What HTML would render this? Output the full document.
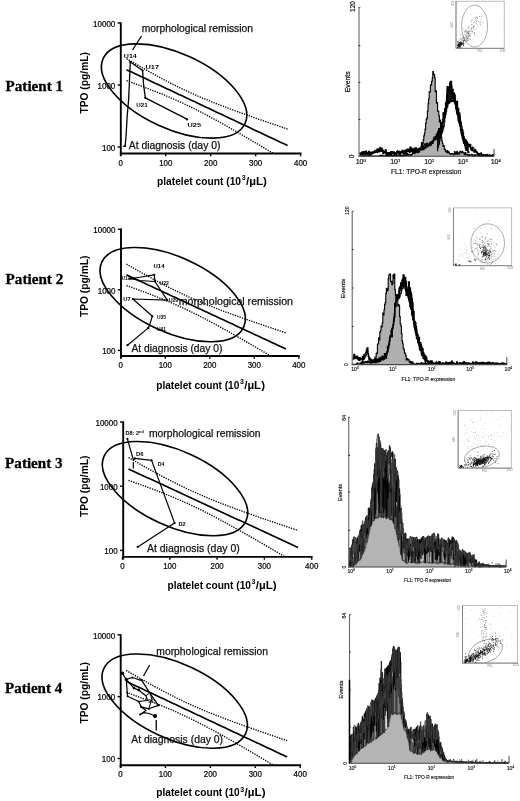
<!DOCTYPE html>
<html><head><meta charset="utf-8"><style>
html,body{margin:0;padding:0;background:#fff;}
svg{display:block;will-change:transform;filter:blur(0.3px);}
</style></head><body>
<svg width="520" height="801" viewBox="0 0 520 801">
<rect width="520" height="801" fill="#fff"/>
<text x="5.60" y="90.60" font-family='"Liberation Serif", serif' font-size="15.3" font-weight="bold" text-anchor="start" fill="#000" textLength="57.4" lengthAdjust="spacingAndGlyphs" stroke="#000" stroke-width="0.3">Patient 1</text>
<text x="5.60" y="283.50" font-family='"Liberation Serif", serif' font-size="15.3" font-weight="bold" text-anchor="start" fill="#000" textLength="57.7" lengthAdjust="spacingAndGlyphs" stroke="#000" stroke-width="0.3">Patient 2</text>
<text x="5.10" y="467.90" font-family='"Liberation Serif", serif' font-size="15.3" font-weight="bold" text-anchor="start" fill="#000" textLength="57.5" lengthAdjust="spacingAndGlyphs" stroke="#000" stroke-width="0.3">Patient 3</text>
<text x="5.10" y="692.60" font-family='"Liberation Serif", serif' font-size="15.3" font-weight="bold" text-anchor="start" fill="#000" textLength="57.1" lengthAdjust="spacingAndGlyphs" stroke="#000" stroke-width="0.3">Patient 4</text>
<line x1="120.80" y1="22.40" x2="120.80" y2="156.10" stroke="#000" stroke-width="1.9" stroke-linecap="butt"/>
<line x1="119.90" y1="153.50" x2="301.50" y2="153.50" stroke="#000" stroke-width="1.9" stroke-linecap="butt"/>
<line x1="117.60" y1="23.00" x2="120.80" y2="23.00" stroke="#000" stroke-width="1.4" stroke-linecap="butt"/>
<text x="115.30" y="26.80" font-family='"Liberation Sans", sans-serif' font-size="8.2" font-weight="normal" text-anchor="end" fill="#000" textLength="22.25" lengthAdjust="spacingAndGlyphs" stroke="#000" stroke-width="0.2">10000</text>
<line x1="117.60" y1="85.00" x2="120.80" y2="85.00" stroke="#000" stroke-width="1.4" stroke-linecap="butt"/>
<text x="115.30" y="88.80" font-family='"Liberation Sans", sans-serif' font-size="8.2" font-weight="normal" text-anchor="end" fill="#000" textLength="17.8" lengthAdjust="spacingAndGlyphs" stroke="#000" stroke-width="0.2">1000</text>
<line x1="117.60" y1="147.00" x2="120.80" y2="147.00" stroke="#000" stroke-width="1.4" stroke-linecap="butt"/>
<text x="115.30" y="150.80" font-family='"Liberation Sans", sans-serif' font-size="8.2" font-weight="normal" text-anchor="end" fill="#000" textLength="13.350000000000001" lengthAdjust="spacingAndGlyphs" stroke="#000" stroke-width="0.2">100</text>
<line x1="120.80" y1="153.50" x2="120.80" y2="156.30" stroke="#000" stroke-width="1.4" stroke-linecap="butt"/>
<text x="120.80" y="165.50" font-family='"Liberation Sans", sans-serif' font-size="8.2" font-weight="normal" text-anchor="middle" fill="#000" textLength="4.4" lengthAdjust="spacingAndGlyphs" stroke="#000" stroke-width="0.2">0</text>
<line x1="165.75" y1="153.50" x2="165.75" y2="156.30" stroke="#000" stroke-width="1.4" stroke-linecap="butt"/>
<text x="165.75" y="165.50" font-family='"Liberation Sans", sans-serif' font-size="8.2" font-weight="normal" text-anchor="middle" fill="#000" textLength="13.200000000000001" lengthAdjust="spacingAndGlyphs" stroke="#000" stroke-width="0.2">100</text>
<line x1="210.70" y1="153.50" x2="210.70" y2="156.30" stroke="#000" stroke-width="1.4" stroke-linecap="butt"/>
<text x="210.70" y="165.50" font-family='"Liberation Sans", sans-serif' font-size="8.2" font-weight="normal" text-anchor="middle" fill="#000" textLength="13.200000000000001" lengthAdjust="spacingAndGlyphs" stroke="#000" stroke-width="0.2">200</text>
<line x1="255.65" y1="153.50" x2="255.65" y2="156.30" stroke="#000" stroke-width="1.4" stroke-linecap="butt"/>
<text x="255.65" y="165.50" font-family='"Liberation Sans", sans-serif' font-size="8.2" font-weight="normal" text-anchor="middle" fill="#000" textLength="13.200000000000001" lengthAdjust="spacingAndGlyphs" stroke="#000" stroke-width="0.2">300</text>
<line x1="300.60" y1="153.50" x2="300.60" y2="156.30" stroke="#000" stroke-width="1.4" stroke-linecap="butt"/>
<text x="300.60" y="165.50" font-family='"Liberation Sans", sans-serif' font-size="8.2" font-weight="normal" text-anchor="middle" fill="#000" textLength="13.200000000000001" lengthAdjust="spacingAndGlyphs" stroke="#000" stroke-width="0.2">400</text>
<text transform="translate(87.50,82.80) rotate(-90)" x="0" y="0" font-family='"Liberation Sans", sans-serif' font-size="10.4" font-weight="bold" text-anchor="middle" textLength="61.5" lengthAdjust="spacingAndGlyphs">TPO (pg/mL)</text>
<text y="185.00" font-family='"Liberation Sans", sans-serif' font-size="10.6" font-weight="bold" fill="#000"><tspan x="157.00" textLength="84.04" lengthAdjust="spacingAndGlyphs">platelet count (10</tspan><tspan x="241.70" font-size="7" dy="-4.6">3</tspan><tspan x="245.99" dy="4.6" textLength="21.01" lengthAdjust="spacingAndGlyphs">/µL)</tspan></text>
<ellipse cx="174.10" cy="91.00" rx="78.0" ry="37.6" transform="rotate(24.6 174.10 91.00)" fill="none" stroke="#000" stroke-width="1.6"/>
<polyline points="126.51,69.69 128.55,70.65 130.59,71.61 132.62,72.57 134.66,73.53 136.70,74.49 138.74,75.45 140.78,76.41 142.82,77.37 144.86,78.33 146.90,79.29 148.93,80.25 150.97,81.21 153.01,82.17 155.05,83.13 157.09,84.09 159.13,85.05 161.17,86.01 163.20,86.97 165.24,87.93 167.28,88.89 169.32,89.85 171.36,90.81 173.40,91.77 175.44,92.73 177.48,93.69 179.51,94.65 181.55,95.61 183.59,96.57 185.63,97.53 187.67,98.49 189.71,99.45 191.75,100.41 193.79,101.37 195.82,102.33 197.86,103.29 199.90,104.25 201.94,105.21 203.98,106.17 206.02,107.13 208.06,108.09 210.09,109.05 212.13,110.01 214.17,110.97 216.21,111.93 218.25,112.89 220.29,113.85 222.33,114.81 224.37,115.77 226.40,116.73 228.44,117.69 230.48,118.65 232.52,119.61 234.56,120.57 236.60,121.53 238.64,122.49 240.67,123.45 242.71,124.41 244.75,125.37 246.79,126.33 248.83,127.29 250.87,128.25 252.91,129.21 254.95,130.17 256.98,131.13 259.02,132.09 261.06,133.05 263.10,134.01 265.14,134.97 267.18,135.93 269.22,136.89 271.26,137.85 273.29,138.81 275.33,139.77 277.37,140.73 279.41,141.69 281.45,142.65 283.49,143.61 285.53,144.57 287.56,145.53" fill="none" stroke="#000" stroke-width="1.65" stroke-linejoin="round"/>
<polyline points="126.51,58.69 128.55,59.88 130.59,61.06 132.62,62.24 134.66,63.42 136.70,64.59 138.74,65.76 140.78,66.92 142.82,68.07 144.86,69.23 146.90,70.37 148.93,71.51 150.97,72.64 153.01,73.77 155.05,74.89 157.09,76.00 159.13,77.11 161.17,78.20 163.20,79.29 165.24,80.36 167.28,81.43 169.32,82.49 171.36,83.53 173.40,84.57 175.44,85.59 177.48,86.60 179.51,87.60 181.55,88.59 183.59,89.56 185.63,90.53 187.67,91.48 189.71,92.41 191.75,93.34 193.79,94.25 195.82,95.15 197.86,96.04 199.90,96.92 201.94,97.79 203.98,98.64 206.02,99.49 208.06,100.33 210.09,101.16 212.13,101.98 214.17,102.79 216.21,103.59 218.25,104.39 220.29,105.18 222.33,105.96 224.37,106.74 226.40,107.51 228.44,108.27 230.48,109.03 232.52,109.79 234.56,110.54 236.60,111.28 238.64,112.03 240.67,112.76 242.71,113.50 244.75,114.23 246.79,114.96 248.83,115.69 250.87,116.41 252.91,117.13 254.95,117.85 256.98,118.56 259.02,119.28 261.06,119.99 263.10,120.70 265.14,121.41 267.18,122.11 269.22,122.82 271.26,123.52 273.29,124.22 275.33,124.92 277.37,125.62 279.41,126.32 281.45,127.01 283.49,127.71 285.53,128.40 287.56,129.10" fill="none" stroke="#000" stroke-width="1.35" stroke-linejoin="round" stroke-dasharray="1.3 1.2"/>
<polyline points="126.51,80.68 128.55,81.41 130.59,82.15 132.62,82.89 134.66,83.63 136.70,84.38 138.74,85.14 140.78,85.90 142.82,86.66 144.86,87.43 146.90,88.20 148.93,88.98 150.97,89.77 153.01,90.56 155.05,91.36 157.09,92.17 159.13,92.99 161.17,93.81 163.20,94.65 165.24,95.49 167.28,96.34 169.32,97.21 171.36,98.08 173.40,98.96 175.44,99.86 177.48,100.77 179.51,101.69 181.55,102.62 183.59,103.57 185.63,104.53 187.67,105.50 189.71,106.48 191.75,107.47 193.79,108.48 195.82,109.50 197.86,110.53 199.90,111.57 201.94,112.62 203.98,113.69 206.02,114.76 208.06,115.84 210.09,116.94 212.13,118.04 214.17,119.14 216.21,120.26 218.25,121.39 220.29,122.52 222.33,123.65 224.37,124.80 226.40,125.95 228.44,127.10 230.48,128.26 232.52,129.43 234.56,130.60 236.60,131.77 238.64,132.95 240.67,134.13 242.71,135.31 244.75,136.50 246.79,137.69 248.83,138.89 250.87,140.08 252.91,141.28 254.95,142.49 256.98,143.69 259.02,144.90 261.06,146.11 263.10,147.32 265.14,148.53 267.18,149.74 269.22,150.96 271.26,152.17 273.29,153.39" fill="none" stroke="#000" stroke-width="1.35" stroke-linejoin="round" stroke-dasharray="1.3 1.2"/>
<text x="141.75" y="31.50" font-family='"Liberation Sans", sans-serif' font-size="10.4" font-weight="normal" text-anchor="start" fill="#111" textLength="111.3" lengthAdjust="spacingAndGlyphs" stroke="#111" stroke-width="0.25">morphological remission</text>
<text x="128.75" y="149.25" font-family='"Liberation Sans", sans-serif' font-size="10.4" font-weight="normal" text-anchor="start" fill="#111" textLength="91.7" lengthAdjust="spacingAndGlyphs" stroke="#111" stroke-width="0.25">At diagnosis (day 0)</text>
<line x1="121.00" y1="228.60" x2="121.00" y2="358.60" stroke="#000" stroke-width="1.9" stroke-linecap="butt"/>
<line x1="120.10" y1="356.00" x2="299.70" y2="356.00" stroke="#000" stroke-width="1.9" stroke-linecap="butt"/>
<line x1="117.80" y1="229.20" x2="121.00" y2="229.20" stroke="#000" stroke-width="1.4" stroke-linecap="butt"/>
<text x="115.50" y="233.00" font-family='"Liberation Sans", sans-serif' font-size="8.2" font-weight="normal" text-anchor="end" fill="#000" textLength="22.25" lengthAdjust="spacingAndGlyphs" stroke="#000" stroke-width="0.2">10000</text>
<line x1="117.80" y1="289.80" x2="121.00" y2="289.80" stroke="#000" stroke-width="1.4" stroke-linecap="butt"/>
<text x="115.50" y="293.60" font-family='"Liberation Sans", sans-serif' font-size="8.2" font-weight="normal" text-anchor="end" fill="#000" textLength="17.8" lengthAdjust="spacingAndGlyphs" stroke="#000" stroke-width="0.2">1000</text>
<line x1="117.80" y1="350.40" x2="121.00" y2="350.40" stroke="#000" stroke-width="1.4" stroke-linecap="butt"/>
<text x="115.50" y="354.20" font-family='"Liberation Sans", sans-serif' font-size="8.2" font-weight="normal" text-anchor="end" fill="#000" textLength="13.350000000000001" lengthAdjust="spacingAndGlyphs" stroke="#000" stroke-width="0.2">100</text>
<line x1="120.80" y1="356.00" x2="120.80" y2="358.80" stroke="#000" stroke-width="1.4" stroke-linecap="butt"/>
<text x="120.80" y="368.00" font-family='"Liberation Sans", sans-serif' font-size="8.2" font-weight="normal" text-anchor="middle" fill="#000" textLength="4.4" lengthAdjust="spacingAndGlyphs" stroke="#000" stroke-width="0.2">0</text>
<line x1="165.30" y1="356.00" x2="165.30" y2="358.80" stroke="#000" stroke-width="1.4" stroke-linecap="butt"/>
<text x="165.30" y="368.00" font-family='"Liberation Sans", sans-serif' font-size="8.2" font-weight="normal" text-anchor="middle" fill="#000" textLength="13.200000000000001" lengthAdjust="spacingAndGlyphs" stroke="#000" stroke-width="0.2">100</text>
<line x1="209.80" y1="356.00" x2="209.80" y2="358.80" stroke="#000" stroke-width="1.4" stroke-linecap="butt"/>
<text x="209.80" y="368.00" font-family='"Liberation Sans", sans-serif' font-size="8.2" font-weight="normal" text-anchor="middle" fill="#000" textLength="13.200000000000001" lengthAdjust="spacingAndGlyphs" stroke="#000" stroke-width="0.2">200</text>
<line x1="254.30" y1="356.00" x2="254.30" y2="358.80" stroke="#000" stroke-width="1.4" stroke-linecap="butt"/>
<text x="254.30" y="368.00" font-family='"Liberation Sans", sans-serif' font-size="8.2" font-weight="normal" text-anchor="middle" fill="#000" textLength="13.200000000000001" lengthAdjust="spacingAndGlyphs" stroke="#000" stroke-width="0.2">300</text>
<line x1="298.80" y1="356.00" x2="298.80" y2="358.80" stroke="#000" stroke-width="1.4" stroke-linecap="butt"/>
<text x="298.80" y="368.00" font-family='"Liberation Sans", sans-serif' font-size="8.2" font-weight="normal" text-anchor="middle" fill="#000" textLength="13.200000000000001" lengthAdjust="spacingAndGlyphs" stroke="#000" stroke-width="0.2">400</text>
<text transform="translate(87.50,286.30) rotate(-90)" x="0" y="0" font-family='"Liberation Sans", sans-serif' font-size="10.4" font-weight="bold" text-anchor="middle" textLength="61.5" lengthAdjust="spacingAndGlyphs">TPO (pg/mL)</text>
<text y="388.50" font-family='"Liberation Sans", sans-serif' font-size="10.6" font-weight="bold" fill="#000"><tspan x="156.25" textLength="83.09" lengthAdjust="spacingAndGlyphs">platelet count (10</tspan><tspan x="239.99" font-size="7" dy="-4.6">3</tspan><tspan x="244.23" dy="4.6" textLength="20.77" lengthAdjust="spacingAndGlyphs">/µL)</tspan></text>
<ellipse cx="172.70" cy="294.60" rx="78.0" ry="37.6" transform="rotate(24.6 172.70 294.60)" fill="none" stroke="#000" stroke-width="1.6"/>
<polyline points="126.45,274.83 128.47,275.77 130.49,276.71 132.51,277.65 134.52,278.59 136.54,279.52 138.56,280.46 140.58,281.40 142.60,282.34 144.62,283.28 146.63,284.22 148.65,285.15 150.67,286.09 152.69,287.03 154.71,287.97 156.73,288.91 158.74,289.85 160.76,290.78 162.78,291.72 164.80,292.66 166.82,293.60 168.84,294.54 170.85,295.48 172.87,296.41 174.89,297.35 176.91,298.29 178.93,299.23 180.94,300.17 182.96,301.11 184.98,302.04 187.00,302.98 189.02,303.92 191.04,304.86 193.05,305.80 195.07,306.74 197.09,307.67 199.11,308.61 201.13,309.55 203.15,310.49 205.16,311.43 207.18,312.37 209.20,313.30 211.22,314.24 213.24,315.18 215.26,316.12 217.27,317.06 219.29,318.00 221.31,318.93 223.33,319.87 225.35,320.81 227.37,321.75 229.38,322.69 231.40,323.62 233.42,324.56 235.44,325.50 237.46,326.44 239.47,327.38 241.49,328.32 243.51,329.25 245.53,330.19 247.55,331.13 249.57,332.07 251.58,333.01 253.60,333.95 255.62,334.88 257.64,335.82 259.66,336.76 261.68,337.70 263.69,338.64 265.71,339.58 267.73,340.51 269.75,341.45 271.77,342.39 273.79,343.33 275.80,344.27 277.82,345.21 279.84,346.14 281.86,347.08 283.88,348.02 285.89,348.96" fill="none" stroke="#000" stroke-width="1.65" stroke-linejoin="round"/>
<polyline points="126.45,264.09 128.47,265.25 130.49,266.40 132.51,267.56 134.52,268.70 136.54,269.85 138.56,270.99 140.58,272.13 142.60,273.26 144.62,274.38 146.63,275.50 148.65,276.62 150.67,277.72 152.69,278.82 154.71,279.92 156.73,281.01 158.74,282.08 160.76,283.15 162.78,284.22 164.80,285.27 166.82,286.31 168.84,287.34 170.85,288.37 172.87,289.38 174.89,290.38 176.91,291.37 178.93,292.34 180.94,293.31 182.96,294.26 184.98,295.20 187.00,296.13 189.02,297.05 191.04,297.95 193.05,298.84 195.07,299.72 197.09,300.59 199.11,301.45 201.13,302.30 203.15,303.14 205.16,303.96 207.18,304.78 209.20,305.59 211.22,306.39 213.24,307.19 215.26,307.97 217.27,308.75 219.29,309.52 221.31,310.29 223.33,311.04 225.35,311.80 227.37,312.55 229.38,313.29 231.40,314.03 233.42,314.76 235.44,315.49 237.46,316.21 239.47,316.94 241.49,317.66 243.51,318.37 245.53,319.08 247.55,319.79 249.57,320.50 251.58,321.20 253.60,321.91 255.62,322.60 257.64,323.30 259.66,324.00 261.68,324.69 263.69,325.38 265.71,326.07 267.73,326.76 269.75,327.45 271.77,328.13 273.79,328.82 275.80,329.50 277.82,330.18 279.84,330.86 281.86,331.54 283.88,332.22 285.89,332.90" fill="none" stroke="#000" stroke-width="1.35" stroke-linejoin="round" stroke-dasharray="1.3 1.2"/>
<polyline points="126.45,285.58 128.47,286.29 130.49,287.01 132.51,287.74 134.52,288.47 136.54,289.20 138.56,289.93 140.58,290.67 142.60,291.42 144.62,292.17 146.63,292.93 148.65,293.69 150.67,294.46 152.69,295.24 154.71,296.02 156.73,296.81 158.74,297.61 160.76,298.41 162.78,299.23 164.80,300.05 166.82,300.89 168.84,301.73 170.85,302.58 172.87,303.45 174.89,304.33 176.91,305.21 178.93,306.11 180.94,307.03 182.96,307.95 184.98,308.89 187.00,309.83 189.02,310.79 191.04,311.77 193.05,312.75 195.07,313.75 197.09,314.75 199.11,315.77 201.13,316.80 203.15,317.84 205.16,318.89 207.18,319.95 209.20,321.01 211.22,322.09 213.24,323.17 215.26,324.27 217.27,325.36 219.29,326.47 221.31,327.58 223.33,328.70 225.35,329.82 227.37,330.95 229.38,332.09 231.40,333.22 233.42,334.37 235.44,335.51 237.46,336.67 239.47,337.82 241.49,338.98 243.51,340.14 245.53,341.30 247.55,342.47 249.57,343.64 251.58,344.81 253.60,345.99 255.62,347.17 257.64,348.34 259.66,349.53 261.68,350.71 263.69,351.89 265.71,353.08 267.73,354.27 269.75,355.46" fill="none" stroke="#000" stroke-width="1.35" stroke-linejoin="round" stroke-dasharray="1.3 1.2"/>
<text x="178.70" y="304.50" font-family='"Liberation Sans", sans-serif' font-size="10.4" font-weight="normal" text-anchor="start" fill="#111" textLength="114.3" lengthAdjust="spacingAndGlyphs" stroke="#111" stroke-width="0.25">morphological remission</text>
<text x="131.50" y="352.00" font-family='"Liberation Sans", sans-serif' font-size="10.4" font-weight="normal" text-anchor="start" fill="#111" textLength="91" lengthAdjust="spacingAndGlyphs" stroke="#111" stroke-width="0.25">At diagnosis (day 0)</text>
<line x1="123.20" y1="421.40" x2="123.20" y2="559.50" stroke="#000" stroke-width="1.9" stroke-linecap="butt"/>
<line x1="122.30" y1="556.90" x2="312.60" y2="556.90" stroke="#000" stroke-width="1.9" stroke-linecap="butt"/>
<line x1="120.00" y1="422.00" x2="123.20" y2="422.00" stroke="#000" stroke-width="1.4" stroke-linecap="butt"/>
<text x="117.70" y="425.80" font-family='"Liberation Sans", sans-serif' font-size="8.2" font-weight="normal" text-anchor="end" fill="#000" textLength="22.25" lengthAdjust="spacingAndGlyphs" stroke="#000" stroke-width="0.2">10000</text>
<line x1="120.00" y1="486.20" x2="123.20" y2="486.20" stroke="#000" stroke-width="1.4" stroke-linecap="butt"/>
<text x="117.70" y="490.00" font-family='"Liberation Sans", sans-serif' font-size="8.2" font-weight="normal" text-anchor="end" fill="#000" textLength="17.8" lengthAdjust="spacingAndGlyphs" stroke="#000" stroke-width="0.2">1000</text>
<line x1="120.00" y1="550.40" x2="123.20" y2="550.40" stroke="#000" stroke-width="1.4" stroke-linecap="butt"/>
<text x="117.70" y="554.20" font-family='"Liberation Sans", sans-serif' font-size="8.2" font-weight="normal" text-anchor="end" fill="#000" textLength="13.350000000000001" lengthAdjust="spacingAndGlyphs" stroke="#000" stroke-width="0.2">100</text>
<line x1="122.50" y1="556.90" x2="122.50" y2="559.70" stroke="#000" stroke-width="1.4" stroke-linecap="butt"/>
<text x="122.50" y="568.90" font-family='"Liberation Sans", sans-serif' font-size="8.2" font-weight="normal" text-anchor="middle" fill="#000" textLength="4.4" lengthAdjust="spacingAndGlyphs" stroke="#000" stroke-width="0.2">0</text>
<line x1="169.80" y1="556.90" x2="169.80" y2="559.70" stroke="#000" stroke-width="1.4" stroke-linecap="butt"/>
<text x="169.80" y="568.90" font-family='"Liberation Sans", sans-serif' font-size="8.2" font-weight="normal" text-anchor="middle" fill="#000" textLength="13.200000000000001" lengthAdjust="spacingAndGlyphs" stroke="#000" stroke-width="0.2">100</text>
<line x1="217.10" y1="556.90" x2="217.10" y2="559.70" stroke="#000" stroke-width="1.4" stroke-linecap="butt"/>
<text x="217.10" y="568.90" font-family='"Liberation Sans", sans-serif' font-size="8.2" font-weight="normal" text-anchor="middle" fill="#000" textLength="13.200000000000001" lengthAdjust="spacingAndGlyphs" stroke="#000" stroke-width="0.2">200</text>
<line x1="264.40" y1="556.90" x2="264.40" y2="559.70" stroke="#000" stroke-width="1.4" stroke-linecap="butt"/>
<text x="264.40" y="568.90" font-family='"Liberation Sans", sans-serif' font-size="8.2" font-weight="normal" text-anchor="middle" fill="#000" textLength="13.200000000000001" lengthAdjust="spacingAndGlyphs" stroke="#000" stroke-width="0.2">300</text>
<line x1="311.70" y1="556.90" x2="311.70" y2="559.70" stroke="#000" stroke-width="1.4" stroke-linecap="butt"/>
<text x="311.70" y="568.90" font-family='"Liberation Sans", sans-serif' font-size="8.2" font-weight="normal" text-anchor="middle" fill="#000" textLength="13.200000000000001" lengthAdjust="spacingAndGlyphs" stroke="#000" stroke-width="0.2">400</text>
<text transform="translate(87.50,486.30) rotate(-90)" x="0" y="0" font-family='"Liberation Sans", sans-serif' font-size="10.4" font-weight="bold" text-anchor="middle" textLength="61.5" lengthAdjust="spacingAndGlyphs">TPO (pg/mL)</text>
<text y="588.60" font-family='"Liberation Sans", sans-serif' font-size="10.6" font-weight="bold" fill="#000"><tspan x="167.50" textLength="83.43" lengthAdjust="spacingAndGlyphs">platelet count (10</tspan><tspan x="251.58" font-size="7" dy="-4.6">3</tspan><tspan x="255.84" dy="4.6" textLength="20.86" lengthAdjust="spacingAndGlyphs">/µL)</tspan></text>
<ellipse cx="175.00" cy="488.60" rx="78.0" ry="37.6" transform="rotate(24.6 175.00 488.60)" fill="none" stroke="#000" stroke-width="1.6"/>
<polyline points="128.51,468.93 130.65,469.92 132.80,470.92 134.94,471.91 137.09,472.91 139.23,473.90 141.38,474.89 143.52,475.89 145.67,476.88 147.81,477.88 149.96,478.87 152.11,479.87 154.25,480.86 156.40,481.85 158.54,482.85 160.69,483.84 162.83,484.84 164.98,485.83 167.12,486.82 169.27,487.82 171.41,488.81 173.56,489.81 175.70,490.80 177.85,491.79 179.99,492.79 182.14,493.78 184.28,494.78 186.43,495.77 188.57,496.76 190.72,497.76 192.87,498.75 195.01,499.75 197.16,500.74 199.30,501.73 201.45,502.73 203.59,503.72 205.74,504.72 207.88,505.71 210.03,506.70 212.17,507.70 214.32,508.69 216.46,509.69 218.61,510.68 220.75,511.68 222.90,512.67 225.04,513.66 227.19,514.66 229.33,515.65 231.48,516.65 233.63,517.64 235.77,518.63 237.92,519.63 240.06,520.62 242.21,521.62 244.35,522.61 246.50,523.60 248.64,524.60 250.79,525.59 252.93,526.59 255.08,527.58 257.22,528.57 259.37,529.57 261.51,530.56 263.66,531.56 265.80,532.55 267.95,533.54 270.09,534.54 272.24,535.53 274.39,536.53 276.53,537.52 278.68,538.52 280.82,539.51 282.97,540.50 285.11,541.50 287.26,542.49 289.40,543.49 291.55,544.48 293.69,545.47 295.84,546.47 297.98,547.46" fill="none" stroke="#000" stroke-width="1.65" stroke-linejoin="round"/>
<polyline points="128.51,457.55 130.65,458.78 132.80,460.00 134.94,461.22 137.09,462.44 139.23,463.65 141.38,464.86 143.52,466.06 145.67,467.26 147.81,468.45 149.96,469.64 152.11,470.82 154.25,471.99 156.40,473.16 158.54,474.32 160.69,475.47 162.83,476.61 164.98,477.75 167.12,478.87 169.27,479.99 171.41,481.09 173.56,482.19 175.70,483.27 177.85,484.34 179.99,485.40 182.14,486.45 184.28,487.48 186.43,488.50 188.57,489.51 190.72,490.51 192.87,491.49 195.01,492.46 197.16,493.42 199.30,494.37 201.45,495.30 203.59,496.22 205.74,497.13 207.88,498.03 210.03,498.92 212.17,499.79 214.32,500.66 216.46,501.52 218.61,502.37 220.75,503.21 222.90,504.04 225.04,504.86 227.19,505.68 229.33,506.49 231.48,507.29 233.63,508.09 235.77,508.88 237.92,509.67 240.06,510.45 242.21,511.23 244.35,512.00 246.50,512.77 248.64,513.54 250.79,514.30 252.93,515.06 255.08,515.81 257.22,516.56 259.37,517.31 261.51,518.06 263.66,518.80 265.80,519.54 267.95,520.28 270.09,521.02 272.24,521.75 274.39,522.48 276.53,523.22 278.68,523.95 280.82,524.67 282.97,525.40 285.11,526.12 287.26,526.85 289.40,527.57 291.55,528.29 293.69,529.01 295.84,529.73 297.98,530.45" fill="none" stroke="#000" stroke-width="1.35" stroke-linejoin="round" stroke-dasharray="1.3 1.2"/>
<polyline points="128.51,480.31 130.65,481.07 132.80,481.84 134.94,482.60 137.09,483.37 139.23,484.15 141.38,484.93 143.52,485.71 145.67,486.50 147.81,487.30 149.96,488.10 152.11,488.91 154.25,489.72 156.40,490.55 158.54,491.37 160.69,492.21 162.83,493.06 164.98,493.91 167.12,494.77 169.27,495.65 171.41,496.53 173.56,497.43 175.70,498.33 177.85,499.25 179.99,500.18 182.14,501.12 184.28,502.07 186.43,503.04 188.57,504.02 190.72,505.01 192.87,506.01 195.01,507.03 197.16,508.06 199.30,509.10 201.45,510.16 203.59,511.22 205.74,512.30 207.88,513.39 210.03,514.49 212.17,515.60 214.32,516.73 216.46,517.86 218.61,519.00 220.75,520.14 222.90,521.30 225.04,522.46 227.19,523.64 229.33,524.81 231.48,526.00 233.63,527.19 235.77,528.38 237.92,529.58 240.06,530.79 242.21,532.00 244.35,533.22 246.50,534.44 248.64,535.66 250.79,536.89 252.93,538.12 255.08,539.35 257.22,540.59 259.37,541.83 261.51,543.07 263.66,544.31 265.80,545.56 267.95,546.81 270.09,548.06 272.24,549.31 274.39,550.57 276.53,551.83 278.68,553.09 280.82,554.35 282.97,555.61 285.11,556.87" fill="none" stroke="#000" stroke-width="1.35" stroke-linejoin="round" stroke-dasharray="1.3 1.2"/>
<text x="148.90" y="436.80" font-family='"Liberation Sans", sans-serif' font-size="10.4" font-weight="normal" text-anchor="start" fill="#111" textLength="111.6" lengthAdjust="spacingAndGlyphs" stroke="#111" stroke-width="0.25">morphological remission</text>
<text x="146.90" y="551.50" font-family='"Liberation Sans", sans-serif' font-size="10.4" font-weight="normal" text-anchor="start" fill="#111" textLength="92.9" lengthAdjust="spacingAndGlyphs" stroke="#111" stroke-width="0.25">At diagnosis (day 0)</text>
<line x1="120.70" y1="634.20" x2="120.70" y2="767.80" stroke="#000" stroke-width="1.9" stroke-linecap="butt"/>
<line x1="119.80" y1="765.20" x2="301.10" y2="765.20" stroke="#000" stroke-width="1.9" stroke-linecap="butt"/>
<line x1="117.50" y1="634.80" x2="120.70" y2="634.80" stroke="#000" stroke-width="1.4" stroke-linecap="butt"/>
<text x="115.20" y="638.60" font-family='"Liberation Sans", sans-serif' font-size="8.2" font-weight="normal" text-anchor="end" fill="#000" textLength="22.25" lengthAdjust="spacingAndGlyphs" stroke="#000" stroke-width="0.2">10000</text>
<line x1="117.50" y1="696.65" x2="120.70" y2="696.65" stroke="#000" stroke-width="1.4" stroke-linecap="butt"/>
<text x="115.20" y="700.45" font-family='"Liberation Sans", sans-serif' font-size="8.2" font-weight="normal" text-anchor="end" fill="#000" textLength="17.8" lengthAdjust="spacingAndGlyphs" stroke="#000" stroke-width="0.2">1000</text>
<line x1="117.50" y1="758.50" x2="120.70" y2="758.50" stroke="#000" stroke-width="1.4" stroke-linecap="butt"/>
<text x="115.20" y="762.30" font-family='"Liberation Sans", sans-serif' font-size="8.2" font-weight="normal" text-anchor="end" fill="#000" textLength="13.350000000000001" lengthAdjust="spacingAndGlyphs" stroke="#000" stroke-width="0.2">100</text>
<line x1="120.50" y1="765.20" x2="120.50" y2="768.00" stroke="#000" stroke-width="1.4" stroke-linecap="butt"/>
<text x="120.50" y="777.20" font-family='"Liberation Sans", sans-serif' font-size="8.2" font-weight="normal" text-anchor="middle" fill="#000" textLength="4.4" lengthAdjust="spacingAndGlyphs" stroke="#000" stroke-width="0.2">0</text>
<line x1="165.43" y1="765.20" x2="165.43" y2="768.00" stroke="#000" stroke-width="1.4" stroke-linecap="butt"/>
<text x="165.43" y="777.20" font-family='"Liberation Sans", sans-serif' font-size="8.2" font-weight="normal" text-anchor="middle" fill="#000" textLength="13.200000000000001" lengthAdjust="spacingAndGlyphs" stroke="#000" stroke-width="0.2">100</text>
<line x1="210.35" y1="765.20" x2="210.35" y2="768.00" stroke="#000" stroke-width="1.4" stroke-linecap="butt"/>
<text x="210.35" y="777.20" font-family='"Liberation Sans", sans-serif' font-size="8.2" font-weight="normal" text-anchor="middle" fill="#000" textLength="13.200000000000001" lengthAdjust="spacingAndGlyphs" stroke="#000" stroke-width="0.2">200</text>
<line x1="255.27" y1="765.20" x2="255.27" y2="768.00" stroke="#000" stroke-width="1.4" stroke-linecap="butt"/>
<text x="255.27" y="777.20" font-family='"Liberation Sans", sans-serif' font-size="8.2" font-weight="normal" text-anchor="middle" fill="#000" textLength="13.200000000000001" lengthAdjust="spacingAndGlyphs" stroke="#000" stroke-width="0.2">300</text>
<line x1="300.20" y1="765.20" x2="300.20" y2="768.00" stroke="#000" stroke-width="1.4" stroke-linecap="butt"/>
<text x="300.20" y="777.20" font-family='"Liberation Sans", sans-serif' font-size="8.2" font-weight="normal" text-anchor="middle" fill="#000" textLength="13.200000000000001" lengthAdjust="spacingAndGlyphs" stroke="#000" stroke-width="0.2">400</text>
<text transform="translate(87.50,692.80) rotate(-90)" x="0" y="0" font-family='"Liberation Sans", sans-serif' font-size="10.4" font-weight="bold" text-anchor="middle" textLength="61.5" lengthAdjust="spacingAndGlyphs">TPO (pg/mL)</text>
<text y="796.25" font-family='"Liberation Sans", sans-serif' font-size="10.6" font-weight="bold" fill="#000"><tspan x="156.25" textLength="83.47" lengthAdjust="spacingAndGlyphs">platelet count (10</tspan><tspan x="240.37" font-size="7" dy="-4.6">3</tspan><tspan x="244.63" dy="4.6" textLength="20.87" lengthAdjust="spacingAndGlyphs">/µL)</tspan></text>
<ellipse cx="174.70" cy="701.10" rx="78.0" ry="37.6" transform="rotate(24.6 174.70 701.10)" fill="none" stroke="#000" stroke-width="1.6"/>
<polyline points="126.21,681.37 128.24,682.33 130.28,683.29 132.32,684.25 134.36,685.20 136.39,686.16 138.43,687.12 140.47,688.08 142.51,689.03 144.54,689.99 146.58,690.95 148.62,691.91 150.66,692.87 152.69,693.82 154.73,694.78 156.77,695.74 158.81,696.70 160.84,697.65 162.88,698.61 164.92,699.57 166.96,700.53 168.99,701.48 171.03,702.44 173.07,703.40 175.11,704.36 177.14,705.32 179.18,706.27 181.22,707.23 183.26,708.19 185.29,709.15 187.33,710.10 189.37,711.06 191.41,712.02 193.44,712.98 195.48,713.93 197.52,714.89 199.56,715.85 201.59,716.81 203.63,717.77 205.67,718.72 207.71,719.68 209.74,720.64 211.78,721.60 213.82,722.55 215.86,723.51 217.90,724.47 219.93,725.43 221.97,726.38 224.01,727.34 226.05,728.30 228.08,729.26 230.12,730.22 232.16,731.17 234.20,732.13 236.23,733.09 238.27,734.05 240.31,735.00 242.35,735.96 244.38,736.92 246.42,737.88 248.46,738.83 250.50,739.79 252.53,740.75 254.57,741.71 256.61,742.66 258.65,743.62 260.68,744.58 262.72,745.54 264.76,746.50 266.80,747.45 268.83,748.41 270.87,749.37 272.91,750.33 274.95,751.28 276.98,752.24 279.02,753.20 281.06,754.16 283.10,755.11 285.13,756.07 287.17,757.03" fill="none" stroke="#000" stroke-width="1.65" stroke-linejoin="round"/>
<polyline points="126.21,670.41 128.24,671.59 130.28,672.77 132.32,673.95 134.36,675.12 136.39,676.29 138.43,677.45 140.47,678.61 142.51,679.76 144.54,680.91 146.58,682.06 148.62,683.19 150.66,684.32 152.69,685.45 154.73,686.57 156.77,687.67 158.81,688.78 160.84,689.87 162.88,690.95 164.92,692.03 166.96,693.09 168.99,694.14 171.03,695.19 173.07,696.22 175.11,697.24 177.14,698.25 179.18,699.25 181.22,700.23 183.26,701.20 185.29,702.16 187.33,703.11 189.37,704.04 191.41,704.97 193.44,705.88 195.48,706.78 197.52,707.67 199.56,708.54 201.59,709.41 203.63,710.26 205.67,711.11 207.71,711.94 209.74,712.77 211.78,713.59 213.82,714.40 215.86,715.20 217.90,715.99 219.93,716.78 221.97,717.56 224.01,718.33 226.05,719.10 228.08,719.86 230.12,720.62 232.16,721.38 234.20,722.12 236.23,722.87 238.27,723.61 240.31,724.35 242.35,725.08 244.38,725.81 246.42,726.54 248.46,727.26 250.50,727.98 252.53,728.70 254.57,729.42 256.61,730.13 258.65,730.84 260.68,731.55 262.72,732.26 264.76,732.97 266.80,733.67 268.83,734.37 270.87,735.08 272.91,735.78 274.95,736.47 276.98,737.17 279.02,737.87 281.06,738.56 283.10,739.26 285.13,739.95 287.17,740.64" fill="none" stroke="#000" stroke-width="1.35" stroke-linejoin="round" stroke-dasharray="1.3 1.2"/>
<polyline points="126.21,692.34 128.24,693.07 130.28,693.81 132.32,694.54 134.36,695.29 136.39,696.04 138.43,696.79 140.47,697.54 142.51,698.30 144.54,699.07 146.58,699.84 148.62,700.62 150.66,701.41 152.69,702.20 154.73,703.00 156.77,703.80 158.81,704.62 160.84,705.44 162.88,706.27 164.92,707.11 166.96,707.96 168.99,708.83 171.03,709.70 173.07,710.58 175.11,711.48 177.14,712.38 179.18,713.30 181.22,714.23 183.26,715.17 185.29,716.13 187.33,717.10 189.37,718.08 191.41,719.07 193.44,720.07 195.48,721.09 197.52,722.12 199.56,723.16 201.59,724.21 203.63,725.27 205.67,726.34 207.71,727.42 209.74,728.51 211.78,729.61 213.82,730.71 215.86,731.83 217.90,732.95 219.93,734.08 221.97,735.21 224.01,736.35 226.05,737.50 228.08,738.65 230.12,739.81 232.16,740.97 234.20,742.14 236.23,743.31 238.27,744.48 240.31,745.66 242.35,746.84 244.38,748.03 246.42,749.22 248.46,750.41 250.50,751.60 252.53,752.80 254.57,754.00 256.61,755.20 258.65,756.40 260.68,757.61 262.72,758.81 264.76,760.02 266.80,761.23 268.83,762.45 270.87,763.66 272.91,764.88" fill="none" stroke="#000" stroke-width="1.35" stroke-linejoin="round" stroke-dasharray="1.3 1.2"/>
<text x="156.25" y="654.60" font-family='"Liberation Sans", sans-serif' font-size="10.4" font-weight="normal" text-anchor="start" fill="#111" textLength="111.75" lengthAdjust="spacingAndGlyphs" stroke="#111" stroke-width="0.25">morphological remission</text>
<text x="131.25" y="743.20" font-family='"Liberation Sans", sans-serif' font-size="10.4" font-weight="normal" text-anchor="start" fill="#111" textLength="91.75" lengthAdjust="spacingAndGlyphs" stroke="#111" stroke-width="0.25">At diagnosis (day 0)</text>
<polyline points="125.10,146.00 126.00,136.70 127.20,116.00 128.60,100.00 129.50,80.00 130.30,62.00 142.60,70.50 143.40,82.80 145.30,97.80 187.00,119.20" fill="none" stroke="#000" stroke-width="1.3" stroke-linejoin="round"/>
<line x1="123.00" y1="146.20" x2="125.50" y2="146.20" stroke="#000" stroke-width="1.2" stroke-linecap="butt"/>
<line x1="141.50" y1="36.00" x2="132.50" y2="50.00" stroke="#000" stroke-width="1.3" stroke-linecap="butt"/>
<text x="123.80" y="57.60" font-family='"Liberation Sans", sans-serif' font-size="6" font-weight="bold" text-anchor="start" fill="#000" textLength="13" lengthAdjust="spacingAndGlyphs" >U14</text>
<text x="145.50" y="68.70" font-family='"Liberation Sans", sans-serif' font-size="6" font-weight="bold" text-anchor="start" fill="#000" textLength="13.5" lengthAdjust="spacingAndGlyphs" >U17</text>
<text x="136.30" y="107.00" font-family='"Liberation Sans", sans-serif' font-size="6" font-weight="bold" text-anchor="start" fill="#000" textLength="11.5" lengthAdjust="spacingAndGlyphs" >U21</text>
<text x="187.50" y="127.30" font-family='"Liberation Sans", sans-serif' font-size="6" font-weight="bold" text-anchor="start" fill="#000" textLength="13.5" lengthAdjust="spacingAndGlyphs" >U25</text>
<circle cx="130.3" cy="62.0" r="1.1" fill="#000"/>
<circle cx="142.6" cy="70.5" r="1.1" fill="#000"/>
<circle cx="145.3" cy="97.8" r="1.1" fill="#000"/>
<circle cx="187" cy="119.4" r="1.1" fill="#000"/>
<circle cx="125.1" cy="146.0" r="1.1" fill="#000"/>
<polyline points="130.10,278.70 138.00,277.50 154.30,274.80 154.90,281.50 140.00,280.50 130.10,278.70" fill="none" stroke="#000" stroke-width="1.2" stroke-linejoin="round"/>
<polyline points="154.90,281.50 167.30,300.20 132.90,299.00 152.30,316.30 149.40,325.60 148.30,327.90 127.50,345.20" fill="none" stroke="#000" stroke-width="1.2" stroke-linejoin="round"/>
<text x="121.80" y="280.20" font-family='"Liberation Sans", sans-serif' font-size="5.5" font-weight="bold" text-anchor="start" fill="#000" textLength="8.2" lengthAdjust="spacingAndGlyphs" >U12</text>
<text x="153.50" y="268.40" font-family='"Liberation Sans", sans-serif' font-size="5.5" font-weight="bold" text-anchor="start" fill="#000" textLength="11" lengthAdjust="spacingAndGlyphs" >U14</text>
<text x="159.50" y="284.80" font-family='"Liberation Sans", sans-serif' font-size="5.5" font-weight="bold" text-anchor="start" fill="#000" textLength="9.5" lengthAdjust="spacingAndGlyphs" >U22</text>
<text x="123.20" y="300.70" font-family='"Liberation Sans", sans-serif' font-size="5.5" font-weight="bold" text-anchor="start" fill="#000" textLength="7.5" lengthAdjust="spacingAndGlyphs" >U7</text>
<text x="169.00" y="302.30" font-family='"Liberation Sans", sans-serif' font-size="5.5" font-weight="bold" text-anchor="start" fill="#000" textLength="9" lengthAdjust="spacingAndGlyphs" >U29</text>
<text x="157.00" y="319.00" font-family='"Liberation Sans", sans-serif' font-size="5.5" font-weight="bold" text-anchor="start" fill="#000" textLength="9" lengthAdjust="spacingAndGlyphs" >U35</text>
<text x="156.90" y="331.00" font-family='"Liberation Sans", sans-serif' font-size="5.5" font-weight="bold" text-anchor="start" fill="#000" textLength="9" lengthAdjust="spacingAndGlyphs" >U41</text>
<circle cx="130.1" cy="278.7" r="1.1" fill="#000"/>
<circle cx="154.3" cy="274.8" r="1.1" fill="#000"/>
<circle cx="154.9" cy="281.5" r="1.1" fill="#000"/>
<circle cx="132.9" cy="299.0" r="1.1" fill="#000"/>
<circle cx="167.3" cy="300.2" r="1.1" fill="#000"/>
<circle cx="152.3" cy="316.3" r="1.1" fill="#000"/>
<circle cx="148.3" cy="327.9" r="1.1" fill="#000"/>
<circle cx="127.5" cy="345.2" r="1.1" fill="#000"/>
<polyline points="127.40,438.80 133.50,460.40 134.80,458.40 151.60,460.40 174.60,523.10 137.70,546.90" fill="none" stroke="#000" stroke-width="1.2" stroke-linejoin="round"/>
<line x1="133.30" y1="462.00" x2="133.30" y2="468.50" stroke="#000" stroke-width="1.2" stroke-linecap="butt"/>
<text x="125.40" y="434.80" font-family='"Liberation Sans", sans-serif' font-size="5.6" font-weight="bold" text-anchor="start" fill="#000" >D8: 2<tspan font-size="3.8" dy="-1.6">nd</tspan></text>
<text x="136.00" y="455.60" font-family='"Liberation Sans", sans-serif' font-size="5.6" font-weight="bold" text-anchor="start" fill="#000" textLength="7.5" lengthAdjust="spacingAndGlyphs" >D6</text>
<text x="157.70" y="465.70" font-family='"Liberation Sans", sans-serif' font-size="5.6" font-weight="bold" text-anchor="start" fill="#000" textLength="6.7" lengthAdjust="spacingAndGlyphs" >D4</text>
<text x="178.50" y="525.80" font-family='"Liberation Sans", sans-serif' font-size="5.6" font-weight="bold" text-anchor="start" fill="#000" textLength="7" lengthAdjust="spacingAndGlyphs" >D2</text>
<circle cx="127.4" cy="438.8" r="1.1" fill="#000"/>
<circle cx="134.8" cy="458.4" r="1.1" fill="#000"/>
<circle cx="151.6" cy="460.4" r="1.1" fill="#000"/>
<circle cx="174.6" cy="523.1" r="1.1" fill="#000"/>
<circle cx="137.7" cy="546.9" r="1.1" fill="#000"/>
<polyline points="149.70,665.00 143.50,676.00" fill="none" stroke="#000" stroke-width="1.3" stroke-linejoin="round"/>
<polyline points="122.30,673.20 126.20,679.40 132.40,677.50 142.50,680.90 141.10,679.40 149.70,692.90 158.40,705.40 148.80,708.80 141.10,706.80 138.70,701.50 127.60,696.30 126.20,679.40" fill="none" stroke="#000" stroke-width="1.2" stroke-linejoin="round"/>
<polyline points="126.20,679.40 133.90,688.10 138.70,690.00 145.90,695.80 147.50,700.50 138.70,701.50" fill="none" stroke="#000" stroke-width="1.2" stroke-linejoin="round"/>
<polyline points="145.90,695.80 149.70,692.90 152.00,699.00 148.80,708.80" fill="none" stroke="#000" stroke-width="1.0" stroke-linejoin="round"/>
<polyline points="141.10,706.80 146.00,710.50 140.10,714.50 144.00,712.60 149.00,713.50 155.00,716.00" fill="none" stroke="#000" stroke-width="1.2" stroke-linejoin="round"/>
<circle cx="122.3" cy="673.2" r="1.8" fill="#000"/>
<circle cx="126.2" cy="679.4" r="1.6" fill="#000"/>
<circle cx="133.9" cy="688.1" r="1.4" fill="#000"/>
<circle cx="138.7" cy="690" r="1.4" fill="#000"/>
<circle cx="158.4" cy="705.4" r="1.1" fill="#000"/>
<circle cx="138.7" cy="701.5" r="1.1" fill="#000"/>
<circle cx="141.1" cy="706.8" r="1.1" fill="#000"/>
<circle cx="140.1" cy="714.5" r="1.1" fill="#000"/>
<circle cx="155" cy="716" r="2.1" fill="#000"/>
<circle cx="132.4" cy="677.5" r="1.0" fill="#000"/>
<circle cx="127.6" cy="696.3" r="1.0" fill="#000"/>
<circle cx="148.8" cy="708.8" r="1.0" fill="#000"/>
<text x="148.60" y="702.60" font-family='"Liberation Sans", sans-serif' font-size="4.5" font-weight="bold" text-anchor="start" fill="#000" textLength="6.5" lengthAdjust="spacingAndGlyphs" >D??</text>
<line x1="156.25" y1="720.00" x2="156.25" y2="730.50" stroke="#000" stroke-width="1.3" stroke-linecap="butt"/>
<path d="M359.60,156.30 L359.60,156.00 L360.20,156.00 L360.20,156.00 L360.80,156.00 L360.80,156.00 L361.40,156.00 L361.40,156.00 L362.00,156.00 L362.00,156.00 L362.60,156.00 L362.60,156.00 L363.20,156.00 L363.20,156.00 L363.80,156.00 L363.80,155.28 L364.40,155.28 L364.40,156.00 L365.00,156.00 L365.00,156.00 L365.60,156.00 L365.60,155.85 L366.20,155.85 L366.20,155.94 L366.80,155.94 L366.80,156.00 L367.40,156.00 L367.40,156.00 L368.00,156.00 L368.00,156.00 L368.60,156.00 L368.60,155.69 L369.20,155.69 L369.20,156.00 L369.80,156.00 L369.80,156.00 L370.40,156.00 L370.40,156.00 L371.00,156.00 L371.00,156.00 L371.60,156.00 L371.60,156.00 L372.20,156.00 L372.20,156.00 L372.80,156.00 L372.80,156.00 L373.40,156.00 L373.40,155.94 L374.00,155.94 L374.00,156.00 L374.60,156.00 L374.60,156.00 L375.20,156.00 L375.20,156.00 L375.80,156.00 L375.80,156.00 L376.40,156.00 L376.40,156.00 L377.00,156.00 L377.00,156.00 L377.60,156.00 L377.60,156.00 L378.20,156.00 L378.20,156.00 L378.80,156.00 L378.80,156.00 L379.40,156.00 L379.40,156.00 L380.00,156.00 L380.00,155.29 L380.60,155.29 L380.60,156.00 L381.20,156.00 L381.20,156.00 L381.80,156.00 L381.80,155.38 L382.40,155.38 L382.40,156.00 L383.00,156.00 L383.00,156.00 L383.60,156.00 L383.60,155.91 L384.20,155.91 L384.20,155.93 L384.80,155.93 L384.80,156.00 L385.40,156.00 L385.40,155.90 L386.00,155.90 L386.00,154.94 L386.60,154.94 L386.60,156.00 L387.20,156.00 L387.20,155.28 L387.80,155.28 L387.80,155.82 L388.40,155.82 L388.40,156.00 L389.00,156.00 L389.00,154.38 L389.60,154.38 L389.60,155.30 L390.20,155.30 L390.20,156.00 L390.80,156.00 L390.80,155.79 L391.40,155.79 L391.40,155.39 L392.00,155.39 L392.00,155.96 L392.60,155.96 L392.60,155.28 L393.20,155.28 L393.20,155.84 L393.80,155.84 L393.80,155.26 L394.40,155.26 L394.40,154.64 L395.00,154.64 L395.00,156.00 L395.60,156.00 L395.60,155.57 L396.20,155.57 L396.20,156.00 L396.80,156.00 L396.80,155.59 L397.40,155.59 L397.40,156.00 L398.00,156.00 L398.00,156.00 L398.60,156.00 L398.60,155.80 L399.20,155.80 L399.20,154.91 L399.80,154.91 L399.80,154.69 L400.40,154.69 L400.40,156.00 L401.00,156.00 L401.00,156.00 L401.60,156.00 L401.60,155.01 L402.20,155.01 L402.20,156.00 L402.80,156.00 L402.80,155.83 L403.40,155.83 L403.40,155.48 L404.00,155.48 L404.00,154.30 L404.60,154.30 L404.60,154.71 L405.20,154.71 L405.20,155.50 L405.80,155.50 L405.80,155.46 L406.40,155.46 L406.40,155.29 L407.00,155.29 L407.00,153.66 L407.60,153.66 L407.60,155.28 L408.20,155.28 L408.20,155.08 L408.80,155.08 L408.80,154.39 L409.40,154.39 L409.40,154.71 L410.00,154.71 L410.00,154.68 L410.60,154.68 L410.60,155.41 L411.20,155.41 L411.20,154.27 L411.80,154.27 L411.80,154.53 L412.40,154.53 L412.40,152.79 L413.00,152.79 L413.00,153.05 L413.60,153.05 L413.60,153.47 L414.20,153.47 L414.20,152.47 L414.80,152.47 L414.80,153.18 L415.40,153.18 L415.40,151.36 L416.00,151.36 L416.00,152.10 L416.60,152.10 L416.60,151.03 L417.20,151.03 L417.20,152.70 L417.80,152.70 L417.80,150.35 L418.40,150.35 L418.40,152.20 L419.00,152.20 L419.00,152.01 L419.60,152.01 L419.60,149.14 L420.20,149.14 L420.20,149.02 L420.80,149.02 L420.80,146.60 L421.40,146.60 L421.40,142.54 L422.00,142.54 L422.00,145.45 L422.60,145.45 L422.60,143.63 L423.20,143.63 L423.20,139.89 L423.80,139.89 L423.80,135.90 L424.40,135.90 L424.40,133.04 L425.00,133.04 L425.00,129.13 L425.60,129.13 L425.60,123.37 L426.20,123.37 L426.20,119.32 L426.80,119.32 L426.80,118.09 L427.40,118.09 L427.40,111.11 L428.00,111.11 L428.00,103.72 L428.60,103.72 L428.60,98.81 L429.20,98.81 L429.20,91.71 L429.80,91.71 L429.80,91.97 L430.40,91.97 L430.40,85.16 L431.00,85.16 L431.00,84.75 L431.60,84.75 L431.60,81.41 L432.20,81.41 L432.20,77.94 L432.80,77.94 L432.80,71.59 L433.40,71.59 L433.40,74.21 L434.00,74.21 L434.00,74.50 L434.60,74.50 L434.60,78.03 L435.20,78.03 L435.20,91.67 L435.80,91.67 L435.80,90.78 L436.40,90.78 L436.40,103.08 L437.00,103.08 L437.00,102.47 L437.60,102.47 L437.60,110.91 L438.20,110.91 L438.20,111.43 L438.80,111.43 L438.80,115.88 L439.40,115.88 L439.40,122.05 L440.00,122.05 L440.00,120.03 L440.60,120.03 L440.60,126.95 L441.20,126.95 L441.20,137.36 L441.80,137.36 L441.80,141.02 L442.40,141.02 L442.40,143.33 L443.00,143.33 L443.00,146.54 L443.60,146.54 L443.60,145.45 L444.20,145.45 L444.20,148.99 L444.80,148.99 L444.80,149.44 L445.40,149.44 L445.40,151.13 L446.00,151.13 L446.00,151.52 L446.60,151.52 L446.60,152.80 L447.20,152.80 L447.20,150.49 L447.80,150.49 L447.80,152.50 L448.40,152.50 L448.40,151.73 L449.00,151.73 L449.00,153.06 L449.60,153.06 L449.60,154.04 L450.20,154.04 L450.20,153.84 L450.80,153.84 L450.80,154.15 L451.40,154.15 L451.40,153.59 L452.00,153.59 L452.00,153.93 L452.60,153.93 L452.60,153.81 L453.20,153.81 L453.20,154.82 L453.80,154.82 L453.80,154.17 L454.40,154.17 L454.40,151.58 L455.00,151.58 L455.00,153.85 L455.60,153.85 L455.60,154.15 L456.20,154.15 L456.20,152.62 L456.80,152.62 L456.80,151.38 L457.40,151.38 L457.40,154.21 L458.00,154.21 L458.00,152.74 L458.60,152.74 L458.60,153.02 L459.20,153.02 L459.20,154.07 L459.80,154.07 L459.80,151.22 L460.40,151.22 L460.40,151.92 L461.00,151.92 L461.00,151.74 L461.60,151.74 L461.60,152.63 L462.20,152.63 L462.20,151.42 L462.80,151.42 L462.80,152.76 L463.40,152.76 L463.40,152.68 L464.00,152.68 L464.00,154.10 L464.60,154.10 L464.60,154.62 L465.20,154.62 L465.20,152.53 L465.80,152.53 L465.80,154.68 L466.40,154.68 L466.40,154.22 L467.00,154.22 L467.00,154.67 L467.60,154.67 L467.60,155.15 L468.20,155.15 L468.20,155.32 L468.80,155.32 L468.80,154.42 L469.40,154.42 L469.40,155.33 L470.00,155.33 L470.00,155.28 L470.60,155.28 L470.60,155.22 L471.20,155.22 L471.20,154.32 L471.80,154.32 L471.80,154.81 L472.40,154.81 L472.40,155.12 L473.00,155.12 L473.00,155.94 L473.60,155.94 L473.60,156.00 L474.20,156.00 L474.20,154.80 L474.80,154.80 L474.80,154.82 L475.40,154.82 L475.40,155.73 L476.00,155.73 L476.00,155.21 L476.60,155.21 L476.60,155.04 L477.20,155.04 L477.20,155.03 L477.80,155.03 L477.80,154.98 L478.40,154.98 L478.40,156.00 L479.00,156.00 L479.00,154.57 L479.60,154.57 L479.60,156.00 L480.20,156.00 L480.20,155.12 L480.80,155.12 L480.80,155.42 L481.40,155.42 L481.40,155.15 L482.00,155.15 L482.00,154.40 L482.60,154.40 L482.60,154.72 L483.20,154.72 L483.20,156.00 L483.80,156.00 L483.80,156.00 L484.40,156.00 L484.40,155.28 L485.00,155.28 L485.00,156.00 L485.60,156.00 L485.60,155.93 L486.20,155.93 L486.20,155.30 L486.80,155.30 L486.80,156.00 L487.40,156.00 L487.40,156.00 L488.00,156.00 L488.00,155.77 L488.60,155.77 L488.60,155.93 L489.20,155.93 L489.20,156.00 L489.80,156.00 L489.80,155.95 L490.40,155.95 L490.40,156.00 L491.00,156.00 L491.00,156.00 L491.60,156.00 L491.60,156.00 L492.20,156.00 L492.20,156.00 L492.80,156.00 L492.80,156.00 L493.40,156.00 L493.40,156.30 L493.40,156.30 L492.80,156.30 L492.20,156.30 L491.60,156.30 L491.00,156.30 L490.40,156.30 L489.80,156.30 L489.20,156.30 L488.60,156.30 L488.00,156.30 L487.40,156.30 L486.80,156.30 L486.20,156.30 L485.60,156.30 L485.00,156.30 L484.40,156.30 L483.80,156.30 L483.20,156.30 L482.60,156.30 L482.00,156.30 L481.40,156.30 L480.80,156.30 L480.20,156.30 L479.60,156.30 L479.00,156.30 L478.40,156.30 L477.80,156.30 L477.20,156.30 L476.60,156.30 L476.00,156.30 L475.40,156.30 L474.80,156.30 L474.20,156.30 L473.60,156.30 L473.00,156.30 L472.40,156.30 L471.80,156.30 L471.20,156.30 L470.60,156.30 L470.00,156.30 L469.40,156.30 L468.80,156.30 L468.20,156.30 L467.60,156.30 L467.00,156.30 L466.40,156.30 L465.80,156.30 L465.20,156.30 L464.60,156.30 L464.00,156.30 L463.40,156.30 L462.80,156.30 L462.20,156.30 L461.60,156.30 L461.00,156.30 L460.40,156.30 L459.80,156.30 L459.20,156.30 L458.60,156.30 L458.00,156.30 L457.40,156.30 L456.80,156.30 L456.20,156.30 L455.60,156.30 L455.00,156.30 L454.40,156.30 L453.80,156.30 L453.20,156.30 L452.60,156.30 L452.00,156.30 L451.40,156.30 L450.80,156.30 L450.20,156.30 L449.60,156.30 L449.00,156.30 L448.40,156.30 L447.80,156.30 L447.20,156.30 L446.60,156.30 L446.00,156.30 L445.40,156.30 L444.80,156.30 L444.20,156.30 L443.60,156.30 L443.00,156.30 L442.40,156.30 L441.80,156.30 L441.20,156.30 L440.60,156.30 L440.00,156.30 L439.40,156.30 L438.80,156.30 L438.20,156.30 L437.60,156.30 L437.00,156.30 L436.40,156.30 L435.80,156.30 L435.20,156.30 L434.60,156.30 L434.00,156.30 L433.40,156.30 L432.80,156.30 L432.20,156.30 L431.60,156.30 L431.00,156.30 L430.40,156.30 L429.80,156.30 L429.20,156.30 L428.60,156.30 L428.00,156.30 L427.40,156.30 L426.80,156.30 L426.20,156.30 L425.60,156.30 L425.00,156.30 L424.40,156.30 L423.80,156.30 L423.20,156.30 L422.60,156.30 L422.00,156.30 L421.40,156.30 L420.80,156.30 L420.20,156.30 L419.60,156.30 L419.00,156.30 L418.40,156.30 L417.80,156.30 L417.20,156.30 L416.60,156.30 L416.00,156.30 L415.40,156.30 L414.80,156.30 L414.20,156.30 L413.60,156.30 L413.00,156.30 L412.40,156.30 L411.80,156.30 L411.20,156.30 L410.60,156.30 L410.00,156.30 L409.40,156.30 L408.80,156.30 L408.20,156.30 L407.60,156.30 L407.00,156.30 L406.40,156.30 L405.80,156.30 L405.20,156.30 L404.60,156.30 L404.00,156.30 L403.40,156.30 L402.80,156.30 L402.20,156.30 L401.60,156.30 L401.00,156.30 L400.40,156.30 L399.80,156.30 L399.20,156.30 L398.60,156.30 L398.00,156.30 L397.40,156.30 L396.80,156.30 L396.20,156.30 L395.60,156.30 L395.00,156.30 L394.40,156.30 L393.80,156.30 L393.20,156.30 L392.60,156.30 L392.00,156.30 L391.40,156.30 L390.80,156.30 L390.20,156.30 L389.60,156.30 L389.00,156.30 L388.40,156.30 L387.80,156.30 L387.20,156.30 L386.60,156.30 L386.00,156.30 L385.40,156.30 L384.80,156.30 L384.20,156.30 L383.60,156.30 L383.00,156.30 L382.40,156.30 L381.80,156.30 L381.20,156.30 L380.60,156.30 L380.00,156.30 L379.40,156.30 L378.80,156.30 L378.20,156.30 L377.60,156.30 L377.00,156.30 L376.40,156.30 L375.80,156.30 L375.20,156.30 L374.60,156.30 L374.00,156.30 L373.40,156.30 L372.80,156.30 L372.20,156.30 L371.60,156.30 L371.00,156.30 L370.40,156.30 L369.80,156.30 L369.20,156.30 L368.60,156.30 L368.00,156.30 L367.40,156.30 L366.80,156.30 L366.20,156.30 L365.60,156.30 L365.00,156.30 L364.40,156.30 L363.80,156.30 L363.20,156.30 L362.60,156.30 L362.00,156.30 L361.40,156.30 L360.80,156.30 L360.20,156.30 Z" fill="#b0b0b0" stroke="none"/>
<path d="M359.60,156.00 L360.20,156.00 L360.20,156.00 L360.80,156.00 L360.80,156.00 L361.40,156.00 L361.40,156.00 L362.00,156.00 L362.00,156.00 L362.60,156.00 L362.60,156.00 L363.20,156.00 L363.20,156.00 L363.80,156.00 L363.80,155.28 L364.40,155.28 L364.40,156.00 L365.00,156.00 L365.00,156.00 L365.60,156.00 L365.60,155.85 L366.20,155.85 L366.20,155.94 L366.80,155.94 L366.80,156.00 L367.40,156.00 L367.40,156.00 L368.00,156.00 L368.00,156.00 L368.60,156.00 L368.60,155.69 L369.20,155.69 L369.20,156.00 L369.80,156.00 L369.80,156.00 L370.40,156.00 L370.40,156.00 L371.00,156.00 L371.00,156.00 L371.60,156.00 L371.60,156.00 L372.20,156.00 L372.20,156.00 L372.80,156.00 L372.80,156.00 L373.40,156.00 L373.40,155.94 L374.00,155.94 L374.00,156.00 L374.60,156.00 L374.60,156.00 L375.20,156.00 L375.20,156.00 L375.80,156.00 L375.80,156.00 L376.40,156.00 L376.40,156.00 L377.00,156.00 L377.00,156.00 L377.60,156.00 L377.60,156.00 L378.20,156.00 L378.20,156.00 L378.80,156.00 L378.80,156.00 L379.40,156.00 L379.40,156.00 L380.00,156.00 L380.00,155.29 L380.60,155.29 L380.60,156.00 L381.20,156.00 L381.20,156.00 L381.80,156.00 L381.80,155.38 L382.40,155.38 L382.40,156.00 L383.00,156.00 L383.00,156.00 L383.60,156.00 L383.60,155.91 L384.20,155.91 L384.20,155.93 L384.80,155.93 L384.80,156.00 L385.40,156.00 L385.40,155.90 L386.00,155.90 L386.00,154.94 L386.60,154.94 L386.60,156.00 L387.20,156.00 L387.20,155.28 L387.80,155.28 L387.80,155.82 L388.40,155.82 L388.40,156.00 L389.00,156.00 L389.00,154.38 L389.60,154.38 L389.60,155.30 L390.20,155.30 L390.20,156.00 L390.80,156.00 L390.80,155.79 L391.40,155.79 L391.40,155.39 L392.00,155.39 L392.00,155.96 L392.60,155.96 L392.60,155.28 L393.20,155.28 L393.20,155.84 L393.80,155.84 L393.80,155.26 L394.40,155.26 L394.40,154.64 L395.00,154.64 L395.00,156.00 L395.60,156.00 L395.60,155.57 L396.20,155.57 L396.20,156.00 L396.80,156.00 L396.80,155.59 L397.40,155.59 L397.40,156.00 L398.00,156.00 L398.00,156.00 L398.60,156.00 L398.60,155.80 L399.20,155.80 L399.20,154.91 L399.80,154.91 L399.80,154.69 L400.40,154.69 L400.40,156.00 L401.00,156.00 L401.00,156.00 L401.60,156.00 L401.60,155.01 L402.20,155.01 L402.20,156.00 L402.80,156.00 L402.80,155.83 L403.40,155.83 L403.40,155.48 L404.00,155.48 L404.00,154.30 L404.60,154.30 L404.60,154.71 L405.20,154.71 L405.20,155.50 L405.80,155.50 L405.80,155.46 L406.40,155.46 L406.40,155.29 L407.00,155.29 L407.00,153.66 L407.60,153.66 L407.60,155.28 L408.20,155.28 L408.20,155.08 L408.80,155.08 L408.80,154.39 L409.40,154.39 L409.40,154.71 L410.00,154.71 L410.00,154.68 L410.60,154.68 L410.60,155.41 L411.20,155.41 L411.20,154.27 L411.80,154.27 L411.80,154.53 L412.40,154.53 L412.40,152.79 L413.00,152.79 L413.00,153.05 L413.60,153.05 L413.60,153.47 L414.20,153.47 L414.20,152.47 L414.80,152.47 L414.80,153.18 L415.40,153.18 L415.40,151.36 L416.00,151.36 L416.00,152.10 L416.60,152.10 L416.60,151.03 L417.20,151.03 L417.20,152.70 L417.80,152.70 L417.80,150.35 L418.40,150.35 L418.40,152.20 L419.00,152.20 L419.00,152.01 L419.60,152.01 L419.60,149.14 L420.20,149.14 L420.20,149.02 L420.80,149.02 L420.80,146.60 L421.40,146.60 L421.40,142.54 L422.00,142.54 L422.00,145.45 L422.60,145.45 L422.60,143.63 L423.20,143.63 L423.20,139.89 L423.80,139.89 L423.80,135.90 L424.40,135.90 L424.40,133.04 L425.00,133.04 L425.00,129.13 L425.60,129.13 L425.60,123.37 L426.20,123.37 L426.20,119.32 L426.80,119.32 L426.80,118.09 L427.40,118.09 L427.40,111.11 L428.00,111.11 L428.00,103.72 L428.60,103.72 L428.60,98.81 L429.20,98.81 L429.20,91.71 L429.80,91.71 L429.80,91.97 L430.40,91.97 L430.40,85.16 L431.00,85.16 L431.00,84.75 L431.60,84.75 L431.60,81.41 L432.20,81.41 L432.20,77.94 L432.80,77.94 L432.80,71.59 L433.40,71.59 L433.40,74.21 L434.00,74.21 L434.00,74.50 L434.60,74.50 L434.60,78.03 L435.20,78.03 L435.20,91.67 L435.80,91.67 L435.80,90.78 L436.40,90.78 L436.40,103.08 L437.00,103.08 L437.00,102.47 L437.60,102.47 L437.60,110.91 L438.20,110.91 L438.20,111.43 L438.80,111.43 L438.80,115.88 L439.40,115.88 L439.40,122.05 L440.00,122.05 L440.00,120.03 L440.60,120.03 L440.60,126.95 L441.20,126.95 L441.20,137.36 L441.80,137.36 L441.80,141.02 L442.40,141.02 L442.40,143.33 L443.00,143.33 L443.00,146.54 L443.60,146.54 L443.60,145.45 L444.20,145.45 L444.20,148.99 L444.80,148.99 L444.80,149.44 L445.40,149.44 L445.40,151.13 L446.00,151.13 L446.00,151.52 L446.60,151.52 L446.60,152.80 L447.20,152.80 L447.20,150.49 L447.80,150.49 L447.80,152.50 L448.40,152.50 L448.40,151.73 L449.00,151.73 L449.00,153.06 L449.60,153.06 L449.60,154.04 L450.20,154.04 L450.20,153.84 L450.80,153.84 L450.80,154.15 L451.40,154.15 L451.40,153.59 L452.00,153.59 L452.00,153.93 L452.60,153.93 L452.60,153.81 L453.20,153.81 L453.20,154.82 L453.80,154.82 L453.80,154.17 L454.40,154.17 L454.40,151.58 L455.00,151.58 L455.00,153.85 L455.60,153.85 L455.60,154.15 L456.20,154.15 L456.20,152.62 L456.80,152.62 L456.80,151.38 L457.40,151.38 L457.40,154.21 L458.00,154.21 L458.00,152.74 L458.60,152.74 L458.60,153.02 L459.20,153.02 L459.20,154.07 L459.80,154.07 L459.80,151.22 L460.40,151.22 L460.40,151.92 L461.00,151.92 L461.00,151.74 L461.60,151.74 L461.60,152.63 L462.20,152.63 L462.20,151.42 L462.80,151.42 L462.80,152.76 L463.40,152.76 L463.40,152.68 L464.00,152.68 L464.00,154.10 L464.60,154.10 L464.60,154.62 L465.20,154.62 L465.20,152.53 L465.80,152.53 L465.80,154.68 L466.40,154.68 L466.40,154.22 L467.00,154.22 L467.00,154.67 L467.60,154.67 L467.60,155.15 L468.20,155.15 L468.20,155.32 L468.80,155.32 L468.80,154.42 L469.40,154.42 L469.40,155.33 L470.00,155.33 L470.00,155.28 L470.60,155.28 L470.60,155.22 L471.20,155.22 L471.20,154.32 L471.80,154.32 L471.80,154.81 L472.40,154.81 L472.40,155.12 L473.00,155.12 L473.00,155.94 L473.60,155.94 L473.60,156.00 L474.20,156.00 L474.20,154.80 L474.80,154.80 L474.80,154.82 L475.40,154.82 L475.40,155.73 L476.00,155.73 L476.00,155.21 L476.60,155.21 L476.60,155.04 L477.20,155.04 L477.20,155.03 L477.80,155.03 L477.80,154.98 L478.40,154.98 L478.40,156.00 L479.00,156.00 L479.00,154.57 L479.60,154.57 L479.60,156.00 L480.20,156.00 L480.20,155.12 L480.80,155.12 L480.80,155.42 L481.40,155.42 L481.40,155.15 L482.00,155.15 L482.00,154.40 L482.60,154.40 L482.60,154.72 L483.20,154.72 L483.20,156.00 L483.80,156.00 L483.80,156.00 L484.40,156.00 L484.40,155.28 L485.00,155.28 L485.00,156.00 L485.60,156.00 L485.60,155.93 L486.20,155.93 L486.20,155.30 L486.80,155.30 L486.80,156.00 L487.40,156.00 L487.40,156.00 L488.00,156.00 L488.00,155.77 L488.60,155.77 L488.60,155.93 L489.20,155.93 L489.20,156.00 L489.80,156.00 L489.80,155.95 L490.40,155.95 L490.40,156.00 L491.00,156.00 L491.00,156.00 L491.60,156.00 L491.60,156.00 L492.20,156.00 L492.20,156.00 L492.80,156.00 L492.80,156.00 L493.40,156.00 L493.40,155.63 " fill="none" stroke="#000" stroke-width="1.1"/>
<path d="M437.00,150.30 L437.00,134.37 L437.60,134.37 L437.60,132.79 L438.20,132.79 L438.20,133.03 L438.80,133.03 L438.80,131.49 L439.40,131.49 L439.40,130.59 L440.00,130.59 L440.00,129.25 L440.60,129.25 L440.60,126.85 L441.20,126.85 L441.20,126.28 L441.80,126.28 L441.80,123.10 L442.40,123.10 L442.40,120.39 L443.00,120.39 L443.00,115.69 L443.60,115.69 L443.60,116.25 L444.20,116.25 L444.20,111.60 L444.80,111.60 L444.80,110.21 L445.40,110.21 L445.40,107.10 L446.00,107.10 L446.00,102.59 L446.60,102.59 L446.60,93.96 L447.20,93.96 L447.20,90.80 L447.80,90.80 L447.80,90.14 L448.40,90.14 L448.40,88.77 L449.00,88.77 L449.00,88.22 L449.60,88.22 L449.60,86.11 L450.20,86.11 L450.20,86.88 L450.80,86.88 L450.80,88.90 L451.40,88.90 L451.40,87.81 L452.00,87.81 L452.00,90.49 L452.60,90.49 L452.60,93.82 L453.20,93.82 L453.20,93.44 L453.80,93.44 L453.80,93.86 L454.40,93.86 L454.40,97.09 L455.00,97.09 L455.00,100.16 L455.60,100.16 L455.60,101.81 L456.20,101.81 L456.20,101.69 L456.80,101.69 L456.80,104.76 L457.40,104.76 L457.40,107.15 L458.00,107.15 L458.00,109.78 L458.60,109.78 L458.60,112.44 L459.20,112.44 L459.20,114.63 L459.80,114.63 L459.80,117.98 L460.40,117.98 L460.40,121.78 L461.00,121.78 L461.00,127.14 L461.60,127.14 L461.60,129.45 L462.20,129.45 L462.20,133.33 L462.80,133.33 L462.80,133.40 L463.40,133.40 L463.40,137.34 L464.00,137.34 L464.00,137.55 L464.60,137.55 L464.60,138.61 L465.20,138.61 L465.20,141.03 L465.80,141.03 L465.80,139.08 L466.40,139.08 L466.40,140.43 L467.00,140.43 L467.00,143.40 L467.60,143.40 L467.60,143.16 L468.20,143.16 L468.20,144.49 L468.80,144.49 L468.80,152.10 L468.80,152.10 L468.20,151.44 L467.60,153.43 L467.00,150.70 L466.40,147.99 L465.80,148.14 L465.20,147.15 L464.60,144.79 L464.00,143.56 L463.40,144.05 L462.80,141.05 L462.20,137.25 L461.60,136.79 L461.00,132.09 L460.40,130.16 L459.80,125.79 L459.20,124.92 L458.60,121.55 L458.00,118.65 L457.40,115.73 L456.80,114.62 L456.20,110.91 L455.60,107.10 L455.00,105.05 L454.40,102.31 L453.80,100.77 L453.20,101.96 L452.60,99.42 L452.00,99.73 L451.40,100.66 L450.80,101.72 L450.20,103.26 L449.60,102.00 L449.00,102.33 L448.40,103.06 L447.80,104.67 L447.20,106.52 L446.60,109.89 L446.00,113.14 L445.40,116.19 L444.80,120.32 L444.20,119.71 L443.60,124.52 L443.00,127.17 L442.40,132.36 L441.80,132.99 L441.20,135.63 L440.60,138.71 L440.00,139.07 L439.40,141.03 L438.80,142.20 L438.20,145.74 L437.60,147.74 Z" fill="#111" stroke="none"/>
<path d="M359.60,154.64 L360.20,154.64 L360.20,153.14 L360.80,153.14 L360.80,154.85 L361.40,154.85 L361.40,154.69 L362.00,154.69 L362.00,152.04 L362.60,152.04 L362.60,154.43 L363.20,154.43 L363.20,152.22 L363.80,152.22 L363.80,151.71 L364.40,151.71 L364.40,153.08 L365.00,153.08 L365.00,152.73 L365.60,152.73 L365.60,151.15 L366.20,151.15 L366.20,153.51 L366.80,153.51 L366.80,153.92 L367.40,153.92 L367.40,154.74 L368.00,154.74 L368.00,153.14 L368.60,153.14 L368.60,151.49 L369.20,151.49 L369.20,152.02 L369.80,152.02 L369.80,154.11 L370.40,154.11 L370.40,153.95 L371.00,153.95 L371.00,153.49 L371.60,153.49 L371.60,152.52 L372.20,152.52 L372.20,153.01 L372.80,153.01 L372.80,152.44 L373.40,152.44 L373.40,152.24 L374.00,152.24 L374.00,152.81 L374.60,152.81 L374.60,152.36 L375.20,152.36 L375.20,151.91 L375.80,151.91 L375.80,152.06 L376.40,152.06 L376.40,151.14 L377.00,151.14 L377.00,149.22 L377.60,149.22 L377.60,150.28 L378.20,150.28 L378.20,150.18 L378.80,150.18 L378.80,151.66 L379.40,151.66 L379.40,148.25 L380.00,148.25 L380.00,151.15 L380.60,151.15 L380.60,150.67 L381.20,150.67 L381.20,148.29 L381.80,148.29 L381.80,149.33 L382.40,149.33 L382.40,151.19 L383.00,151.19 L383.00,153.59 L383.60,153.59 L383.60,152.23 L384.20,152.23 L384.20,152.86 L384.80,152.86 L384.80,151.55 L385.40,151.55 L385.40,149.90 L386.00,149.90 L386.00,152.45 L386.60,152.45 L386.60,153.74 L387.20,153.74 L387.20,154.28 L387.80,154.28 L387.80,153.06 L388.40,153.06 L388.40,153.20 L389.00,153.20 L389.00,154.30 L389.60,154.30 L389.60,152.86 L390.20,152.86 L390.20,154.28 L390.80,154.28 L390.80,151.71 L391.40,151.71 L391.40,151.75 L392.00,151.75 L392.00,151.70 L392.60,151.70 L392.60,153.45 L393.20,153.45 L393.20,152.30 L393.80,152.30 L393.80,153.01 L394.40,153.01 L394.40,153.28 L395.00,153.28 L395.00,153.20 L395.60,153.20 L395.60,154.27 L396.20,154.27 L396.20,154.40 L396.80,154.40 L396.80,151.80 L397.40,151.80 L397.40,152.89 L398.00,152.89 L398.00,152.38 L398.60,152.38 L398.60,151.44 L399.20,151.44 L399.20,154.56 L399.80,154.56 L399.80,153.43 L400.40,153.43 L400.40,152.26 L401.00,152.26 L401.00,151.95 L401.60,151.95 L401.60,152.77 L402.20,152.77 L402.20,151.02 L402.80,151.02 L402.80,151.88 L403.40,151.88 L403.40,153.46 L404.00,153.46 L404.00,153.00 L404.60,153.00 L404.60,150.78 L405.20,150.78 L405.20,151.05 L405.80,151.05 L405.80,153.79 L406.40,153.79 L406.40,149.67 L407.00,149.67 L407.00,150.44 L407.60,150.44 L407.60,149.36 L408.20,149.36 L408.20,151.37 L408.80,151.37 L408.80,151.13 L409.40,151.13 L409.40,152.05 L410.00,152.05 L410.00,147.27 L410.60,147.27 L410.60,150.61 L411.20,150.61 L411.20,148.23 L411.80,148.23 L411.80,151.00 L412.40,151.00 L412.40,149.85 L413.00,149.85 L413.00,152.12 L413.60,152.12 L413.60,150.35 L414.20,150.35 L414.20,148.46 L414.80,148.46 L414.80,151.29 L415.40,151.29 L415.40,148.12 L416.00,148.12 L416.00,148.98 L416.60,148.98 L416.60,150.69 L417.20,150.69 L417.20,149.85 L417.80,149.85 L417.80,149.67 L418.40,149.67 L418.40,148.98 L419.00,148.98 L419.00,149.49 L419.60,149.49 L419.60,149.74 L420.20,149.74 L420.20,148.86 L420.80,148.86 L420.80,149.67 L421.40,149.67 L421.40,149.85 L422.00,149.85 L422.00,147.93 L422.60,147.93 L422.60,146.41 L423.20,146.41 L423.20,149.56 L423.80,149.56 L423.80,147.15 L424.40,147.15 L424.40,147.82 L425.00,147.82 L425.00,148.02 L425.60,148.02 L425.60,145.08 L426.20,145.08 L426.20,146.76 L426.80,146.76 L426.80,143.47 L427.40,143.47 L427.40,146.49 L428.00,146.49 L428.00,144.38 L428.60,144.38 L428.60,144.92 L429.20,144.92 L429.20,145.33 L429.80,145.33 L429.80,142.85 L430.40,142.85 L430.40,143.55 L431.00,143.55 L431.00,141.89 L431.60,141.89 L431.60,142.35 L432.20,142.35 L432.20,143.35 L432.80,143.35 L432.80,141.02 L433.40,141.02 L433.40,139.94 L434.00,139.94 L434.00,137.53 L434.60,137.53 L434.60,139.77 L435.20,139.77 L435.20,137.34 L435.80,137.34 L435.80,139.35 L436.40,139.35 L436.40,134.18 L437.00,134.18 L437.00,136.27 L437.60,136.27 L437.60,136.52 L438.20,136.52 L438.20,132.15 L438.80,132.15 L438.80,128.73 L439.40,128.73 L439.40,132.52 L440.00,132.52 L440.00,130.49 L440.60,130.49 L440.60,128.52 L441.20,128.52 L441.20,127.77 L441.80,127.77 L441.80,122.68 L442.40,122.68 L442.40,122.44 L443.00,122.44 L443.00,119.28 L443.60,119.28 L443.60,113.56 L444.20,113.56 L444.20,114.20 L444.80,114.20 L444.80,109.12 L445.40,109.12 L445.40,109.38 L446.00,109.38 L446.00,104.12 L446.60,104.12 L446.60,98.24 L447.20,98.24 L447.20,86.68 L447.80,86.68 L447.80,90.90 L448.40,90.90 L448.40,88.21 L449.00,88.21 L449.00,88.01 L449.60,88.01 L449.60,86.84 L450.20,86.84 L450.20,86.73 L450.80,86.73 L450.80,81.59 L451.40,81.59 L451.40,89.90 L452.00,89.90 L452.00,92.65 L452.60,92.65 L452.60,93.22 L453.20,93.22 L453.20,96.37 L453.80,96.37 L453.80,93.28 L454.40,93.28 L454.40,95.06 L455.00,95.06 L455.00,101.39 L455.60,101.39 L455.60,104.30 L456.20,104.30 L456.20,103.69 L456.80,103.69 L456.80,101.58 L457.40,101.58 L457.40,113.86 L458.00,113.86 L458.00,108.50 L458.60,108.50 L458.60,114.92 L459.20,114.92 L459.20,113.13 L459.80,113.13 L459.80,120.86 L460.40,120.86 L460.40,122.59 L461.00,122.59 L461.00,129.12 L461.60,129.12 L461.60,131.83 L462.20,131.83 L462.20,130.07 L462.80,130.07 L462.80,133.01 L463.40,133.01 L463.40,136.78 L464.00,136.78 L464.00,138.92 L464.60,138.92 L464.60,141.82 L465.20,141.82 L465.20,140.37 L465.80,140.37 L465.80,140.85 L466.40,140.85 L466.40,142.02 L467.00,142.02 L467.00,143.08 L467.60,143.08 L467.60,145.66 L468.20,145.66 L468.20,144.97 L468.80,144.97 L468.80,145.79 L469.40,145.79 L469.40,144.65 L470.00,144.65 L470.00,144.56 L470.60,144.56 L470.60,148.00 L471.20,148.00 L471.20,149.42 L471.80,149.42 L471.80,148.97 L472.40,148.97 L472.40,150.17 L473.00,150.17 L473.00,150.79 L473.60,150.79 L473.60,150.33 L474.20,150.33 L474.20,151.98 L474.80,151.98 L474.80,150.32 L475.40,150.32 L475.40,151.59 L476.00,151.59 L476.00,151.58 L476.60,151.58 L476.60,152.52 L477.20,152.52 L477.20,153.57 L477.80,153.57 L477.80,154.22 L478.40,154.22 L478.40,153.82 L479.00,153.82 L479.00,154.52 L479.60,154.52 L479.60,154.03 L480.20,154.03 L480.20,154.57 L480.80,154.57 L480.80,155.80 L481.40,155.80 L481.40,154.88 L482.00,154.88 L482.00,155.80 L482.60,155.80 L482.60,155.70 L483.20,155.70 L483.20,155.45 L483.80,155.45 L483.80,155.80 L484.40,155.80 L484.40,155.19 L485.00,155.19 L485.00,155.18 L485.60,155.18 L485.60,155.51 L486.20,155.51 L486.20,155.79 L486.80,155.79 L486.80,155.78 L487.40,155.78 L487.40,155.80 L488.00,155.80 L488.00,155.74 L488.60,155.74 L488.60,155.80 L489.20,155.80 L489.20,155.47 L489.80,155.47 L489.80,155.80 L490.40,155.80 L490.40,155.41 L491.00,155.41 L491.00,155.53 L491.60,155.53 L491.60,155.80 L492.20,155.80 L492.20,155.80 L492.80,155.80 L492.80,155.26 L493.40,155.26 L493.40,155.80 " fill="none" stroke="#000" stroke-width="1.5"/>
<path d="M359.60,152.99 L360.20,152.99 L360.20,153.22 L360.80,153.22 L360.80,153.17 L361.40,153.17 L361.40,153.05 L362.00,153.05 L362.00,154.17 L362.60,154.17 L362.60,153.72 L363.20,153.72 L363.20,152.71 L363.80,152.71 L363.80,152.92 L364.40,152.92 L364.40,153.14 L365.00,153.14 L365.00,155.02 L365.60,155.02 L365.60,152.72 L366.20,152.72 L366.20,151.99 L366.80,151.99 L366.80,152.14 L367.40,152.14 L367.40,152.97 L368.00,152.97 L368.00,154.93 L368.60,154.93 L368.60,152.09 L369.20,152.09 L369.20,153.26 L369.80,153.26 L369.80,155.80 L370.40,155.80 L370.40,152.56 L371.00,152.56 L371.00,154.62 L371.60,154.62 L371.60,154.33 L372.20,154.33 L372.20,153.50 L372.80,153.50 L372.80,151.22 L373.40,151.22 L373.40,153.01 L374.00,153.01 L374.00,152.14 L374.60,152.14 L374.60,150.26 L375.20,150.26 L375.20,150.26 L375.80,150.26 L375.80,152.08 L376.40,152.08 L376.40,152.04 L377.00,152.04 L377.00,153.04 L377.60,153.04 L377.60,151.89 L378.20,151.89 L378.20,149.71 L378.80,149.71 L378.80,148.91 L379.40,148.91 L379.40,148.62 L380.00,148.62 L380.00,147.14 L380.60,147.14 L380.60,149.81 L381.20,149.81 L381.20,149.49 L381.80,149.49 L381.80,149.30 L382.40,149.30 L382.40,150.27 L383.00,150.27 L383.00,150.19 L383.60,150.19 L383.60,151.31 L384.20,151.31 L384.20,152.42 L384.80,152.42 L384.80,151.87 L385.40,151.87 L385.40,153.68 L386.00,153.68 L386.00,154.59 L386.60,154.59 L386.60,152.19 L387.20,152.19 L387.20,153.01 L387.80,153.01 L387.80,152.65 L388.40,152.65 L388.40,154.92 L389.00,154.92 L389.00,153.41 L389.60,153.41 L389.60,153.67 L390.20,153.67 L390.20,153.96 L390.80,153.96 L390.80,155.52 L391.40,155.52 L391.40,153.33 L392.00,153.33 L392.00,151.91 L392.60,151.91 L392.60,152.48 L393.20,152.48 L393.20,153.57 L393.80,153.57 L393.80,152.88 L394.40,152.88 L394.40,151.97 L395.00,151.97 L395.00,155.80 L395.60,155.80 L395.60,152.92 L396.20,152.92 L396.20,152.12 L396.80,152.12 L396.80,151.92 L397.40,151.92 L397.40,150.71 L398.00,150.71 L398.00,151.32 L398.60,151.32 L398.60,152.23 L399.20,152.23 L399.20,152.21 L399.80,152.21 L399.80,151.60 L400.40,151.60 L400.40,153.10 L401.00,153.10 L401.00,152.45 L401.60,152.45 L401.60,151.26 L402.20,151.26 L402.20,149.93 L402.80,149.93 L402.80,152.32 L403.40,152.32 L403.40,152.07 L404.00,152.07 L404.00,151.65 L404.60,151.65 L404.60,150.13 L405.20,150.13 L405.20,151.65 L405.80,151.65 L405.80,149.68 L406.40,149.68 L406.40,152.52 L407.00,152.52 L407.00,151.41 L407.60,151.41 L407.60,151.28 L408.20,151.28 L408.20,149.91 L408.80,149.91 L408.80,149.44 L409.40,149.44 L409.40,152.53 L410.00,152.53 L410.00,151.66 L410.60,151.66 L410.60,149.95 L411.20,149.95 L411.20,151.12 L411.80,151.12 L411.80,152.12 L412.40,152.12 L412.40,148.71 L413.00,148.71 L413.00,149.31 L413.60,149.31 L413.60,149.21 L414.20,149.21 L414.20,150.37 L414.80,150.37 L414.80,148.29 L415.40,148.29 L415.40,149.85 L416.00,149.85 L416.00,147.97 L416.60,147.97 L416.60,150.52 L417.20,150.52 L417.20,150.32 L417.80,150.32 L417.80,148.78 L418.40,148.78 L418.40,149.86 L419.00,149.86 L419.00,147.86 L419.60,147.86 L419.60,148.26 L420.20,148.26 L420.20,149.70 L420.80,149.70 L420.80,148.16 L421.40,148.16 L421.40,148.55 L422.00,148.55 L422.00,146.59 L422.60,146.59 L422.60,148.52 L423.20,148.52 L423.20,148.02 L423.80,148.02 L423.80,145.44 L424.40,145.44 L424.40,143.70 L425.00,143.70 L425.00,143.74 L425.60,143.74 L425.60,146.23 L426.20,146.23 L426.20,145.68 L426.80,145.68 L426.80,143.42 L427.40,143.42 L427.40,145.51 L428.00,145.51 L428.00,146.43 L428.60,146.43 L428.60,144.40 L429.20,144.40 L429.20,143.49 L429.80,143.49 L429.80,145.03 L430.40,145.03 L430.40,145.87 L431.00,145.87 L431.00,145.09 L431.60,145.09 L431.60,141.22 L432.20,141.22 L432.20,142.83 L432.80,142.83 L432.80,141.08 L433.40,141.08 L433.40,139.67 L434.00,139.67 L434.00,138.10 L434.60,138.10 L434.60,138.79 L435.20,138.79 L435.20,136.41 L435.80,136.41 L435.80,137.89 L436.40,137.89 L436.40,135.99 L437.00,135.99 L437.00,136.16 L437.60,136.16 L437.60,131.12 L438.20,131.12 L438.20,132.09 L438.80,132.09 L438.80,132.23 L439.40,132.23 L439.40,130.27 L440.00,130.27 L440.00,128.80 L440.60,128.80 L440.60,125.66 L441.20,125.66 L441.20,128.71 L441.80,128.71 L441.80,125.60 L442.40,125.60 L442.40,121.53 L443.00,121.53 L443.00,112.21 L443.60,112.21 L443.60,112.73 L444.20,112.73 L444.20,112.74 L444.80,112.74 L444.80,108.47 L445.40,108.47 L445.40,102.22 L446.00,102.22 L446.00,101.71 L446.60,101.71 L446.60,94.45 L447.20,94.45 L447.20,88.38 L447.80,88.38 L447.80,88.75 L448.40,88.75 L448.40,87.08 L449.00,87.08 L449.00,89.28 L449.60,89.28 L449.60,82.13 L450.20,82.13 L450.20,82.28 L450.80,82.28 L450.80,85.19 L451.40,85.19 L451.40,85.29 L452.00,85.29 L452.00,93.90 L452.60,93.90 L452.60,88.90 L453.20,88.90 L453.20,93.42 L453.80,93.42 L453.80,94.08 L454.40,94.08 L454.40,95.41 L455.00,95.41 L455.00,99.84 L455.60,99.84 L455.60,105.04 L456.20,105.04 L456.20,101.93 L456.80,101.93 L456.80,106.70 L457.40,106.70 L457.40,107.98 L458.00,107.98 L458.00,111.12 L458.60,111.12 L458.60,113.26 L459.20,113.26 L459.20,120.55 L459.80,120.55 L459.80,115.91 L460.40,115.91 L460.40,121.46 L461.00,121.46 L461.00,123.87 L461.60,123.87 L461.60,126.16 L462.20,126.16 L462.20,132.60 L462.80,132.60 L462.80,137.76 L463.40,137.76 L463.40,137.65 L464.00,137.65 L464.00,139.50 L464.60,139.50 L464.60,139.46 L465.20,139.46 L465.20,139.58 L465.80,139.58 L465.80,144.07 L466.40,144.07 L466.40,141.34 L467.00,141.34 L467.00,145.30 L467.60,145.30 L467.60,143.48 L468.20,143.48 L468.20,145.04 L468.80,145.04 L468.80,146.20 L469.40,146.20 L469.40,146.62 L470.00,146.62 L470.00,147.96 L470.60,147.96 L470.60,148.66 L471.20,148.66 L471.20,150.67 L471.80,150.67 L471.80,148.93 L472.40,148.93 L472.40,146.92 L473.00,146.92 L473.00,147.24 L473.60,147.24 L473.60,148.56 L474.20,148.56 L474.20,149.77 L474.80,149.77 L474.80,151.91 L475.40,151.91 L475.40,149.70 L476.00,149.70 L476.00,151.95 L476.60,151.95 L476.60,152.38 L477.20,152.38 L477.20,153.07 L477.80,153.07 L477.80,153.05 L478.40,153.05 L478.40,154.03 L479.00,154.03 L479.00,154.02 L479.60,154.02 L479.60,155.40 L480.20,155.40 L480.20,154.94 L480.80,154.94 L480.80,152.53 L481.40,152.53 L481.40,155.02 L482.00,155.02 L482.00,155.27 L482.60,155.27 L482.60,154.60 L483.20,154.60 L483.20,154.50 L483.80,154.50 L483.80,155.80 L484.40,155.80 L484.40,155.47 L485.00,155.47 L485.00,154.46 L485.60,154.46 L485.60,155.11 L486.20,155.11 L486.20,155.29 L486.80,155.29 L486.80,154.00 L487.40,154.00 L487.40,155.80 L488.00,155.80 L488.00,155.42 L488.60,155.42 L488.60,155.80 L489.20,155.80 L489.20,154.21 L489.80,154.21 L489.80,155.80 L490.40,155.80 L490.40,155.80 L491.00,155.80 L491.00,155.80 L491.60,155.80 L491.60,155.10 L492.20,155.10 L492.20,155.18 L492.80,155.18 L492.80,154.52 L493.40,154.52 L493.40,155.80 " fill="none" stroke="#000" stroke-width="1.0"/>
<path d="M437.00,150.68 L437.60,150.68 L437.60,147.55 L438.20,147.55 L438.20,145.04 L438.80,145.04 L438.80,143.97 L439.40,143.97 L439.40,140.53 L440.00,140.53 L440.00,137.41 L440.60,137.41 L440.60,136.95 L441.20,136.95 L441.20,133.88 L441.80,133.88 L441.80,132.42 L442.40,132.42 L442.40,130.86 L443.00,130.86 L443.00,128.12 L443.60,128.12 L443.60,126.41 L444.20,126.41 L444.20,121.71 L444.80,121.71 L444.80,117.06 L445.40,117.06 L445.40,114.35 L446.00,114.35 L446.00,111.21 L446.60,111.21 L446.60,107.99 L447.20,107.99 L447.20,106.78 L447.80,106.78 L447.80,103.83 L448.40,103.83 L448.40,101.59 L449.00,101.59 L449.00,103.20 L449.60,103.20 L449.60,101.84 L450.20,101.84 L450.20,101.76 L450.80,101.76 L450.80,101.15 L451.40,101.15 L451.40,101.30 L452.00,101.30 L452.00,100.46 L452.60,100.46 L452.60,101.30 L453.20,101.30 L453.20,100.41 L453.80,100.41 L453.80,100.52 L454.40,100.52 L454.40,102.60 L455.00,102.60 L455.00,104.16 L455.60,104.16 L455.60,108.28 L456.20,108.28 L456.20,110.75 L456.80,110.75 L456.80,113.75 L457.40,113.75 L457.40,114.98 L458.00,114.98 L458.00,120.40 L458.60,120.40 L458.60,121.91 L459.20,121.91 L459.20,123.70 L459.80,123.70 L459.80,126.17 L460.40,126.17 L460.40,130.19 L461.00,130.19 L461.00,133.03 L461.60,133.03 L461.60,135.08 L462.20,135.08 L462.20,138.26 L462.80,138.26 L462.80,139.78 L463.40,139.78 L463.40,142.72 L464.00,142.72 L464.00,143.29 L464.60,143.29 L464.60,145.48 L465.20,145.48 L465.20,147.80 L465.80,147.80 L465.80,150.45 L466.40,150.45 L466.40,148.28 L467.00,148.28 L467.00,149.73 L467.60,149.73 L467.60,150.25 L468.20,150.25 L468.20,152.45 L468.80,152.45 L468.80,151.31 " fill="none" stroke="#000" stroke-width="1.2"/>
<line x1="359.00" y1="7.30" x2="359.00" y2="156.80" stroke="#666" stroke-width="1.1" stroke-linecap="butt"/>
<line x1="358.50" y1="156.30" x2="494.00" y2="156.30" stroke="#444" stroke-width="1.1" stroke-linecap="butt"/>
<line x1="358.60" y1="45.60" x2="360.30" y2="45.60" stroke="#333" stroke-width="1.2" stroke-linecap="butt"/>
<line x1="358.60" y1="82.50" x2="360.30" y2="82.50" stroke="#333" stroke-width="1.2" stroke-linecap="butt"/>
<line x1="358.60" y1="119.50" x2="360.30" y2="119.50" stroke="#333" stroke-width="1.2" stroke-linecap="butt"/>
<line x1="358.60" y1="7.60" x2="360.30" y2="7.60" stroke="#444" stroke-width="1.0" stroke-linecap="butt"/>
<line x1="494.00" y1="156.30" x2="494.00" y2="148.80" stroke="#444" stroke-width="1.0" stroke-linecap="butt"/>
<text transform="translate(351.50,156.30) rotate(-90)" y="2.39" font-family='"Liberation Sans", sans-serif' font-size="6.6499999999999995" font-weight="normal" fill="#111" stroke="#111" stroke-width="0.199" text-anchor="middle">0</text>
<text transform="translate(352.50,6.50) rotate(-90)" y="2.34" font-family='"Liberation Sans", sans-serif' font-size="6.5" font-weight="normal" fill="#111" stroke="#111" stroke-width="0.195" text-anchor="middle">120</text>
<text transform="translate(347.20,81.80) rotate(-90)" y="2.48" font-family='"Liberation Sans", sans-serif' font-size="6.9" font-weight="normal" fill="#111" stroke="#111" stroke-width="0.207" text-anchor="middle" textLength="21.0" lengthAdjust="spacingAndGlyphs">Events</text>
<text x="355.71" y="164.32" font-family='"Liberation Sans", sans-serif' font-size="7.0" fill="#111" stroke="#111" stroke-width="0.175">10<tspan font-size="4.20" dy="-2.80">0</tspan></text>
<text x="390.21" y="164.32" font-family='"Liberation Sans", sans-serif' font-size="7.0" fill="#111" stroke="#111" stroke-width="0.175">10<tspan font-size="4.20" dy="-2.80">1</tspan></text>
<text x="424.21" y="164.32" font-family='"Liberation Sans", sans-serif' font-size="7.0" fill="#111" stroke="#111" stroke-width="0.175">10<tspan font-size="4.20" dy="-2.80">2</tspan></text>
<text x="457.71" y="164.32" font-family='"Liberation Sans", sans-serif' font-size="7.0" fill="#111" stroke="#111" stroke-width="0.175">10<tspan font-size="4.20" dy="-2.80">3</tspan></text>
<text x="490.71" y="164.32" font-family='"Liberation Sans", sans-serif' font-size="7.0" fill="#111" stroke="#111" stroke-width="0.175">10<tspan font-size="4.20" dy="-2.80">4</tspan></text>
<text x="391.00" y="173.70" font-family='"Liberation Sans", sans-serif' font-size="7.0" fill="#111" stroke="#111" stroke-width="0.175" textLength="70.2" lengthAdjust="spacingAndGlyphs">FL1: TPO-R expression</text>
<rect x="456.00" y="1.20" width="48.20" height="47.10" fill="#fff" stroke="#a0a0a0" stroke-width="0.7"/>
<line x1="456.00" y1="1.20" x2="456.00" y2="48.30" stroke="#777" stroke-width="0.8" stroke-linecap="butt"/>
<line x1="456.00" y1="48.30" x2="504.20" y2="48.30" stroke="#777" stroke-width="0.8" stroke-linecap="butt"/>
<ellipse cx="474.6" cy="26.0" rx="13.0" ry="21.0" transform="rotate(0 474.6 26.0)" fill="none" stroke="#8a8a8a" stroke-width="0.7"/>
<text x="452.80" y="24.75" font-family='"Liberation Sans", sans-serif' font-size="2.6" fill="#777" text-anchor="middle" transform="rotate(-90 452.80 24.75)">SSC</text>
<text x="480.10" y="52.30" font-family='"Liberation Sans", sans-serif' font-size="2.6" fill="#777" text-anchor="middle">FSC</text>
<text x="454.00" y="3.70" font-family='"Liberation Sans", sans-serif' font-size="2.6" fill="#777" text-anchor="middle" transform="rotate(-90 454.00 3.70)">1023</text>
<text x="502.70" y="51.50" font-family='"Liberation Sans", sans-serif' font-size="2.6" fill="#777" text-anchor="middle">1023</text>
<path d="M465.8,34.6h0.6v0.6h-0.6z M465.7,12.7h0.6v0.6h-0.6z M469.8,43.5h0.6v0.6h-0.6z M485.2,31.2h0.6v0.6h-0.6z M501.8,16.2h0.6v0.6h-0.6z M458.0,2.5h0.6v0.6h-0.6z M481.1,11.5h0.6v0.6h-0.6z M485.0,2.4h0.6v0.6h-0.6z M489.9,7.1h0.6v0.6h-0.6z M472.2,31.0h0.6v0.6h-0.6z M471.8,5.9h0.6v0.6h-0.6z M457.7,43.7h0.6v0.6h-0.6z M482.5,17.0h0.6v0.6h-0.6z M459.7,16.9h0.6v0.6h-0.6z M465.8,5.3h0.6v0.6h-0.6z M472.1,38.7h0.6v0.6h-0.6z M459.4,33.1h0.6v0.6h-0.6z M457.5,27.0h0.6v0.6h-0.6z M500.7,30.3h0.6v0.6h-0.6z M477.0,5.9h0.6v0.6h-0.6z M465.9,13.5h0.6v0.6h-0.6z" fill="#bbb"/>
<path d="M475.3,34.5h0.7v0.7h-0.7z M480.7,19.3h0.7v0.7h-0.7z M471.5,19.5h0.7v0.7h-0.7z M467.9,31.0h0.7v0.7h-0.7z M466.5,36.3h0.7v0.7h-0.7z M461.7,43.9h0.7v0.7h-0.7z M474.1,19.2h0.7v0.7h-0.7z M457.8,43.3h0.7v0.7h-0.7z M462.7,43.8h0.7v0.7h-0.7z M473.7,29.3h0.7v0.7h-0.7z M473.3,26.7h0.7v0.7h-0.7z M470.7,27.7h0.7v0.7h-0.7z M462.1,38.1h0.7v0.7h-0.7z M459.3,45.6h0.7v0.7h-0.7z M477.2,18.3h0.7v0.7h-0.7z M476.8,17.5h0.7v0.7h-0.7z M463.4,41.3h0.7v0.7h-0.7z M480.4,20.8h0.7v0.7h-0.7z M468.2,38.8h0.7v0.7h-0.7z M460.4,37.9h0.7v0.7h-0.7z M469.5,31.1h0.7v0.7h-0.7z M464.0,37.0h0.7v0.7h-0.7z M459.0,42.1h0.7v0.7h-0.7z M471.6,29.4h0.7v0.7h-0.7z M463.0,36.3h0.7v0.7h-0.7z M479.5,22.6h0.7v0.7h-0.7z M470.1,14.3h0.7v0.7h-0.7z M460.6,37.0h0.7v0.7h-0.7z M462.1,38.5h0.7v0.7h-0.7z M476.8,16.6h0.7v0.7h-0.7z M467.6,34.0h0.7v0.7h-0.7z M460.7,46.8h0.7v0.7h-0.7z M458.8,43.2h0.7v0.7h-0.7z M481.7,14.4h0.7v0.7h-0.7z M463.3,36.5h0.7v0.7h-0.7z M459.5,43.2h0.7v0.7h-0.7z M465.5,30.1h0.7v0.7h-0.7z M467.6,34.1h0.7v0.7h-0.7z M466.4,36.6h0.7v0.7h-0.7z M475.4,16.9h0.7v0.7h-0.7z M476.0,20.9h0.7v0.7h-0.7z M462.4,41.9h0.7v0.7h-0.7z M461.6,40.2h0.7v0.7h-0.7z M463.5,36.7h0.7v0.7h-0.7z M480.1,24.9h0.7v0.7h-0.7z M475.8,28.2h0.7v0.7h-0.7z M468.5,27.3h0.7v0.7h-0.7z M469.5,31.1h0.7v0.7h-0.7z M476.4,21.6h0.7v0.7h-0.7z M471.0,27.3h0.7v0.7h-0.7z M460.0,41.3h0.7v0.7h-0.7z M466.0,36.4h0.7v0.7h-0.7z M476.9,20.2h0.7v0.7h-0.7z M469.9,35.8h0.7v0.7h-0.7z M458.4,45.2h0.7v0.7h-0.7z M464.5,34.1h0.7v0.7h-0.7z M467.5,27.3h0.7v0.7h-0.7z M459.4,45.7h0.7v0.7h-0.7z M460.0,41.8h0.7v0.7h-0.7z M470.7,33.5h0.7v0.7h-0.7z M465.7,39.8h0.7v0.7h-0.7z M468.5,37.5h0.7v0.7h-0.7z M464.0,39.7h0.7v0.7h-0.7z M470.7,24.9h0.7v0.7h-0.7z M460.7,39.1h0.7v0.7h-0.7z M475.8,16.6h0.7v0.7h-0.7z M479.9,22.6h0.7v0.7h-0.7z M464.2,31.6h0.7v0.7h-0.7z M469.9,37.8h0.7v0.7h-0.7z M475.5,23.5h0.7v0.7h-0.7z M461.1,43.9h0.7v0.7h-0.7z M472.8,26.6h0.7v0.7h-0.7z M461.2,39.2h0.7v0.7h-0.7z M472.5,26.2h0.7v0.7h-0.7z M461.9,38.5h0.7v0.7h-0.7z M472.3,31.0h0.7v0.7h-0.7z M475.1,18.3h0.7v0.7h-0.7z M472.2,28.0h0.7v0.7h-0.7z M462.8,28.0h0.7v0.7h-0.7z M464.6,37.7h0.7v0.7h-0.7z M466.9,35.5h0.7v0.7h-0.7z M461.3,44.6h0.7v0.7h-0.7z M459.0,42.4h0.7v0.7h-0.7z M467.8,29.7h0.7v0.7h-0.7z M464.6,45.7h0.7v0.7h-0.7z M471.7,24.2h0.7v0.7h-0.7z M478.0,21.2h0.7v0.7h-0.7z M481.2,16.1h0.7v0.7h-0.7z M482.5,22.6h0.7v0.7h-0.7z M477.5,24.3h0.7v0.7h-0.7z M461.5,35.3h0.7v0.7h-0.7z M479.1,16.1h0.7v0.7h-0.7z M463.1,42.1h0.7v0.7h-0.7z M474.1,25.7h0.7v0.7h-0.7z M473.1,22.1h0.7v0.7h-0.7z M469.9,30.6h0.7v0.7h-0.7z M465.1,29.3h0.7v0.7h-0.7z M461.3,45.3h0.7v0.7h-0.7z M467.8,37.7h0.7v0.7h-0.7z M469.1,39.5h0.7v0.7h-0.7z M458.1,42.5h0.7v0.7h-0.7z M460.1,38.9h0.7v0.7h-0.7z M473.6,26.3h0.7v0.7h-0.7z M478.1,26.8h0.7v0.7h-0.7z M463.3,44.7h0.7v0.7h-0.7z M460.4,41.5h0.7v0.7h-0.7z M458.9,45.3h0.7v0.7h-0.7z M470.3,27.9h0.7v0.7h-0.7z M465.6,35.3h0.7v0.7h-0.7z M463.0,36.4h0.7v0.7h-0.7z M460.6,43.7h0.7v0.7h-0.7z M470.8,29.6h0.7v0.7h-0.7z M464.3,40.4h0.7v0.7h-0.7z M463.5,34.5h0.7v0.7h-0.7z M465.7,31.3h0.7v0.7h-0.7z M471.8,20.6h0.7v0.7h-0.7z M459.2,38.6h0.7v0.7h-0.7z M476.2,23.4h0.7v0.7h-0.7z M457.7,35.6h0.7v0.7h-0.7z M475.4,19.5h0.7v0.7h-0.7z M465.5,31.8h0.7v0.7h-0.7z M466.3,30.0h0.7v0.7h-0.7z M473.8,17.1h0.7v0.7h-0.7z M470.8,28.7h0.7v0.7h-0.7z M459.9,44.8h0.7v0.7h-0.7z M473.9,13.4h0.7v0.7h-0.7z M458.8,43.0h0.7v0.7h-0.7z M461.0,41.5h0.7v0.7h-0.7z M476.5,17.9h0.7v0.7h-0.7z M459.7,44.0h0.7v0.7h-0.7z M462.5,46.8h0.7v0.7h-0.7z M464.0,40.4h0.7v0.7h-0.7z M458.5,40.8h0.7v0.7h-0.7z M468.9,31.0h0.7v0.7h-0.7z M472.2,31.7h0.7v0.7h-0.7z M466.5,39.5h0.7v0.7h-0.7z M463.7,39.9h0.7v0.7h-0.7z M473.9,21.1h0.7v0.7h-0.7z M473.6,25.3h0.7v0.7h-0.7z M470.6,33.3h0.7v0.7h-0.7z M457.0,41.2h0.7v0.7h-0.7z M468.6,34.0h0.7v0.7h-0.7z M468.6,31.1h0.7v0.7h-0.7z M464.7,31.1h0.7v0.7h-0.7z M471.0,21.0h0.7v0.7h-0.7z M462.6,37.8h0.7v0.7h-0.7z M467.3,31.8h0.7v0.7h-0.7z M462.5,37.8h0.7v0.7h-0.7z M471.1,31.0h0.7v0.7h-0.7z M472.9,27.1h0.7v0.7h-0.7z M471.8,30.5h0.7v0.7h-0.7z M460.3,34.5h0.7v0.7h-0.7z M479.8,24.1h0.7v0.7h-0.7z M471.4,23.8h0.7v0.7h-0.7z M467.1,38.3h0.7v0.7h-0.7z M469.9,39.3h0.7v0.7h-0.7z M473.4,27.3h0.7v0.7h-0.7z M457.2,42.5h0.7v0.7h-0.7z M467.9,26.3h0.7v0.7h-0.7z M468.2,28.4h0.7v0.7h-0.7z M464.4,31.3h0.7v0.7h-0.7z" fill="#8a8a8a"/>
<path d="M463.1,39.7h0.8v0.8h-0.8z M459.9,44.9h0.8v0.8h-0.8z M463.2,45.0h0.8v0.8h-0.8z M465.0,35.8h0.8v0.8h-0.8z M466.7,39.6h0.8v0.8h-0.8z M463.5,40.4h0.8v0.8h-0.8z M465.5,31.4h0.8v0.8h-0.8z M463.0,45.4h0.8v0.8h-0.8z M464.4,39.9h0.8v0.8h-0.8z M460.9,41.9h0.8v0.8h-0.8z M468.7,32.9h0.8v0.8h-0.8z M458.4,45.9h0.8v0.8h-0.8z M463.5,37.7h0.8v0.8h-0.8z M466.5,32.7h0.8v0.8h-0.8z M462.8,44.3h0.8v0.8h-0.8z M466.7,38.0h0.8v0.8h-0.8z M463.0,43.3h0.8v0.8h-0.8z M460.4,42.8h0.8v0.8h-0.8z M465.6,41.2h0.8v0.8h-0.8z M457.8,45.8h0.8v0.8h-0.8z M460.2,44.5h0.8v0.8h-0.8z M456.9,41.3h0.8v0.8h-0.8z M467.9,33.4h0.8v0.8h-0.8z M457.7,41.8h0.8v0.8h-0.8z M469.7,34.9h0.8v0.8h-0.8z M458.4,46.0h0.8v0.8h-0.8z M467.8,32.6h0.8v0.8h-0.8z M466.8,37.2h0.8v0.8h-0.8z M463.2,37.2h0.8v0.8h-0.8z M460.4,42.7h0.8v0.8h-0.8z M460.0,47.2h0.8v0.8h-0.8z M459.3,45.3h0.8v0.8h-0.8z M457.5,45.0h0.8v0.8h-0.8z M458.9,43.6h0.8v0.8h-0.8z M461.3,42.0h0.8v0.8h-0.8z M468.4,36.1h0.8v0.8h-0.8z M464.0,39.4h0.8v0.8h-0.8z M473.8,33.6h0.8v0.8h-0.8z M466.4,35.8h0.8v0.8h-0.8z M458.5,46.4h0.8v0.8h-0.8z M462.4,40.4h0.8v0.8h-0.8z M457.4,41.3h0.8v0.8h-0.8z M467.4,31.6h0.8v0.8h-0.8z M459.5,42.8h0.8v0.8h-0.8z M458.2,47.4h0.8v0.8h-0.8z M459.4,43.9h0.8v0.8h-0.8z M463.5,37.3h0.8v0.8h-0.8z M461.2,44.2h0.8v0.8h-0.8z M467.5,40.2h0.8v0.8h-0.8z M460.1,44.9h0.8v0.8h-0.8z M468.8,35.2h0.8v0.8h-0.8z M463.0,41.4h0.8v0.8h-0.8z M464.7,42.7h0.8v0.8h-0.8z M461.1,43.4h0.8v0.8h-0.8z M465.5,38.5h0.8v0.8h-0.8z M473.9,32.3h0.8v0.8h-0.8z" fill="#444"/>
<path d="M459.3,45.0h0.9v0.9h-0.9z M458.6,44.3h0.9v0.9h-0.9z M462.5,42.6h0.9v0.9h-0.9z M459.5,43.4h0.9v0.9h-0.9z M457.8,45.9h0.9v0.9h-0.9z M458.8,46.0h0.9v0.9h-0.9z M460.6,42.8h0.9v0.9h-0.9z M460.5,43.6h0.9v0.9h-0.9z M459.3,46.0h0.9v0.9h-0.9z M458.5,44.5h0.9v0.9h-0.9z M459.5,44.7h0.9v0.9h-0.9z M456.9,44.8h0.9v0.9h-0.9z M457.5,44.7h0.9v0.9h-0.9z M460.7,43.1h0.9v0.9h-0.9z M460.1,43.7h0.9v0.9h-0.9z M461.4,42.7h0.9v0.9h-0.9z M460.5,43.2h0.9v0.9h-0.9z M459.5,44.3h0.9v0.9h-0.9z M462.8,43.3h0.9v0.9h-0.9z M460.5,44.1h0.9v0.9h-0.9z M459.0,47.3h0.9v0.9h-0.9z M460.6,44.1h0.9v0.9h-0.9z M460.1,45.9h0.9v0.9h-0.9z M458.2,45.6h0.9v0.9h-0.9z M459.6,45.2h0.9v0.9h-0.9z M459.2,42.9h0.9v0.9h-0.9z M459.2,44.6h0.9v0.9h-0.9z M459.1,44.5h0.9v0.9h-0.9z M458.8,42.3h0.9v0.9h-0.9z M457.0,47.1h0.9v0.9h-0.9z M459.0,44.4h0.9v0.9h-0.9z M459.4,44.0h0.9v0.9h-0.9z M459.7,44.1h0.9v0.9h-0.9z M457.7,45.3h0.9v0.9h-0.9z M460.5,44.4h0.9v0.9h-0.9z M457.6,44.1h0.9v0.9h-0.9z M459.2,43.6h0.9v0.9h-0.9z M461.5,43.6h0.9v0.9h-0.9z M458.4,45.3h0.9v0.9h-0.9z M458.7,44.5h0.9v0.9h-0.9z M461.2,42.8h0.9v0.9h-0.9z M458.9,43.9h0.9v0.9h-0.9z M459.0,44.7h0.9v0.9h-0.9z M459.8,45.7h0.9v0.9h-0.9z M461.1,42.3h0.9v0.9h-0.9z M458.2,46.3h0.9v0.9h-0.9z M457.9,44.9h0.9v0.9h-0.9z M457.8,46.4h0.9v0.9h-0.9z M458.2,43.5h0.9v0.9h-0.9z M458.2,43.2h0.9v0.9h-0.9z M460.0,42.7h0.9v0.9h-0.9z M458.1,44.8h0.9v0.9h-0.9z M459.7,44.0h0.9v0.9h-0.9z M460.1,43.5h0.9v0.9h-0.9z M458.4,45.3h0.9v0.9h-0.9z M459.7,41.8h0.9v0.9h-0.9z M462.0,43.6h0.9v0.9h-0.9z" fill="#222"/>
<path d="M352.80,364.60 L352.80,364.30 L353.40,364.30 L353.40,364.30 L354.00,364.30 L354.00,364.24 L354.60,364.24 L354.60,364.30 L355.20,364.30 L355.20,364.30 L355.80,364.30 L355.80,364.30 L356.40,364.30 L356.40,363.74 L357.00,363.74 L357.00,363.19 L357.60,363.19 L357.60,363.16 L358.20,363.16 L358.20,364.30 L358.80,364.30 L358.80,364.18 L359.40,364.18 L359.40,364.24 L360.00,364.24 L360.00,363.00 L360.60,363.00 L360.60,364.30 L361.20,364.30 L361.20,362.17 L361.80,362.17 L361.80,363.61 L362.40,363.61 L362.40,363.81 L363.00,363.81 L363.00,362.74 L363.60,362.74 L363.60,362.04 L364.20,362.04 L364.20,362.59 L364.80,362.59 L364.80,361.86 L365.40,361.86 L365.40,362.63 L366.00,362.63 L366.00,361.54 L366.60,361.54 L366.60,361.44 L367.20,361.44 L367.20,362.62 L367.80,362.62 L367.80,361.07 L368.40,361.07 L368.40,362.18 L369.00,362.18 L369.00,362.14 L369.60,362.14 L369.60,363.00 L370.20,363.00 L370.20,362.23 L370.80,362.23 L370.80,360.98 L371.40,360.98 L371.40,362.86 L372.00,362.86 L372.00,360.57 L372.60,360.57 L372.60,360.52 L373.20,360.52 L373.20,360.16 L373.80,360.16 L373.80,362.41 L374.40,362.41 L374.40,359.25 L375.00,359.25 L375.00,357.10 L375.60,357.10 L375.60,357.23 L376.20,357.23 L376.20,353.33 L376.80,353.33 L376.80,353.11 L377.40,353.11 L377.40,344.47 L378.00,344.47 L378.00,343.50 L378.60,343.50 L378.60,337.79 L379.20,337.79 L379.20,339.85 L379.80,339.85 L379.80,332.16 L380.40,332.16 L380.40,331.03 L381.00,331.03 L381.00,326.14 L381.60,326.14 L381.60,326.88 L382.20,326.88 L382.20,323.11 L382.80,323.11 L382.80,312.97 L383.40,312.97 L383.40,315.00 L384.00,315.00 L384.00,309.70 L384.60,309.70 L384.60,304.34 L385.20,304.34 L385.20,302.50 L385.80,302.50 L385.80,293.38 L386.40,293.38 L386.40,288.32 L387.00,288.32 L387.00,290.86 L387.60,290.86 L387.60,289.93 L388.20,289.93 L388.20,278.63 L388.80,278.63 L388.80,275.18 L389.40,275.18 L389.40,274.18 L390.00,274.18 L390.00,274.13 L390.60,274.13 L390.60,281.65 L391.20,281.65 L391.20,281.22 L391.80,281.22 L391.80,284.62 L392.40,284.62 L392.40,283.37 L393.00,283.37 L393.00,274.91 L393.60,274.91 L393.60,278.46 L394.20,278.46 L394.20,274.05 L394.80,274.05 L394.80,289.79 L395.40,289.79 L395.40,296.07 L396.00,296.07 L396.00,295.12 L396.60,295.12 L396.60,294.66 L397.20,294.66 L397.20,299.79 L397.80,299.79 L397.80,305.97 L398.40,305.97 L398.40,304.65 L399.00,304.65 L399.00,306.06 L399.60,306.06 L399.60,316.43 L400.20,316.43 L400.20,323.80 L400.80,323.80 L400.80,326.05 L401.40,326.05 L401.40,333.44 L402.00,333.44 L402.00,340.87 L402.60,340.87 L402.60,343.78 L403.20,343.78 L403.20,348.02 L403.80,348.02 L403.80,349.67 L404.40,349.67 L404.40,352.74 L405.00,352.74 L405.00,353.46 L405.60,353.46 L405.60,355.70 L406.20,355.70 L406.20,359.87 L406.80,359.87 L406.80,358.61 L407.40,358.61 L407.40,358.90 L408.00,358.90 L408.00,359.98 L408.60,359.98 L408.60,359.91 L409.20,359.91 L409.20,362.01 L409.80,362.01 L409.80,362.79 L410.40,362.79 L410.40,361.28 L411.00,361.28 L411.00,363.47 L411.60,363.47 L411.60,364.30 L412.20,364.30 L412.20,361.91 L412.80,361.91 L412.80,363.65 L413.40,363.65 L413.40,363.41 L414.00,363.41 L414.00,364.30 L414.60,364.30 L414.60,364.30 L415.20,364.30 L415.20,364.30 L415.80,364.30 L415.80,363.91 L416.40,363.91 L416.40,363.40 L417.00,363.40 L417.00,364.30 L417.60,364.30 L417.60,363.25 L418.20,363.25 L418.20,364.30 L418.80,364.30 L418.80,364.30 L419.40,364.30 L419.40,363.45 L420.00,363.45 L420.00,364.06 L420.60,364.06 L420.60,364.30 L421.20,364.30 L421.20,362.57 L421.80,362.57 L421.80,364.30 L422.40,364.30 L422.40,363.84 L423.00,363.84 L423.00,363.88 L423.60,363.88 L423.60,362.95 L424.20,362.95 L424.20,364.30 L424.80,364.30 L424.80,363.27 L425.40,363.27 L425.40,364.30 L426.00,364.30 L426.00,363.20 L426.60,363.20 L426.60,364.30 L427.20,364.30 L427.20,364.30 L427.80,364.30 L427.80,362.63 L428.40,362.63 L428.40,363.85 L429.00,363.85 L429.00,364.02 L429.60,364.02 L429.60,362.39 L430.20,362.39 L430.20,363.84 L430.80,363.84 L430.80,364.30 L431.40,364.30 L431.40,363.56 L432.00,363.56 L432.00,364.30 L432.60,364.30 L432.60,363.28 L433.20,363.28 L433.20,363.22 L433.80,363.22 L433.80,364.30 L434.40,364.30 L434.40,364.30 L435.00,364.30 L435.00,364.02 L435.60,364.02 L435.60,364.15 L436.20,364.15 L436.20,364.30 L436.80,364.30 L436.80,363.74 L437.40,363.74 L437.40,364.30 L438.00,364.30 L438.00,364.30 L438.60,364.30 L438.60,364.30 L439.20,364.30 L439.20,364.30 L439.80,364.30 L439.80,363.97 L440.40,363.97 L440.40,364.30 L441.00,364.30 L441.00,363.77 L441.60,363.77 L441.60,364.30 L442.20,364.30 L442.20,364.30 L442.80,364.30 L442.80,364.30 L443.40,364.30 L443.40,364.30 L444.00,364.30 L444.00,363.96 L444.60,363.96 L444.60,364.30 L445.20,364.30 L445.20,364.19 L445.80,364.19 L445.80,363.45 L446.40,363.45 L446.40,363.48 L447.00,363.48 L447.00,363.09 L447.60,363.09 L447.60,364.30 L448.20,364.30 L448.20,364.30 L448.80,364.30 L448.80,363.51 L449.40,363.51 L449.40,364.04 L450.00,364.04 L450.00,363.44 L450.60,363.44 L450.60,364.26 L451.20,364.26 L451.20,363.39 L451.80,363.39 L451.80,363.66 L452.40,363.66 L452.40,363.76 L453.00,363.76 L453.00,363.92 L453.60,363.92 L453.60,364.00 L454.20,364.00 L454.20,364.12 L454.80,364.12 L454.80,364.13 L455.40,364.13 L455.40,363.57 L456.00,363.57 L456.00,364.30 L456.60,364.30 L456.60,363.04 L457.20,363.04 L457.20,364.30 L457.80,364.30 L457.80,363.59 L458.40,363.59 L458.40,364.30 L459.00,364.30 L459.00,364.30 L459.60,364.30 L459.60,362.84 L460.20,362.84 L460.20,364.30 L460.80,364.30 L460.80,364.30 L461.40,364.30 L461.40,364.30 L462.00,364.30 L462.00,364.30 L462.60,364.30 L462.60,362.77 L463.20,362.77 L463.20,364.18 L463.80,364.18 L463.80,363.66 L464.40,363.66 L464.40,364.30 L465.00,364.30 L465.00,364.08 L465.60,364.08 L465.60,363.86 L466.20,363.86 L466.20,363.05 L466.80,363.05 L466.80,364.30 L467.40,364.30 L467.40,363.91 L468.00,363.91 L468.00,364.13 L468.60,364.13 L468.60,364.30 L469.20,364.30 L469.20,364.30 L469.80,364.30 L469.80,364.30 L470.40,364.30 L470.40,364.30 L471.00,364.30 L471.00,363.93 L471.60,363.93 L471.60,363.97 L472.20,363.97 L472.20,364.30 L472.80,364.30 L472.80,364.30 L473.40,364.30 L473.40,363.31 L474.00,363.31 L474.00,364.18 L474.60,364.18 L474.60,363.64 L475.20,363.64 L475.20,363.36 L475.80,363.36 L475.80,364.30 L476.40,364.30 L476.40,363.79 L477.00,363.79 L477.00,364.30 L477.60,364.30 L477.60,364.30 L478.20,364.30 L478.20,364.30 L478.80,364.30 L478.80,364.30 L479.40,364.30 L479.40,363.59 L480.00,363.59 L480.00,364.29 L480.60,364.29 L480.60,364.30 L481.20,364.30 L481.20,364.30 L481.80,364.30 L481.80,364.14 L482.40,364.14 L482.40,364.30 L483.00,364.30 L483.00,364.30 L483.60,364.30 L483.60,364.30 L484.20,364.30 L484.20,364.30 L484.80,364.30 L484.80,364.30 L485.40,364.30 L485.40,364.30 L486.00,364.30 L486.00,362.97 L486.60,362.97 L486.60,363.45 L487.20,363.45 L487.20,364.07 L487.80,364.07 L487.80,364.30 L488.40,364.30 L488.40,362.84 L489.00,362.84 L489.00,364.16 L489.60,364.16 L489.60,364.30 L490.20,364.30 L490.20,364.18 L490.80,364.18 L490.80,364.18 L491.40,364.18 L491.40,363.40 L492.00,363.40 L492.00,364.30 L492.60,364.30 L492.60,362.91 L493.20,362.91 L493.20,364.30 L493.80,364.30 L493.80,363.91 L494.40,363.91 L494.40,364.30 L495.00,364.30 L495.00,363.11 L495.60,363.11 L495.60,364.30 L496.20,364.30 L496.20,364.30 L496.80,364.30 L496.80,363.74 L497.40,363.74 L497.40,363.51 L498.00,363.51 L498.00,364.30 L498.60,364.30 L498.60,364.30 L499.20,364.30 L499.20,364.30 L499.80,364.30 L499.80,364.30 L500.40,364.30 L500.40,364.30 L501.00,364.30 L501.00,364.30 L501.60,364.30 L501.60,364.30 L502.20,364.30 L502.20,364.30 L502.80,364.30 L502.80,364.30 L503.40,364.30 L503.40,364.03 L504.00,364.03 L504.00,363.33 L504.60,363.33 L504.60,364.30 L505.20,364.30 L505.20,364.30 L505.80,364.30 L505.80,364.30 L506.40,364.30 L506.40,364.60 L506.40,364.60 L505.80,364.60 L505.20,364.60 L504.60,364.60 L504.00,364.60 L503.40,364.60 L502.80,364.60 L502.20,364.60 L501.60,364.60 L501.00,364.60 L500.40,364.60 L499.80,364.60 L499.20,364.60 L498.60,364.60 L498.00,364.60 L497.40,364.60 L496.80,364.60 L496.20,364.60 L495.60,364.60 L495.00,364.60 L494.40,364.60 L493.80,364.60 L493.20,364.60 L492.60,364.60 L492.00,364.60 L491.40,364.60 L490.80,364.60 L490.20,364.60 L489.60,364.60 L489.00,364.60 L488.40,364.60 L487.80,364.60 L487.20,364.60 L486.60,364.60 L486.00,364.60 L485.40,364.60 L484.80,364.60 L484.20,364.60 L483.60,364.60 L483.00,364.60 L482.40,364.60 L481.80,364.60 L481.20,364.60 L480.60,364.60 L480.00,364.60 L479.40,364.60 L478.80,364.60 L478.20,364.60 L477.60,364.60 L477.00,364.60 L476.40,364.60 L475.80,364.60 L475.20,364.60 L474.60,364.60 L474.00,364.60 L473.40,364.60 L472.80,364.60 L472.20,364.60 L471.60,364.60 L471.00,364.60 L470.40,364.60 L469.80,364.60 L469.20,364.60 L468.60,364.60 L468.00,364.60 L467.40,364.60 L466.80,364.60 L466.20,364.60 L465.60,364.60 L465.00,364.60 L464.40,364.60 L463.80,364.60 L463.20,364.60 L462.60,364.60 L462.00,364.60 L461.40,364.60 L460.80,364.60 L460.20,364.60 L459.60,364.60 L459.00,364.60 L458.40,364.60 L457.80,364.60 L457.20,364.60 L456.60,364.60 L456.00,364.60 L455.40,364.60 L454.80,364.60 L454.20,364.60 L453.60,364.60 L453.00,364.60 L452.40,364.60 L451.80,364.60 L451.20,364.60 L450.60,364.60 L450.00,364.60 L449.40,364.60 L448.80,364.60 L448.20,364.60 L447.60,364.60 L447.00,364.60 L446.40,364.60 L445.80,364.60 L445.20,364.60 L444.60,364.60 L444.00,364.60 L443.40,364.60 L442.80,364.60 L442.20,364.60 L441.60,364.60 L441.00,364.60 L440.40,364.60 L439.80,364.60 L439.20,364.60 L438.60,364.60 L438.00,364.60 L437.40,364.60 L436.80,364.60 L436.20,364.60 L435.60,364.60 L435.00,364.60 L434.40,364.60 L433.80,364.60 L433.20,364.60 L432.60,364.60 L432.00,364.60 L431.40,364.60 L430.80,364.60 L430.20,364.60 L429.60,364.60 L429.00,364.60 L428.40,364.60 L427.80,364.60 L427.20,364.60 L426.60,364.60 L426.00,364.60 L425.40,364.60 L424.80,364.60 L424.20,364.60 L423.60,364.60 L423.00,364.60 L422.40,364.60 L421.80,364.60 L421.20,364.60 L420.60,364.60 L420.00,364.60 L419.40,364.60 L418.80,364.60 L418.20,364.60 L417.60,364.60 L417.00,364.60 L416.40,364.60 L415.80,364.60 L415.20,364.60 L414.60,364.60 L414.00,364.60 L413.40,364.60 L412.80,364.60 L412.20,364.60 L411.60,364.60 L411.00,364.60 L410.40,364.60 L409.80,364.60 L409.20,364.60 L408.60,364.60 L408.00,364.60 L407.40,364.60 L406.80,364.60 L406.20,364.60 L405.60,364.60 L405.00,364.60 L404.40,364.60 L403.80,364.60 L403.20,364.60 L402.60,364.60 L402.00,364.60 L401.40,364.60 L400.80,364.60 L400.20,364.60 L399.60,364.60 L399.00,364.60 L398.40,364.60 L397.80,364.60 L397.20,364.60 L396.60,364.60 L396.00,364.60 L395.40,364.60 L394.80,364.60 L394.20,364.60 L393.60,364.60 L393.00,364.60 L392.40,364.60 L391.80,364.60 L391.20,364.60 L390.60,364.60 L390.00,364.60 L389.40,364.60 L388.80,364.60 L388.20,364.60 L387.60,364.60 L387.00,364.60 L386.40,364.60 L385.80,364.60 L385.20,364.60 L384.60,364.60 L384.00,364.60 L383.40,364.60 L382.80,364.60 L382.20,364.60 L381.60,364.60 L381.00,364.60 L380.40,364.60 L379.80,364.60 L379.20,364.60 L378.60,364.60 L378.00,364.60 L377.40,364.60 L376.80,364.60 L376.20,364.60 L375.60,364.60 L375.00,364.60 L374.40,364.60 L373.80,364.60 L373.20,364.60 L372.60,364.60 L372.00,364.60 L371.40,364.60 L370.80,364.60 L370.20,364.60 L369.60,364.60 L369.00,364.60 L368.40,364.60 L367.80,364.60 L367.20,364.60 L366.60,364.60 L366.00,364.60 L365.40,364.60 L364.80,364.60 L364.20,364.60 L363.60,364.60 L363.00,364.60 L362.40,364.60 L361.80,364.60 L361.20,364.60 L360.60,364.60 L360.00,364.60 L359.40,364.60 L358.80,364.60 L358.20,364.60 L357.60,364.60 L357.00,364.60 L356.40,364.60 L355.80,364.60 L355.20,364.60 L354.60,364.60 L354.00,364.60 L353.40,364.60 Z" fill="#b0b0b0" stroke="none"/>
<path d="M352.80,364.30 L353.40,364.30 L353.40,364.30 L354.00,364.30 L354.00,364.24 L354.60,364.24 L354.60,364.30 L355.20,364.30 L355.20,364.30 L355.80,364.30 L355.80,364.30 L356.40,364.30 L356.40,363.74 L357.00,363.74 L357.00,363.19 L357.60,363.19 L357.60,363.16 L358.20,363.16 L358.20,364.30 L358.80,364.30 L358.80,364.18 L359.40,364.18 L359.40,364.24 L360.00,364.24 L360.00,363.00 L360.60,363.00 L360.60,364.30 L361.20,364.30 L361.20,362.17 L361.80,362.17 L361.80,363.61 L362.40,363.61 L362.40,363.81 L363.00,363.81 L363.00,362.74 L363.60,362.74 L363.60,362.04 L364.20,362.04 L364.20,362.59 L364.80,362.59 L364.80,361.86 L365.40,361.86 L365.40,362.63 L366.00,362.63 L366.00,361.54 L366.60,361.54 L366.60,361.44 L367.20,361.44 L367.20,362.62 L367.80,362.62 L367.80,361.07 L368.40,361.07 L368.40,362.18 L369.00,362.18 L369.00,362.14 L369.60,362.14 L369.60,363.00 L370.20,363.00 L370.20,362.23 L370.80,362.23 L370.80,360.98 L371.40,360.98 L371.40,362.86 L372.00,362.86 L372.00,360.57 L372.60,360.57 L372.60,360.52 L373.20,360.52 L373.20,360.16 L373.80,360.16 L373.80,362.41 L374.40,362.41 L374.40,359.25 L375.00,359.25 L375.00,357.10 L375.60,357.10 L375.60,357.23 L376.20,357.23 L376.20,353.33 L376.80,353.33 L376.80,353.11 L377.40,353.11 L377.40,344.47 L378.00,344.47 L378.00,343.50 L378.60,343.50 L378.60,337.79 L379.20,337.79 L379.20,339.85 L379.80,339.85 L379.80,332.16 L380.40,332.16 L380.40,331.03 L381.00,331.03 L381.00,326.14 L381.60,326.14 L381.60,326.88 L382.20,326.88 L382.20,323.11 L382.80,323.11 L382.80,312.97 L383.40,312.97 L383.40,315.00 L384.00,315.00 L384.00,309.70 L384.60,309.70 L384.60,304.34 L385.20,304.34 L385.20,302.50 L385.80,302.50 L385.80,293.38 L386.40,293.38 L386.40,288.32 L387.00,288.32 L387.00,290.86 L387.60,290.86 L387.60,289.93 L388.20,289.93 L388.20,278.63 L388.80,278.63 L388.80,275.18 L389.40,275.18 L389.40,274.18 L390.00,274.18 L390.00,274.13 L390.60,274.13 L390.60,281.65 L391.20,281.65 L391.20,281.22 L391.80,281.22 L391.80,284.62 L392.40,284.62 L392.40,283.37 L393.00,283.37 L393.00,274.91 L393.60,274.91 L393.60,278.46 L394.20,278.46 L394.20,274.05 L394.80,274.05 L394.80,289.79 L395.40,289.79 L395.40,296.07 L396.00,296.07 L396.00,295.12 L396.60,295.12 L396.60,294.66 L397.20,294.66 L397.20,299.79 L397.80,299.79 L397.80,305.97 L398.40,305.97 L398.40,304.65 L399.00,304.65 L399.00,306.06 L399.60,306.06 L399.60,316.43 L400.20,316.43 L400.20,323.80 L400.80,323.80 L400.80,326.05 L401.40,326.05 L401.40,333.44 L402.00,333.44 L402.00,340.87 L402.60,340.87 L402.60,343.78 L403.20,343.78 L403.20,348.02 L403.80,348.02 L403.80,349.67 L404.40,349.67 L404.40,352.74 L405.00,352.74 L405.00,353.46 L405.60,353.46 L405.60,355.70 L406.20,355.70 L406.20,359.87 L406.80,359.87 L406.80,358.61 L407.40,358.61 L407.40,358.90 L408.00,358.90 L408.00,359.98 L408.60,359.98 L408.60,359.91 L409.20,359.91 L409.20,362.01 L409.80,362.01 L409.80,362.79 L410.40,362.79 L410.40,361.28 L411.00,361.28 L411.00,363.47 L411.60,363.47 L411.60,364.30 L412.20,364.30 L412.20,361.91 L412.80,361.91 L412.80,363.65 L413.40,363.65 L413.40,363.41 L414.00,363.41 L414.00,364.30 L414.60,364.30 L414.60,364.30 L415.20,364.30 L415.20,364.30 L415.80,364.30 L415.80,363.91 L416.40,363.91 L416.40,363.40 L417.00,363.40 L417.00,364.30 L417.60,364.30 L417.60,363.25 L418.20,363.25 L418.20,364.30 L418.80,364.30 L418.80,364.30 L419.40,364.30 L419.40,363.45 L420.00,363.45 L420.00,364.06 L420.60,364.06 L420.60,364.30 L421.20,364.30 L421.20,362.57 L421.80,362.57 L421.80,364.30 L422.40,364.30 L422.40,363.84 L423.00,363.84 L423.00,363.88 L423.60,363.88 L423.60,362.95 L424.20,362.95 L424.20,364.30 L424.80,364.30 L424.80,363.27 L425.40,363.27 L425.40,364.30 L426.00,364.30 L426.00,363.20 L426.60,363.20 L426.60,364.30 L427.20,364.30 L427.20,364.30 L427.80,364.30 L427.80,362.63 L428.40,362.63 L428.40,363.85 L429.00,363.85 L429.00,364.02 L429.60,364.02 L429.60,362.39 L430.20,362.39 L430.20,363.84 L430.80,363.84 L430.80,364.30 L431.40,364.30 L431.40,363.56 L432.00,363.56 L432.00,364.30 L432.60,364.30 L432.60,363.28 L433.20,363.28 L433.20,363.22 L433.80,363.22 L433.80,364.30 L434.40,364.30 L434.40,364.30 L435.00,364.30 L435.00,364.02 L435.60,364.02 L435.60,364.15 L436.20,364.15 L436.20,364.30 L436.80,364.30 L436.80,363.74 L437.40,363.74 L437.40,364.30 L438.00,364.30 L438.00,364.30 L438.60,364.30 L438.60,364.30 L439.20,364.30 L439.20,364.30 L439.80,364.30 L439.80,363.97 L440.40,363.97 L440.40,364.30 L441.00,364.30 L441.00,363.77 L441.60,363.77 L441.60,364.30 L442.20,364.30 L442.20,364.30 L442.80,364.30 L442.80,364.30 L443.40,364.30 L443.40,364.30 L444.00,364.30 L444.00,363.96 L444.60,363.96 L444.60,364.30 L445.20,364.30 L445.20,364.19 L445.80,364.19 L445.80,363.45 L446.40,363.45 L446.40,363.48 L447.00,363.48 L447.00,363.09 L447.60,363.09 L447.60,364.30 L448.20,364.30 L448.20,364.30 L448.80,364.30 L448.80,363.51 L449.40,363.51 L449.40,364.04 L450.00,364.04 L450.00,363.44 L450.60,363.44 L450.60,364.26 L451.20,364.26 L451.20,363.39 L451.80,363.39 L451.80,363.66 L452.40,363.66 L452.40,363.76 L453.00,363.76 L453.00,363.92 L453.60,363.92 L453.60,364.00 L454.20,364.00 L454.20,364.12 L454.80,364.12 L454.80,364.13 L455.40,364.13 L455.40,363.57 L456.00,363.57 L456.00,364.30 L456.60,364.30 L456.60,363.04 L457.20,363.04 L457.20,364.30 L457.80,364.30 L457.80,363.59 L458.40,363.59 L458.40,364.30 L459.00,364.30 L459.00,364.30 L459.60,364.30 L459.60,362.84 L460.20,362.84 L460.20,364.30 L460.80,364.30 L460.80,364.30 L461.40,364.30 L461.40,364.30 L462.00,364.30 L462.00,364.30 L462.60,364.30 L462.60,362.77 L463.20,362.77 L463.20,364.18 L463.80,364.18 L463.80,363.66 L464.40,363.66 L464.40,364.30 L465.00,364.30 L465.00,364.08 L465.60,364.08 L465.60,363.86 L466.20,363.86 L466.20,363.05 L466.80,363.05 L466.80,364.30 L467.40,364.30 L467.40,363.91 L468.00,363.91 L468.00,364.13 L468.60,364.13 L468.60,364.30 L469.20,364.30 L469.20,364.30 L469.80,364.30 L469.80,364.30 L470.40,364.30 L470.40,364.30 L471.00,364.30 L471.00,363.93 L471.60,363.93 L471.60,363.97 L472.20,363.97 L472.20,364.30 L472.80,364.30 L472.80,364.30 L473.40,364.30 L473.40,363.31 L474.00,363.31 L474.00,364.18 L474.60,364.18 L474.60,363.64 L475.20,363.64 L475.20,363.36 L475.80,363.36 L475.80,364.30 L476.40,364.30 L476.40,363.79 L477.00,363.79 L477.00,364.30 L477.60,364.30 L477.60,364.30 L478.20,364.30 L478.20,364.30 L478.80,364.30 L478.80,364.30 L479.40,364.30 L479.40,363.59 L480.00,363.59 L480.00,364.29 L480.60,364.29 L480.60,364.30 L481.20,364.30 L481.20,364.30 L481.80,364.30 L481.80,364.14 L482.40,364.14 L482.40,364.30 L483.00,364.30 L483.00,364.30 L483.60,364.30 L483.60,364.30 L484.20,364.30 L484.20,364.30 L484.80,364.30 L484.80,364.30 L485.40,364.30 L485.40,364.30 L486.00,364.30 L486.00,362.97 L486.60,362.97 L486.60,363.45 L487.20,363.45 L487.20,364.07 L487.80,364.07 L487.80,364.30 L488.40,364.30 L488.40,362.84 L489.00,362.84 L489.00,364.16 L489.60,364.16 L489.60,364.30 L490.20,364.30 L490.20,364.18 L490.80,364.18 L490.80,364.18 L491.40,364.18 L491.40,363.40 L492.00,363.40 L492.00,364.30 L492.60,364.30 L492.60,362.91 L493.20,362.91 L493.20,364.30 L493.80,364.30 L493.80,363.91 L494.40,363.91 L494.40,364.30 L495.00,364.30 L495.00,363.11 L495.60,363.11 L495.60,364.30 L496.20,364.30 L496.20,364.30 L496.80,364.30 L496.80,363.74 L497.40,363.74 L497.40,363.51 L498.00,363.51 L498.00,364.30 L498.60,364.30 L498.60,364.30 L499.20,364.30 L499.20,364.30 L499.80,364.30 L499.80,364.30 L500.40,364.30 L500.40,364.30 L501.00,364.30 L501.00,364.30 L501.60,364.30 L501.60,364.30 L502.20,364.30 L502.20,364.30 L502.80,364.30 L502.80,364.30 L503.40,364.30 L503.40,364.03 L504.00,364.03 L504.00,363.33 L504.60,363.33 L504.60,364.30 L505.20,364.30 L505.20,364.30 L505.80,364.30 L505.80,364.30 L506.40,364.30 L506.40,364.05 " fill="none" stroke="#000" stroke-width="1.1"/>
<path d="M398.40,299.01 L398.40,295.00 L399.00,295.00 L399.00,292.33 L399.60,292.33 L399.60,291.11 L400.20,291.11 L400.20,287.16 L400.80,287.16 L400.80,285.59 L401.40,285.59 L401.40,283.66 L402.00,283.66 L402.00,280.60 L402.60,280.60 L402.60,278.91 L403.20,278.91 L403.20,278.76 L403.80,278.76 L403.80,276.62 L404.40,276.62 L404.40,278.40 L405.00,278.40 L405.00,281.12 L405.60,281.12 L405.60,282.46 L406.20,282.46 L406.20,286.16 L406.80,286.16 L406.80,291.79 L407.40,291.79 L407.40,291.59 L408.00,291.59 L408.00,288.46 L408.60,288.46 L408.60,287.57 L409.20,287.57 L409.20,288.93 L409.80,288.93 L409.80,289.46 L410.40,289.46 L410.40,292.20 L411.00,292.20 L411.00,296.50 L411.60,296.50 L411.60,302.07 L412.20,302.07 L412.20,305.61 L412.80,305.61 L412.80,312.09 L413.40,312.09 L413.40,316.56 L414.00,316.56 L414.00,318.10 L414.60,318.10 L414.60,323.00 L415.20,323.00 L415.20,325.40 L415.80,325.40 L415.80,327.48 L416.40,327.48 L416.40,329.89 L417.00,329.89 L417.00,333.45 L417.60,333.45 L417.60,335.33 L418.20,335.33 L418.20,338.35 L418.80,338.35 L418.80,337.87 L419.40,337.87 L419.40,341.03 L420.00,341.03 L420.00,344.77 L420.60,344.77 L420.60,345.57 L421.20,345.57 L421.20,346.75 L421.80,346.75 L421.80,348.88 L422.40,348.88 L422.40,349.55 L423.00,349.55 L423.00,352.20 L423.60,352.20 L423.60,356.07 L424.20,356.07 L424.20,356.97 L424.80,356.97 L424.80,359.21 L425.40,359.21 L425.40,362.83 L425.40,362.83 L424.80,359.21 L424.20,359.36 L423.60,359.54 L423.00,356.37 L422.40,355.35 L421.80,356.83 L421.20,354.73 L420.60,350.00 L420.00,350.51 L419.40,348.05 L418.80,345.71 L418.20,342.97 L417.60,342.87 L417.00,339.36 L416.40,338.63 L415.80,335.25 L415.20,330.22 L414.60,326.68 L414.00,326.28 L413.40,324.34 L412.80,321.42 L412.20,315.29 L411.60,313.79 L411.00,309.99 L410.40,308.20 L409.80,304.25 L409.20,299.65 L408.60,300.06 L408.00,296.39 L407.40,293.93 L406.80,293.29 L406.20,291.33 L405.60,290.57 L405.00,286.59 L404.40,286.80 L403.80,287.56 L403.20,287.03 L402.60,286.88 L402.00,287.26 L401.40,290.48 L400.80,291.35 L400.20,291.28 L399.60,295.54 L399.00,300.34 Z" fill="#111" stroke="none"/>
<path d="M352.80,358.02 L353.40,358.02 L353.40,358.40 L354.00,358.40 L354.00,354.61 L354.60,354.61 L354.60,357.01 L355.20,357.01 L355.20,358.08 L355.80,358.08 L355.80,356.87 L356.40,356.87 L356.40,358.49 L357.00,358.49 L357.00,358.48 L357.60,358.48 L357.60,357.55 L358.20,357.55 L358.20,359.43 L358.80,359.43 L358.80,359.91 L359.40,359.91 L359.40,357.78 L360.00,357.78 L360.00,358.96 L360.60,358.96 L360.60,358.93 L361.20,358.93 L361.20,359.00 L361.80,359.00 L361.80,358.64 L362.40,358.64 L362.40,356.87 L363.00,356.87 L363.00,358.15 L363.60,358.15 L363.60,354.99 L364.20,354.99 L364.20,358.01 L364.80,358.01 L364.80,355.63 L365.40,355.63 L365.40,355.45 L366.00,355.45 L366.00,352.09 L366.60,352.09 L366.60,349.46 L367.20,349.46 L367.20,347.89 L367.80,347.89 L367.80,353.77 L368.40,353.77 L368.40,356.30 L369.00,356.30 L369.00,358.96 L369.60,358.96 L369.60,360.08 L370.20,360.08 L370.20,361.12 L370.80,361.12 L370.80,359.98 L371.40,359.98 L371.40,362.39 L372.00,362.39 L372.00,360.37 L372.60,360.37 L372.60,360.60 L373.20,360.60 L373.20,361.50 L373.80,361.50 L373.80,362.00 L374.40,362.00 L374.40,362.51 L375.00,362.51 L375.00,358.81 L375.60,358.81 L375.60,362.54 L376.20,362.54 L376.20,359.20 L376.80,359.20 L376.80,360.25 L377.40,360.25 L377.40,361.26 L378.00,361.26 L378.00,362.04 L378.60,362.04 L378.60,359.27 L379.20,359.27 L379.20,358.23 L379.80,358.23 L379.80,361.20 L380.40,361.20 L380.40,360.21 L381.00,360.21 L381.00,358.28 L381.60,358.28 L381.60,358.83 L382.20,358.83 L382.20,356.34 L382.80,356.34 L382.80,359.18 L383.40,359.18 L383.40,357.23 L384.00,357.23 L384.00,359.05 L384.60,359.05 L384.60,353.86 L385.20,353.86 L385.20,356.99 L385.80,356.99 L385.80,358.02 L386.40,358.02 L386.40,353.48 L387.00,353.48 L387.00,351.64 L387.60,351.64 L387.60,346.21 L388.20,346.21 L388.20,347.67 L388.80,347.67 L388.80,344.83 L389.40,344.83 L389.40,341.09 L390.00,341.09 L390.00,336.11 L390.60,336.11 L390.60,336.02 L391.20,336.02 L391.20,330.63 L391.80,330.63 L391.80,328.89 L392.40,328.89 L392.40,328.07 L393.00,328.07 L393.00,324.46 L393.60,324.46 L393.60,321.00 L394.20,321.00 L394.20,316.97 L394.80,316.97 L394.80,303.59 L395.40,303.59 L395.40,306.58 L396.00,306.58 L396.00,297.83 L396.60,297.83 L396.60,296.67 L397.20,296.67 L397.20,297.64 L397.80,297.64 L397.80,297.75 L398.40,297.75 L398.40,294.66 L399.00,294.66 L399.00,290.90 L399.60,290.90 L399.60,288.03 L400.20,288.03 L400.20,287.06 L400.80,287.06 L400.80,282.90 L401.40,282.90 L401.40,285.08 L402.00,285.08 L402.00,280.30 L402.60,280.30 L402.60,283.21 L403.20,283.21 L403.20,274.98 L403.80,274.98 L403.80,276.77 L404.40,276.77 L404.40,279.89 L405.00,279.89 L405.00,277.63 L405.60,277.63 L405.60,281.48 L406.20,281.48 L406.20,295.22 L406.80,295.22 L406.80,290.59 L407.40,290.59 L407.40,294.79 L408.00,294.79 L408.00,287.08 L408.60,287.08 L408.60,282.11 L409.20,282.11 L409.20,289.63 L409.80,289.63 L409.80,288.08 L410.40,288.08 L410.40,292.25 L411.00,292.25 L411.00,295.06 L411.60,295.06 L411.60,298.81 L412.20,298.81 L412.20,302.40 L412.80,302.40 L412.80,313.22 L413.40,313.22 L413.40,311.63 L414.00,311.63 L414.00,321.16 L414.60,321.16 L414.60,321.70 L415.20,321.70 L415.20,322.80 L415.80,322.80 L415.80,326.59 L416.40,326.59 L416.40,332.66 L417.00,332.66 L417.00,334.54 L417.60,334.54 L417.60,336.29 L418.20,336.29 L418.20,337.62 L418.80,337.62 L418.80,337.45 L419.40,337.45 L419.40,344.06 L420.00,344.06 L420.00,342.83 L420.60,342.83 L420.60,344.52 L421.20,344.52 L421.20,346.52 L421.80,346.52 L421.80,348.60 L422.40,348.60 L422.40,349.01 L423.00,349.01 L423.00,352.85 L423.60,352.85 L423.60,354.32 L424.20,354.32 L424.20,356.11 L424.80,356.11 L424.80,355.57 L425.40,355.57 L425.40,361.24 L426.00,361.24 L426.00,358.00 L426.60,358.00 L426.60,360.49 L427.20,360.49 L427.20,360.97 L427.80,360.97 L427.80,362.14 L428.40,362.14 L428.40,363.48 L429.00,363.48 L429.00,362.10 L429.60,362.10 L429.60,362.68 L430.20,362.68 L430.20,361.61 L430.80,361.61 L430.80,363.86 L431.40,363.86 L431.40,360.93 L432.00,360.93 L432.00,362.27 L432.60,362.27 L432.60,362.93 L433.20,362.93 L433.20,363.50 L433.80,363.50 L433.80,363.68 L434.40,363.68 L434.40,364.10 L435.00,364.10 L435.00,363.61 L435.60,363.61 L435.60,363.14 L436.20,363.14 L436.20,363.40 L436.80,363.40 L436.80,364.10 L437.40,364.10 L437.40,363.60 L438.00,363.60 L438.00,364.10 L438.60,364.10 L438.60,363.28 L439.20,363.28 L439.20,361.69 L439.80,361.69 L439.80,362.90 L440.40,362.90 L440.40,363.81 L441.00,363.81 L441.00,364.10 L441.60,364.10 L441.60,364.10 L442.20,364.10 L442.20,364.10 L442.80,364.10 L442.80,362.89 L443.40,362.89 L443.40,364.10 L444.00,364.10 L444.00,363.54 L444.60,363.54 L444.60,364.10 L445.20,364.10 L445.20,363.54 L445.80,363.54 L445.80,362.33 L446.40,362.33 L446.40,364.10 L447.00,364.10 L447.00,363.98 L447.60,363.98 L447.60,364.10 L448.20,364.10 L448.20,362.87 L448.80,362.87 L448.80,364.10 L449.40,364.10 L449.40,364.10 L450.00,364.10 L450.00,364.10 L450.60,364.10 L450.60,364.10 L451.20,364.10 L451.20,363.30 L451.80,363.30 L451.80,361.37 L452.40,361.37 L452.40,364.10 L453.00,364.10 L453.00,362.88 L453.60,362.88 L453.60,363.53 L454.20,363.53 L454.20,364.10 L454.80,364.10 L454.80,364.03 L455.40,364.03 L455.40,363.99 L456.00,363.99 L456.00,364.10 L456.60,364.10 L456.60,362.03 L457.20,362.03 L457.20,364.10 L457.80,364.10 L457.80,363.46 L458.40,363.46 L458.40,363.51 L459.00,363.51 L459.00,364.10 L459.60,364.10 L459.60,363.68 L460.20,363.68 L460.20,363.03 L460.80,363.03 L460.80,363.69 L461.40,363.69 L461.40,363.46 L462.00,363.46 L462.00,363.21 L462.60,363.21 L462.60,364.10 L463.20,364.10 L463.20,362.51 L463.80,362.51 L463.80,361.79 L464.40,361.79 L464.40,362.97 L465.00,362.97 L465.00,362.95 L465.60,362.95 L465.60,364.10 L466.20,364.10 L466.20,363.98 L466.80,363.98 L466.80,364.10 L467.40,364.10 L467.40,364.10 L468.00,364.10 L468.00,363.01 L468.60,363.01 L468.60,364.10 L469.20,364.10 L469.20,364.01 L469.80,364.01 L469.80,364.10 L470.40,364.10 L470.40,364.05 L471.00,364.05 L471.00,363.83 L471.60,363.83 L471.60,364.10 L472.20,364.10 L472.20,364.10 L472.80,364.10 L472.80,362.23 L473.40,362.23 L473.40,364.10 L474.00,364.10 L474.00,364.10 L474.60,364.10 L474.60,364.10 L475.20,364.10 L475.20,362.87 L475.80,362.87 L475.80,362.07 L476.40,362.07 L476.40,363.65 L477.00,363.65 L477.00,364.10 L477.60,364.10 L477.60,364.10 L478.20,364.10 L478.20,363.02 L478.80,363.02 L478.80,364.10 L479.40,364.10 L479.40,362.68 L480.00,362.68 L480.00,362.72 L480.60,362.72 L480.60,363.92 L481.20,363.92 L481.20,363.41 L481.80,363.41 L481.80,363.33 L482.40,363.33 L482.40,362.62 L483.00,362.62 L483.00,364.10 L483.60,364.10 L483.60,362.96 L484.20,362.96 L484.20,364.10 L484.80,364.10 L484.80,364.10 L485.40,364.10 L485.40,363.92 L486.00,363.92 L486.00,364.10 L486.60,364.10 L486.60,364.10 L487.20,364.10 L487.20,364.10 L487.80,364.10 L487.80,364.10 L488.40,364.10 L488.40,362.76 L489.00,362.76 L489.00,362.31 L489.60,362.31 L489.60,363.47 L490.20,363.47 L490.20,363.00 L490.80,363.00 L490.80,364.10 L491.40,364.10 L491.40,364.10 L492.00,364.10 L492.00,363.80 L492.60,363.80 L492.60,364.10 L493.20,364.10 L493.20,364.10 L493.80,364.10 L493.80,363.98 L494.40,363.98 L494.40,364.10 L495.00,364.10 L495.00,364.10 L495.60,364.10 L495.60,363.73 L496.20,363.73 L496.20,364.10 L496.80,364.10 L496.80,363.18 L497.40,363.18 L497.40,364.08 L498.00,364.08 L498.00,364.10 L498.60,364.10 L498.60,363.97 L499.20,363.97 L499.20,364.10 L499.80,364.10 L499.80,364.10 L500.40,364.10 L500.40,364.10 L501.00,364.10 L501.00,363.44 L501.60,363.44 L501.60,363.53 L502.20,363.53 L502.20,362.97 L502.80,362.97 L502.80,364.10 L503.40,364.10 L503.40,364.10 L504.00,364.10 L504.00,364.10 L504.60,364.10 L504.60,363.95 L505.20,363.95 L505.20,364.10 L505.80,364.10 L505.80,364.10 L506.40,364.10 L506.40,363.42 " fill="none" stroke="#000" stroke-width="1.5"/>
<path d="M352.80,357.99 L353.40,357.99 L353.40,359.31 L354.00,359.31 L354.00,355.65 L354.60,355.65 L354.60,355.86 L355.20,355.86 L355.20,357.84 L355.80,357.84 L355.80,355.88 L356.40,355.88 L356.40,358.08 L357.00,358.08 L357.00,355.97 L357.60,355.97 L357.60,358.34 L358.20,358.34 L358.20,359.75 L358.80,359.75 L358.80,359.82 L359.40,359.82 L359.40,360.75 L360.00,360.75 L360.00,359.77 L360.60,359.77 L360.60,359.69 L361.20,359.69 L361.20,359.60 L361.80,359.60 L361.80,359.94 L362.40,359.94 L362.40,363.39 L363.00,363.39 L363.00,358.00 L363.60,358.00 L363.60,359.99 L364.20,359.99 L364.20,356.37 L364.80,356.37 L364.80,353.66 L365.40,353.66 L365.40,352.98 L366.00,352.98 L366.00,352.16 L366.60,352.16 L366.60,350.57 L367.20,350.57 L367.20,350.43 L367.80,350.43 L367.80,353.59 L368.40,353.59 L368.40,357.12 L369.00,357.12 L369.00,359.69 L369.60,359.69 L369.60,357.66 L370.20,357.66 L370.20,359.68 L370.80,359.68 L370.80,358.90 L371.40,358.90 L371.40,360.62 L372.00,360.62 L372.00,360.41 L372.60,360.41 L372.60,360.82 L373.20,360.82 L373.20,360.20 L373.80,360.20 L373.80,359.87 L374.40,359.87 L374.40,360.63 L375.00,360.63 L375.00,361.74 L375.60,361.74 L375.60,361.89 L376.20,361.89 L376.20,359.09 L376.80,359.09 L376.80,361.27 L377.40,361.27 L377.40,361.17 L378.00,361.17 L378.00,358.97 L378.60,358.97 L378.60,359.22 L379.20,359.22 L379.20,359.66 L379.80,359.66 L379.80,360.55 L380.40,360.55 L380.40,356.98 L381.00,356.98 L381.00,359.09 L381.60,359.09 L381.60,358.57 L382.20,358.57 L382.20,359.09 L382.80,359.09 L382.80,360.26 L383.40,360.26 L383.40,359.69 L384.00,359.69 L384.00,356.83 L384.60,356.83 L384.60,356.19 L385.20,356.19 L385.20,356.31 L385.80,356.31 L385.80,356.52 L386.40,356.52 L386.40,355.45 L387.00,355.45 L387.00,351.94 L387.60,351.94 L387.60,351.70 L388.20,351.70 L388.20,345.58 L388.80,345.58 L388.80,342.78 L389.40,342.78 L389.40,337.01 L390.00,337.01 L390.00,337.45 L390.60,337.45 L390.60,337.07 L391.20,337.07 L391.20,334.53 L391.80,334.53 L391.80,337.21 L392.40,337.21 L392.40,328.71 L393.00,328.71 L393.00,325.02 L393.60,325.02 L393.60,318.87 L394.20,318.87 L394.20,313.34 L394.80,313.34 L394.80,305.15 L395.40,305.15 L395.40,302.48 L396.00,302.48 L396.00,299.16 L396.60,299.16 L396.60,295.38 L397.20,295.38 L397.20,300.21 L397.80,300.21 L397.80,296.93 L398.40,296.93 L398.40,297.79 L399.00,297.79 L399.00,287.78 L399.60,287.78 L399.60,286.51 L400.20,286.51 L400.20,285.77 L400.80,285.77 L400.80,289.05 L401.40,289.05 L401.40,283.01 L402.00,283.01 L402.00,281.64 L402.60,281.64 L402.60,278.43 L403.20,278.43 L403.20,277.76 L403.80,277.76 L403.80,275.70 L404.40,275.70 L404.40,279.83 L405.00,279.83 L405.00,278.51 L405.60,278.51 L405.60,282.76 L406.20,282.76 L406.20,288.19 L406.80,288.19 L406.80,291.01 L407.40,291.01 L407.40,292.02 L408.00,292.02 L408.00,287.77 L408.60,287.77 L408.60,289.74 L409.20,289.74 L409.20,287.37 L409.80,287.37 L409.80,289.37 L410.40,289.37 L410.40,295.62 L411.00,295.62 L411.00,293.58 L411.60,293.58 L411.60,303.24 L412.20,303.24 L412.20,303.93 L412.80,303.93 L412.80,309.79 L413.40,309.79 L413.40,319.27 L414.00,319.27 L414.00,321.19 L414.60,321.19 L414.60,323.47 L415.20,323.47 L415.20,327.13 L415.80,327.13 L415.80,330.64 L416.40,330.64 L416.40,329.17 L417.00,329.17 L417.00,333.60 L417.60,333.60 L417.60,334.61 L418.20,334.61 L418.20,338.36 L418.80,338.36 L418.80,339.04 L419.40,339.04 L419.40,343.06 L420.00,343.06 L420.00,343.71 L420.60,343.71 L420.60,344.57 L421.20,344.57 L421.20,347.38 L421.80,347.38 L421.80,350.10 L422.40,350.10 L422.40,353.08 L423.00,353.08 L423.00,353.32 L423.60,353.32 L423.60,355.04 L424.20,355.04 L424.20,357.23 L424.80,357.23 L424.80,358.94 L425.40,358.94 L425.40,358.14 L426.00,358.14 L426.00,356.52 L426.60,356.52 L426.60,360.54 L427.20,360.54 L427.20,360.25 L427.80,360.25 L427.80,360.60 L428.40,360.60 L428.40,364.10 L429.00,364.10 L429.00,361.54 L429.60,361.54 L429.60,362.70 L430.20,362.70 L430.20,360.66 L430.80,360.66 L430.80,362.57 L431.40,362.57 L431.40,363.25 L432.00,363.25 L432.00,362.78 L432.60,362.78 L432.60,362.50 L433.20,362.50 L433.20,363.35 L433.80,363.35 L433.80,362.94 L434.40,362.94 L434.40,364.10 L435.00,364.10 L435.00,363.29 L435.60,363.29 L435.60,362.38 L436.20,362.38 L436.20,361.30 L436.80,361.30 L436.80,362.60 L437.40,362.60 L437.40,363.08 L438.00,363.08 L438.00,362.26 L438.60,362.26 L438.60,362.46 L439.20,362.46 L439.20,361.89 L439.80,361.89 L439.80,362.47 L440.40,362.47 L440.40,363.62 L441.00,363.62 L441.00,363.28 L441.60,363.28 L441.60,363.37 L442.20,363.37 L442.20,363.27 L442.80,363.27 L442.80,363.38 L443.40,363.38 L443.40,364.10 L444.00,364.10 L444.00,364.10 L444.60,364.10 L444.60,364.10 L445.20,364.10 L445.20,364.10 L445.80,364.10 L445.80,363.58 L446.40,363.58 L446.40,363.65 L447.00,363.65 L447.00,364.10 L447.60,364.10 L447.60,363.03 L448.20,363.03 L448.20,362.88 L448.80,362.88 L448.80,363.60 L449.40,363.60 L449.40,362.16 L450.00,362.16 L450.00,361.98 L450.60,361.98 L450.60,364.10 L451.20,364.10 L451.20,362.77 L451.80,362.77 L451.80,363.33 L452.40,363.33 L452.40,363.36 L453.00,363.36 L453.00,362.89 L453.60,362.89 L453.60,364.10 L454.20,364.10 L454.20,364.10 L454.80,364.10 L454.80,364.10 L455.40,364.10 L455.40,364.10 L456.00,364.10 L456.00,363.88 L456.60,363.88 L456.60,364.10 L457.20,364.10 L457.20,364.10 L457.80,364.10 L457.80,363.28 L458.40,363.28 L458.40,363.87 L459.00,363.87 L459.00,363.47 L459.60,363.47 L459.60,364.10 L460.20,364.10 L460.20,364.10 L460.80,364.10 L460.80,364.10 L461.40,364.10 L461.40,363.81 L462.00,363.81 L462.00,364.10 L462.60,364.10 L462.60,363.00 L463.20,363.00 L463.20,363.90 L463.80,363.90 L463.80,363.84 L464.40,363.84 L464.40,363.85 L465.00,363.85 L465.00,363.22 L465.60,363.22 L465.60,364.10 L466.20,364.10 L466.20,362.86 L466.80,362.86 L466.80,363.46 L467.40,363.46 L467.40,363.74 L468.00,363.74 L468.00,363.85 L468.60,363.85 L468.60,363.42 L469.20,363.42 L469.20,362.98 L469.80,362.98 L469.80,363.05 L470.40,363.05 L470.40,363.57 L471.00,363.57 L471.00,363.12 L471.60,363.12 L471.60,363.81 L472.20,363.81 L472.20,362.80 L472.80,362.80 L472.80,363.95 L473.40,363.95 L473.40,364.10 L474.00,364.10 L474.00,362.74 L474.60,362.74 L474.60,363.84 L475.20,363.84 L475.20,364.10 L475.80,364.10 L475.80,364.10 L476.40,364.10 L476.40,364.10 L477.00,364.10 L477.00,362.08 L477.60,362.08 L477.60,363.52 L478.20,363.52 L478.20,364.10 L478.80,364.10 L478.80,363.48 L479.40,363.48 L479.40,364.10 L480.00,364.10 L480.00,362.28 L480.60,362.28 L480.60,364.10 L481.20,364.10 L481.20,364.10 L481.80,364.10 L481.80,363.93 L482.40,363.93 L482.40,364.10 L483.00,364.10 L483.00,364.10 L483.60,364.10 L483.60,364.10 L484.20,364.10 L484.20,363.63 L484.80,363.63 L484.80,362.53 L485.40,362.53 L485.40,364.10 L486.00,364.10 L486.00,362.99 L486.60,362.99 L486.60,364.10 L487.20,364.10 L487.20,361.96 L487.80,361.96 L487.80,363.65 L488.40,363.65 L488.40,364.10 L489.00,364.10 L489.00,363.06 L489.60,363.06 L489.60,363.58 L490.20,363.58 L490.20,364.10 L490.80,364.10 L490.80,363.42 L491.40,363.42 L491.40,364.10 L492.00,364.10 L492.00,364.10 L492.60,364.10 L492.60,362.28 L493.20,362.28 L493.20,364.10 L493.80,364.10 L493.80,364.10 L494.40,364.10 L494.40,363.77 L495.00,363.77 L495.00,364.10 L495.60,364.10 L495.60,364.10 L496.20,364.10 L496.20,364.10 L496.80,364.10 L496.80,364.10 L497.40,364.10 L497.40,364.01 L498.00,364.01 L498.00,363.10 L498.60,363.10 L498.60,364.10 L499.20,364.10 L499.20,363.65 L499.80,363.65 L499.80,363.56 L500.40,363.56 L500.40,364.10 L501.00,364.10 L501.00,363.89 L501.60,363.89 L501.60,364.10 L502.20,364.10 L502.20,363.17 L502.80,363.17 L502.80,363.70 L503.40,363.70 L503.40,364.08 L504.00,364.08 L504.00,364.10 L504.60,364.10 L504.60,364.00 L505.20,364.00 L505.20,364.10 L505.80,364.10 L505.80,363.49 L506.40,363.49 L506.40,364.10 " fill="none" stroke="#000" stroke-width="1.0"/>
<path d="M398.40,298.09 L399.00,298.09 L399.00,297.93 L399.60,297.93 L399.60,296.07 L400.20,296.07 L400.20,293.26 L400.80,293.26 L400.80,293.20 L401.40,293.20 L401.40,290.07 L402.00,290.07 L402.00,288.49 L402.60,288.49 L402.60,288.03 L403.20,288.03 L403.20,286.79 L403.80,286.79 L403.80,286.75 L404.40,286.75 L404.40,286.86 L405.00,286.86 L405.00,289.03 L405.60,289.03 L405.60,290.98 L406.20,290.98 L406.20,291.75 L406.80,291.75 L406.80,295.33 L407.40,295.33 L407.40,295.55 L408.00,295.55 L408.00,297.68 L408.60,297.68 L408.60,300.08 L409.20,300.08 L409.20,301.86 L409.80,301.86 L409.80,306.51 L410.40,306.51 L410.40,307.56 L411.00,307.56 L411.00,309.37 L411.60,309.37 L411.60,314.68 L412.20,314.68 L412.20,316.26 L412.80,316.26 L412.80,319.58 L413.40,319.58 L413.40,320.33 L414.00,320.33 L414.00,326.90 L414.60,326.90 L414.60,329.53 L415.20,329.53 L415.20,332.20 L415.80,332.20 L415.80,334.95 L416.40,334.95 L416.40,338.10 L417.00,338.10 L417.00,338.96 L417.60,338.96 L417.60,342.22 L418.20,342.22 L418.20,343.03 L418.80,343.03 L418.80,345.62 L419.40,345.62 L419.40,349.00 L420.00,349.00 L420.00,350.35 L420.60,350.35 L420.60,350.63 L421.20,350.63 L421.20,353.92 L421.80,353.92 L421.80,355.08 L422.40,355.08 L422.40,355.99 L423.00,355.99 L423.00,358.39 L423.60,358.39 L423.60,358.75 L424.20,358.75 L424.20,358.74 L424.80,358.74 L424.80,360.07 L425.40,360.07 L425.40,363.46 " fill="none" stroke="#000" stroke-width="1.2"/>
<line x1="352.20" y1="211.00" x2="352.20" y2="365.10" stroke="#666" stroke-width="1.1" stroke-linecap="butt"/>
<line x1="351.70" y1="364.60" x2="506.80" y2="364.60" stroke="#444" stroke-width="1.1" stroke-linecap="butt"/>
<line x1="351.80" y1="249.50" x2="353.50" y2="249.50" stroke="#333" stroke-width="1.2" stroke-linecap="butt"/>
<line x1="351.80" y1="288.00" x2="353.50" y2="288.00" stroke="#333" stroke-width="1.2" stroke-linecap="butt"/>
<line x1="351.80" y1="326.50" x2="353.50" y2="326.50" stroke="#333" stroke-width="1.2" stroke-linecap="butt"/>
<line x1="351.80" y1="211.30" x2="353.50" y2="211.30" stroke="#444" stroke-width="1.0" stroke-linecap="butt"/>
<line x1="506.80" y1="364.60" x2="506.80" y2="357.10" stroke="#444" stroke-width="1.0" stroke-linecap="butt"/>
<text transform="translate(346.20,364.60) rotate(-90)" y="1.78" font-family='"Liberation Sans", sans-serif' font-size="4.9399999999999995" font-weight="normal" fill="#111" stroke="#111" stroke-width="0.148" text-anchor="middle">0</text>
<text transform="translate(346.90,210.60) rotate(-90)" y="1.80" font-family='"Liberation Sans", sans-serif' font-size="5.0" font-weight="normal" fill="#111" stroke="#111" stroke-width="0.150" text-anchor="middle">120</text>
<text transform="translate(342.70,288.50) rotate(-90)" y="2.16" font-family='"Liberation Sans", sans-serif' font-size="6.0" font-weight="normal" fill="#111" stroke="#111" stroke-width="0.180" text-anchor="middle" textLength="19.6" lengthAdjust="spacingAndGlyphs">Events</text>
<text x="351.21" y="371.17" font-family='"Liberation Sans", sans-serif' font-size="5.2" fill="#111" stroke="#111" stroke-width="0.130">10<tspan font-size="3.12" dy="-2.08">0</tspan></text>
<text x="389.21" y="371.17" font-family='"Liberation Sans", sans-serif' font-size="5.2" fill="#111" stroke="#111" stroke-width="0.130">10<tspan font-size="3.12" dy="-2.08">1</tspan></text>
<text x="428.01" y="371.17" font-family='"Liberation Sans", sans-serif' font-size="5.2" fill="#111" stroke="#111" stroke-width="0.130">10<tspan font-size="3.12" dy="-2.08">2</tspan></text>
<text x="466.31" y="371.17" font-family='"Liberation Sans", sans-serif' font-size="5.2" fill="#111" stroke="#111" stroke-width="0.130">10<tspan font-size="3.12" dy="-2.08">3</tspan></text>
<text x="504.51" y="371.17" font-family='"Liberation Sans", sans-serif' font-size="5.2" fill="#111" stroke="#111" stroke-width="0.130">10<tspan font-size="3.12" dy="-2.08">4</tspan></text>
<text x="401.50" y="380.50" font-family='"Liberation Sans", sans-serif' font-size="5.2" fill="#111" stroke="#111" stroke-width="0.130" textLength="53.8" lengthAdjust="spacingAndGlyphs">FL1: TPO-R expression</text>
<rect x="453.40" y="207.90" width="58.30" height="57.80" fill="#fff" stroke="#a0a0a0" stroke-width="0.7"/>
<line x1="453.40" y1="207.90" x2="453.40" y2="265.70" stroke="#777" stroke-width="0.8" stroke-linecap="butt"/>
<line x1="453.40" y1="265.70" x2="511.70" y2="265.70" stroke="#777" stroke-width="0.8" stroke-linecap="butt"/>
<ellipse cx="487.7" cy="243.4" rx="16.8" ry="19.6" transform="rotate(0 487.7 243.4)" fill="none" stroke="#8a8a8a" stroke-width="0.7"/>
<text x="450.20" y="236.80" font-family='"Liberation Sans", sans-serif' font-size="2.6" fill="#777" text-anchor="middle" transform="rotate(-90 450.20 236.80)">SSC</text>
<text x="482.55" y="269.70" font-family='"Liberation Sans", sans-serif' font-size="2.6" fill="#777" text-anchor="middle">FSC</text>
<text x="451.40" y="210.40" font-family='"Liberation Sans", sans-serif' font-size="2.6" fill="#777" text-anchor="middle" transform="rotate(-90 451.40 210.40)">1023</text>
<text x="510.20" y="268.90" font-family='"Liberation Sans", sans-serif' font-size="2.6" fill="#777" text-anchor="middle">1023</text>
<path d="M475.0,214.3h0.6v0.6h-0.6z M483.5,245.8h0.6v0.6h-0.6z M506.4,246.8h0.6v0.6h-0.6z M472.5,249.0h0.6v0.6h-0.6z M458.4,249.5h0.6v0.6h-0.6z M455.6,246.2h0.6v0.6h-0.6z M504.8,239.8h0.6v0.6h-0.6z M471.7,250.8h0.6v0.6h-0.6z M460.4,212.6h0.6v0.6h-0.6z M488.2,220.1h0.6v0.6h-0.6z M502.7,250.8h0.6v0.6h-0.6z M488.4,219.0h0.6v0.6h-0.6z M462.2,238.6h0.6v0.6h-0.6z M477.1,222.9h0.6v0.6h-0.6z M468.9,232.8h0.6v0.6h-0.6z M454.4,256.1h0.6v0.6h-0.6z M509.7,246.1h0.6v0.6h-0.6z M480.2,233.6h0.6v0.6h-0.6z M461.3,223.7h0.6v0.6h-0.6z M505.0,254.4h0.6v0.6h-0.6z M510.8,245.9h0.6v0.6h-0.6z M501.0,233.3h0.6v0.6h-0.6z M468.2,258.1h0.6v0.6h-0.6z M464.5,247.9h0.6v0.6h-0.6z M484.0,264.6h0.6v0.6h-0.6z M487.4,246.3h0.6v0.6h-0.6z M504.6,259.9h0.6v0.6h-0.6z M509.8,239.7h0.6v0.6h-0.6z M506.5,248.9h0.6v0.6h-0.6z M473.3,256.6h0.6v0.6h-0.6z M487.5,213.1h0.6v0.6h-0.6z M460.6,235.3h0.6v0.6h-0.6z M483.7,242.9h0.6v0.6h-0.6z M457.5,211.2h0.6v0.6h-0.6z M459.9,253.5h0.6v0.6h-0.6z M460.5,249.3h0.6v0.6h-0.6z M471.0,262.0h0.6v0.6h-0.6z M471.5,229.4h0.6v0.6h-0.6z M494.5,235.0h0.6v0.6h-0.6z M457.8,260.6h0.6v0.6h-0.6z" fill="#bbb"/>
<path d="M464.9,249.2h0.6v0.6h-0.6z M483.2,234.8h0.6v0.6h-0.6z M465.8,253.6h0.6v0.6h-0.6z M462.7,256.7h0.6v0.6h-0.6z M467.9,258.6h0.6v0.6h-0.6z M463.2,254.4h0.6v0.6h-0.6z M467.4,250.0h0.6v0.6h-0.6z M458.1,262.4h0.6v0.6h-0.6z M472.1,235.2h0.6v0.6h-0.6z M477.2,230.2h0.6v0.6h-0.6z M456.9,263.8h0.6v0.6h-0.6z M457.3,259.8h0.6v0.6h-0.6z M482.2,225.1h0.6v0.6h-0.6z M458.7,256.6h0.6v0.6h-0.6z M474.5,238.7h0.6v0.6h-0.6z M460.4,253.8h0.6v0.6h-0.6z M460.6,255.6h0.6v0.6h-0.6z M470.6,239.5h0.6v0.6h-0.6z M477.5,233.0h0.6v0.6h-0.6z M466.4,245.7h0.6v0.6h-0.6z M458.2,254.2h0.6v0.6h-0.6z M473.4,245.9h0.6v0.6h-0.6z M470.1,240.9h0.6v0.6h-0.6z M466.0,250.3h0.6v0.6h-0.6z M463.9,251.8h0.6v0.6h-0.6z M464.5,243.4h0.6v0.6h-0.6z M479.8,232.3h0.6v0.6h-0.6z M476.6,244.2h0.6v0.6h-0.6z M475.5,240.2h0.6v0.6h-0.6z M476.7,242.0h0.6v0.6h-0.6z M475.4,243.2h0.6v0.6h-0.6z M474.0,243.6h0.6v0.6h-0.6z M470.8,238.1h0.6v0.6h-0.6z M475.8,248.0h0.6v0.6h-0.6z M475.3,240.0h0.6v0.6h-0.6z M459.8,262.1h0.6v0.6h-0.6z M463.6,251.5h0.6v0.6h-0.6z M480.8,239.8h0.6v0.6h-0.6z M466.5,252.3h0.6v0.6h-0.6z M477.3,237.0h0.6v0.6h-0.6z M484.9,227.0h0.6v0.6h-0.6z M468.5,241.0h0.6v0.6h-0.6z M455.0,263.3h0.6v0.6h-0.6z M478.5,244.7h0.6v0.6h-0.6z M475.8,243.4h0.6v0.6h-0.6z M467.4,257.4h0.6v0.6h-0.6z M474.7,235.0h0.6v0.6h-0.6z M472.3,247.3h0.6v0.6h-0.6z M459.2,259.9h0.6v0.6h-0.6z M457.6,257.9h0.6v0.6h-0.6z M472.6,243.7h0.6v0.6h-0.6z M476.2,236.8h0.6v0.6h-0.6z M476.1,241.2h0.6v0.6h-0.6z" fill="#aaa"/>
<path d="M495.4,258.7h0.7v0.7h-0.7z M487.4,242.9h0.7v0.7h-0.7z M486.1,251.8h0.7v0.7h-0.7z M494.1,250.1h0.7v0.7h-0.7z M491.6,251.4h0.7v0.7h-0.7z M485.5,249.1h0.7v0.7h-0.7z M488.9,244.6h0.7v0.7h-0.7z M480.1,246.7h0.7v0.7h-0.7z M482.5,262.0h0.7v0.7h-0.7z M473.6,228.2h0.7v0.7h-0.7z M492.7,250.3h0.7v0.7h-0.7z M475.6,248.3h0.7v0.7h-0.7z M489.7,241.3h0.7v0.7h-0.7z M481.4,236.7h0.7v0.7h-0.7z M480.6,262.4h0.7v0.7h-0.7z M484.9,245.0h0.7v0.7h-0.7z M487.5,263.7h0.7v0.7h-0.7z M489.4,252.9h0.7v0.7h-0.7z M495.7,251.2h0.7v0.7h-0.7z M488.0,252.0h0.7v0.7h-0.7z M490.8,254.0h0.7v0.7h-0.7z M482.7,255.8h0.7v0.7h-0.7z M489.9,252.3h0.7v0.7h-0.7z M486.8,249.3h0.7v0.7h-0.7z M483.5,248.6h0.7v0.7h-0.7z M485.5,257.8h0.7v0.7h-0.7z M485.7,253.9h0.7v0.7h-0.7z M487.1,240.9h0.7v0.7h-0.7z M488.2,243.9h0.7v0.7h-0.7z M483.2,249.7h0.7v0.7h-0.7z M481.9,242.3h0.7v0.7h-0.7z M490.1,246.4h0.7v0.7h-0.7z M476.7,238.4h0.7v0.7h-0.7z M482.6,245.2h0.7v0.7h-0.7z M494.5,253.4h0.7v0.7h-0.7z M471.1,251.3h0.7v0.7h-0.7z M482.2,247.0h0.7v0.7h-0.7z M489.8,264.3h0.7v0.7h-0.7z M476.9,245.0h0.7v0.7h-0.7z M471.8,251.5h0.7v0.7h-0.7z M493.9,253.8h0.7v0.7h-0.7z M494.6,246.7h0.7v0.7h-0.7z M491.0,228.6h0.7v0.7h-0.7z M484.8,246.5h0.7v0.7h-0.7z M488.0,249.8h0.7v0.7h-0.7z M481.1,260.8h0.7v0.7h-0.7z M490.5,239.1h0.7v0.7h-0.7z M479.8,260.3h0.7v0.7h-0.7z M484.5,245.7h0.7v0.7h-0.7z M491.5,254.8h0.7v0.7h-0.7z M479.9,227.7h0.7v0.7h-0.7z M484.0,248.5h0.7v0.7h-0.7z M486.9,245.7h0.7v0.7h-0.7z M478.6,251.0h0.7v0.7h-0.7z M492.4,250.4h0.7v0.7h-0.7z M487.9,240.1h0.7v0.7h-0.7z M477.7,252.7h0.7v0.7h-0.7z M485.7,253.0h0.7v0.7h-0.7z M481.7,251.2h0.7v0.7h-0.7z M482.4,254.4h0.7v0.7h-0.7z M486.4,256.2h0.7v0.7h-0.7z M482.1,246.8h0.7v0.7h-0.7z M491.3,239.5h0.7v0.7h-0.7z M482.1,236.8h0.7v0.7h-0.7z M491.4,259.4h0.7v0.7h-0.7z M485.8,253.2h0.7v0.7h-0.7z M490.7,250.0h0.7v0.7h-0.7z M483.0,244.0h0.7v0.7h-0.7z M483.2,247.5h0.7v0.7h-0.7z M479.7,246.5h0.7v0.7h-0.7z M489.2,246.4h0.7v0.7h-0.7z M491.2,244.3h0.7v0.7h-0.7z M493.1,251.6h0.7v0.7h-0.7z M487.4,243.9h0.7v0.7h-0.7z M484.8,238.1h0.7v0.7h-0.7z M488.1,243.3h0.7v0.7h-0.7z M485.8,253.2h0.7v0.7h-0.7z M494.0,255.8h0.7v0.7h-0.7z M491.2,247.8h0.7v0.7h-0.7z M481.4,247.1h0.7v0.7h-0.7z M482.2,244.7h0.7v0.7h-0.7z M493.5,241.9h0.7v0.7h-0.7z M487.7,258.0h0.7v0.7h-0.7z M484.7,250.4h0.7v0.7h-0.7z M483.9,241.9h0.7v0.7h-0.7z M484.5,246.6h0.7v0.7h-0.7z M483.5,253.8h0.7v0.7h-0.7z M475.2,243.3h0.7v0.7h-0.7z M490.8,239.1h0.7v0.7h-0.7z M479.4,239.2h0.7v0.7h-0.7z M482.9,247.9h0.7v0.7h-0.7z M481.9,249.4h0.7v0.7h-0.7z M490.0,248.4h0.7v0.7h-0.7z M485.6,255.3h0.7v0.7h-0.7z M486.1,255.3h0.7v0.7h-0.7z M476.8,247.9h0.7v0.7h-0.7z M485.5,248.1h0.7v0.7h-0.7z M477.9,243.9h0.7v0.7h-0.7z M487.7,252.5h0.7v0.7h-0.7z M488.0,255.3h0.7v0.7h-0.7z M485.9,248.4h0.7v0.7h-0.7z M497.2,254.4h0.7v0.7h-0.7z M488.9,246.4h0.7v0.7h-0.7z M489.3,238.5h0.7v0.7h-0.7z M486.8,240.9h0.7v0.7h-0.7z M484.9,253.3h0.7v0.7h-0.7z M491.3,252.7h0.7v0.7h-0.7z M492.1,261.3h0.7v0.7h-0.7z M478.8,246.5h0.7v0.7h-0.7z M491.8,255.9h0.7v0.7h-0.7z M488.8,258.5h0.7v0.7h-0.7z M491.3,256.7h0.7v0.7h-0.7z M488.6,244.2h0.7v0.7h-0.7z M479.2,244.8h0.7v0.7h-0.7z M479.5,247.2h0.7v0.7h-0.7z M496.0,243.5h0.7v0.7h-0.7z M487.4,251.9h0.7v0.7h-0.7z M478.2,253.4h0.7v0.7h-0.7z M487.9,245.0h0.7v0.7h-0.7z M484.0,262.0h0.7v0.7h-0.7z M475.9,243.1h0.7v0.7h-0.7z M473.4,243.1h0.7v0.7h-0.7z M477.2,243.8h0.7v0.7h-0.7z M487.5,243.2h0.7v0.7h-0.7z M485.7,251.0h0.7v0.7h-0.7z M484.6,247.8h0.7v0.7h-0.7z M487.6,260.6h0.7v0.7h-0.7z M489.3,253.4h0.7v0.7h-0.7z M474.4,248.8h0.7v0.7h-0.7z M484.3,245.9h0.7v0.7h-0.7z M481.4,236.4h0.7v0.7h-0.7z M479.2,245.5h0.7v0.7h-0.7z M483.0,240.9h0.7v0.7h-0.7z M485.3,254.8h0.7v0.7h-0.7z M484.5,247.4h0.7v0.7h-0.7z M478.0,258.1h0.7v0.7h-0.7z M483.3,252.7h0.7v0.7h-0.7z M497.1,257.2h0.7v0.7h-0.7z M480.2,248.1h0.7v0.7h-0.7z M476.7,247.0h0.7v0.7h-0.7z M487.5,253.2h0.7v0.7h-0.7z M489.3,255.7h0.7v0.7h-0.7z M488.6,243.5h0.7v0.7h-0.7z M479.8,249.9h0.7v0.7h-0.7z M481.7,246.2h0.7v0.7h-0.7z M479.8,244.4h0.7v0.7h-0.7z M482.7,242.0h0.7v0.7h-0.7z M485.4,237.2h0.7v0.7h-0.7z M489.9,257.8h0.7v0.7h-0.7z M489.4,249.4h0.7v0.7h-0.7z M485.9,250.2h0.7v0.7h-0.7z M491.1,263.0h0.7v0.7h-0.7z M490.9,242.8h0.7v0.7h-0.7z M478.3,253.6h0.7v0.7h-0.7z M477.3,250.2h0.7v0.7h-0.7z M490.3,252.1h0.7v0.7h-0.7z M478.4,249.4h0.7v0.7h-0.7z M484.3,247.4h0.7v0.7h-0.7z M485.5,259.5h0.7v0.7h-0.7z M483.3,251.8h0.7v0.7h-0.7z M483.5,249.9h0.7v0.7h-0.7z M493.7,259.3h0.7v0.7h-0.7z M472.1,250.8h0.7v0.7h-0.7z M490.9,252.7h0.7v0.7h-0.7z M498.6,253.9h0.7v0.7h-0.7z M486.1,261.0h0.7v0.7h-0.7z M485.9,251.7h0.7v0.7h-0.7z M490.0,248.5h0.7v0.7h-0.7z M496.1,244.5h0.7v0.7h-0.7z M479.5,243.7h0.7v0.7h-0.7z M486.5,240.4h0.7v0.7h-0.7z M485.0,248.5h0.7v0.7h-0.7z M489.1,250.7h0.7v0.7h-0.7z M486.9,233.2h0.7v0.7h-0.7z M489.6,249.1h0.7v0.7h-0.7z M483.7,252.2h0.7v0.7h-0.7z M486.3,249.3h0.7v0.7h-0.7z M482.3,240.0h0.7v0.7h-0.7z M482.3,256.3h0.7v0.7h-0.7z M485.2,242.7h0.7v0.7h-0.7z M485.2,238.8h0.7v0.7h-0.7z M479.6,238.3h0.7v0.7h-0.7z M494.6,250.3h0.7v0.7h-0.7z M485.3,255.0h0.7v0.7h-0.7z M478.4,254.5h0.7v0.7h-0.7z" fill="#666"/>
<path d="M486.1,253.7h0.8v0.8h-0.8z M482.4,251.7h0.8v0.8h-0.8z M483.8,249.3h0.8v0.8h-0.8z M483.2,249.6h0.8v0.8h-0.8z M485.0,249.6h0.8v0.8h-0.8z M480.9,251.9h0.8v0.8h-0.8z M485.8,250.9h0.8v0.8h-0.8z M487.2,250.4h0.8v0.8h-0.8z M485.1,253.6h0.8v0.8h-0.8z M486.7,255.0h0.8v0.8h-0.8z M483.1,246.7h0.8v0.8h-0.8z M481.7,256.8h0.8v0.8h-0.8z M483.8,252.5h0.8v0.8h-0.8z M488.5,253.8h0.8v0.8h-0.8z M488.2,257.2h0.8v0.8h-0.8z M484.3,252.8h0.8v0.8h-0.8z M488.6,252.3h0.8v0.8h-0.8z M484.7,259.4h0.8v0.8h-0.8z M489.4,251.2h0.8v0.8h-0.8z M486.8,253.2h0.8v0.8h-0.8z M484.3,255.2h0.8v0.8h-0.8z M487.6,250.5h0.8v0.8h-0.8z M483.5,251.9h0.8v0.8h-0.8z M483.1,253.3h0.8v0.8h-0.8z M481.7,258.9h0.8v0.8h-0.8z M486.2,250.5h0.8v0.8h-0.8z M485.4,252.8h0.8v0.8h-0.8z M485.3,254.9h0.8v0.8h-0.8z M484.4,252.9h0.8v0.8h-0.8z M489.2,250.7h0.8v0.8h-0.8z M484.4,253.8h0.8v0.8h-0.8z M483.6,252.6h0.8v0.8h-0.8z M488.7,255.6h0.8v0.8h-0.8z M489.2,257.8h0.8v0.8h-0.8z M486.4,256.4h0.8v0.8h-0.8z M481.0,252.6h0.8v0.8h-0.8z M483.9,253.4h0.8v0.8h-0.8z M487.1,250.2h0.8v0.8h-0.8z M485.5,252.6h0.8v0.8h-0.8z M489.5,255.2h0.8v0.8h-0.8z M481.9,250.5h0.8v0.8h-0.8z M487.3,253.9h0.8v0.8h-0.8z M483.9,249.9h0.8v0.8h-0.8z M488.9,259.0h0.8v0.8h-0.8z M485.3,259.5h0.8v0.8h-0.8z M488.2,252.8h0.8v0.8h-0.8z M483.8,253.6h0.8v0.8h-0.8z M481.8,250.9h0.8v0.8h-0.8z M482.6,255.8h0.8v0.8h-0.8z M483.9,253.7h0.8v0.8h-0.8z M482.8,252.3h0.8v0.8h-0.8z M488.6,253.5h0.8v0.8h-0.8z M489.0,254.7h0.8v0.8h-0.8z M486.2,250.2h0.8v0.8h-0.8z M482.8,254.1h0.8v0.8h-0.8z M485.2,250.7h0.8v0.8h-0.8z M483.7,254.0h0.8v0.8h-0.8z M489.3,254.8h0.8v0.8h-0.8z M486.3,256.6h0.8v0.8h-0.8z M486.8,253.4h0.8v0.8h-0.8z M484.5,255.7h0.8v0.8h-0.8z M480.3,248.3h0.8v0.8h-0.8z M483.5,254.1h0.8v0.8h-0.8z M482.6,251.2h0.8v0.8h-0.8z M486.5,253.9h0.8v0.8h-0.8z M485.8,253.3h0.8v0.8h-0.8z M483.4,255.1h0.8v0.8h-0.8z M484.5,246.5h0.8v0.8h-0.8z M489.6,255.5h0.8v0.8h-0.8z M483.0,247.5h0.8v0.8h-0.8z M483.1,255.8h0.8v0.8h-0.8z M484.9,246.8h0.8v0.8h-0.8z M483.7,249.3h0.8v0.8h-0.8z M484.4,247.5h0.8v0.8h-0.8z M486.9,258.5h0.8v0.8h-0.8z M490.0,250.7h0.8v0.8h-0.8z M480.9,251.6h0.8v0.8h-0.8z M485.5,251.3h0.8v0.8h-0.8z M485.6,247.5h0.8v0.8h-0.8z M485.3,251.9h0.8v0.8h-0.8z M485.0,254.8h0.8v0.8h-0.8z M484.6,252.1h0.8v0.8h-0.8z M488.1,256.8h0.8v0.8h-0.8z M484.3,251.4h0.8v0.8h-0.8z M485.2,252.9h0.8v0.8h-0.8z M485.5,251.8h0.8v0.8h-0.8z M485.8,254.2h0.8v0.8h-0.8z M485.1,258.6h0.8v0.8h-0.8z M488.1,255.1h0.8v0.8h-0.8z M485.5,253.6h0.8v0.8h-0.8z" fill="#222"/>
<path d="M455.6,263.6h0.9v0.9h-0.9z M455.4,264.6h0.9v0.9h-0.9z M458.7,264.8h0.9v0.9h-0.9z M454.8,264.1h0.9v0.9h-0.9z M455.1,264.2h0.9v0.9h-0.9z M456.4,264.7h0.9v0.9h-0.9z M459.4,264.1h0.9v0.9h-0.9z" fill="#222"/>
<path d="M470.4,260.8h0.8v0.8h-0.8z M474.5,258.6h0.8v0.8h-0.8z M468.2,260.6h0.8v0.8h-0.8z M474.3,259.6h0.8v0.8h-0.8z M469.7,261.3h0.8v0.8h-0.8z M468.9,260.8h0.8v0.8h-0.8z M469.1,260.7h0.8v0.8h-0.8z M475.5,259.4h0.8v0.8h-0.8z M469.0,261.0h0.8v0.8h-0.8z M475.0,259.8h0.8v0.8h-0.8z M469.1,261.0h0.8v0.8h-0.8z M470.4,261.4h0.8v0.8h-0.8z" fill="#333"/>
<path d="M349.30,567.00 L349.30,565.65 L349.90,565.65 L349.90,566.56 L350.50,566.56 L350.50,566.70 L351.10,566.70 L351.10,565.65 L351.70,565.65 L351.70,565.73 L352.30,565.73 L352.30,565.96 L352.90,565.96 L352.90,566.64 L353.50,566.64 L353.50,566.52 L354.10,566.52 L354.10,564.54 L354.70,564.54 L354.70,563.73 L355.30,563.73 L355.30,563.15 L355.90,563.15 L355.90,564.02 L356.50,564.02 L356.50,561.78 L357.10,561.78 L357.10,562.27 L357.70,562.27 L357.70,560.98 L358.30,560.98 L358.30,560.26 L358.90,560.26 L358.90,560.37 L359.50,560.37 L359.50,559.41 L360.10,559.41 L360.10,559.58 L360.70,559.58 L360.70,557.85 L361.30,557.85 L361.30,557.49 L361.90,557.49 L361.90,554.87 L362.50,554.87 L362.50,554.00 L363.10,554.00 L363.10,552.14 L363.70,552.14 L363.70,551.14 L364.30,551.14 L364.30,550.32 L364.90,550.32 L364.90,548.01 L365.50,548.01 L365.50,546.79 L366.10,546.79 L366.10,544.26 L366.70,544.26 L366.70,542.32 L367.30,542.32 L367.30,540.81 L367.90,540.81 L367.90,537.55 L368.50,537.55 L368.50,534.96 L369.10,534.96 L369.10,532.83 L369.70,532.83 L369.70,529.53 L370.30,529.53 L370.30,526.42 L370.90,526.42 L370.90,525.50 L371.50,525.50 L371.50,523.47 L372.10,523.47 L372.10,523.38 L372.70,523.38 L372.70,520.80 L373.30,520.80 L373.30,520.05 L373.90,520.05 L373.90,520.46 L374.50,520.46 L374.50,518.14 L375.10,518.14 L375.10,517.53 L375.70,517.53 L375.70,518.17 L376.30,518.17 L376.30,517.64 L376.90,517.64 L376.90,517.81 L377.50,517.81 L377.50,516.39 L378.10,516.39 L378.10,517.82 L378.70,517.82 L378.70,516.84 L379.30,516.84 L379.30,515.17 L379.90,515.17 L379.90,516.46 L380.50,516.46 L380.50,516.18 L381.10,516.18 L381.10,516.64 L381.70,516.64 L381.70,517.40 L382.30,517.40 L382.30,516.66 L382.90,516.66 L382.90,516.42 L383.50,516.42 L383.50,517.50 L384.10,517.50 L384.10,516.63 L384.70,516.63 L384.70,516.08 L385.30,516.08 L385.30,516.30 L385.90,516.30 L385.90,518.26 L386.50,518.26 L386.50,517.95 L387.10,517.95 L387.10,518.54 L387.70,518.54 L387.70,516.82 L388.30,516.82 L388.30,517.33 L388.90,517.33 L388.90,517.48 L389.50,517.48 L389.50,518.84 L390.10,518.84 L390.10,519.32 L390.70,519.32 L390.70,518.77 L391.30,518.77 L391.30,519.15 L391.90,519.15 L391.90,520.51 L392.50,520.51 L392.50,520.76 L393.10,520.76 L393.10,521.56 L393.70,521.56 L393.70,523.15 L394.30,523.15 L394.30,525.50 L394.90,525.50 L394.90,528.21 L395.50,528.21 L395.50,529.20 L396.10,529.20 L396.10,531.28 L396.70,531.28 L396.70,534.14 L397.30,534.14 L397.30,537.02 L397.90,537.02 L397.90,540.02 L398.50,540.02 L398.50,541.92 L399.10,541.92 L399.10,545.52 L399.70,545.52 L399.70,548.40 L400.30,548.40 L400.30,551.88 L400.90,551.88 L400.90,554.00 L401.50,554.00 L401.50,555.78 L402.10,555.78 L402.10,558.67 L402.70,558.67 L402.70,560.39 L403.30,560.39 L403.30,560.60 L403.90,560.60 L403.90,560.21 L404.50,560.21 L404.50,561.49 L405.10,561.49 L405.10,561.02 L405.70,561.02 L405.70,562.36 L406.30,562.36 L406.30,562.52 L406.90,562.52 L406.90,563.27 L407.50,563.27 L407.50,562.70 L408.10,562.70 L408.10,561.30 L408.70,561.30 L408.70,562.07 L409.30,562.07 L409.30,561.79 L409.90,561.79 L409.90,561.81 L410.50,561.81 L410.50,562.31 L411.10,562.31 L411.10,562.44 L411.70,562.44 L411.70,562.22 L412.30,562.22 L412.30,561.83 L412.90,561.83 L412.90,561.98 L413.50,561.98 L413.50,561.96 L414.10,561.96 L414.10,562.19 L414.70,562.19 L414.70,562.84 L415.30,562.84 L415.30,562.48 L415.90,562.48 L415.90,562.96 L416.50,562.96 L416.50,561.60 L417.10,561.60 L417.10,563.77 L417.70,563.77 L417.70,562.45 L418.30,562.45 L418.30,560.63 L418.90,560.63 L418.90,562.54 L419.50,562.54 L419.50,563.09 L420.10,563.09 L420.10,562.31 L420.70,562.31 L420.70,561.40 L421.30,561.40 L421.30,562.41 L421.90,562.41 L421.90,561.87 L422.50,561.87 L422.50,562.23 L423.10,562.23 L423.10,562.56 L423.70,562.56 L423.70,560.09 L424.30,560.09 L424.30,562.25 L424.90,562.25 L424.90,562.68 L425.50,562.68 L425.50,562.64 L426.10,562.64 L426.10,562.03 L426.70,562.03 L426.70,562.01 L427.30,562.01 L427.30,561.76 L427.90,561.76 L427.90,562.20 L428.50,562.20 L428.50,563.30 L429.10,563.30 L429.10,561.93 L429.70,561.93 L429.70,562.52 L430.30,562.52 L430.30,562.50 L430.90,562.50 L430.90,563.34 L431.50,563.34 L431.50,562.70 L432.10,562.70 L432.10,562.81 L432.70,562.81 L432.70,562.33 L433.30,562.33 L433.30,563.32 L433.90,563.32 L433.90,562.26 L434.50,562.26 L434.50,562.21 L435.10,562.21 L435.10,563.08 L435.70,563.08 L435.70,562.74 L436.30,562.74 L436.30,562.90 L436.90,562.90 L436.90,561.66 L437.50,561.66 L437.50,564.07 L438.10,564.07 L438.10,562.54 L438.70,562.54 L438.70,563.47 L439.30,563.47 L439.30,562.64 L439.90,562.64 L439.90,561.79 L440.50,561.79 L440.50,562.88 L441.10,562.88 L441.10,562.41 L441.70,562.41 L441.70,563.18 L442.30,563.18 L442.30,561.32 L442.90,561.32 L442.90,562.14 L443.50,562.14 L443.50,562.09 L444.10,562.09 L444.10,563.92 L444.70,563.92 L444.70,563.87 L445.30,563.87 L445.30,562.46 L445.90,562.46 L445.90,563.47 L446.50,563.47 L446.50,563.62 L447.10,563.62 L447.10,563.32 L447.70,563.32 L447.70,564.54 L448.30,564.54 L448.30,563.22 L448.90,563.22 L448.90,563.84 L449.50,563.84 L449.50,563.60 L450.10,563.60 L450.10,564.48 L450.70,564.48 L450.70,563.72 L451.30,563.72 L451.30,564.65 L451.90,564.65 L451.90,563.56 L452.50,563.56 L452.50,563.51 L453.10,563.51 L453.10,563.73 L453.70,563.73 L453.70,564.08 L454.30,564.08 L454.30,564.07 L454.90,564.07 L454.90,566.48 L455.50,566.48 L455.50,564.07 L456.10,564.07 L456.10,564.92 L456.70,564.92 L456.70,564.73 L457.30,564.73 L457.30,565.06 L457.90,565.06 L457.90,565.90 L458.50,565.90 L458.50,565.37 L459.10,565.37 L459.10,564.59 L459.70,564.59 L459.70,564.12 L460.30,564.12 L460.30,565.60 L460.90,565.60 L460.90,565.85 L461.50,565.85 L461.50,564.26 L462.10,564.26 L462.10,565.94 L462.70,565.94 L462.70,563.91 L463.30,563.91 L463.30,565.37 L463.90,565.37 L463.90,566.06 L464.50,566.06 L464.50,564.79 L465.10,564.79 L465.10,564.32 L465.70,564.32 L465.70,566.54 L466.30,566.54 L466.30,564.47 L466.90,564.47 L466.90,565.78 L467.50,565.78 L467.50,564.57 L468.10,564.57 L468.10,565.91 L468.70,565.91 L468.70,566.70 L469.30,566.70 L469.30,565.34 L469.90,565.34 L469.90,565.07 L470.50,565.07 L470.50,564.28 L471.10,564.28 L471.10,564.56 L471.70,564.56 L471.70,565.31 L472.30,565.31 L472.30,565.99 L472.90,565.99 L472.90,566.21 L473.50,566.21 L473.50,566.08 L474.10,566.08 L474.10,566.48 L474.70,566.48 L474.70,566.11 L475.30,566.11 L475.30,566.70 L475.90,566.70 L475.90,565.84 L476.50,565.84 L476.50,566.01 L477.10,566.01 L477.10,564.21 L477.70,564.21 L477.70,565.50 L478.30,565.50 L478.30,566.39 L478.90,566.39 L478.90,565.68 L479.50,565.68 L479.50,566.70 L480.10,566.70 L480.10,566.54 L480.70,566.54 L480.70,566.70 L481.30,566.70 L481.30,565.15 L481.90,565.15 L481.90,565.76 L482.50,565.76 L482.50,566.70 L483.10,566.70 L483.10,566.26 L483.70,566.26 L483.70,565.57 L484.30,565.57 L484.30,565.91 L484.90,565.91 L484.90,566.00 L485.50,566.00 L485.50,566.70 L486.10,566.70 L486.10,566.70 L486.70,566.70 L486.70,566.26 L487.30,566.26 L487.30,565.69 L487.90,565.69 L487.90,566.70 L488.50,566.70 L488.50,566.70 L489.10,566.70 L489.10,565.58 L489.70,565.58 L489.70,566.70 L490.30,566.70 L490.30,565.66 L490.90,565.66 L490.90,566.26 L491.50,566.26 L491.50,565.82 L492.10,565.82 L492.10,565.23 L492.70,565.23 L492.70,565.98 L493.30,565.98 L493.30,565.93 L493.90,565.93 L493.90,566.70 L494.50,566.70 L494.50,566.70 L495.10,566.70 L495.10,566.06 L495.70,566.06 L495.70,565.44 L496.30,565.44 L496.30,565.55 L496.90,565.55 L496.90,564.91 L497.50,564.91 L497.50,566.33 L498.10,566.33 L498.10,566.41 L498.70,566.41 L498.70,565.85 L499.30,565.85 L499.30,566.55 L499.90,566.55 L499.90,566.61 L500.50,566.61 L500.50,566.70 L501.10,566.70 L501.10,565.89 L501.70,565.89 L501.70,566.70 L502.30,566.70 L502.30,566.23 L502.90,566.23 L502.90,566.70 L503.50,566.70 L503.50,565.83 L504.10,565.83 L504.10,566.70 L504.70,566.70 L504.70,566.01 L505.30,566.01 L505.30,567.00 L505.30,567.00 L504.70,567.00 L504.10,567.00 L503.50,567.00 L502.90,567.00 L502.30,567.00 L501.70,567.00 L501.10,567.00 L500.50,567.00 L499.90,567.00 L499.30,567.00 L498.70,567.00 L498.10,567.00 L497.50,567.00 L496.90,567.00 L496.30,567.00 L495.70,567.00 L495.10,567.00 L494.50,567.00 L493.90,567.00 L493.30,567.00 L492.70,567.00 L492.10,567.00 L491.50,567.00 L490.90,567.00 L490.30,567.00 L489.70,567.00 L489.10,567.00 L488.50,567.00 L487.90,567.00 L487.30,567.00 L486.70,567.00 L486.10,567.00 L485.50,567.00 L484.90,567.00 L484.30,567.00 L483.70,567.00 L483.10,567.00 L482.50,567.00 L481.90,567.00 L481.30,567.00 L480.70,567.00 L480.10,567.00 L479.50,567.00 L478.90,567.00 L478.30,567.00 L477.70,567.00 L477.10,567.00 L476.50,567.00 L475.90,567.00 L475.30,567.00 L474.70,567.00 L474.10,567.00 L473.50,567.00 L472.90,567.00 L472.30,567.00 L471.70,567.00 L471.10,567.00 L470.50,567.00 L469.90,567.00 L469.30,567.00 L468.70,567.00 L468.10,567.00 L467.50,567.00 L466.90,567.00 L466.30,567.00 L465.70,567.00 L465.10,567.00 L464.50,567.00 L463.90,567.00 L463.30,567.00 L462.70,567.00 L462.10,567.00 L461.50,567.00 L460.90,567.00 L460.30,567.00 L459.70,567.00 L459.10,567.00 L458.50,567.00 L457.90,567.00 L457.30,567.00 L456.70,567.00 L456.10,567.00 L455.50,567.00 L454.90,567.00 L454.30,567.00 L453.70,567.00 L453.10,567.00 L452.50,567.00 L451.90,567.00 L451.30,567.00 L450.70,567.00 L450.10,567.00 L449.50,567.00 L448.90,567.00 L448.30,567.00 L447.70,567.00 L447.10,567.00 L446.50,567.00 L445.90,567.00 L445.30,567.00 L444.70,567.00 L444.10,567.00 L443.50,567.00 L442.90,567.00 L442.30,567.00 L441.70,567.00 L441.10,567.00 L440.50,567.00 L439.90,567.00 L439.30,567.00 L438.70,567.00 L438.10,567.00 L437.50,567.00 L436.90,567.00 L436.30,567.00 L435.70,567.00 L435.10,567.00 L434.50,567.00 L433.90,567.00 L433.30,567.00 L432.70,567.00 L432.10,567.00 L431.50,567.00 L430.90,567.00 L430.30,567.00 L429.70,567.00 L429.10,567.00 L428.50,567.00 L427.90,567.00 L427.30,567.00 L426.70,567.00 L426.10,567.00 L425.50,567.00 L424.90,567.00 L424.30,567.00 L423.70,567.00 L423.10,567.00 L422.50,567.00 L421.90,567.00 L421.30,567.00 L420.70,567.00 L420.10,567.00 L419.50,567.00 L418.90,567.00 L418.30,567.00 L417.70,567.00 L417.10,567.00 L416.50,567.00 L415.90,567.00 L415.30,567.00 L414.70,567.00 L414.10,567.00 L413.50,567.00 L412.90,567.00 L412.30,567.00 L411.70,567.00 L411.10,567.00 L410.50,567.00 L409.90,567.00 L409.30,567.00 L408.70,567.00 L408.10,567.00 L407.50,567.00 L406.90,567.00 L406.30,567.00 L405.70,567.00 L405.10,567.00 L404.50,567.00 L403.90,567.00 L403.30,567.00 L402.70,567.00 L402.10,567.00 L401.50,567.00 L400.90,567.00 L400.30,567.00 L399.70,567.00 L399.10,567.00 L398.50,567.00 L397.90,567.00 L397.30,567.00 L396.70,567.00 L396.10,567.00 L395.50,567.00 L394.90,567.00 L394.30,567.00 L393.70,567.00 L393.10,567.00 L392.50,567.00 L391.90,567.00 L391.30,567.00 L390.70,567.00 L390.10,567.00 L389.50,567.00 L388.90,567.00 L388.30,567.00 L387.70,567.00 L387.10,567.00 L386.50,567.00 L385.90,567.00 L385.30,567.00 L384.70,567.00 L384.10,567.00 L383.50,567.00 L382.90,567.00 L382.30,567.00 L381.70,567.00 L381.10,567.00 L380.50,567.00 L379.90,567.00 L379.30,567.00 L378.70,567.00 L378.10,567.00 L377.50,567.00 L376.90,567.00 L376.30,567.00 L375.70,567.00 L375.10,567.00 L374.50,567.00 L373.90,567.00 L373.30,567.00 L372.70,567.00 L372.10,567.00 L371.50,567.00 L370.90,567.00 L370.30,567.00 L369.70,567.00 L369.10,567.00 L368.50,567.00 L367.90,567.00 L367.30,567.00 L366.70,567.00 L366.10,567.00 L365.50,567.00 L364.90,567.00 L364.30,567.00 L363.70,567.00 L363.10,567.00 L362.50,567.00 L361.90,567.00 L361.30,567.00 L360.70,567.00 L360.10,567.00 L359.50,567.00 L358.90,567.00 L358.30,567.00 L357.70,567.00 L357.10,567.00 L356.50,567.00 L355.90,567.00 L355.30,567.00 L354.70,567.00 L354.10,567.00 L353.50,567.00 L352.90,567.00 L352.30,567.00 L351.70,567.00 L351.10,567.00 L350.50,567.00 L349.90,567.00 Z" fill="#b4b4b4" stroke="none"/>
<path d="M355.30,563.95V555.45 M356.50,562.58V551.92 M365.50,547.59V534.30 M366.10,545.06V534.32 M369.10,533.63V521.07 M372.10,524.18V507.01 M373.30,520.85V502.29 M374.50,518.94V495.65 M377.50,517.19V483.02 M379.90,517.26V479.16 M380.50,516.98V477.01 M384.10,517.43V479.36 M387.10,519.34V482.75 M388.90,518.28V479.68 M392.50,521.56V485.72 M394.30,526.30V492.34 M395.50,530.00V496.03 M400.30,552.68V524.98 M403.30,561.40V547.21 M404.50,562.29V550.94 M405.10,561.82V552.14 M410.50,563.11V550.11 M412.30,562.63V550.63 M414.70,563.64V548.45 M415.30,563.28V547.88 M417.10,564.57V549.79 M418.30,561.43V548.85 M418.90,563.34V548.01 M421.90,562.67V548.36 M423.10,563.36V550.36 M424.90,563.48V548.20 M426.10,562.83V551.18 M426.70,562.81V551.53 M428.50,564.10V549.21 M429.10,562.73V548.67 M430.90,564.14V549.93 M431.50,563.50V546.61 M433.30,564.12V550.47 M434.50,563.01V549.78 M435.10,563.88V549.53 M435.70,563.54V550.57 M436.90,562.46V548.18 M437.50,564.87V550.65 M438.10,563.34V548.99 M438.70,564.27V553.72 M440.50,563.68V552.73 M441.10,563.21V550.59 M441.70,563.98V549.97 M442.90,562.94V551.48 M444.70,564.67V550.39 M446.50,564.42V553.28 M447.70,565.34V549.54 M450.70,564.52V550.09 M451.30,565.45V553.17 M451.90,564.36V556.87 M452.50,564.31V553.05 M453.70,564.88V551.88 M456.70,565.53V552.36 M457.90,566.70V559.02 M459.10,565.39V555.89 M464.50,565.59V559.75 M466.30,565.27V559.13 M467.50,565.37V561.60 M469.90,565.87V560.68 M474.10,567.28V564.87 M483.70,566.37V564.96 M484.30,566.71V563.98 M485.50,567.50V565.88 M486.70,567.06V565.52 M488.50,567.50V563.37 M492.70,566.78V565.57 M495.70,566.24V562.93 M496.90,565.71V562.65 M499.30,567.35V564.54" stroke="#8f8f8f" stroke-width="0.75" fill="none"/>
<path d="M349.30,566.45V560.37 M349.90,567.36V559.43 M350.50,567.50V559.52 M351.10,566.45V560.11 M351.70,566.53V557.00 M352.30,566.76V557.01 M352.90,567.44V558.00 M353.50,567.32V561.44 M354.10,565.34V557.49 M354.70,564.53V551.71 M355.90,564.82V554.61 M357.10,563.07V546.99 M357.70,561.78V549.09 M358.30,561.06V550.16 M358.90,561.17V552.01 M359.50,552.31V549.34 M360.10,560.38V546.02 M360.70,558.65V543.72 M361.30,558.29V545.26 M361.90,555.67V542.48 M362.50,554.80V542.69 M363.10,552.94V539.87 M363.70,551.94V541.58 M364.30,551.12V538.19 M364.90,548.81V538.15 M366.70,543.12V528.22 M367.30,541.61V527.86 M367.90,538.35V527.14 M368.50,535.76V525.77 M369.70,530.33V521.42 M370.30,527.22V517.80 M370.90,526.30V508.91 M371.50,524.27V509.70 M372.70,521.60V504.43 M373.90,521.26V496.61 M375.10,518.33V487.87 M375.70,518.97V489.68 M376.30,518.44V483.65 M376.90,489.73V481.23 M378.10,518.62V480.72 M378.70,517.64V478.25 M379.30,515.97V481.77 M381.10,517.44V476.61 M381.70,518.20V480.41 M382.30,517.46V477.69 M382.90,517.22V475.56 M383.50,518.30V478.45 M384.70,516.88V474.94 M385.30,517.10V475.78 M385.90,519.06V481.79 M386.50,518.75V480.43 M387.70,498.43V482.72 M388.30,518.13V481.54 M389.50,519.64V482.91 M390.10,520.12V482.19 M390.70,519.57V485.50 M391.30,519.95V486.22 M391.90,497.04V484.79 M393.10,522.36V487.82 M393.70,523.95V490.91 M394.90,529.01V494.00 M396.10,532.08V503.54 M396.70,534.94V506.45 M397.30,537.82V506.40 M397.90,540.82V511.51 M398.50,542.72V510.88 M399.10,546.32V516.02 M399.70,540.22V521.37 M400.90,554.80V531.49 M401.50,556.58V534.62 M402.10,559.47V536.85 M402.70,561.19V540.60 M403.90,552.71V547.91 M405.70,563.16V549.10 M406.30,563.32V548.59 M406.90,564.07V552.39 M407.50,556.27V551.83 M408.10,562.10V546.61 M408.70,562.87V550.12 M409.30,555.73V548.73 M409.90,554.41V550.00 M411.10,563.24V548.65 M411.70,563.02V551.78 M412.90,556.65V550.56 M413.50,562.76V551.28 M414.10,554.16V545.59 M415.90,563.76V548.04 M416.50,552.44V549.92 M417.70,563.25V552.49 M419.50,563.89V548.24 M420.10,563.11V549.98 M420.70,558.23V550.28 M421.30,553.36V548.77 M422.50,554.96V549.02 M423.70,554.23V551.29 M424.30,563.05V547.45 M425.50,563.44V549.18 M427.30,562.56V547.34 M427.90,550.04V546.67 M429.70,563.32V546.79 M430.30,551.16V547.84 M432.10,563.61V550.31 M432.70,563.13V550.94 M433.90,551.95V547.46 M436.30,563.70V550.01 M439.30,563.44V549.02 M439.90,562.59V547.12 M442.30,551.87V549.18 M443.50,556.39V551.27 M444.10,564.72V554.95 M445.30,563.26V551.34 M445.90,564.27V552.61 M447.10,557.75V547.98 M448.30,564.02V551.45 M448.90,564.64V549.34 M449.50,564.40V555.71 M450.10,565.28V553.33 M453.10,564.53V549.98 M454.30,564.87V553.89 M454.90,567.28V556.48 M455.50,564.87V554.36 M456.10,565.72V554.77 M457.30,565.86V556.42 M458.50,566.17V555.38 M459.70,564.92V556.27 M460.30,566.40V559.26 M460.90,566.65V558.66 M461.50,565.06V561.98 M462.10,566.74V561.94 M462.70,564.71V560.40 M463.30,563.97V560.37 M463.90,566.86V561.70 M465.10,565.12V560.67 M465.70,567.34V557.44 M466.90,561.59V560.15 M468.10,566.71V562.49 M468.70,567.50V560.96 M469.30,560.63V558.98 M470.50,561.08V557.99 M471.10,565.36V561.18 M471.70,566.11V562.38 M472.30,566.79V564.28 M472.90,563.71V561.06 M473.50,562.73V559.37 M474.70,566.91V564.20 M475.30,567.50V566.78 M475.90,566.64V566.01 M477.70,566.30V564.46 M478.30,567.19V566.10 M479.50,567.50V566.04 M480.10,567.34V563.79 M480.70,567.50V564.74 M482.50,567.50V564.27 M483.10,567.06V563.03 M487.90,567.11V566.64 M489.10,565.53V564.52 M489.70,567.50V566.33 M490.90,567.06V565.77 M492.10,563.37V562.15 M493.30,566.73V565.19 M494.50,566.40V566.02 M495.10,566.86V565.32 M498.10,567.21V565.08 M498.70,565.48V563.43 M499.90,567.41V564.17 M500.50,567.50V564.88 M501.10,566.69V565.79 M501.70,567.50V565.33 M502.30,567.03V565.59 M502.90,566.71V564.93 M503.50,566.63V565.34 M504.70,566.81V565.27 M505.30,566.51V564.63" stroke="#111" stroke-width="0.75" fill="none"/>
<path d="M349.30,549.16 L349.75,549.16 L349.75,566.70 L350.20,566.70 L350.20,548.30 L350.65,548.30 L350.65,549.12 L351.10,549.12 L351.10,556.97 L351.55,556.97 L351.55,545.00 L352.00,545.00 L352.00,544.84 L352.45,544.84 L352.45,539.76 L352.90,539.76 L352.90,539.59 L353.35,539.59 L353.35,548.33 L353.80,548.33 L353.80,552.96 L354.25,552.96 L354.25,561.74 L354.70,561.74 L354.70,557.41 L355.15,557.41 L355.15,560.74 L355.60,560.74 L355.60,553.56 L356.05,553.56 L356.05,542.29 L356.50,542.29 L356.50,557.30 L356.95,557.30 L356.95,541.00 L357.40,541.00 L357.40,539.15 L357.85,539.15 L357.85,558.96 L358.30,558.96 L358.30,551.02 L358.75,551.02 L358.75,544.60 L359.20,544.60 L359.20,549.17 L359.65,549.17 L359.65,549.84 L360.10,549.84 L360.10,529.60 L360.55,529.60 L360.55,536.88 L361.00,536.88 L361.00,525.42 L361.45,525.42 L361.45,537.21 L361.90,537.21 L361.90,524.70 L362.35,524.70 L362.35,552.69 L362.80,552.69 L362.80,540.15 L363.25,540.15 L363.25,524.24 L363.70,524.24 L363.70,533.04 L364.15,533.04 L364.15,523.69 L364.60,523.69 L364.60,530.97 L365.05,530.97 L365.05,535.38 L365.50,535.38 L365.50,530.79 L365.95,530.79 L365.95,516.96 L366.40,516.96 L366.40,521.47 L366.85,521.47 L366.85,529.09 L367.30,529.09 L367.30,525.11 L367.75,525.11 L367.75,532.72 L368.20,532.72 L368.20,507.91 L368.65,507.91 L368.65,521.77 L369.10,521.77 L369.10,507.84 L369.55,507.84 L369.55,514.73 L370.00,514.73 L370.00,514.59 L370.45,514.59 L370.45,514.84 L370.90,514.84 L370.90,499.08 L371.35,499.08 L371.35,504.29 L371.80,504.29 L371.80,487.82 L372.25,487.82 L372.25,485.07 L372.70,485.07 L372.70,501.69 L373.15,501.69 L373.15,489.34 L373.60,489.34 L373.60,474.68 L374.05,474.68 L374.05,469.15 L374.50,469.15 L374.50,479.71 L374.95,479.71 L374.95,513.80 L375.40,513.80 L375.40,500.14 L375.85,500.14 L375.85,491.77 L376.30,491.77 L376.30,443.08 L376.75,443.08 L376.75,459.64 L377.20,459.64 L377.20,476.07 L377.65,476.07 L377.65,471.77 L378.10,471.77 L378.10,471.60 L378.55,471.60 L378.55,449.73 L379.00,449.73 L379.00,512.96 L379.45,512.96 L379.45,502.54 L379.90,502.54 L379.90,454.35 L380.35,454.35 L380.35,443.26 L380.80,443.26 L380.80,513.12 L381.25,513.12 L381.25,448.03 L381.70,448.03 L381.70,488.72 L382.15,488.72 L382.15,506.84 L382.60,506.84 L382.60,448.68 L383.05,448.68 L383.05,466.03 L383.50,466.03 L383.50,450.49 L383.95,450.49 L383.95,472.58 L384.40,472.58 L384.40,468.31 L384.85,468.31 L384.85,509.13 L385.30,509.13 L385.30,475.95 L385.75,475.95 L385.75,461.02 L386.20,461.02 L386.20,490.58 L386.65,490.58 L386.65,455.18 L387.10,455.18 L387.10,453.67 L387.55,453.67 L387.55,517.07 L388.00,517.07 L388.00,452.69 L388.45,452.69 L388.45,450.52 L388.90,450.52 L388.90,463.60 L389.35,463.60 L389.35,445.51 L389.80,445.51 L389.80,447.57 L390.25,447.57 L390.25,492.02 L390.70,492.02 L390.70,452.67 L391.15,452.67 L391.15,453.46 L391.60,453.46 L391.60,456.69 L392.05,456.69 L392.05,451.60 L392.50,451.60 L392.50,452.32 L392.95,452.32 L392.95,473.35 L393.40,473.35 L393.40,523.15 L393.85,523.15 L393.85,492.32 L394.30,492.32 L394.30,494.03 L394.75,494.03 L394.75,459.00 L395.20,459.00 L395.20,477.89 L395.65,477.89 L395.65,467.54 L396.10,467.54 L396.10,502.32 L396.55,502.32 L396.55,480.02 L397.00,480.02 L397.00,488.63 L397.45,488.63 L397.45,487.54 L397.90,487.54 L397.90,477.90 L398.35,477.90 L398.35,479.44 L398.80,479.44 L398.80,513.58 L399.25,513.58 L399.25,488.68 L399.70,488.68 L399.70,493.82 L400.15,493.82 L400.15,505.57 L400.60,505.57 L400.60,506.71 L401.05,506.71 L401.05,523.21 L401.50,523.21 L401.50,538.90 L401.95,538.90 L401.95,529.65 L402.40,529.65 L402.40,532.92 L402.85,532.92 L402.85,535.17 L403.30,535.17 L403.30,548.34 L403.75,548.34 L403.75,534.55 L404.20,534.55 L404.20,545.95 L404.65,545.95 L404.65,533.88 L405.10,533.88 L405.10,532.92 L405.55,532.92 L405.55,542.31 L406.00,542.31 L406.00,538.77 L406.45,538.77 L406.45,549.06 L406.90,549.06 L406.90,553.57 L407.35,553.57 L407.35,538.97 L407.80,538.97 L407.80,543.37 L408.25,543.37 L408.25,560.92 L408.70,560.92 L408.70,551.57 L409.15,551.57 L409.15,557.09 L409.60,557.09 L409.60,544.42 L410.05,544.42 L410.05,536.32 L410.50,536.32 L410.50,536.47 L410.95,536.47 L410.95,550.36 L411.40,550.36 L411.40,552.78 L411.85,552.78 L411.85,536.88 L412.30,536.88 L412.30,540.86 L412.75,540.86 L412.75,546.01 L413.20,546.01 L413.20,537.48 L413.65,537.48 L413.65,540.26 L414.10,540.26 L414.10,558.77 L414.55,558.77 L414.55,562.80 L415.00,562.80 L415.00,542.41 L415.45,542.41 L415.45,560.70 L415.90,560.70 L415.90,538.18 L416.35,538.18 L416.35,536.98 L416.80,536.98 L416.80,537.39 L417.25,537.39 L417.25,551.92 L417.70,551.92 L417.70,540.12 L418.15,540.12 L418.15,562.80 L418.60,562.80 L418.60,546.22 L419.05,546.22 L419.05,544.99 L419.50,544.99 L419.50,539.56 L419.95,539.56 L419.95,555.94 L420.40,555.94 L420.40,540.04 L420.85,540.04 L420.85,541.60 L421.30,541.60 L421.30,537.66 L421.75,537.66 L421.75,551.51 L422.20,551.51 L422.20,552.19 L422.65,552.19 L422.65,536.51 L423.10,536.51 L423.10,543.41 L423.55,543.41 L423.55,546.43 L424.00,546.43 L424.00,551.87 L424.45,551.87 L424.45,543.85 L424.90,543.85 L424.90,558.73 L425.35,558.73 L425.35,540.71 L425.80,540.71 L425.80,537.87 L426.25,537.87 L426.25,538.62 L426.70,538.62 L426.70,537.13 L427.15,537.13 L427.15,536.53 L427.60,536.53 L427.60,552.57 L428.05,552.57 L428.05,545.08 L428.50,545.08 L428.50,535.90 L428.95,535.90 L428.95,545.96 L429.40,545.96 L429.40,536.12 L429.85,536.12 L429.85,539.77 L430.30,539.77 L430.30,547.74 L430.75,547.74 L430.75,549.39 L431.20,549.39 L431.20,536.41 L431.65,536.41 L431.65,551.78 L432.10,551.78 L432.10,562.59 L432.55,562.59 L432.55,536.65 L433.00,536.65 L433.00,550.18 L433.45,550.18 L433.45,533.06 L433.90,533.06 L433.90,533.11 L434.35,533.11 L434.35,548.67 L434.80,548.67 L434.80,542.84 L435.25,542.84 L435.25,544.73 L435.70,544.73 L435.70,538.99 L436.15,538.99 L436.15,540.28 L436.60,540.28 L436.60,550.57 L437.05,550.57 L437.05,560.42 L437.50,560.42 L437.50,539.49 L437.95,539.49 L437.95,534.02 L438.40,534.02 L438.40,555.91 L438.85,555.91 L438.85,548.57 L439.30,548.57 L439.30,549.43 L439.75,549.43 L439.75,544.06 L440.20,544.06 L440.20,562.91 L440.65,562.91 L440.65,543.10 L441.10,543.10 L441.10,547.80 L441.55,547.80 L441.55,537.74 L442.00,537.74 L442.00,538.87 L442.45,538.87 L442.45,539.31 L442.90,539.31 L442.90,543.75 L443.35,543.75 L443.35,547.18 L443.80,547.18 L443.80,539.75 L444.25,539.75 L444.25,559.37 L444.70,559.37 L444.70,540.31 L445.15,540.31 L445.15,541.37 L445.60,541.37 L445.60,547.32 L446.05,547.32 L446.05,540.66 L446.50,540.66 L446.50,550.47 L446.95,550.47 L446.95,551.17 L447.40,551.17 L447.40,542.89 L447.85,542.89 L447.85,563.85 L448.30,563.85 L448.30,546.04 L448.75,546.04 L448.75,548.18 L449.20,548.18 L449.20,539.41 L449.65,539.41 L449.65,540.71 L450.10,540.71 L450.10,541.98 L450.55,541.98 L450.55,543.30 L451.00,543.30 L451.00,541.38 L451.45,541.38 L451.45,553.47 L451.90,553.47 L451.90,536.83 L452.35,536.83 L452.35,537.07 L452.80,537.07 L452.80,537.30 L453.25,537.30 L453.25,559.76 L453.70,559.76 L453.70,540.20 L454.15,540.20 L454.15,541.34 L454.60,541.34 L454.60,540.78 L455.05,540.78 L455.05,554.82 L455.50,554.82 L455.50,543.14 L455.95,543.14 L455.95,549.25 L456.40,549.25 L456.40,540.62 L456.85,540.62 L456.85,559.11 L457.30,559.11 L457.30,552.78 L457.75,552.78 L457.75,554.83 L458.20,554.83 L458.20,560.75 L458.65,560.75 L458.65,551.16 L459.10,551.16 L459.10,552.39 L459.55,552.39 L459.55,558.16 L460.00,558.16 L460.00,556.93 L460.45,556.93 L460.45,553.33 L460.90,553.33 L460.90,555.08 L461.35,555.08 L461.35,551.71 L461.80,551.71 L461.80,559.61 L462.25,559.61 L462.25,561.15 L462.70,561.15 L462.70,555.68 L463.15,555.68 L463.15,565.89 L463.60,565.89 L463.60,550.65 L464.05,550.65 L464.05,555.09 L464.50,555.09 L464.50,565.97 L464.95,565.97 L464.95,554.57 L465.40,554.57 L465.40,551.90 L465.85,551.90 L465.85,564.50 L466.30,564.50 L466.30,560.20 L466.75,560.20 L466.75,553.00 L467.20,553.00 L467.20,561.54 L467.65,561.54 L467.65,554.07 L468.10,554.07 L468.10,553.50 L468.55,553.50 L468.55,557.39 L469.00,557.39 L469.00,555.50 L469.45,555.50 L469.45,552.17 L469.90,552.17 L469.90,556.82 L470.35,556.82 L470.35,554.48 L470.80,554.48 L470.80,559.84 L471.25,559.84 L471.25,559.74 L471.70,559.74 L471.70,563.16 L472.15,563.16 L472.15,558.32 L472.60,558.32 L472.60,555.12 L473.05,555.12 L473.05,554.83 L473.50,554.83 L473.50,559.63 L473.95,559.63 L473.95,566.39 L474.40,566.39 L474.40,565.12 L474.85,565.12 L474.85,559.67 L475.30,559.67 L475.30,565.49 L475.75,565.49 L475.75,560.10 L476.20,560.10 L476.20,565.76 L476.65,565.76 L476.65,562.85 L477.10,562.85 L477.10,565.41 L477.55,565.41 L477.55,565.24 L478.00,565.24 L478.00,563.49 L478.45,563.49 L478.45,564.78 L478.90,564.78 L478.90,561.68 L479.35,561.68 L479.35,564.13 L479.80,564.13 L479.80,566.43 L480.25,566.43 L480.25,566.62 L480.70,566.62 L480.70,565.81 L481.15,565.81 L481.15,565.00 L481.60,565.00 L481.60,563.66 L482.05,563.66 L482.05,566.38 L482.50,566.38 L482.50,563.37 L482.95,563.37 L482.95,564.54 L483.40,564.54 L483.40,565.73 L483.85,565.73 L483.85,564.54 L484.30,564.54 L484.30,566.70 L484.75,566.70 L484.75,566.51 L485.20,566.51 L485.20,565.00 L485.65,565.00 L485.65,565.09 L486.10,565.09 L486.10,564.57 L486.55,564.57 L486.55,564.67 L487.00,564.67 L487.00,566.11 L487.45,566.11 L487.45,566.26 L487.90,566.26 L487.90,566.09 L488.35,566.09 L488.35,566.05 L488.80,566.05 L488.80,565.50 L489.25,565.50 L489.25,566.17 L489.70,566.17 L489.70,565.08 L490.15,565.08 L490.15,566.02 L490.60,566.02 L490.60,566.70 L491.05,566.70 L491.05,566.70 L491.50,566.70 L491.50,565.97 L491.95,565.97 L491.95,566.01 L492.40,566.01 L492.40,566.70 L492.85,566.70 L492.85,566.70 L493.30,566.70 L493.30,565.11 L493.75,565.11 L493.75,565.84 L494.20,565.84 L494.20,566.26 L494.65,566.26 L494.65,566.70 L495.10,566.70 L495.10,565.76 L495.55,565.76 L495.55,566.52 L496.00,566.52 L496.00,566.04 L496.45,566.04 L496.45,566.70 L496.90,566.70 L496.90,566.45 L497.35,566.45 L497.35,566.24 L497.80,566.24 L497.80,566.23 L498.25,566.23 L498.25,566.67 L498.70,566.67 L498.70,566.57 L499.15,566.57 L499.15,566.12 L499.60,566.12 L499.60,566.47 L500.05,566.47 L500.05,566.12 L500.50,566.12 L500.50,566.28 L500.95,566.28 L500.95,566.20 L501.40,566.20 L501.40,566.22 L501.85,566.22 L501.85,566.34 L502.30,566.34 L502.30,566.27 L502.75,566.27 L502.75,566.58 L503.20,566.58 L503.20,566.64 L503.65,566.64 L503.65,566.43 L504.10,566.43 L504.10,566.25 L504.55,566.25 L504.55,566.65 L505.00,566.65 L505.00,566.10 L505.45,566.10 L505.45,566.14 " fill="none" stroke="#000" stroke-width="0.75"/>
<path d="M349.30,562.42 L349.75,562.42 L349.75,561.37 L350.20,561.37 L350.20,563.34 L350.65,563.34 L350.65,553.95 L351.10,553.95 L351.10,547.44 L351.55,547.44 L351.55,549.37 L352.00,549.37 L352.00,558.28 L352.45,558.28 L352.45,543.01 L352.90,543.01 L352.90,542.65 L353.35,542.65 L353.35,537.61 L353.80,537.61 L353.80,536.65 L354.25,536.65 L354.25,558.78 L354.70,558.78 L354.70,553.51 L355.15,553.51 L355.15,537.42 L355.60,537.42 L355.60,538.15 L356.05,538.15 L356.05,541.41 L356.50,541.41 L356.50,551.85 L356.95,551.85 L356.95,537.73 L357.40,537.73 L357.40,543.48 L357.85,543.48 L357.85,536.49 L358.30,536.49 L358.30,535.60 L358.75,535.60 L358.75,546.72 L359.20,546.72 L359.20,550.83 L359.65,550.83 L359.65,531.40 L360.10,531.40 L360.10,530.33 L360.55,530.33 L360.55,547.78 L361.00,547.78 L361.00,531.89 L361.45,531.89 L361.45,528.30 L361.90,528.30 L361.90,541.96 L362.35,541.96 L362.35,536.61 L362.80,536.61 L362.80,547.87 L363.25,547.87 L363.25,542.58 L363.70,542.58 L363.70,527.57 L364.15,527.57 L364.15,530.77 L364.60,530.77 L364.60,529.99 L365.05,529.99 L365.05,519.27 L365.50,519.27 L365.50,517.71 L365.95,517.71 L365.95,537.70 L366.40,537.70 L366.40,516.17 L366.85,516.17 L366.85,534.41 L367.30,534.41 L367.30,525.04 L367.75,525.04 L367.75,518.34 L368.20,518.34 L368.20,524.05 L368.65,524.05 L368.65,521.41 L369.10,521.41 L369.10,527.05 L369.55,527.05 L369.55,509.27 L370.00,509.27 L370.00,509.14 L370.45,509.14 L370.45,506.15 L370.90,506.15 L370.90,525.74 L371.35,525.74 L371.35,513.91 L371.80,513.91 L371.80,487.82 L372.25,487.82 L372.25,491.41 L372.70,491.41 L372.70,482.58 L373.15,482.58 L373.15,490.68 L373.60,490.68 L373.60,490.80 L374.05,490.80 L374.05,519.28 L374.50,519.28 L374.50,463.43 L374.95,463.43 L374.95,501.40 L375.40,501.40 L375.40,484.45 L375.85,484.45 L375.85,449.37 L376.30,449.37 L376.30,461.73 L376.75,461.73 L376.75,447.42 L377.20,447.42 L377.20,462.53 L377.65,462.53 L377.65,493.18 L378.10,493.18 L378.10,434.20 L378.55,434.20 L378.55,501.06 L379.00,501.06 L379.00,445.90 L379.45,445.90 L379.45,504.11 L379.90,504.11 L379.90,469.98 L380.35,469.98 L380.35,492.96 L380.80,492.96 L380.80,473.64 L381.25,473.64 L381.25,486.76 L381.70,486.76 L381.70,460.12 L382.15,460.12 L382.15,448.51 L382.60,448.51 L382.60,476.05 L383.05,476.05 L383.05,477.30 L383.50,477.30 L383.50,512.55 L383.95,512.55 L383.95,450.47 L384.40,450.47 L384.40,456.13 L384.85,456.13 L384.85,487.83 L385.30,487.83 L385.30,450.28 L385.75,450.28 L385.75,456.00 L386.20,456.00 L386.20,516.99 L386.65,516.99 L386.65,498.66 L387.10,498.66 L387.10,452.15 L387.55,452.15 L387.55,498.26 L388.00,498.26 L388.00,493.06 L388.45,493.06 L388.45,483.59 L388.90,483.59 L388.90,473.46 L389.35,473.46 L389.35,469.52 L389.80,469.52 L389.80,447.57 L390.25,447.57 L390.25,450.77 L390.70,450.77 L390.70,484.54 L391.15,484.54 L391.15,470.30 L391.60,470.30 L391.60,515.65 L392.05,515.65 L392.05,458.86 L392.50,458.86 L392.50,452.32 L392.95,452.32 L392.95,460.27 L393.40,460.27 L393.40,478.65 L393.85,478.65 L393.85,483.02 L394.30,483.02 L394.30,475.74 L394.75,475.74 L394.75,459.00 L395.20,459.00 L395.20,516.99 L395.65,516.99 L395.65,467.54 L396.10,467.54 L396.10,501.60 L396.55,501.60 L396.55,479.30 L397.00,479.30 L397.00,470.65 L397.45,470.65 L397.45,528.05 L397.90,528.05 L397.90,475.31 L398.35,475.31 L398.35,479.44 L398.80,479.44 L398.80,510.87 L399.25,510.87 L399.25,495.95 L399.70,495.95 L399.70,523.95 L400.15,523.95 L400.15,510.03 L400.60,510.03 L400.60,508.14 L401.05,508.14 L401.05,554.66 L401.50,554.66 L401.50,519.06 L401.95,519.06 L401.95,523.83 L402.40,523.83 L402.40,522.79 L402.85,522.79 L402.85,528.02 L403.30,528.02 L403.30,546.43 L403.75,546.43 L403.75,547.74 L404.20,547.74 L404.20,542.48 L404.65,542.48 L404.65,534.83 L405.10,534.83 L405.10,550.40 L405.55,550.40 L405.55,533.42 L406.00,533.42 L406.00,539.66 L406.45,539.66 L406.45,541.38 L406.90,541.38 L406.90,538.98 L407.35,538.98 L407.35,545.66 L407.80,545.66 L407.80,539.03 L408.25,539.03 L408.25,539.16 L408.70,539.16 L408.70,560.18 L409.15,560.18 L409.15,550.94 L409.60,550.94 L409.60,555.48 L410.05,555.48 L410.05,544.19 L410.50,544.19 L410.50,553.34 L410.95,553.34 L410.95,551.49 L411.40,551.49 L411.40,555.72 L411.85,555.72 L411.85,562.80 L412.30,562.80 L412.30,541.72 L412.75,541.72 L412.75,546.44 L413.20,546.44 L413.20,543.53 L413.65,543.53 L413.65,537.54 L414.10,537.54 L414.10,537.55 L414.55,537.55 L414.55,544.13 L415.00,544.13 L415.00,549.86 L415.45,549.86 L415.45,538.33 L415.90,538.33 L415.90,554.55 L416.35,554.55 L416.35,555.96 L416.80,555.96 L416.80,539.72 L417.25,539.72 L417.25,556.62 L417.70,556.62 L417.70,559.07 L418.15,559.07 L418.15,547.83 L418.60,547.83 L418.60,539.46 L419.05,539.46 L419.05,556.08 L419.50,556.08 L419.50,542.51 L419.95,542.51 L419.95,540.62 L420.40,540.62 L420.40,544.68 L420.85,544.68 L420.85,538.72 L421.30,538.72 L421.30,553.29 L421.75,553.29 L421.75,550.63 L422.20,550.63 L422.20,554.97 L422.65,554.97 L422.65,548.82 L423.10,548.82 L423.10,536.25 L423.55,536.25 L423.55,541.62 L424.00,541.62 L424.00,551.58 L424.45,551.58 L424.45,539.65 L424.90,539.65 L424.90,562.80 L425.35,562.80 L425.35,541.23 L425.80,541.23 L425.80,538.12 L426.25,538.12 L426.25,553.99 L426.70,553.99 L426.70,550.38 L427.15,550.38 L427.15,542.86 L427.60,542.86 L427.60,540.66 L428.05,540.66 L428.05,547.28 L428.50,547.28 L428.50,551.42 L428.95,551.42 L428.95,550.67 L429.40,550.67 L429.40,540.01 L429.85,540.01 L429.85,547.36 L430.30,547.36 L430.30,551.35 L430.75,551.35 L430.75,550.54 L431.20,550.54 L431.20,536.41 L431.65,536.41 L431.65,535.17 L432.10,535.17 L432.10,533.97 L432.55,533.97 L432.55,539.56 L433.00,539.56 L433.00,544.32 L433.45,544.32 L433.45,552.88 L433.90,552.88 L433.90,549.38 L434.35,549.38 L434.35,541.13 L434.80,541.13 L434.80,543.19 L435.25,543.19 L435.25,559.77 L435.70,559.77 L435.70,538.99 L436.15,538.99 L436.15,546.24 L436.60,546.24 L436.60,558.52 L437.05,558.52 L437.05,546.39 L437.50,546.39 L437.50,533.92 L437.95,533.92 L437.95,546.65 L438.40,546.65 L438.40,538.35 L438.85,538.35 L438.85,541.49 L439.30,541.49 L439.30,553.95 L439.75,553.95 L439.75,547.71 L440.20,547.71 L440.20,539.84 L440.65,539.84 L440.65,552.21 L441.10,552.21 L441.10,547.53 L441.55,547.53 L441.55,544.60 L442.00,544.60 L442.00,546.66 L442.45,546.66 L442.45,546.43 L442.90,546.43 L442.90,541.53 L443.35,541.53 L443.35,540.69 L443.80,540.69 L443.80,545.05 L444.25,545.05 L444.25,540.03 L444.70,540.03 L444.70,540.31 L445.15,540.31 L445.15,556.43 L445.60,556.43 L445.60,543.74 L446.05,543.74 L446.05,545.70 L446.50,545.70 L446.50,544.90 L446.95,544.90 L446.95,546.35 L447.40,546.35 L447.40,546.24 L447.85,546.24 L447.85,546.52 L448.30,546.52 L448.30,537.72 L448.75,537.72 L448.75,555.21 L449.20,555.21 L449.20,539.76 L449.65,539.76 L449.65,555.69 L450.10,555.69 L450.10,541.98 L450.55,541.98 L450.55,540.48 L451.00,540.48 L451.00,555.92 L451.45,555.92 L451.45,544.41 L451.90,544.41 L451.90,538.55 L452.35,538.55 L452.35,549.94 L452.80,549.94 L452.80,537.30 L453.25,537.30 L453.25,546.93 L453.70,546.93 L453.70,538.53 L454.15,538.53 L454.15,542.43 L454.60,542.43 L454.60,541.25 L455.05,541.25 L455.05,552.09 L455.50,552.09 L455.50,555.41 L455.95,555.41 L455.95,540.40 L456.40,540.40 L456.40,563.28 L456.85,563.28 L456.85,543.52 L457.30,543.52 L457.30,542.65 L457.75,542.65 L457.75,543.88 L458.20,543.88 L458.20,563.43 L458.65,563.43 L458.65,552.21 L459.10,552.21 L459.10,549.77 L459.55,549.77 L459.55,550.43 L460.00,550.43 L460.00,550.56 L460.45,550.56 L460.45,562.73 L460.90,562.73 L460.90,554.61 L461.35,554.61 L461.35,565.76 L461.80,565.76 L461.80,554.22 L462.25,554.22 L462.25,549.67 L462.70,549.67 L462.70,561.05 L463.15,561.05 L463.15,554.00 L463.60,554.00 L463.60,555.06 L464.05,555.06 L464.05,565.47 L464.50,565.47 L464.50,555.48 L464.95,555.48 L464.95,563.34 L465.40,563.34 L465.40,557.25 L465.85,557.25 L465.85,553.53 L466.30,553.53 L466.30,560.24 L466.75,560.24 L466.75,555.02 L467.20,555.02 L467.20,563.84 L467.65,563.84 L467.65,562.64 L468.10,562.64 L468.10,558.73 L468.55,558.73 L468.55,561.50 L469.00,561.50 L469.00,561.45 L469.45,561.45 L469.45,556.99 L469.90,556.99 L469.90,563.46 L470.35,563.46 L470.35,558.30 L470.80,558.30 L470.80,562.34 L471.25,562.34 L471.25,556.13 L471.70,556.13 L471.70,560.66 L472.15,560.66 L472.15,562.21 L472.60,562.21 L472.60,557.27 L473.05,557.27 L473.05,558.95 L473.50,558.95 L473.50,558.53 L473.95,558.53 L473.95,564.67 L474.40,564.67 L474.40,558.56 L474.85,558.56 L474.85,563.83 L475.30,563.83 L475.30,566.44 L475.75,566.44 L475.75,564.12 L476.20,564.12 L476.20,559.83 L476.65,559.83 L476.65,564.05 L477.10,564.05 L477.10,566.04 L477.55,566.04 L477.55,563.58 L478.00,563.58 L478.00,566.44 L478.45,566.44 L478.45,565.52 L478.90,565.52 L478.90,565.16 L479.35,565.16 L479.35,563.87 L479.80,563.87 L479.80,563.64 L480.25,563.64 L480.25,564.32 L480.70,564.32 L480.70,564.95 L481.15,564.95 L481.15,565.68 L481.60,565.68 L481.60,565.60 L482.05,565.60 L482.05,564.77 L482.50,564.77 L482.50,565.33 L482.95,565.33 L482.95,565.74 L483.40,565.74 L483.40,564.09 L483.85,564.09 L483.85,564.94 L484.30,564.94 L484.30,564.89 L484.75,564.89 L484.75,565.40 L485.20,565.40 L485.20,565.33 L485.65,565.33 L485.65,565.42 L486.10,565.42 L486.10,564.99 L486.55,564.99 L486.55,566.29 L487.00,566.29 L487.00,566.03 L487.45,566.03 L487.45,564.69 L487.90,564.69 L487.90,565.89 L488.35,565.89 L488.35,565.09 L488.80,565.09 L488.80,566.70 L489.25,566.70 L489.25,565.68 L489.70,565.68 L489.70,565.77 L490.15,565.77 L490.15,566.10 L490.60,566.10 L490.60,565.99 L491.05,565.99 L491.05,566.11 L491.50,566.11 L491.50,566.70 L491.95,566.70 L491.95,566.27 L492.40,566.27 L492.40,566.56 L492.85,566.56 L492.85,566.70 L493.30,566.70 L493.30,565.48 L493.75,565.48 L493.75,566.70 L494.20,566.70 L494.20,566.55 L494.65,566.55 L494.65,566.70 L495.10,566.70 L495.10,565.78 L495.55,565.78 L495.55,566.64 L496.00,566.64 L496.00,566.45 L496.45,566.45 L496.45,565.96 L496.90,565.96 L496.90,566.70 L497.35,566.70 L497.35,566.54 L497.80,566.54 L497.80,566.28 L498.25,566.28 L498.25,566.45 L498.70,566.45 L498.70,566.65 L499.15,566.65 L499.15,566.70 L499.60,566.70 L499.60,566.57 L500.05,566.57 L500.05,566.70 L500.50,566.70 L500.50,566.70 L500.95,566.70 L500.95,566.22 L501.40,566.22 L501.40,566.39 L501.85,566.39 L501.85,566.30 L502.30,566.30 L502.30,566.50 L502.75,566.50 L502.75,566.70 L503.20,566.70 L503.20,566.63 L503.65,566.63 L503.65,566.28 L504.10,566.28 L504.10,566.44 L504.55,566.44 L504.55,566.70 L505.00,566.70 L505.00,566.40 L505.45,566.40 L505.45,566.49 " fill="none" stroke="#000" stroke-width="0.75"/>
<path d="M349.30,559.42 L349.75,559.42 L349.75,547.31 L350.20,547.31 L350.20,562.31 L350.65,562.31 L350.65,558.53 L351.10,558.53 L351.10,559.73 L351.55,559.73 L351.55,545.88 L352.00,545.88 L352.00,545.77 L352.45,545.77 L352.45,545.63 L352.90,545.63 L352.90,554.32 L353.35,554.32 L353.35,551.56 L353.80,551.56 L353.80,551.54 L354.25,551.54 L354.25,565.16 L354.70,565.16 L354.70,564.00 L355.15,564.00 L355.15,540.81 L355.60,540.81 L355.60,541.56 L356.05,541.56 L356.05,563.47 L356.50,563.47 L356.50,543.95 L356.95,543.95 L356.95,559.74 L357.40,559.74 L357.40,560.99 L357.85,560.99 L357.85,539.61 L358.30,539.61 L358.30,541.37 L358.75,541.37 L358.75,543.98 L359.20,543.98 L359.20,533.21 L359.65,533.21 L359.65,531.40 L360.10,531.40 L360.10,535.39 L360.55,535.39 L360.55,549.17 L361.00,549.17 L361.00,532.00 L361.45,532.00 L361.45,533.77 L361.90,533.77 L361.90,528.72 L362.35,528.72 L362.35,520.69 L362.80,520.69 L362.80,553.34 L363.25,553.34 L363.25,524.16 L363.70,524.16 L363.70,527.46 L364.15,527.46 L364.15,538.57 L364.60,538.57 L364.60,521.49 L365.05,521.49 L365.05,536.92 L365.50,536.92 L365.50,543.21 L365.95,543.21 L365.95,517.59 L366.40,517.59 L366.40,528.27 L366.85,528.27 L366.85,515.32 L367.30,515.32 L367.30,528.12 L367.75,528.12 L367.75,521.60 L368.20,521.60 L368.20,521.04 L368.65,521.04 L368.65,532.11 L369.10,532.11 L369.10,520.09 L369.55,520.09 L369.55,526.22 L370.00,526.22 L370.00,517.26 L370.45,517.26 L370.45,502.21 L370.90,502.21 L370.90,508.91 L371.35,508.91 L371.35,509.00 L371.80,509.00 L371.80,487.82 L372.25,487.82 L372.25,516.62 L372.70,516.62 L372.70,495.40 L373.15,495.40 L373.15,497.36 L373.60,497.36 L373.60,474.68 L374.05,474.68 L374.05,485.96 L374.50,485.96 L374.50,487.62 L374.95,487.62 L374.95,469.58 L375.40,469.58 L375.40,476.53 L375.85,476.53 L375.85,447.60 L376.30,447.60 L376.30,509.41 L376.75,509.41 L376.75,438.93 L377.20,438.93 L377.20,435.81 L377.65,435.81 L377.65,434.06 L378.10,434.06 L378.10,434.20 L378.55,434.20 L378.55,477.65 L379.00,477.65 L379.00,436.93 L379.45,436.93 L379.45,468.18 L379.90,468.18 L379.90,440.61 L380.35,440.61 L380.35,517.00 L380.80,517.00 L380.80,474.55 L381.25,474.55 L381.25,510.54 L381.70,510.54 L381.70,448.37 L382.15,448.37 L382.15,477.03 L382.60,477.03 L382.60,448.68 L383.05,448.68 L383.05,475.26 L383.50,475.26 L383.50,478.11 L383.95,478.11 L383.95,450.47 L384.40,450.47 L384.40,451.17 L384.85,451.17 L384.85,450.88 L385.30,450.88 L385.30,450.28 L385.75,450.28 L385.75,449.69 L386.20,449.69 L386.20,449.50 L386.65,449.50 L386.65,450.71 L387.10,450.71 L387.10,466.93 L387.55,466.93 L387.55,478.19 L388.00,478.19 L388.00,452.69 L388.45,452.69 L388.45,450.52 L388.90,450.52 L388.90,464.60 L389.35,464.60 L389.35,457.42 L389.80,457.42 L389.80,447.57 L390.25,447.57 L390.25,487.40 L390.70,487.40 L390.70,488.53 L391.15,488.53 L391.15,485.00 L391.60,485.00 L391.60,462.84 L392.05,462.84 L392.05,520.62 L392.50,520.62 L392.50,516.97 L392.95,516.97 L392.95,459.57 L393.40,459.57 L393.40,468.49 L393.85,468.49 L393.85,507.30 L394.30,507.30 L394.30,454.35 L394.75,454.35 L394.75,488.13 L395.20,488.13 L395.20,481.42 L395.65,481.42 L395.65,467.54 L396.10,467.54 L396.10,479.67 L396.55,479.67 L396.55,470.33 L397.00,470.33 L397.00,475.42 L397.45,475.42 L397.45,471.73 L397.90,471.73 L397.90,540.03 L398.35,540.03 L398.35,535.43 L398.80,535.43 L398.80,530.61 L399.25,530.61 L399.25,511.78 L399.70,511.78 L399.70,530.01 L400.15,530.01 L400.15,537.19 L400.60,537.19 L400.60,534.27 L401.05,534.27 L401.05,535.53 L401.50,535.53 L401.50,512.82 L401.95,512.82 L401.95,533.50 L402.40,533.50 L402.40,523.79 L402.85,523.79 L402.85,528.02 L403.30,528.02 L403.30,531.61 L403.75,531.61 L403.75,546.64 L404.20,546.64 L404.20,553.86 L404.65,553.86 L404.65,533.88 L405.10,533.88 L405.10,562.54 L405.55,562.54 L405.55,559.79 L406.00,559.79 L406.00,539.51 L406.45,539.51 L406.45,539.58 L406.90,539.58 L406.90,543.89 L407.35,543.89 L407.35,553.08 L407.80,553.08 L407.80,541.21 L408.25,541.21 L408.25,539.16 L408.70,539.16 L408.70,547.50 L409.15,547.50 L409.15,537.85 L409.60,537.85 L409.60,545.39 L410.05,545.39 L410.05,555.49 L410.50,555.49 L410.50,546.93 L410.95,546.93 L410.95,551.63 L411.40,551.63 L411.40,548.80 L411.85,548.80 L411.85,551.08 L412.30,551.08 L412.30,545.43 L412.75,545.43 L412.75,537.30 L413.20,537.30 L413.20,542.00 L413.65,542.00 L413.65,543.43 L414.10,543.43 L414.10,555.95 L414.55,555.95 L414.55,559.34 L415.00,559.34 L415.00,547.94 L415.45,547.94 L415.45,537.34 L415.90,537.34 L415.90,537.16 L416.35,537.16 L416.35,541.84 L416.80,541.84 L416.80,556.76 L417.25,556.76 L417.25,546.81 L417.70,546.81 L417.70,543.41 L418.15,543.41 L418.15,539.42 L418.60,539.42 L418.60,551.30 L419.05,551.30 L419.05,546.32 L419.50,546.32 L419.50,543.48 L419.95,543.48 L419.95,544.69 L420.40,544.69 L420.40,558.31 L420.85,558.31 L420.85,542.12 L421.30,542.12 L421.30,558.99 L421.75,558.99 L421.75,555.04 L422.20,555.04 L422.20,543.70 L422.65,543.70 L422.65,551.83 L423.10,551.83 L423.10,541.83 L423.55,541.83 L423.55,536.70 L424.00,536.70 L424.00,540.75 L424.45,540.75 L424.45,537.64 L424.90,537.64 L424.90,548.13 L425.35,548.13 L425.35,543.59 L425.80,543.59 L425.80,548.65 L426.25,548.65 L426.25,551.03 L426.70,551.03 L426.70,537.13 L427.15,537.13 L427.15,546.18 L427.60,546.18 L427.60,535.93 L428.05,535.93 L428.05,544.65 L428.50,544.65 L428.50,535.90 L428.95,535.90 L428.95,544.04 L429.40,544.04 L429.40,556.68 L429.85,556.68 L429.85,536.45 L430.30,536.45 L430.30,545.04 L430.75,545.04 L430.75,542.54 L431.20,542.54 L431.20,536.41 L431.65,536.41 L431.65,549.58 L432.10,549.58 L432.10,542.87 L432.55,542.87 L432.55,536.33 L433.00,536.33 L433.00,533.91 L433.45,533.91 L433.45,562.80 L433.90,562.80 L433.90,537.75 L434.35,537.75 L434.35,534.09 L434.80,534.09 L434.80,535.81 L435.25,535.81 L435.25,539.95 L435.70,539.95 L435.70,540.46 L436.15,540.46 L436.15,542.73 L436.60,542.73 L436.60,536.42 L437.05,536.42 L437.05,548.47 L437.50,548.47 L437.50,537.11 L437.95,537.11 L437.95,534.02 L438.40,534.02 L438.40,534.30 L438.85,534.30 L438.85,538.60 L439.30,538.60 L439.30,551.78 L439.75,551.78 L439.75,547.87 L440.20,547.87 L440.20,539.04 L440.65,539.04 L440.65,543.06 L441.10,543.06 L441.10,545.35 L441.55,545.35 L441.55,562.61 L442.00,562.61 L442.00,538.87 L442.45,538.87 L442.45,548.28 L442.90,548.28 L442.90,550.68 L443.35,550.68 L443.35,539.61 L443.80,539.61 L443.80,546.46 L444.25,546.46 L444.25,546.47 L444.70,546.47 L444.70,541.36 L445.15,541.36 L445.15,550.30 L445.60,550.30 L445.60,554.37 L446.05,554.37 L446.05,555.45 L446.50,555.45 L446.50,544.42 L446.95,544.42 L446.95,547.79 L447.40,547.79 L447.40,564.11 L447.85,564.11 L447.85,538.65 L448.30,538.65 L448.30,547.98 L448.75,547.98 L448.75,554.79 L449.20,554.79 L449.20,547.66 L449.65,547.66 L449.65,552.37 L450.10,552.37 L450.10,548.38 L450.55,548.38 L450.55,553.37 L451.00,553.37 L451.00,558.74 L451.45,558.74 L451.45,543.65 L451.90,543.65 L451.90,547.96 L452.35,547.96 L452.35,545.32 L452.80,545.32 L452.80,541.71 L453.25,541.71 L453.25,545.91 L453.70,545.91 L453.70,538.53 L454.15,538.53 L454.15,553.89 L454.60,553.89 L454.60,562.50 L455.05,562.50 L455.05,562.35 L455.50,562.35 L455.50,559.08 L455.95,559.08 L455.95,540.40 L456.40,540.40 L456.40,562.45 L456.85,562.45 L456.85,542.40 L457.30,542.40 L457.30,549.34 L457.75,549.34 L457.75,565.41 L458.20,565.41 L458.20,545.27 L458.65,545.27 L458.65,558.46 L459.10,558.46 L459.10,555.42 L459.55,555.42 L459.55,553.68 L460.00,553.68 L460.00,550.56 L460.45,550.56 L460.45,557.43 L460.90,557.43 L460.90,552.32 L461.35,552.32 L461.35,561.79 L461.80,561.79 L461.80,563.08 L462.25,563.08 L462.25,549.67 L462.70,549.67 L462.70,552.88 L463.15,552.88 L463.15,554.29 L463.60,554.29 L463.60,550.65 L464.05,550.65 L464.05,551.06 L464.50,551.06 L464.50,557.40 L464.95,557.40 L464.95,555.98 L465.40,555.98 L465.40,551.90 L465.85,551.90 L465.85,554.65 L466.30,554.65 L466.30,560.30 L466.75,560.30 L466.75,553.00 L467.20,553.00 L467.20,553.93 L467.65,553.93 L467.65,565.38 L468.10,565.38 L468.10,564.61 L468.55,564.61 L468.55,552.81 L469.00,552.81 L469.00,552.14 L469.45,552.14 L469.45,560.60 L469.90,560.60 L469.90,553.04 L470.35,553.04 L470.35,558.18 L470.80,558.18 L470.80,557.91 L471.25,557.91 L471.25,562.33 L471.70,562.33 L471.70,555.18 L472.15,555.18 L472.15,555.17 L472.60,555.17 L472.60,555.38 L473.05,555.38 L473.05,565.39 L473.50,565.39 L473.50,560.28 L473.95,560.28 L473.95,554.56 L474.40,554.56 L474.40,563.78 L474.85,563.78 L474.85,564.81 L475.30,564.81 L475.30,561.97 L475.75,561.97 L475.75,562.35 L476.20,562.35 L476.20,564.52 L476.65,564.52 L476.65,566.34 L477.10,566.34 L477.10,564.30 L477.55,564.30 L477.55,565.16 L478.00,565.16 L478.00,564.06 L478.45,564.06 L478.45,563.35 L478.90,563.35 L478.90,562.13 L479.35,562.13 L479.35,564.90 L479.80,564.90 L479.80,564.01 L480.25,564.01 L480.25,564.32 L480.70,564.32 L480.70,566.21 L481.15,566.21 L481.15,565.62 L481.60,565.62 L481.60,566.17 L482.05,566.17 L482.05,563.19 L482.50,563.19 L482.50,565.86 L482.95,565.86 L482.95,564.79 L483.40,564.79 L483.40,564.78 L483.85,564.78 L483.85,564.86 L484.30,564.86 L484.30,566.57 L484.75,566.57 L484.75,566.31 L485.20,566.31 L485.20,564.90 L485.65,564.90 L485.65,564.61 L486.10,564.61 L486.10,565.72 L486.55,565.72 L486.55,565.42 L487.00,565.42 L487.00,566.70 L487.45,566.70 L487.45,564.81 L487.90,564.81 L487.90,564.56 L488.35,564.56 L488.35,565.71 L488.80,565.71 L488.80,565.93 L489.25,565.93 L489.25,566.05 L489.70,566.05 L489.70,566.46 L490.15,566.46 L490.15,566.70 L490.60,566.70 L490.60,565.91 L491.05,565.91 L491.05,565.89 L491.50,565.89 L491.50,565.48 L491.95,565.48 L491.95,566.27 L492.40,566.27 L492.40,566.56 L492.85,566.56 L492.85,565.97 L493.30,565.97 L493.30,566.70 L493.75,566.70 L493.75,566.15 L494.20,566.15 L494.20,566.70 L494.65,566.70 L494.65,566.36 L495.10,566.36 L495.10,565.68 L495.55,565.68 L495.55,565.89 L496.00,565.89 L496.00,565.43 L496.45,565.43 L496.45,565.32 L496.90,565.32 L496.90,566.39 L497.35,566.39 L497.35,566.65 L497.80,566.65 L497.80,566.70 L498.25,566.70 L498.25,566.37 L498.70,566.37 L498.70,566.34 L499.15,566.34 L499.15,566.13 L499.60,566.13 L499.60,566.67 L500.05,566.67 L500.05,566.53 L500.50,566.53 L500.50,566.33 L500.95,566.33 L500.95,566.61 L501.40,566.61 L501.40,566.58 L501.85,566.58 L501.85,566.11 L502.30,566.11 L502.30,566.63 L502.75,566.63 L502.75,566.51 L503.20,566.51 L503.20,566.40 L503.65,566.40 L503.65,566.40 L504.10,566.40 L504.10,566.70 L504.55,566.70 L504.55,566.70 L505.00,566.70 L505.00,566.70 L505.45,566.70 L505.45,566.30 " fill="none" stroke="#3a3a3a" stroke-width="0.75"/>
<path d="M349.30,565.65 L349.90,565.65 L349.90,566.56 L350.50,566.56 L350.50,566.70 L351.10,566.70 L351.10,565.65 L351.70,565.65 L351.70,565.73 L352.30,565.73 L352.30,565.96 L352.90,565.96 L352.90,566.64 L353.50,566.64 L353.50,566.52 L354.10,566.52 L354.10,564.54 L354.70,564.54 L354.70,563.73 L355.30,563.73 L355.30,563.15 L355.90,563.15 L355.90,564.02 L356.50,564.02 L356.50,561.78 L357.10,561.78 L357.10,562.27 L357.70,562.27 L357.70,560.98 L358.30,560.98 L358.30,560.26 L358.90,560.26 L358.90,560.37 L359.50,560.37 L359.50,559.41 L360.10,559.41 L360.10,559.58 L360.70,559.58 L360.70,557.85 L361.30,557.85 L361.30,557.49 L361.90,557.49 L361.90,554.87 L362.50,554.87 L362.50,554.00 L363.10,554.00 L363.10,552.14 L363.70,552.14 L363.70,551.14 L364.30,551.14 L364.30,550.32 L364.90,550.32 L364.90,548.01 L365.50,548.01 L365.50,546.79 L366.10,546.79 L366.10,544.26 L366.70,544.26 L366.70,542.32 L367.30,542.32 L367.30,540.81 L367.90,540.81 L367.90,537.55 L368.50,537.55 L368.50,534.96 L369.10,534.96 L369.10,532.83 L369.70,532.83 L369.70,529.53 L370.30,529.53 L370.30,526.42 L370.90,526.42 L370.90,525.50 L371.50,525.50 L371.50,523.47 L372.10,523.47 L372.10,523.38 L372.70,523.38 L372.70,520.80 L373.30,520.80 L373.30,520.05 L373.90,520.05 L373.90,520.46 L374.50,520.46 L374.50,518.14 L375.10,518.14 L375.10,517.53 L375.70,517.53 L375.70,518.17 L376.30,518.17 L376.30,517.64 L376.90,517.64 L376.90,517.81 L377.50,517.81 L377.50,516.39 L378.10,516.39 L378.10,517.82 L378.70,517.82 L378.70,516.84 L379.30,516.84 L379.30,515.17 L379.90,515.17 L379.90,516.46 L380.50,516.46 L380.50,516.18 L381.10,516.18 L381.10,516.64 L381.70,516.64 L381.70,517.40 L382.30,517.40 L382.30,516.66 L382.90,516.66 L382.90,516.42 L383.50,516.42 L383.50,517.50 L384.10,517.50 L384.10,516.63 L384.70,516.63 L384.70,516.08 L385.30,516.08 L385.30,516.30 L385.90,516.30 L385.90,518.26 L386.50,518.26 L386.50,517.95 L387.10,517.95 L387.10,518.54 L387.70,518.54 L387.70,516.82 L388.30,516.82 L388.30,517.33 L388.90,517.33 L388.90,517.48 L389.50,517.48 L389.50,518.84 L390.10,518.84 L390.10,519.32 L390.70,519.32 L390.70,518.77 L391.30,518.77 L391.30,519.15 L391.90,519.15 L391.90,520.51 L392.50,520.51 L392.50,520.76 L393.10,520.76 L393.10,521.56 L393.70,521.56 L393.70,523.15 L394.30,523.15 L394.30,525.50 L394.90,525.50 L394.90,528.21 L395.50,528.21 L395.50,529.20 L396.10,529.20 L396.10,531.28 L396.70,531.28 L396.70,534.14 L397.30,534.14 L397.30,537.02 L397.90,537.02 L397.90,540.02 L398.50,540.02 L398.50,541.92 L399.10,541.92 L399.10,545.52 L399.70,545.52 L399.70,548.40 L400.30,548.40 L400.30,551.88 L400.90,551.88 L400.90,554.00 L401.50,554.00 L401.50,555.78 L402.10,555.78 L402.10,558.67 L402.70,558.67 L402.70,560.39 L403.30,560.39 L403.30,560.60 L403.90,560.60 L403.90,560.21 L404.50,560.21 L404.50,561.49 L405.10,561.49 L405.10,561.02 L405.70,561.02 L405.70,562.36 L406.30,562.36 L406.30,562.52 L406.90,562.52 L406.90,563.27 L407.50,563.27 L407.50,562.70 L408.10,562.70 L408.10,561.30 L408.70,561.30 L408.70,562.07 L409.30,562.07 L409.30,561.79 L409.90,561.79 L409.90,561.81 L410.50,561.81 L410.50,562.31 L411.10,562.31 L411.10,562.44 L411.70,562.44 L411.70,562.22 L412.30,562.22 L412.30,561.83 L412.90,561.83 L412.90,561.98 L413.50,561.98 L413.50,561.96 L414.10,561.96 L414.10,562.19 L414.70,562.19 L414.70,562.84 L415.30,562.84 L415.30,562.48 L415.90,562.48 L415.90,562.96 L416.50,562.96 L416.50,561.60 L417.10,561.60 L417.10,563.77 L417.70,563.77 L417.70,562.45 L418.30,562.45 L418.30,560.63 L418.90,560.63 L418.90,562.54 L419.50,562.54 L419.50,563.09 L420.10,563.09 L420.10,562.31 L420.70,562.31 L420.70,561.40 L421.30,561.40 L421.30,562.41 L421.90,562.41 L421.90,561.87 L422.50,561.87 L422.50,562.23 L423.10,562.23 L423.10,562.56 L423.70,562.56 L423.70,560.09 L424.30,560.09 L424.30,562.25 L424.90,562.25 L424.90,562.68 L425.50,562.68 L425.50,562.64 L426.10,562.64 L426.10,562.03 L426.70,562.03 L426.70,562.01 L427.30,562.01 L427.30,561.76 L427.90,561.76 L427.90,562.20 L428.50,562.20 L428.50,563.30 L429.10,563.30 L429.10,561.93 L429.70,561.93 L429.70,562.52 L430.30,562.52 L430.30,562.50 L430.90,562.50 L430.90,563.34 L431.50,563.34 L431.50,562.70 L432.10,562.70 L432.10,562.81 L432.70,562.81 L432.70,562.33 L433.30,562.33 L433.30,563.32 L433.90,563.32 L433.90,562.26 L434.50,562.26 L434.50,562.21 L435.10,562.21 L435.10,563.08 L435.70,563.08 L435.70,562.74 L436.30,562.74 L436.30,562.90 L436.90,562.90 L436.90,561.66 L437.50,561.66 L437.50,564.07 L438.10,564.07 L438.10,562.54 L438.70,562.54 L438.70,563.47 L439.30,563.47 L439.30,562.64 L439.90,562.64 L439.90,561.79 L440.50,561.79 L440.50,562.88 L441.10,562.88 L441.10,562.41 L441.70,562.41 L441.70,563.18 L442.30,563.18 L442.30,561.32 L442.90,561.32 L442.90,562.14 L443.50,562.14 L443.50,562.09 L444.10,562.09 L444.10,563.92 L444.70,563.92 L444.70,563.87 L445.30,563.87 L445.30,562.46 L445.90,562.46 L445.90,563.47 L446.50,563.47 L446.50,563.62 L447.10,563.62 L447.10,563.32 L447.70,563.32 L447.70,564.54 L448.30,564.54 L448.30,563.22 L448.90,563.22 L448.90,563.84 L449.50,563.84 L449.50,563.60 L450.10,563.60 L450.10,564.48 L450.70,564.48 L450.70,563.72 L451.30,563.72 L451.30,564.65 L451.90,564.65 L451.90,563.56 L452.50,563.56 L452.50,563.51 L453.10,563.51 L453.10,563.73 L453.70,563.73 L453.70,564.08 L454.30,564.08 L454.30,564.07 L454.90,564.07 L454.90,566.48 L455.50,566.48 L455.50,564.07 L456.10,564.07 L456.10,564.92 L456.70,564.92 L456.70,564.73 L457.30,564.73 L457.30,565.06 L457.90,565.06 L457.90,565.90 L458.50,565.90 L458.50,565.37 L459.10,565.37 L459.10,564.59 L459.70,564.59 L459.70,564.12 L460.30,564.12 L460.30,565.60 L460.90,565.60 L460.90,565.85 L461.50,565.85 L461.50,564.26 L462.10,564.26 L462.10,565.94 L462.70,565.94 L462.70,563.91 L463.30,563.91 L463.30,565.37 L463.90,565.37 L463.90,566.06 L464.50,566.06 L464.50,564.79 L465.10,564.79 L465.10,564.32 L465.70,564.32 L465.70,566.54 L466.30,566.54 L466.30,564.47 L466.90,564.47 L466.90,565.78 L467.50,565.78 L467.50,564.57 L468.10,564.57 L468.10,565.91 L468.70,565.91 L468.70,566.70 L469.30,566.70 L469.30,565.34 L469.90,565.34 L469.90,565.07 L470.50,565.07 L470.50,564.28 L471.10,564.28 L471.10,564.56 L471.70,564.56 L471.70,565.31 L472.30,565.31 L472.30,565.99 L472.90,565.99 L472.90,566.21 L473.50,566.21 L473.50,566.08 L474.10,566.08 L474.10,566.48 L474.70,566.48 L474.70,566.11 L475.30,566.11 L475.30,566.70 L475.90,566.70 L475.90,565.84 L476.50,565.84 L476.50,566.01 L477.10,566.01 L477.10,564.21 L477.70,564.21 L477.70,565.50 L478.30,565.50 L478.30,566.39 L478.90,566.39 L478.90,565.68 L479.50,565.68 L479.50,566.70 L480.10,566.70 L480.10,566.54 L480.70,566.54 L480.70,566.70 L481.30,566.70 L481.30,565.15 L481.90,565.15 L481.90,565.76 L482.50,565.76 L482.50,566.70 L483.10,566.70 L483.10,566.26 L483.70,566.26 L483.70,565.57 L484.30,565.57 L484.30,565.91 L484.90,565.91 L484.90,566.00 L485.50,566.00 L485.50,566.70 L486.10,566.70 L486.10,566.70 L486.70,566.70 L486.70,566.26 L487.30,566.26 L487.30,565.69 L487.90,565.69 L487.90,566.70 L488.50,566.70 L488.50,566.70 L489.10,566.70 L489.10,565.58 L489.70,565.58 L489.70,566.70 L490.30,566.70 L490.30,565.66 L490.90,565.66 L490.90,566.26 L491.50,566.26 L491.50,565.82 L492.10,565.82 L492.10,565.23 L492.70,565.23 L492.70,565.98 L493.30,565.98 L493.30,565.93 L493.90,565.93 L493.90,566.70 L494.50,566.70 L494.50,566.70 L495.10,566.70 L495.10,566.06 L495.70,566.06 L495.70,565.44 L496.30,565.44 L496.30,565.55 L496.90,565.55 L496.90,564.91 L497.50,564.91 L497.50,566.33 L498.10,566.33 L498.10,566.41 L498.70,566.41 L498.70,565.85 L499.30,565.85 L499.30,566.55 L499.90,566.55 L499.90,566.61 L500.50,566.61 L500.50,566.70 L501.10,566.70 L501.10,565.89 L501.70,565.89 L501.70,566.70 L502.30,566.70 L502.30,566.23 L502.90,566.23 L502.90,566.70 L503.50,566.70 L503.50,565.83 L504.10,565.83 L504.10,566.70 L504.70,566.70 L504.70,566.01 L505.30,566.01 L505.30,566.70 " fill="none" stroke="#333" stroke-width="0.5"/>
<line x1="348.70" y1="417.00" x2="348.70" y2="567.50" stroke="#666" stroke-width="1.1" stroke-linecap="butt"/>
<line x1="348.20" y1="567.00" x2="506.20" y2="567.00" stroke="#444" stroke-width="1.1" stroke-linecap="butt"/>
<line x1="348.30" y1="455.30" x2="350.00" y2="455.30" stroke="#333" stroke-width="1.2" stroke-linecap="butt"/>
<line x1="348.30" y1="492.00" x2="350.00" y2="492.00" stroke="#333" stroke-width="1.2" stroke-linecap="butt"/>
<line x1="348.30" y1="530.40" x2="350.00" y2="530.40" stroke="#333" stroke-width="1.2" stroke-linecap="butt"/>
<line x1="348.30" y1="417.30" x2="350.00" y2="417.30" stroke="#444" stroke-width="1.0" stroke-linecap="butt"/>
<line x1="506.20" y1="567.00" x2="506.20" y2="559.50" stroke="#444" stroke-width="1.0" stroke-linecap="butt"/>
<text transform="translate(344.20,567.00) rotate(-90)" y="1.78" font-family='"Liberation Sans", sans-serif' font-size="4.9399999999999995" font-weight="normal" fill="#111" stroke="#111" stroke-width="0.148" text-anchor="middle">0</text>
<text transform="translate(344.20,417.80) rotate(-90)" y="1.87" font-family='"Liberation Sans", sans-serif' font-size="5.2" font-weight="normal" fill="#111" stroke="#111" stroke-width="0.156" text-anchor="middle">64</text>
<text transform="translate(340.50,492.40) rotate(-90)" y="1.87" font-family='"Liberation Sans", sans-serif' font-size="5.2" font-weight="normal" fill="#111" stroke="#111" stroke-width="0.156" text-anchor="middle" textLength="17.1" lengthAdjust="spacingAndGlyphs">Events</text>
<text x="347.41" y="573.17" font-family='"Liberation Sans", sans-serif' font-size="5.2" fill="#111" stroke="#111" stroke-width="0.130">10<tspan font-size="3.12" dy="-2.08">0</tspan></text>
<text x="386.31" y="573.17" font-family='"Liberation Sans", sans-serif' font-size="5.2" fill="#111" stroke="#111" stroke-width="0.130">10<tspan font-size="3.12" dy="-2.08">1</tspan></text>
<text x="426.01" y="573.17" font-family='"Liberation Sans", sans-serif' font-size="5.2" fill="#111" stroke="#111" stroke-width="0.130">10<tspan font-size="3.12" dy="-2.08">2</tspan></text>
<text x="465.01" y="573.17" font-family='"Liberation Sans", sans-serif' font-size="5.2" fill="#111" stroke="#111" stroke-width="0.130">10<tspan font-size="3.12" dy="-2.08">3</tspan></text>
<text x="503.91" y="573.17" font-family='"Liberation Sans", sans-serif' font-size="5.2" fill="#111" stroke="#111" stroke-width="0.130">10<tspan font-size="3.12" dy="-2.08">4</tspan></text>
<text x="404.00" y="581.50" font-family='"Liberation Sans", sans-serif' font-size="5.2" fill="#111" stroke="#111" stroke-width="0.130" textLength="47" lengthAdjust="spacingAndGlyphs">FL1: TPO-R expression</text>
<rect x="458.10" y="410.60" width="53.15" height="57.50" fill="#fff" stroke="#a0a0a0" stroke-width="0.7"/>
<line x1="458.10" y1="410.60" x2="458.10" y2="468.10" stroke="#777" stroke-width="0.8" stroke-linecap="butt"/>
<line x1="458.10" y1="468.10" x2="511.25" y2="468.10" stroke="#777" stroke-width="0.8" stroke-linecap="butt"/>
<ellipse cx="481.9" cy="456.9" rx="17.8" ry="10.5" transform="rotate(-12 481.9 456.9)" fill="none" stroke="#8a8a8a" stroke-width="0.7"/>
<text x="454.90" y="439.35" font-family='"Liberation Sans", sans-serif' font-size="2.6" fill="#777" text-anchor="middle" transform="rotate(-90 454.90 439.35)">SSC</text>
<text x="484.68" y="472.10" font-family='"Liberation Sans", sans-serif' font-size="2.6" fill="#777" text-anchor="middle">FSC</text>
<text x="456.10" y="413.10" font-family='"Liberation Sans", sans-serif' font-size="2.6" fill="#777" text-anchor="middle" transform="rotate(-90 456.10 413.10)">1023</text>
<text x="509.75" y="471.30" font-family='"Liberation Sans", sans-serif' font-size="2.6" fill="#777" text-anchor="middle">1023</text>
<path d="M460.7,416.7h0.6v0.6h-0.6z M468.0,453.7h0.6v0.6h-0.6z M508.4,446.4h0.6v0.6h-0.6z M488.4,444.4h0.6v0.6h-0.6z M490.7,421.5h0.6v0.6h-0.6z M497.7,427.5h0.6v0.6h-0.6z M501.8,416.4h0.6v0.6h-0.6z M500.7,436.9h0.6v0.6h-0.6z M492.6,446.1h0.6v0.6h-0.6z M472.9,422.3h0.6v0.6h-0.6z M473.4,432.2h0.6v0.6h-0.6z M467.2,447.8h0.6v0.6h-0.6z M487.2,453.5h0.6v0.6h-0.6z M509.6,462.7h0.6v0.6h-0.6z M500.1,424.8h0.6v0.6h-0.6z M466.9,424.4h0.6v0.6h-0.6z M464.5,433.8h0.6v0.6h-0.6z M473.1,428.3h0.6v0.6h-0.6z M466.8,457.7h0.6v0.6h-0.6z M465.7,432.0h0.6v0.6h-0.6z M497.0,432.1h0.6v0.6h-0.6z M474.8,439.5h0.6v0.6h-0.6z M488.2,443.0h0.6v0.6h-0.6z M474.9,430.9h0.6v0.6h-0.6z M489.6,452.9h0.6v0.6h-0.6z M465.5,417.2h0.6v0.6h-0.6z M499.4,459.7h0.6v0.6h-0.6z M473.5,424.8h0.6v0.6h-0.6z M482.3,425.3h0.6v0.6h-0.6z M473.4,441.4h0.6v0.6h-0.6z M484.1,462.8h0.6v0.6h-0.6z M474.4,432.5h0.6v0.6h-0.6z M475.1,438.2h0.6v0.6h-0.6z M466.5,434.4h0.6v0.6h-0.6z M509.1,417.0h0.6v0.6h-0.6z M469.1,427.2h0.6v0.6h-0.6z M473.1,463.3h0.6v0.6h-0.6z M479.9,464.6h0.6v0.6h-0.6z M464.4,425.3h0.6v0.6h-0.6z M470.3,463.5h0.6v0.6h-0.6z M479.8,411.5h0.6v0.6h-0.6z M489.1,451.9h0.6v0.6h-0.6z M486.6,412.1h0.6v0.6h-0.6z M477.7,435.1h0.6v0.6h-0.6z M494.1,434.3h0.6v0.6h-0.6z M497.7,435.6h0.6v0.6h-0.6z M472.2,464.7h0.6v0.6h-0.6z M470.8,430.9h0.6v0.6h-0.6z M491.3,411.6h0.6v0.6h-0.6z M480.0,416.9h0.6v0.6h-0.6z M502.2,453.7h0.6v0.6h-0.6z M486.9,414.0h0.6v0.6h-0.6z M476.6,421.8h0.6v0.6h-0.6z M469.4,466.8h0.6v0.6h-0.6z M504.2,436.2h0.6v0.6h-0.6z M469.6,419.1h0.6v0.6h-0.6z M500.0,448.5h0.6v0.6h-0.6z M503.5,432.3h0.6v0.6h-0.6z M509.5,442.4h0.6v0.6h-0.6z M466.4,450.8h0.6v0.6h-0.6z M462.6,441.4h0.6v0.6h-0.6z M506.3,439.7h0.6v0.6h-0.6z M492.3,436.6h0.6v0.6h-0.6z M466.3,459.5h0.6v0.6h-0.6z" fill="#aaa"/>
<path d="M470.9,445.8h0.6v0.6h-0.6z M491.0,435.1h0.6v0.6h-0.6z M493.9,440.2h0.6v0.6h-0.6z M480.3,419.3h0.6v0.6h-0.6z M477.1,437.9h0.6v0.6h-0.6z M466.6,438.8h0.6v0.6h-0.6z M481.3,427.7h0.6v0.6h-0.6z M485.0,422.7h0.6v0.6h-0.6z M464.7,444.1h0.6v0.6h-0.6z M483.0,431.9h0.6v0.6h-0.6z M482.4,444.9h0.6v0.6h-0.6z M482.0,435.8h0.6v0.6h-0.6z M467.9,446.2h0.6v0.6h-0.6z M482.9,436.6h0.6v0.6h-0.6z M464.5,424.9h0.6v0.6h-0.6z M491.4,439.1h0.6v0.6h-0.6z M479.2,436.7h0.6v0.6h-0.6z M467.5,446.6h0.6v0.6h-0.6z M490.1,435.5h0.6v0.6h-0.6z M488.4,436.1h0.6v0.6h-0.6z M472.1,448.6h0.6v0.6h-0.6z M497.8,451.7h0.6v0.6h-0.6z M469.0,447.6h0.6v0.6h-0.6z M480.8,450.4h0.6v0.6h-0.6z M488.6,444.5h0.6v0.6h-0.6z M487.0,448.8h0.6v0.6h-0.6z M477.4,444.0h0.6v0.6h-0.6z M477.9,440.6h0.6v0.6h-0.6z M468.3,441.4h0.6v0.6h-0.6z M481.0,464.0h0.6v0.6h-0.6z M468.0,440.1h0.6v0.6h-0.6z M469.3,437.6h0.6v0.6h-0.6z M474.0,436.4h0.6v0.6h-0.6z M467.0,439.7h0.6v0.6h-0.6z M492.2,442.4h0.6v0.6h-0.6z M466.0,428.7h0.6v0.6h-0.6z M471.2,420.2h0.6v0.6h-0.6z M475.2,443.0h0.6v0.6h-0.6z M478.0,423.9h0.6v0.6h-0.6z M485.1,442.6h0.6v0.6h-0.6z M485.4,441.4h0.6v0.6h-0.6z M475.3,451.5h0.6v0.6h-0.6z M474.5,456.7h0.6v0.6h-0.6z M478.3,443.7h0.6v0.6h-0.6z M485.4,434.5h0.6v0.6h-0.6z M484.3,428.3h0.6v0.6h-0.6z M473.4,432.1h0.6v0.6h-0.6z M459.5,440.4h0.6v0.6h-0.6z M497.3,419.3h0.6v0.6h-0.6z M486.6,440.8h0.6v0.6h-0.6z M480.4,439.9h0.6v0.6h-0.6z M481.1,446.4h0.6v0.6h-0.6z M473.3,436.7h0.6v0.6h-0.6z M469.0,441.0h0.6v0.6h-0.6z M475.0,432.6h0.6v0.6h-0.6z M476.0,435.4h0.6v0.6h-0.6z M472.4,422.3h0.6v0.6h-0.6z M464.9,441.2h0.6v0.6h-0.6z M475.2,455.5h0.6v0.6h-0.6z" fill="#999"/>
<path d="M481.1,461.2h0.8v0.8h-0.8z M482.6,454.8h0.8v0.8h-0.8z M473.1,465.2h0.8v0.8h-0.8z M490.0,454.3h0.8v0.8h-0.8z M474.6,463.7h0.8v0.8h-0.8z M485.6,458.9h0.8v0.8h-0.8z M480.8,463.0h0.8v0.8h-0.8z M473.3,461.8h0.8v0.8h-0.8z M487.2,455.9h0.8v0.8h-0.8z M480.1,463.1h0.8v0.8h-0.8z M481.3,460.4h0.8v0.8h-0.8z M483.2,459.7h0.8v0.8h-0.8z M479.8,460.4h0.8v0.8h-0.8z M477.3,463.5h0.8v0.8h-0.8z M483.3,461.7h0.8v0.8h-0.8z M477.2,461.4h0.8v0.8h-0.8z M480.5,455.7h0.8v0.8h-0.8z M475.3,460.1h0.8v0.8h-0.8z M469.6,462.8h0.8v0.8h-0.8z M475.3,466.2h0.8v0.8h-0.8z M476.5,462.0h0.8v0.8h-0.8z M480.1,459.9h0.8v0.8h-0.8z M488.3,461.6h0.8v0.8h-0.8z M468.2,462.5h0.8v0.8h-0.8z M480.9,459.9h0.8v0.8h-0.8z M464.5,464.1h0.8v0.8h-0.8z M472.7,457.7h0.8v0.8h-0.8z M476.5,463.6h0.8v0.8h-0.8z M464.2,464.9h0.8v0.8h-0.8z M467.0,462.3h0.8v0.8h-0.8z M481.1,456.7h0.8v0.8h-0.8z M480.5,460.6h0.8v0.8h-0.8z M479.2,464.2h0.8v0.8h-0.8z M474.4,459.7h0.8v0.8h-0.8z M495.1,453.8h0.8v0.8h-0.8z M478.9,461.6h0.8v0.8h-0.8z M474.0,457.1h0.8v0.8h-0.8z M491.7,451.3h0.8v0.8h-0.8z M484.3,457.9h0.8v0.8h-0.8z M477.4,458.8h0.8v0.8h-0.8z M488.3,457.5h0.8v0.8h-0.8z M481.1,458.4h0.8v0.8h-0.8z M484.5,460.0h0.8v0.8h-0.8z M481.6,459.2h0.8v0.8h-0.8z M472.8,460.1h0.8v0.8h-0.8z M486.8,457.3h0.8v0.8h-0.8z M481.1,461.7h0.8v0.8h-0.8z M472.9,464.4h0.8v0.8h-0.8z M474.7,463.9h0.8v0.8h-0.8z M486.7,460.6h0.8v0.8h-0.8z M477.4,451.6h0.8v0.8h-0.8z M480.3,457.3h0.8v0.8h-0.8z M484.6,458.2h0.8v0.8h-0.8z M480.9,460.5h0.8v0.8h-0.8z M469.3,458.1h0.8v0.8h-0.8z M484.5,463.1h0.8v0.8h-0.8z M486.6,459.5h0.8v0.8h-0.8z M486.1,457.1h0.8v0.8h-0.8z M491.3,458.0h0.8v0.8h-0.8z M482.5,458.6h0.8v0.8h-0.8z M485.4,456.8h0.8v0.8h-0.8z M491.1,459.0h0.8v0.8h-0.8z M478.0,459.4h0.8v0.8h-0.8z M492.2,453.5h0.8v0.8h-0.8z M492.1,455.6h0.8v0.8h-0.8z M485.5,458.6h0.8v0.8h-0.8z M492.9,454.2h0.8v0.8h-0.8z M486.0,462.3h0.8v0.8h-0.8z M473.8,458.6h0.8v0.8h-0.8z M488.0,463.2h0.8v0.8h-0.8z M482.3,462.1h0.8v0.8h-0.8z M482.9,456.9h0.8v0.8h-0.8z M481.1,460.3h0.8v0.8h-0.8z M489.5,461.3h0.8v0.8h-0.8z M483.9,458.8h0.8v0.8h-0.8z M475.1,458.0h0.8v0.8h-0.8z M483.4,459.7h0.8v0.8h-0.8z M485.1,464.5h0.8v0.8h-0.8z M474.9,457.2h0.8v0.8h-0.8z M477.0,462.4h0.8v0.8h-0.8z M477.3,460.8h0.8v0.8h-0.8z M475.7,460.8h0.8v0.8h-0.8z M482.4,458.5h0.8v0.8h-0.8z M487.1,457.7h0.8v0.8h-0.8z M493.2,460.0h0.8v0.8h-0.8z M488.4,459.9h0.8v0.8h-0.8z M487.2,455.8h0.8v0.8h-0.8z M488.0,462.7h0.8v0.8h-0.8z M489.3,454.5h0.8v0.8h-0.8z M477.4,462.6h0.8v0.8h-0.8z M484.9,459.6h0.8v0.8h-0.8z M482.3,463.0h0.8v0.8h-0.8z M479.1,461.4h0.8v0.8h-0.8z M476.8,463.8h0.8v0.8h-0.8z M476.5,460.9h0.8v0.8h-0.8z M478.1,463.3h0.8v0.8h-0.8z M471.4,463.1h0.8v0.8h-0.8z M483.7,465.3h0.8v0.8h-0.8z M479.8,458.3h0.8v0.8h-0.8z M480.7,463.3h0.8v0.8h-0.8z M482.4,460.9h0.8v0.8h-0.8z M485.1,459.5h0.8v0.8h-0.8z M475.9,459.6h0.8v0.8h-0.8z M479.3,461.6h0.8v0.8h-0.8z M468.7,458.7h0.8v0.8h-0.8z M464.5,460.0h0.8v0.8h-0.8z M466.4,465.3h0.8v0.8h-0.8z M490.8,453.4h0.8v0.8h-0.8z M467.2,467.1h0.8v0.8h-0.8z M483.3,458.7h0.8v0.8h-0.8z M490.3,458.5h0.8v0.8h-0.8z M476.8,461.1h0.8v0.8h-0.8z M491.4,458.8h0.8v0.8h-0.8z M492.9,456.5h0.8v0.8h-0.8z M486.6,457.7h0.8v0.8h-0.8z M496.6,456.1h0.8v0.8h-0.8z M484.4,462.1h0.8v0.8h-0.8z M474.9,464.5h0.8v0.8h-0.8z M483.7,462.9h0.8v0.8h-0.8z M476.9,461.9h0.8v0.8h-0.8z M470.9,461.7h0.8v0.8h-0.8z M471.1,457.6h0.8v0.8h-0.8z M496.2,458.3h0.8v0.8h-0.8z M476.2,463.4h0.8v0.8h-0.8z M479.9,459.1h0.8v0.8h-0.8z M475.4,463.5h0.8v0.8h-0.8z M481.0,463.6h0.8v0.8h-0.8z M478.4,460.8h0.8v0.8h-0.8z M477.2,463.8h0.8v0.8h-0.8z M471.6,463.0h0.8v0.8h-0.8z M470.2,457.6h0.8v0.8h-0.8z M474.9,460.1h0.8v0.8h-0.8z M482.1,458.6h0.8v0.8h-0.8z M494.6,458.3h0.8v0.8h-0.8z M487.5,456.1h0.8v0.8h-0.8z M492.9,456.1h0.8v0.8h-0.8z M483.5,456.7h0.8v0.8h-0.8z M479.5,460.2h0.8v0.8h-0.8z M470.8,462.5h0.8v0.8h-0.8z M480.1,462.9h0.8v0.8h-0.8z M465.1,465.8h0.8v0.8h-0.8z M478.0,461.1h0.8v0.8h-0.8z M491.5,458.2h0.8v0.8h-0.8z M482.4,460.0h0.8v0.8h-0.8z M488.0,458.7h0.8v0.8h-0.8z M477.5,465.1h0.8v0.8h-0.8z M470.5,455.5h0.8v0.8h-0.8z M476.8,460.5h0.8v0.8h-0.8z M477.4,461.7h0.8v0.8h-0.8z M488.6,461.4h0.8v0.8h-0.8z M494.0,454.0h0.8v0.8h-0.8z M475.0,462.3h0.8v0.8h-0.8z M477.6,463.1h0.8v0.8h-0.8z M479.1,459.2h0.8v0.8h-0.8z M477.7,455.4h0.8v0.8h-0.8z M471.5,461.2h0.8v0.8h-0.8z M480.8,456.7h0.8v0.8h-0.8z M482.7,461.4h0.8v0.8h-0.8z M482.9,457.2h0.8v0.8h-0.8z M471.7,467.0h0.8v0.8h-0.8z M479.4,460.7h0.8v0.8h-0.8z M468.0,460.7h0.8v0.8h-0.8z M486.6,457.3h0.8v0.8h-0.8z M473.0,458.8h0.8v0.8h-0.8z M478.3,461.7h0.8v0.8h-0.8z M477.0,465.0h0.8v0.8h-0.8z M476.1,460.5h0.8v0.8h-0.8z M472.8,464.4h0.8v0.8h-0.8z M467.8,460.4h0.8v0.8h-0.8z M492.3,458.2h0.8v0.8h-0.8z M482.0,466.1h0.8v0.8h-0.8z M482.1,455.8h0.8v0.8h-0.8z M494.9,460.2h0.8v0.8h-0.8z M479.5,463.6h0.8v0.8h-0.8z M484.1,454.1h0.8v0.8h-0.8z M480.4,456.2h0.8v0.8h-0.8z M488.5,455.6h0.8v0.8h-0.8z M483.7,462.0h0.8v0.8h-0.8z M482.4,458.5h0.8v0.8h-0.8z M478.4,460.1h0.8v0.8h-0.8z M482.2,461.7h0.8v0.8h-0.8z M488.4,458.6h0.8v0.8h-0.8z M465.7,464.1h0.8v0.8h-0.8z M479.3,459.5h0.8v0.8h-0.8z M477.3,463.9h0.8v0.8h-0.8z M478.1,458.5h0.8v0.8h-0.8z M485.3,458.1h0.8v0.8h-0.8z M474.3,459.3h0.8v0.8h-0.8z M478.6,462.3h0.8v0.8h-0.8z M476.7,462.2h0.8v0.8h-0.8z M468.5,457.3h0.8v0.8h-0.8z M477.1,461.5h0.8v0.8h-0.8z M467.3,459.4h0.8v0.8h-0.8z M473.6,459.4h0.8v0.8h-0.8z M478.0,462.8h0.8v0.8h-0.8z M480.2,457.8h0.8v0.8h-0.8z M480.6,461.0h0.8v0.8h-0.8z M479.3,459.3h0.8v0.8h-0.8z M495.2,462.1h0.8v0.8h-0.8z M483.3,459.2h0.8v0.8h-0.8z M471.7,458.8h0.8v0.8h-0.8z M475.9,458.1h0.8v0.8h-0.8z M475.6,458.7h0.8v0.8h-0.8z M479.0,460.8h0.8v0.8h-0.8z M476.0,461.1h0.8v0.8h-0.8z M474.2,464.2h0.8v0.8h-0.8z M491.8,458.0h0.8v0.8h-0.8z M480.5,460.4h0.8v0.8h-0.8z M477.9,461.6h0.8v0.8h-0.8z M478.5,460.2h0.8v0.8h-0.8z M478.7,461.3h0.8v0.8h-0.8z M490.0,460.1h0.8v0.8h-0.8z M483.6,461.5h0.8v0.8h-0.8z M488.1,456.8h0.8v0.8h-0.8z M482.5,457.4h0.8v0.8h-0.8z M487.7,459.2h0.8v0.8h-0.8z M494.1,450.1h0.8v0.8h-0.8z M480.4,458.8h0.8v0.8h-0.8z M468.2,464.1h0.8v0.8h-0.8z M484.4,457.6h0.8v0.8h-0.8z M476.1,458.0h0.8v0.8h-0.8z M475.9,464.9h0.8v0.8h-0.8z M487.6,457.7h0.8v0.8h-0.8z M488.7,461.9h0.8v0.8h-0.8z M485.3,462.6h0.8v0.8h-0.8z M472.9,458.7h0.8v0.8h-0.8z M497.9,463.5h0.8v0.8h-0.8z M472.1,459.4h0.8v0.8h-0.8z M479.7,459.5h0.8v0.8h-0.8z M470.1,459.4h0.8v0.8h-0.8z M489.5,458.2h0.8v0.8h-0.8z M483.4,455.7h0.8v0.8h-0.8z M486.5,458.7h0.8v0.8h-0.8z M480.9,463.0h0.8v0.8h-0.8z M479.8,460.8h0.8v0.8h-0.8z M481.5,459.1h0.8v0.8h-0.8z M487.2,456.0h0.8v0.8h-0.8z M486.7,461.3h0.8v0.8h-0.8z M477.5,459.9h0.8v0.8h-0.8z M480.2,460.7h0.8v0.8h-0.8z M482.4,459.7h0.8v0.8h-0.8z M491.3,457.9h0.8v0.8h-0.8z M483.3,459.2h0.8v0.8h-0.8z M480.6,457.8h0.8v0.8h-0.8z M476.7,459.3h0.8v0.8h-0.8z M469.8,463.7h0.8v0.8h-0.8z M476.1,460.7h0.8v0.8h-0.8z M480.8,456.7h0.8v0.8h-0.8z M478.5,458.5h0.8v0.8h-0.8z M480.8,458.0h0.8v0.8h-0.8z M485.5,458.7h0.8v0.8h-0.8z M483.4,459.9h0.8v0.8h-0.8z M482.2,459.9h0.8v0.8h-0.8z M484.9,457.2h0.8v0.8h-0.8z M481.6,459.8h0.8v0.8h-0.8z M480.1,456.3h0.8v0.8h-0.8z" fill="#444"/>
<path d="M468.2,462.2h0.9v0.9h-0.9z M480.9,461.0h0.9v0.9h-0.9z M473.7,460.4h0.9v0.9h-0.9z M476.9,461.0h0.9v0.9h-0.9z M475.7,464.6h0.9v0.9h-0.9z M484.0,464.1h0.9v0.9h-0.9z M475.7,463.1h0.9v0.9h-0.9z M482.4,458.6h0.9v0.9h-0.9z M479.0,462.9h0.9v0.9h-0.9z M475.6,458.6h0.9v0.9h-0.9z M474.1,461.7h0.9v0.9h-0.9z M483.2,462.9h0.9v0.9h-0.9z M482.9,461.7h0.9v0.9h-0.9z M484.6,457.4h0.9v0.9h-0.9z M489.4,455.5h0.9v0.9h-0.9z M482.3,462.0h0.9v0.9h-0.9z M482.4,460.4h0.9v0.9h-0.9z M480.6,460.0h0.9v0.9h-0.9z M481.6,461.5h0.9v0.9h-0.9z M479.5,460.3h0.9v0.9h-0.9z M477.1,458.7h0.9v0.9h-0.9z M490.1,459.7h0.9v0.9h-0.9z M472.7,462.2h0.9v0.9h-0.9z M482.2,458.8h0.9v0.9h-0.9z M483.1,458.0h0.9v0.9h-0.9z M481.7,461.1h0.9v0.9h-0.9z M476.7,460.7h0.9v0.9h-0.9z M480.2,462.2h0.9v0.9h-0.9z M479.0,461.0h0.9v0.9h-0.9z M476.2,464.2h0.9v0.9h-0.9z M480.8,460.3h0.9v0.9h-0.9z M479.2,460.3h0.9v0.9h-0.9z M478.6,458.2h0.9v0.9h-0.9z M484.1,458.1h0.9v0.9h-0.9z M476.3,463.6h0.9v0.9h-0.9z M483.0,465.7h0.9v0.9h-0.9z M478.3,459.5h0.9v0.9h-0.9z M482.9,458.5h0.9v0.9h-0.9z M481.3,461.4h0.9v0.9h-0.9z M482.1,461.4h0.9v0.9h-0.9z M476.6,461.0h0.9v0.9h-0.9z M477.5,462.1h0.9v0.9h-0.9z M477.1,459.2h0.9v0.9h-0.9z M481.8,460.2h0.9v0.9h-0.9z M484.3,461.5h0.9v0.9h-0.9z M485.8,462.3h0.9v0.9h-0.9z M478.7,461.3h0.9v0.9h-0.9z M481.4,460.3h0.9v0.9h-0.9z M473.7,463.8h0.9v0.9h-0.9z M471.0,465.8h0.9v0.9h-0.9z M477.1,462.9h0.9v0.9h-0.9z M478.0,460.5h0.9v0.9h-0.9z M474.0,463.6h0.9v0.9h-0.9z M473.0,465.0h0.9v0.9h-0.9z M483.4,459.0h0.9v0.9h-0.9z M477.3,459.6h0.9v0.9h-0.9z M473.4,464.0h0.9v0.9h-0.9z M491.4,458.5h0.9v0.9h-0.9z M481.7,462.4h0.9v0.9h-0.9z M479.5,461.5h0.9v0.9h-0.9z M484.0,458.9h0.9v0.9h-0.9z M477.5,461.2h0.9v0.9h-0.9z M488.1,457.0h0.9v0.9h-0.9z M474.0,461.3h0.9v0.9h-0.9z M475.1,461.7h0.9v0.9h-0.9z M480.3,460.3h0.9v0.9h-0.9z M477.5,463.9h0.9v0.9h-0.9z M487.2,456.9h0.9v0.9h-0.9z M473.7,463.0h0.9v0.9h-0.9z M477.6,460.9h0.9v0.9h-0.9z M482.0,463.2h0.9v0.9h-0.9z M483.4,460.7h0.9v0.9h-0.9z M485.4,459.0h0.9v0.9h-0.9z M482.4,461.9h0.9v0.9h-0.9z M490.8,458.2h0.9v0.9h-0.9z M478.7,460.7h0.9v0.9h-0.9z M481.7,463.4h0.9v0.9h-0.9z M484.7,461.1h0.9v0.9h-0.9z M479.4,464.4h0.9v0.9h-0.9z M479.5,463.4h0.9v0.9h-0.9z M478.8,462.9h0.9v0.9h-0.9z M478.0,462.0h0.9v0.9h-0.9z M475.8,460.5h0.9v0.9h-0.9z M478.4,462.9h0.9v0.9h-0.9z M473.9,463.1h0.9v0.9h-0.9z M482.5,461.6h0.9v0.9h-0.9z M473.7,463.0h0.9v0.9h-0.9z M490.1,457.0h0.9v0.9h-0.9z M488.4,457.0h0.9v0.9h-0.9z M485.8,460.7h0.9v0.9h-0.9z M479.9,463.5h0.9v0.9h-0.9z M478.2,461.2h0.9v0.9h-0.9z M486.3,460.2h0.9v0.9h-0.9z M481.6,463.2h0.9v0.9h-0.9z M483.3,458.8h0.9v0.9h-0.9z M477.6,461.3h0.9v0.9h-0.9z M485.6,457.6h0.9v0.9h-0.9z M477.2,464.1h0.9v0.9h-0.9z M481.3,461.3h0.9v0.9h-0.9z M473.0,462.5h0.9v0.9h-0.9z M477.9,459.0h0.9v0.9h-0.9z M483.0,460.0h0.9v0.9h-0.9z M478.8,463.3h0.9v0.9h-0.9z M478.8,461.1h0.9v0.9h-0.9z M484.3,459.2h0.9v0.9h-0.9z M480.5,462.2h0.9v0.9h-0.9z M486.3,457.2h0.9v0.9h-0.9z M469.9,464.3h0.9v0.9h-0.9z M483.3,461.3h0.9v0.9h-0.9z M483.0,459.0h0.9v0.9h-0.9z M473.9,461.6h0.9v0.9h-0.9z M475.0,463.1h0.9v0.9h-0.9z M484.7,459.7h0.9v0.9h-0.9z M476.0,462.0h0.9v0.9h-0.9z M477.9,462.2h0.9v0.9h-0.9z M483.4,460.6h0.9v0.9h-0.9z M479.3,459.8h0.9v0.9h-0.9z M482.9,459.2h0.9v0.9h-0.9z M476.9,462.9h0.9v0.9h-0.9z M482.1,462.6h0.9v0.9h-0.9z M485.6,461.9h0.9v0.9h-0.9z M482.2,459.1h0.9v0.9h-0.9z M470.9,465.8h0.9v0.9h-0.9z M483.7,461.5h0.9v0.9h-0.9z M481.0,460.9h0.9v0.9h-0.9z M476.7,463.0h0.9v0.9h-0.9z M487.0,460.6h0.9v0.9h-0.9z M472.9,466.4h0.9v0.9h-0.9z M489.2,456.7h0.9v0.9h-0.9z M477.9,462.9h0.9v0.9h-0.9z M487.8,458.7h0.9v0.9h-0.9z M480.6,460.7h0.9v0.9h-0.9z M474.8,464.8h0.9v0.9h-0.9z M481.2,462.3h0.9v0.9h-0.9z M482.2,458.8h0.9v0.9h-0.9z M483.2,459.8h0.9v0.9h-0.9z M485.5,460.0h0.9v0.9h-0.9z M476.7,459.7h0.9v0.9h-0.9z M483.0,461.9h0.9v0.9h-0.9z M484.1,459.9h0.9v0.9h-0.9z M479.5,461.7h0.9v0.9h-0.9z M476.6,462.8h0.9v0.9h-0.9z M476.5,465.4h0.9v0.9h-0.9z M484.1,460.1h0.9v0.9h-0.9z M484.3,459.3h0.9v0.9h-0.9z M477.0,465.1h0.9v0.9h-0.9z M474.8,461.9h0.9v0.9h-0.9z M486.3,458.5h0.9v0.9h-0.9z M473.8,460.6h0.9v0.9h-0.9z M481.5,462.7h0.9v0.9h-0.9z M477.1,462.6h0.9v0.9h-0.9z M472.9,464.1h0.9v0.9h-0.9z M481.3,461.1h0.9v0.9h-0.9z M479.9,461.0h0.9v0.9h-0.9z M487.2,457.8h0.9v0.9h-0.9z M490.9,456.7h0.9v0.9h-0.9z M479.9,462.0h0.9v0.9h-0.9z M485.3,459.9h0.9v0.9h-0.9z M485.4,462.5h0.9v0.9h-0.9z M478.4,460.4h0.9v0.9h-0.9z M476.9,461.3h0.9v0.9h-0.9z M488.0,457.1h0.9v0.9h-0.9z M479.1,463.9h0.9v0.9h-0.9z M480.6,458.9h0.9v0.9h-0.9z M479.4,462.7h0.9v0.9h-0.9z M480.2,463.7h0.9v0.9h-0.9z M478.0,461.6h0.9v0.9h-0.9z M484.1,461.3h0.9v0.9h-0.9z M486.4,455.7h0.9v0.9h-0.9z M479.1,460.8h0.9v0.9h-0.9z" fill="#111"/>
<path d="M459.3,466.8h1.0v1.0h-1.0z M461.1,466.3h1.0v1.0h-1.0z M461.0,465.1h1.0v1.0h-1.0z M460.2,466.1h1.0v1.0h-1.0z M461.3,466.3h1.0v1.0h-1.0z M460.5,467.0h1.0v1.0h-1.0z M460.5,466.1h1.0v1.0h-1.0z M459.5,465.0h1.0v1.0h-1.0z M460.8,466.8h1.0v1.0h-1.0z M463.1,466.7h1.0v1.0h-1.0z M460.3,466.0h1.0v1.0h-1.0z M461.4,466.2h1.0v1.0h-1.0z M460.4,466.7h1.0v1.0h-1.0z M461.8,466.0h1.0v1.0h-1.0z" fill="#111"/>
<path d="M350.10,763.30 L350.10,762.08 L350.70,762.08 L350.70,761.25 L351.30,761.25 L351.30,761.55 L351.90,761.55 L351.90,758.89 L352.50,758.89 L352.50,758.17 L353.10,758.17 L353.10,757.46 L353.70,757.46 L353.70,755.80 L354.30,755.80 L354.30,755.65 L354.90,755.65 L354.90,754.20 L355.50,754.20 L355.50,753.10 L356.10,753.10 L356.10,753.07 L356.70,753.07 L356.70,753.59 L357.30,753.59 L357.30,752.39 L357.90,752.39 L357.90,750.64 L358.50,750.64 L358.50,750.85 L359.10,750.85 L359.10,750.66 L359.70,750.66 L359.70,749.61 L360.30,749.61 L360.30,748.66 L360.90,748.66 L360.90,748.30 L361.50,748.30 L361.50,747.52 L362.10,747.52 L362.10,748.03 L362.70,748.03 L362.70,747.15 L363.30,747.15 L363.30,746.65 L363.90,746.65 L363.90,746.01 L364.50,746.01 L364.50,746.96 L365.10,746.96 L365.10,745.21 L365.70,745.21 L365.70,745.53 L366.30,745.53 L366.30,743.22 L366.90,743.22 L366.90,742.69 L367.50,742.69 L367.50,742.21 L368.10,742.21 L368.10,742.43 L368.70,742.43 L368.70,742.95 L369.30,742.95 L369.30,741.59 L369.90,741.59 L369.90,742.03 L370.50,742.03 L370.50,741.12 L371.10,741.12 L371.10,741.81 L371.70,741.81 L371.70,741.24 L372.30,741.24 L372.30,740.16 L372.90,740.16 L372.90,738.90 L373.50,738.90 L373.50,739.78 L374.10,739.78 L374.10,737.83 L374.70,737.83 L374.70,737.10 L375.30,737.10 L375.30,739.49 L375.90,739.49 L375.90,738.21 L376.50,738.21 L376.50,738.43 L377.10,738.43 L377.10,737.42 L377.70,737.42 L377.70,737.23 L378.30,737.23 L378.30,736.44 L378.90,736.44 L378.90,735.28 L379.50,735.28 L379.50,734.86 L380.10,734.86 L380.10,734.88 L380.70,734.88 L380.70,734.61 L381.30,734.61 L381.30,734.07 L381.90,734.07 L381.90,733.58 L382.50,733.58 L382.50,732.77 L383.10,732.77 L383.10,732.62 L383.70,732.62 L383.70,731.71 L384.30,731.71 L384.30,732.35 L384.90,732.35 L384.90,730.23 L385.50,730.23 L385.50,728.86 L386.10,728.86 L386.10,729.17 L386.70,729.17 L386.70,729.44 L387.30,729.44 L387.30,726.61 L387.90,726.61 L387.90,726.30 L388.50,726.30 L388.50,726.06 L389.10,726.06 L389.10,721.70 L389.70,721.70 L389.70,718.59 L390.30,718.59 L390.30,716.37 L390.90,716.37 L390.90,713.81 L391.50,713.81 L391.50,712.95 L392.10,712.95 L392.10,712.92 L392.70,712.92 L392.70,714.38 L393.30,714.38 L393.30,713.78 L393.90,713.78 L393.90,712.89 L394.50,712.89 L394.50,712.54 L395.10,712.54 L395.10,713.72 L395.70,713.72 L395.70,713.43 L396.30,713.43 L396.30,712.68 L396.90,712.68 L396.90,714.33 L397.50,714.33 L397.50,714.36 L398.10,714.36 L398.10,713.17 L398.70,713.17 L398.70,712.83 L399.30,712.83 L399.30,713.34 L399.90,713.34 L399.90,714.60 L400.50,714.60 L400.50,713.73 L401.10,713.73 L401.10,717.04 L401.70,717.04 L401.70,718.96 L402.30,718.96 L402.30,722.92 L402.90,722.92 L402.90,725.47 L403.50,725.47 L403.50,727.11 L404.10,727.11 L404.10,729.50 L404.70,729.50 L404.70,729.96 L405.30,729.96 L405.30,730.97 L405.90,730.97 L405.90,732.85 L406.50,732.85 L406.50,733.59 L407.10,733.59 L407.10,736.52 L407.70,736.52 L407.70,737.31 L408.30,737.31 L408.30,740.26 L408.90,740.26 L408.90,745.20 L409.50,745.20 L409.50,748.46 L410.10,748.46 L410.10,750.46 L410.70,750.46 L410.70,750.95 L411.30,750.95 L411.30,750.94 L411.90,750.94 L411.90,750.66 L412.50,750.66 L412.50,751.97 L413.10,751.97 L413.10,751.98 L413.70,751.98 L413.70,753.37 L414.30,753.37 L414.30,752.53 L414.90,752.53 L414.90,752.02 L415.50,752.02 L415.50,752.45 L416.10,752.45 L416.10,752.84 L416.70,752.84 L416.70,753.67 L417.30,753.67 L417.30,754.08 L417.90,754.08 L417.90,753.56 L418.50,753.56 L418.50,754.48 L419.10,754.48 L419.10,754.44 L419.70,754.44 L419.70,752.95 L420.30,752.95 L420.30,754.22 L420.90,754.22 L420.90,752.20 L421.50,752.20 L421.50,754.17 L422.10,754.17 L422.10,752.53 L422.70,752.53 L422.70,753.20 L423.30,753.20 L423.30,751.78 L423.90,751.78 L423.90,752.12 L424.50,752.12 L424.50,750.85 L425.10,750.85 L425.10,750.49 L425.70,750.49 L425.70,750.24 L426.30,750.24 L426.30,749.19 L426.90,749.19 L426.90,748.20 L427.50,748.20 L427.50,749.47 L428.10,749.47 L428.10,748.40 L428.70,748.40 L428.70,748.96 L429.30,748.96 L429.30,749.07 L429.90,749.07 L429.90,747.57 L430.50,747.57 L430.50,750.65 L431.10,750.65 L431.10,749.69 L431.70,749.69 L431.70,750.56 L432.30,750.56 L432.30,749.62 L432.90,749.62 L432.90,749.67 L433.50,749.67 L433.50,747.00 L434.10,747.00 L434.10,749.54 L434.70,749.54 L434.70,748.68 L435.30,748.68 L435.30,749.24 L435.90,749.24 L435.90,750.94 L436.50,750.94 L436.50,751.07 L437.10,751.07 L437.10,751.19 L437.70,751.19 L437.70,753.28 L438.30,753.28 L438.30,754.34 L438.90,754.34 L438.90,755.16 L439.50,755.16 L439.50,757.46 L440.10,757.46 L440.10,757.67 L440.70,757.67 L440.70,757.51 L441.30,757.51 L441.30,758.00 L441.90,758.00 L441.90,759.65 L442.50,759.65 L442.50,759.82 L443.10,759.82 L443.10,760.20 L443.70,760.20 L443.70,760.64 L444.30,760.64 L444.30,760.36 L444.90,760.36 L444.90,760.92 L445.50,760.92 L445.50,760.93 L446.10,760.93 L446.10,762.08 L446.70,762.08 L446.70,761.88 L447.30,761.88 L447.30,760.97 L447.90,760.97 L447.90,762.34 L448.50,762.34 L448.50,761.10 L449.10,761.10 L449.10,761.79 L449.70,761.79 L449.70,761.93 L450.30,761.93 L450.30,760.96 L450.90,760.96 L450.90,761.92 L451.50,761.92 L451.50,762.09 L452.10,762.09 L452.10,762.01 L452.70,762.01 L452.70,761.54 L453.30,761.54 L453.30,759.71 L453.90,759.71 L453.90,763.00 L454.50,763.00 L454.50,761.71 L455.10,761.71 L455.10,761.90 L455.70,761.90 L455.70,761.11 L456.30,761.11 L456.30,762.06 L456.90,762.06 L456.90,763.00 L457.50,763.00 L457.50,760.95 L458.10,760.95 L458.10,762.66 L458.70,762.66 L458.70,761.98 L459.30,761.98 L459.30,762.92 L459.90,762.92 L459.90,762.77 L460.50,762.77 L460.50,762.38 L461.10,762.38 L461.10,761.47 L461.70,761.47 L461.70,761.51 L462.30,761.51 L462.30,762.54 L462.90,762.54 L462.90,761.81 L463.50,761.81 L463.50,762.44 L464.10,762.44 L464.10,762.13 L464.70,762.13 L464.70,762.13 L465.30,762.13 L465.30,761.83 L465.90,761.83 L465.90,762.72 L466.50,762.72 L466.50,762.41 L467.10,762.41 L467.10,762.19 L467.70,762.19 L467.70,762.30 L468.30,762.30 L468.30,762.94 L468.90,762.94 L468.90,761.22 L469.50,761.22 L469.50,762.76 L470.10,762.76 L470.10,761.93 L470.70,761.93 L470.70,762.34 L471.30,762.34 L471.30,761.65 L471.90,761.65 L471.90,763.00 L472.50,763.00 L472.50,761.11 L473.10,761.11 L473.10,762.71 L473.70,762.71 L473.70,763.00 L474.30,763.00 L474.30,762.51 L474.90,762.51 L474.90,761.04 L475.50,761.04 L475.50,762.28 L476.10,762.28 L476.10,763.00 L476.70,763.00 L476.70,762.99 L477.30,762.99 L477.30,761.75 L477.90,761.75 L477.90,763.00 L478.50,763.00 L478.50,762.84 L479.10,762.84 L479.10,762.93 L479.70,762.93 L479.70,761.23 L480.30,761.23 L480.30,762.96 L480.90,762.96 L480.90,761.85 L481.50,761.85 L481.50,763.00 L482.10,763.00 L482.10,763.00 L482.70,763.00 L482.70,762.11 L483.30,762.11 L483.30,762.38 L483.90,762.38 L483.90,763.00 L484.50,763.00 L484.50,762.39 L485.10,762.39 L485.10,762.40 L485.70,762.40 L485.70,763.00 L486.30,763.00 L486.30,762.72 L486.90,762.72 L486.90,762.69 L487.50,762.69 L487.50,763.00 L488.10,763.00 L488.10,763.00 L488.70,763.00 L488.70,763.00 L489.30,763.00 L489.30,763.00 L489.90,763.00 L489.90,763.00 L490.50,763.00 L490.50,762.96 L491.10,762.96 L491.10,763.00 L491.70,763.00 L491.70,762.89 L492.30,762.89 L492.30,763.00 L492.90,763.00 L492.90,763.00 L493.50,763.00 L493.50,762.37 L494.10,762.37 L494.10,761.62 L494.70,761.62 L494.70,762.05 L495.30,762.05 L495.30,763.00 L495.90,763.00 L495.90,762.10 L496.50,762.10 L496.50,762.83 L497.10,762.83 L497.10,763.00 L497.70,763.00 L497.70,763.00 L498.30,763.00 L498.30,763.00 L498.90,763.00 L498.90,762.03 L499.50,762.03 L499.50,762.62 L500.10,762.62 L500.10,763.00 L500.70,763.00 L500.70,763.00 L501.30,763.00 L501.30,763.00 L501.90,763.00 L501.90,762.60 L502.50,762.60 L502.50,761.72 L503.10,761.72 L503.10,763.00 L503.70,763.00 L503.70,763.00 L504.30,763.00 L504.30,763.00 L504.90,763.00 L504.90,763.00 L505.50,763.00 L505.50,762.74 L506.10,762.74 L506.10,762.64 L506.70,762.64 L506.70,763.00 L507.30,763.00 L507.30,763.00 L507.90,763.00 L507.90,762.19 L508.50,762.19 L508.50,763.30 L508.50,763.30 L507.90,763.30 L507.30,763.30 L506.70,763.30 L506.10,763.30 L505.50,763.30 L504.90,763.30 L504.30,763.30 L503.70,763.30 L503.10,763.30 L502.50,763.30 L501.90,763.30 L501.30,763.30 L500.70,763.30 L500.10,763.30 L499.50,763.30 L498.90,763.30 L498.30,763.30 L497.70,763.30 L497.10,763.30 L496.50,763.30 L495.90,763.30 L495.30,763.30 L494.70,763.30 L494.10,763.30 L493.50,763.30 L492.90,763.30 L492.30,763.30 L491.70,763.30 L491.10,763.30 L490.50,763.30 L489.90,763.30 L489.30,763.30 L488.70,763.30 L488.10,763.30 L487.50,763.30 L486.90,763.30 L486.30,763.30 L485.70,763.30 L485.10,763.30 L484.50,763.30 L483.90,763.30 L483.30,763.30 L482.70,763.30 L482.10,763.30 L481.50,763.30 L480.90,763.30 L480.30,763.30 L479.70,763.30 L479.10,763.30 L478.50,763.30 L477.90,763.30 L477.30,763.30 L476.70,763.30 L476.10,763.30 L475.50,763.30 L474.90,763.30 L474.30,763.30 L473.70,763.30 L473.10,763.30 L472.50,763.30 L471.90,763.30 L471.30,763.30 L470.70,763.30 L470.10,763.30 L469.50,763.30 L468.90,763.30 L468.30,763.30 L467.70,763.30 L467.10,763.30 L466.50,763.30 L465.90,763.30 L465.30,763.30 L464.70,763.30 L464.10,763.30 L463.50,763.30 L462.90,763.30 L462.30,763.30 L461.70,763.30 L461.10,763.30 L460.50,763.30 L459.90,763.30 L459.30,763.30 L458.70,763.30 L458.10,763.30 L457.50,763.30 L456.90,763.30 L456.30,763.30 L455.70,763.30 L455.10,763.30 L454.50,763.30 L453.90,763.30 L453.30,763.30 L452.70,763.30 L452.10,763.30 L451.50,763.30 L450.90,763.30 L450.30,763.30 L449.70,763.30 L449.10,763.30 L448.50,763.30 L447.90,763.30 L447.30,763.30 L446.70,763.30 L446.10,763.30 L445.50,763.30 L444.90,763.30 L444.30,763.30 L443.70,763.30 L443.10,763.30 L442.50,763.30 L441.90,763.30 L441.30,763.30 L440.70,763.30 L440.10,763.30 L439.50,763.30 L438.90,763.30 L438.30,763.30 L437.70,763.30 L437.10,763.30 L436.50,763.30 L435.90,763.30 L435.30,763.30 L434.70,763.30 L434.10,763.30 L433.50,763.30 L432.90,763.30 L432.30,763.30 L431.70,763.30 L431.10,763.30 L430.50,763.30 L429.90,763.30 L429.30,763.30 L428.70,763.30 L428.10,763.30 L427.50,763.30 L426.90,763.30 L426.30,763.30 L425.70,763.30 L425.10,763.30 L424.50,763.30 L423.90,763.30 L423.30,763.30 L422.70,763.30 L422.10,763.30 L421.50,763.30 L420.90,763.30 L420.30,763.30 L419.70,763.30 L419.10,763.30 L418.50,763.30 L417.90,763.30 L417.30,763.30 L416.70,763.30 L416.10,763.30 L415.50,763.30 L414.90,763.30 L414.30,763.30 L413.70,763.30 L413.10,763.30 L412.50,763.30 L411.90,763.30 L411.30,763.30 L410.70,763.30 L410.10,763.30 L409.50,763.30 L408.90,763.30 L408.30,763.30 L407.70,763.30 L407.10,763.30 L406.50,763.30 L405.90,763.30 L405.30,763.30 L404.70,763.30 L404.10,763.30 L403.50,763.30 L402.90,763.30 L402.30,763.30 L401.70,763.30 L401.10,763.30 L400.50,763.30 L399.90,763.30 L399.30,763.30 L398.70,763.30 L398.10,763.30 L397.50,763.30 L396.90,763.30 L396.30,763.30 L395.70,763.30 L395.10,763.30 L394.50,763.30 L393.90,763.30 L393.30,763.30 L392.70,763.30 L392.10,763.30 L391.50,763.30 L390.90,763.30 L390.30,763.30 L389.70,763.30 L389.10,763.30 L388.50,763.30 L387.90,763.30 L387.30,763.30 L386.70,763.30 L386.10,763.30 L385.50,763.30 L384.90,763.30 L384.30,763.30 L383.70,763.30 L383.10,763.30 L382.50,763.30 L381.90,763.30 L381.30,763.30 L380.70,763.30 L380.10,763.30 L379.50,763.30 L378.90,763.30 L378.30,763.30 L377.70,763.30 L377.10,763.30 L376.50,763.30 L375.90,763.30 L375.30,763.30 L374.70,763.30 L374.10,763.30 L373.50,763.30 L372.90,763.30 L372.30,763.30 L371.70,763.30 L371.10,763.30 L370.50,763.30 L369.90,763.30 L369.30,763.30 L368.70,763.30 L368.10,763.30 L367.50,763.30 L366.90,763.30 L366.30,763.30 L365.70,763.30 L365.10,763.30 L364.50,763.30 L363.90,763.30 L363.30,763.30 L362.70,763.30 L362.10,763.30 L361.50,763.30 L360.90,763.30 L360.30,763.30 L359.70,763.30 L359.10,763.30 L358.50,763.30 L357.90,763.30 L357.30,763.30 L356.70,763.30 L356.10,763.30 L355.50,763.30 L354.90,763.30 L354.30,763.30 L353.70,763.30 L353.10,763.30 L352.50,763.30 L351.90,763.30 L351.30,763.30 L350.70,763.30 Z" fill="#b4b4b4" stroke="none"/>
<path d="M352.50,758.97V750.83 M355.50,753.90V744.44 M359.70,750.41V736.79 M360.90,749.10V735.65 M365.70,746.33V728.65 M370.50,741.92V723.26 M375.30,740.29V718.15 M375.90,739.01V716.14 M378.90,736.08V712.45 M381.30,734.87V704.17 M394.50,713.34V673.26 M395.10,714.52V671.30 M397.50,715.16V671.56 M401.10,717.84V701.22 M402.30,723.72V707.73 M402.90,726.27V713.08 M408.90,746.00V740.90 M410.70,751.75V742.62 M411.30,751.74V739.36 M412.50,752.77V740.37 M416.10,753.64V739.81 M417.30,754.88V741.34 M418.50,755.28V743.74 M420.30,755.02V739.94 M426.90,749.00V741.14 M428.70,749.76V738.00 M429.90,748.37V741.78 M431.70,751.36V743.03 M432.30,750.42V737.83 M433.50,747.80V743.72 M434.10,750.34V740.78 M435.90,751.74V741.26 M438.90,755.96V749.38 M439.50,758.26V751.43 M441.30,758.80V754.45 M443.10,761.00V756.07 M445.50,761.73V758.31 M449.10,762.59V759.08 M449.70,762.73V759.06 M451.50,762.89V760.58 M452.10,762.81V760.58 M453.90,763.80V759.08 M455.10,762.70V761.70 M455.70,761.91V760.26 M458.10,763.46V761.01 M459.30,763.72V758.89 M460.50,763.18V760.26 M465.90,763.52V762.08 M466.50,763.21V760.95 M473.10,763.51V759.32 M478.50,763.64V762.02 M479.10,763.73V762.84 M479.70,762.03V761.01 M483.30,763.18V760.02 M485.70,763.80V762.61 M496.50,763.63V762.01 M497.70,763.80V760.00 M500.70,763.80V761.83 M503.70,763.80V762.13" stroke="#8f8f8f" stroke-width="0.75" fill="none"/>
<path d="M350.10,762.88V755.19 M350.70,757.47V752.19 M351.30,762.35V749.83 M351.90,759.69V751.70 M353.10,758.26V746.38 M353.70,756.60V746.69 M354.30,756.45V747.25 M354.90,755.00V742.69 M356.10,753.87V744.27 M356.70,754.39V741.07 M357.30,753.19V740.86 M357.90,751.44V743.60 M358.50,751.65V741.26 M359.10,751.46V739.21 M360.30,749.46V738.77 M361.50,748.32V739.73 M362.10,748.83V735.51 M362.70,740.68V735.79 M363.30,747.45V731.08 M363.90,746.81V732.02 M364.50,739.36V729.35 M365.10,746.01V730.41 M366.30,744.02V728.15 M366.90,736.11V726.43 M367.50,743.01V727.46 M368.10,743.23V727.66 M368.70,743.75V724.47 M369.30,742.39V723.96 M369.90,742.83V721.14 M371.10,742.61V722.67 M371.70,742.04V719.60 M372.30,740.96V720.87 M372.90,725.50V718.13 M373.50,740.58V716.52 M374.10,723.45V717.63 M374.70,737.90V715.28 M376.50,739.23V714.14 M377.10,738.22V710.53 M377.70,738.03V711.39 M378.30,737.24V709.86 M379.50,735.66V708.39 M380.10,735.68V712.14 M380.70,735.41V707.57 M381.90,734.38V704.63 M382.50,733.57V701.50 M383.10,733.42V702.83 M383.70,732.51V696.94 M384.30,733.15V702.04 M384.90,731.03V698.64 M385.50,715.83V698.25 M386.10,711.50V695.13 M386.70,710.96V692.26 M387.30,727.41V695.28 M387.90,727.10V687.74 M388.50,726.86V689.26 M389.10,722.50V687.48 M389.70,719.39V681.48 M390.30,717.17V682.18 M390.90,714.61V677.49 M391.50,713.75V677.72 M392.10,713.72V679.21 M392.70,715.18V676.21 M393.30,714.58V671.25 M393.90,713.69V670.77 M395.70,714.23V672.35 M396.30,713.48V670.90 M396.90,715.13V671.84 M398.10,713.97V673.44 M398.70,697.17V676.19 M399.30,714.14V675.82 M399.90,703.76V679.51 M400.50,714.53V687.91 M401.70,719.76V706.79 M403.50,727.91V714.04 M404.10,730.30V721.14 M404.70,727.37V723.25 M405.30,726.41V724.59 M405.90,731.94V728.25 M406.50,734.39V729.39 M407.10,737.32V735.60 M407.70,736.07V735.56 M408.30,741.06V739.17 M409.50,749.26V736.12 M410.10,751.26V742.02 M411.90,751.46V740.70 M413.10,752.78V742.86 M413.70,754.17V745.78 M414.30,753.33V739.54 M414.90,752.82V739.14 M415.50,753.25V742.52 M416.70,754.47V743.28 M417.90,754.36V742.67 M419.10,746.48V742.44 M419.70,747.59V743.13 M420.90,753.00V741.86 M421.50,754.97V740.01 M422.10,753.33V741.54 M422.70,749.25V742.74 M423.30,752.58V741.39 M423.90,752.92V742.02 M424.50,751.65V736.74 M425.10,751.29V740.66 M425.70,746.78V740.15 M426.30,749.99V742.69 M427.50,750.27V742.00 M428.10,749.20V741.03 M429.30,743.70V741.46 M430.50,751.45V742.71 M431.10,741.77V738.51 M432.90,750.47V742.59 M434.70,747.37V742.77 M435.30,746.70V743.26 M436.50,751.87V740.68 M437.10,751.99V743.93 M437.70,754.08V746.14 M438.30,751.40V746.13 M440.10,758.47V752.81 M440.70,758.31V753.72 M441.90,757.54V753.41 M442.50,760.62V755.79 M443.70,761.44V755.94 M444.30,761.16V755.40 M444.90,761.72V759.92 M446.10,761.59V761.24 M446.70,762.68V759.82 M447.90,763.14V761.52 M450.30,761.76V759.01 M453.30,760.01V758.97 M456.30,762.86V760.74 M459.90,763.57V761.53 M461.70,762.31V758.91 M462.30,761.56V760.98 M463.50,763.24V761.59 M464.10,761.88V761.44 M467.10,762.99V762.22 M468.30,761.48V759.74 M470.70,763.14V761.24 M471.30,762.45V761.49 M471.90,763.80V760.53 M474.30,763.31V762.61 M475.50,763.08V760.23 M476.70,763.79V758.97 M477.90,763.80V763.01 M480.30,763.76V761.79 M481.50,763.80V762.47 M482.10,761.13V760.35 M483.90,763.80V763.22 M486.90,763.49V761.88 M488.70,763.80V762.05 M489.30,762.89V760.88 M489.90,763.80V760.97 M490.50,762.71V761.95 M492.30,763.80V762.72 M494.70,762.85V759.95 M497.10,763.80V763.00 M498.90,762.83V762.17 M500.10,763.80V762.26 M501.30,763.80V762.68 M501.90,761.84V759.01 M503.10,763.80V763.03 M504.90,763.80V760.70 M505.50,763.54V761.05 M506.70,763.51V762.96" stroke="#111" stroke-width="0.75" fill="none"/>
<path d="M350.10,760.19 L350.55,760.19 L350.55,735.07 L351.00,735.07 L351.00,756.09 L351.45,756.09 L351.45,740.51 L351.90,740.51 L351.90,756.66 L352.35,756.66 L352.35,747.32 L352.80,747.32 L352.80,740.14 L353.25,740.14 L353.25,747.47 L353.70,747.47 L353.70,731.88 L354.15,731.88 L354.15,741.96 L354.60,741.96 L354.60,742.02 L355.05,742.02 L355.05,735.18 L355.50,735.18 L355.50,741.18 L355.95,741.18 L355.95,727.62 L356.40,727.62 L356.40,742.04 L356.85,742.04 L356.85,727.19 L357.30,727.19 L357.30,741.52 L357.75,741.52 L357.75,739.12 L358.20,739.12 L358.20,741.36 L358.65,741.36 L358.65,726.12 L359.10,726.12 L359.10,750.59 L359.55,750.59 L359.55,730.25 L360.00,730.25 L360.00,733.05 L360.45,733.05 L360.45,723.49 L360.90,723.49 L360.90,743.86 L361.35,743.86 L361.35,723.87 L361.80,723.87 L361.80,738.51 L362.25,738.51 L362.25,715.98 L362.70,715.98 L362.70,728.88 L363.15,728.88 L363.15,719.34 L363.60,719.34 L363.60,735.16 L364.05,735.16 L364.05,719.57 L364.50,719.57 L364.50,714.05 L364.95,714.05 L364.95,727.04 L365.40,727.04 L365.40,711.83 L365.85,711.83 L365.85,710.57 L366.30,710.57 L366.30,728.80 L366.75,728.80 L366.75,708.20 L367.20,708.20 L367.20,727.35 L367.65,727.35 L367.65,710.37 L368.10,710.37 L368.10,705.99 L368.55,705.99 L368.55,718.29 L369.00,718.29 L369.00,722.70 L369.45,722.70 L369.45,706.87 L369.90,706.87 L369.90,710.41 L370.35,710.41 L370.35,723.19 L370.80,723.19 L370.80,722.02 L371.25,722.02 L371.25,709.06 L371.70,709.06 L371.70,699.88 L372.15,699.88 L372.15,700.21 L372.60,700.21 L372.60,700.50 L373.05,700.50 L373.05,717.72 L373.50,717.72 L373.50,715.68 L373.95,715.68 L373.95,711.35 L374.40,711.35 L374.40,725.64 L374.85,725.64 L374.85,701.67 L375.30,701.67 L375.30,699.74 L375.75,699.74 L375.75,698.84 L376.20,698.84 L376.20,731.25 L376.65,731.25 L376.65,695.99 L377.10,695.99 L377.10,706.31 L377.55,706.31 L377.55,707.81 L378.00,707.81 L378.00,700.55 L378.45,700.55 L378.45,736.77 L378.90,736.77 L378.90,719.09 L379.35,719.09 L379.35,710.70 L379.80,710.70 L379.80,677.77 L380.25,677.77 L380.25,703.26 L380.70,703.26 L380.70,680.56 L381.15,680.56 L381.15,688.17 L381.60,688.17 L381.60,691.16 L382.05,691.16 L382.05,672.25 L382.50,672.25 L382.50,701.81 L382.95,701.81 L382.95,719.50 L383.40,719.50 L383.40,707.08 L383.85,707.08 L383.85,690.99 L384.30,690.99 L384.30,674.07 L384.75,674.07 L384.75,707.58 L385.20,707.58 L385.20,707.56 L385.65,707.56 L385.65,674.81 L386.10,674.81 L386.10,667.77 L386.55,667.77 L386.55,693.70 L387.00,693.70 L387.00,667.22 L387.45,667.22 L387.45,693.94 L387.90,693.94 L387.90,665.88 L388.35,665.88 L388.35,665.18 L388.80,665.18 L388.80,672.39 L389.25,672.39 L389.25,662.71 L389.70,662.71 L389.70,668.74 L390.15,668.74 L390.15,677.52 L390.60,677.52 L390.60,660.34 L391.05,660.34 L391.05,681.40 L391.50,681.40 L391.50,657.35 L391.95,657.35 L391.95,671.17 L392.40,671.17 L392.40,662.86 L392.85,662.86 L392.85,648.70 L393.30,648.70 L393.30,646.24 L393.75,646.24 L393.75,647.10 L394.20,647.10 L394.20,648.35 L394.65,648.35 L394.65,649.54 L395.10,649.54 L395.10,690.39 L395.55,690.39 L395.55,677.02 L396.00,677.02 L396.00,650.41 L396.45,650.41 L396.45,672.27 L396.90,672.27 L396.90,659.96 L397.35,659.96 L397.35,648.52 L397.80,648.52 L397.80,665.88 L398.25,665.88 L398.25,674.57 L398.70,674.57 L398.70,647.27 L399.15,647.27 L399.15,653.38 L399.60,653.38 L399.60,665.79 L400.05,665.79 L400.05,652.51 L400.50,652.51 L400.50,679.01 L400.95,679.01 L400.95,685.06 L401.40,685.06 L401.40,692.03 L401.85,692.03 L401.85,698.16 L402.30,698.16 L402.30,707.30 L402.75,707.30 L402.75,714.11 L403.20,714.11 L403.20,713.62 L403.65,713.62 L403.65,711.71 L404.10,711.71 L404.10,720.55 L404.55,720.55 L404.55,719.80 L405.00,719.80 L405.00,723.71 L405.45,723.71 L405.45,727.78 L405.90,727.78 L405.90,722.22 L406.35,722.22 L406.35,726.48 L406.80,726.48 L406.80,726.87 L407.25,726.87 L407.25,727.87 L407.70,727.87 L407.70,738.43 L408.15,738.43 L408.15,737.42 L408.60,737.42 L408.60,729.03 L409.05,729.03 L409.05,737.17 L409.50,737.17 L409.50,730.51 L409.95,730.51 L409.95,743.96 L410.40,743.96 L410.40,735.52 L410.85,735.52 L410.85,733.38 L411.30,733.38 L411.30,736.40 L411.75,736.40 L411.75,738.66 L412.20,738.66 L412.20,736.16 L412.65,736.16 L412.65,734.52 L413.10,734.52 L413.10,735.06 L413.55,735.06 L413.55,740.21 L414.00,740.21 L414.00,729.16 L414.45,729.16 L414.45,735.96 L414.90,735.96 L414.90,734.94 L415.35,734.94 L415.35,731.73 L415.80,731.73 L415.80,742.42 L416.25,742.42 L416.25,727.40 L416.70,727.40 L416.70,731.61 L417.15,731.61 L417.15,725.90 L417.60,725.90 L417.60,740.80 L418.05,740.80 L418.05,730.79 L418.50,730.79 L418.50,736.21 L418.95,736.21 L418.95,739.39 L419.40,739.39 L419.40,726.63 L419.85,726.63 L419.85,739.80 L420.30,739.80 L420.30,725.04 L420.75,725.04 L420.75,731.14 L421.20,731.14 L421.20,733.57 L421.65,733.57 L421.65,743.31 L422.10,743.31 L422.10,742.33 L422.55,742.33 L422.55,751.69 L423.00,751.69 L423.00,737.04 L423.45,737.04 L423.45,730.20 L423.90,730.20 L423.90,729.47 L424.35,729.47 L424.35,741.54 L424.80,741.54 L424.80,751.12 L425.25,751.12 L425.25,737.85 L425.70,737.85 L425.70,726.04 L426.15,726.04 L426.15,736.50 L426.60,736.50 L426.60,735.95 L427.05,735.95 L427.05,732.41 L427.50,732.41 L427.50,721.19 L427.95,721.19 L427.95,714.49 L428.40,714.49 L428.40,725.71 L428.85,725.71 L428.85,746.93 L429.30,746.93 L429.30,735.74 L429.75,735.74 L429.75,716.11 L430.20,716.11 L430.20,733.21 L430.65,733.21 L430.65,719.13 L431.10,719.13 L431.10,749.71 L431.55,749.71 L431.55,736.73 L432.00,736.73 L432.00,724.07 L432.45,724.07 L432.45,742.90 L432.90,742.90 L432.90,728.72 L433.35,728.72 L433.35,740.81 L433.80,740.81 L433.80,736.04 L434.25,736.04 L434.25,725.35 L434.70,725.35 L434.70,742.13 L435.15,742.13 L435.15,723.82 L435.60,723.82 L435.60,749.89 L436.05,749.89 L436.05,736.51 L436.50,736.51 L436.50,724.61 L436.95,724.61 L436.95,724.59 L437.40,724.59 L437.40,753.36 L437.85,753.36 L437.85,753.69 L438.30,753.69 L438.30,732.37 L438.75,732.37 L438.75,755.75 L439.20,755.75 L439.20,745.27 L439.65,745.27 L439.65,743.52 L440.10,743.52 L440.10,745.94 L440.55,745.94 L440.55,746.40 L441.00,746.40 L441.00,756.24 L441.45,756.24 L441.45,751.25 L441.90,751.25 L441.90,748.30 L442.35,748.30 L442.35,759.66 L442.80,759.66 L442.80,756.50 L443.25,756.50 L443.25,752.44 L443.70,752.44 L443.70,755.08 L444.15,755.08 L444.15,755.05 L444.60,755.05 L444.60,757.77 L445.05,757.77 L445.05,759.05 L445.50,759.05 L445.50,759.55 L445.95,759.55 L445.95,759.52 L446.40,759.52 L446.40,760.05 L446.85,760.05 L446.85,761.10 L447.30,761.10 L447.30,760.91 L447.75,760.91 L447.75,761.56 L448.20,761.56 L448.20,760.96 L448.65,760.96 L448.65,761.34 L449.10,761.34 L449.10,761.22 L449.55,761.22 L449.55,761.09 L450.00,761.09 L450.00,761.54 L450.45,761.54 L450.45,761.34 L450.90,761.34 L450.90,761.22 L451.35,761.22 L451.35,761.36 L451.80,761.36 L451.80,761.57 L452.25,761.57 L452.25,761.35 L452.70,761.35 L452.70,761.64 L453.15,761.64 L453.15,761.61 L453.60,761.61 L453.60,761.58 L454.05,761.58 L454.05,761.68 L454.50,761.68 L454.50,761.72 L454.95,761.72 L454.95,761.71 L455.40,761.71 L455.40,761.73 L455.85,761.73 L455.85,761.78 L456.30,761.78 L456.30,761.80 L456.75,761.80 L456.75,761.82 L457.20,761.82 L457.20,761.84 L457.65,761.84 L457.65,761.87 L458.10,761.87 L458.10,761.89 L458.55,761.89 L458.55,761.92 L459.00,761.92 L459.00,761.94 L459.45,761.94 L459.45,761.97 L459.90,761.97 L459.90,761.99 L460.35,761.99 L460.35,762.01 L460.80,762.01 L460.80,762.04 L461.25,762.04 L461.25,762.06 L461.70,762.06 L461.70,762.08 L462.15,762.08 L462.15,762.10 L462.60,762.10 L462.60,762.12 L463.05,762.12 L463.05,762.15 L463.50,762.15 L463.50,762.16 L463.95,762.16 L463.95,762.20 L464.40,762.20 L464.40,762.19 L464.85,762.19 L464.85,762.22 L465.30,762.22 L465.30,762.22 L465.75,762.22 L465.75,762.26 L466.20,762.26 L466.20,762.27 L466.65,762.27 L466.65,762.32 L467.10,762.32 L467.10,762.33 L467.55,762.33 L467.55,762.34 L468.00,762.34 L468.00,762.39 L468.45,762.39 L468.45,762.40 L468.90,762.40 L468.90,762.40 L469.35,762.40 L469.35,762.38 L469.80,762.38 L469.80,762.38 L470.25,762.38 L470.25,762.43 L470.70,762.43 L470.70,762.44 L471.15,762.44 L471.15,762.44 L471.60,762.44 L471.60,762.47 L472.05,762.47 L472.05,762.44 L472.50,762.44 L472.50,762.54 L472.95,762.54 L472.95,762.50 L473.40,762.50 L473.40,762.53 L473.85,762.53 L473.85,762.56 L474.30,762.56 L474.30,762.52 L474.75,762.52 L474.75,762.60 L475.20,762.60 L475.20,762.62 L475.65,762.62 L475.65,762.59 L476.10,762.59 L476.10,762.59 L476.55,762.59 L476.55,762.62 L477.00,762.62 L477.00,762.59 L477.45,762.59 L477.45,762.69 L477.90,762.69 L477.90,762.66 L478.35,762.66 L478.35,762.65 L478.80,762.65 L478.80,762.66 L479.25,762.66 L479.25,762.71 L479.70,762.71 L479.70,762.75 L480.15,762.75 L480.15,762.69 L480.60,762.69 L480.60,762.72 L481.05,762.72 L481.05,762.71 L481.50,762.71 L481.50,762.76 L481.95,762.76 L481.95,762.76 L482.40,762.76 L482.40,762.82 L482.85,762.82 L482.85,762.77 L483.30,762.77 L483.30,762.77 L483.75,762.77 L483.75,762.77 L484.20,762.77 L484.20,762.82 L484.65,762.82 L484.65,762.77 L485.10,762.77 L485.10,762.83 L485.55,762.83 L485.55,762.83 L486.00,762.83 L486.00,762.83 L486.45,762.83 L486.45,762.83 L486.90,762.83 L486.90,762.86 L487.35,762.86 L487.35,762.88 L487.80,762.88 L487.80,762.86 L488.25,762.86 L488.25,762.88 L488.70,762.88 L488.70,762.90 L489.15,762.90 L489.15,762.87 L489.60,762.87 L489.60,762.88 L490.05,762.88 L490.05,762.87 L490.50,762.87 L490.50,762.90 L490.95,762.90 L490.95,762.90 L491.40,762.90 L491.40,762.90 L491.85,762.90 L491.85,762.90 L492.30,762.90 L492.30,762.90 L492.75,762.90 L492.75,762.91 L493.20,762.91 L493.20,762.92 L493.65,762.92 L493.65,762.94 L494.10,762.94 L494.10,762.94 L494.55,762.94 L494.55,762.94 L495.00,762.94 L495.00,762.95 L495.45,762.95 L495.45,762.95 L495.90,762.95 L495.90,762.95 L496.35,762.95 L496.35,762.95 L496.80,762.95 L496.80,762.96 L497.25,762.96 L497.25,762.96 L497.70,762.96 L497.70,762.96 L498.15,762.96 L498.15,762.97 L498.60,762.97 L498.60,762.97 L499.05,762.97 L499.05,762.98 L499.50,762.98 L499.50,762.97 L499.95,762.97 L499.95,762.98 L500.40,762.98 L500.40,762.98 L500.85,762.98 L500.85,762.98 L501.30,762.98 L501.30,762.99 L501.75,762.99 L501.75,762.99 L502.20,762.99 L502.20,762.98 L502.65,762.98 L502.65,762.99 L503.10,762.99 L503.10,762.99 L503.55,762.99 L503.55,762.99 L504.00,762.99 L504.00,762.99 L504.45,762.99 L504.45,763.00 L504.90,763.00 L504.90,763.00 L505.35,763.00 L505.35,763.00 L505.80,763.00 L505.80,763.00 L506.25,763.00 L506.25,763.00 L506.70,763.00 L506.70,763.00 L507.15,763.00 L507.15,763.00 L507.60,763.00 L507.60,763.00 L508.05,763.00 L508.05,763.00 L508.50,763.00 L508.50,763.00 " fill="none" stroke="#000" stroke-width="0.75"/>
<path d="M350.10,735.99 L350.55,735.99 L350.55,747.90 L351.00,747.90 L351.00,747.04 L351.45,747.04 L351.45,735.05 L351.90,735.05 L351.90,734.00 L352.35,734.00 L352.35,740.08 L352.80,740.08 L352.80,739.38 L353.25,739.38 L353.25,726.97 L353.70,726.97 L353.70,751.49 L354.15,751.49 L354.15,739.33 L354.60,739.33 L354.60,738.20 L355.05,738.20 L355.05,741.45 L355.50,741.45 L355.50,726.50 L355.95,726.50 L355.95,737.25 L356.40,737.25 L356.40,747.18 L356.85,747.18 L356.85,747.35 L357.30,747.35 L357.30,740.67 L357.75,740.67 L357.75,731.02 L358.20,731.02 L358.20,722.99 L358.65,722.99 L358.65,748.59 L359.10,748.59 L359.10,738.68 L359.55,738.68 L359.55,729.05 L360.00,729.05 L360.00,724.60 L360.45,724.60 L360.45,723.28 L360.90,723.28 L360.90,722.01 L361.35,722.01 L361.35,742.48 L361.80,742.48 L361.80,730.32 L362.25,730.32 L362.25,717.83 L362.70,717.83 L362.70,722.15 L363.15,722.15 L363.15,747.08 L363.60,747.08 L363.60,739.85 L364.05,739.85 L364.05,713.84 L364.50,713.84 L364.50,721.69 L364.95,721.69 L364.95,712.98 L365.40,712.98 L365.40,711.83 L365.85,711.83 L365.85,722.78 L366.30,722.78 L366.30,744.66 L366.75,744.66 L366.75,740.07 L367.20,740.07 L367.20,718.36 L367.65,718.36 L367.65,711.36 L368.10,711.36 L368.10,719.11 L368.55,719.11 L368.55,729.93 L369.00,729.93 L369.00,707.16 L369.45,707.16 L369.45,706.87 L369.90,706.87 L369.90,739.90 L370.35,739.90 L370.35,716.56 L370.80,716.56 L370.80,736.79 L371.25,736.79 L371.25,714.39 L371.70,714.39 L371.70,733.13 L372.15,733.13 L372.15,700.42 L372.60,700.42 L372.60,716.69 L373.05,716.69 L373.05,731.54 L373.50,731.54 L373.50,723.04 L373.95,723.04 L373.95,701.30 L374.40,701.30 L374.40,719.93 L374.85,719.93 L374.85,699.36 L375.30,699.36 L375.30,698.51 L375.75,698.51 L375.75,712.75 L376.20,712.75 L376.20,725.32 L376.65,725.32 L376.65,716.40 L377.10,716.40 L377.10,695.05 L377.55,695.05 L377.55,715.59 L378.00,715.59 L378.00,711.93 L378.45,711.93 L378.45,690.09 L378.90,690.09 L378.90,683.42 L379.35,683.42 L379.35,717.37 L379.80,717.37 L379.80,714.24 L380.25,714.24 L380.25,704.55 L380.70,704.55 L380.70,669.56 L381.15,669.56 L381.15,661.27 L381.60,661.27 L381.60,718.14 L382.05,718.14 L382.05,709.79 L382.50,709.79 L382.50,699.93 L382.95,699.93 L382.95,684.30 L383.40,684.30 L383.40,696.17 L383.85,696.17 L383.85,678.51 L384.30,678.51 L384.30,678.77 L384.75,678.77 L384.75,668.88 L385.20,668.88 L385.20,688.08 L385.65,688.08 L385.65,669.17 L386.10,669.17 L386.10,703.76 L386.55,703.76 L386.55,696.46 L387.00,696.46 L387.00,667.22 L387.45,667.22 L387.45,718.91 L387.90,718.91 L387.90,665.88 L388.35,665.88 L388.35,684.03 L388.80,684.03 L388.80,695.82 L389.25,695.82 L389.25,697.94 L389.70,697.94 L389.70,661.69 L390.15,661.69 L390.15,687.97 L390.60,687.97 L390.60,690.32 L391.05,690.32 L391.05,692.83 L391.50,692.83 L391.50,657.35 L391.95,657.35 L391.95,654.82 L392.40,654.82 L392.40,656.45 L392.85,656.45 L392.85,648.70 L393.30,648.70 L393.30,688.65 L393.75,688.65 L393.75,647.10 L394.20,647.10 L394.20,684.50 L394.65,684.50 L394.65,668.62 L395.10,668.62 L395.10,650.22 L395.55,650.22 L395.55,650.31 L396.00,650.31 L396.00,650.41 L396.45,650.41 L396.45,657.81 L396.90,657.81 L396.90,678.03 L397.35,678.03 L397.35,651.02 L397.80,651.02 L397.80,677.45 L398.25,677.45 L398.25,646.96 L398.70,646.96 L398.70,647.27 L399.15,647.27 L399.15,651.59 L399.60,651.59 L399.60,673.49 L400.05,673.49 L400.05,658.19 L400.50,658.19 L400.50,662.16 L400.95,662.16 L400.95,692.86 L401.40,692.86 L401.40,713.84 L401.85,713.84 L401.85,700.34 L402.30,700.34 L402.30,702.77 L402.75,702.77 L402.75,706.29 L403.20,706.29 L403.20,723.70 L403.65,723.70 L403.65,714.19 L404.10,714.19 L404.10,720.09 L404.55,720.09 L404.55,725.21 L405.00,725.21 L405.00,726.16 L405.45,726.16 L405.45,720.14 L405.90,720.14 L405.90,728.79 L406.35,728.79 L406.35,730.02 L406.80,730.02 L406.80,730.61 L407.25,730.61 L407.25,734.38 L407.70,734.38 L407.70,730.42 L408.15,730.42 L408.15,733.47 L408.60,733.47 L408.60,731.71 L409.05,731.71 L409.05,739.57 L409.50,739.57 L409.50,729.48 L409.95,729.48 L409.95,738.13 L410.40,738.13 L410.40,727.49 L410.85,727.49 L410.85,733.78 L411.30,733.78 L411.30,731.95 L411.75,731.95 L411.75,734.58 L412.20,734.58 L412.20,737.04 L412.65,737.04 L412.65,734.71 L413.10,734.71 L413.10,734.32 L413.55,734.32 L413.55,729.64 L414.00,729.64 L414.00,745.93 L414.45,745.93 L414.45,730.30 L414.90,730.30 L414.90,733.73 L415.35,733.73 L415.35,728.88 L415.80,728.88 L415.80,745.38 L416.25,745.38 L416.25,727.40 L416.70,727.40 L416.70,740.72 L417.15,740.72 L417.15,748.43 L417.60,748.43 L417.60,753.55 L418.05,753.55 L418.05,747.99 L418.50,747.99 L418.50,741.91 L418.95,741.91 L418.95,729.03 L419.40,729.03 L419.40,749.14 L419.85,749.14 L419.85,748.90 L420.30,748.90 L420.30,745.16 L420.75,745.16 L420.75,744.65 L421.20,744.65 L421.20,735.74 L421.65,735.74 L421.65,730.05 L422.10,730.05 L422.10,745.95 L422.55,745.95 L422.55,748.07 L423.00,748.07 L423.00,726.42 L423.45,726.42 L423.45,744.92 L423.90,744.92 L423.90,737.56 L424.35,737.56 L424.35,744.79 L424.80,744.79 L424.80,737.59 L425.25,737.59 L425.25,747.95 L425.70,747.95 L425.70,747.28 L426.15,747.28 L426.15,745.77 L426.60,745.77 L426.60,713.86 L427.05,713.86 L427.05,745.35 L427.50,745.35 L427.50,733.08 L427.95,733.08 L427.95,715.66 L428.40,715.66 L428.40,743.12 L428.85,743.12 L428.85,716.22 L429.30,716.22 L429.30,745.90 L429.75,745.90 L429.75,749.57 L430.20,749.57 L430.20,726.35 L430.65,726.35 L430.65,745.75 L431.10,745.75 L431.10,739.84 L431.55,739.84 L431.55,742.13 L432.00,742.13 L432.00,724.07 L432.45,724.07 L432.45,741.68 L432.90,741.68 L432.90,737.18 L433.35,737.18 L433.35,742.94 L433.80,742.94 L433.80,736.13 L434.25,736.13 L434.25,746.91 L434.70,746.91 L434.70,738.69 L435.15,738.69 L435.15,743.13 L435.60,743.13 L435.60,750.84 L436.05,750.84 L436.05,738.28 L436.50,738.28 L436.50,748.79 L436.95,748.79 L436.95,740.46 L437.40,740.46 L437.40,744.77 L437.85,744.77 L437.85,735.48 L438.30,735.48 L438.30,748.93 L438.75,748.93 L438.75,753.55 L439.20,753.55 L439.20,743.56 L439.65,743.56 L439.65,751.42 L440.10,751.42 L440.10,749.61 L440.55,749.61 L440.55,742.16 L441.00,742.16 L441.00,751.26 L441.45,751.26 L441.45,756.62 L441.90,756.62 L441.90,750.11 L442.35,750.11 L442.35,749.93 L442.80,749.93 L442.80,754.75 L443.25,754.75 L443.25,753.34 L443.70,753.34 L443.70,760.39 L444.15,760.39 L444.15,756.77 L444.60,756.77 L444.60,757.74 L445.05,757.74 L445.05,757.75 L445.50,757.75 L445.50,759.61 L445.95,759.61 L445.95,759.55 L446.40,759.55 L446.40,759.99 L446.85,759.99 L446.85,760.78 L447.30,760.78 L447.30,760.71 L447.75,760.71 L447.75,761.38 L448.20,761.38 L448.20,760.88 L448.65,760.88 L448.65,761.16 L449.10,761.16 L449.10,761.06 L449.55,761.06 L449.55,760.96 L450.00,760.96 L450.00,761.61 L450.45,761.61 L450.45,760.95 L450.90,760.95 L450.90,761.61 L451.35,761.61 L451.35,761.20 L451.80,761.20 L451.80,761.46 L452.25,761.46 L452.25,761.73 L452.70,761.73 L452.70,761.33 L453.15,761.33 L453.15,761.47 L453.60,761.47 L453.60,761.67 L454.05,761.67 L454.05,761.64 L454.50,761.64 L454.50,761.65 L454.95,761.65 L454.95,761.70 L455.40,761.70 L455.40,761.71 L455.85,761.71 L455.85,761.76 L456.30,761.76 L456.30,761.80 L456.75,761.80 L456.75,761.82 L457.20,761.82 L457.20,761.84 L457.65,761.84 L457.65,761.87 L458.10,761.87 L458.10,761.89 L458.55,761.89 L458.55,761.92 L459.00,761.92 L459.00,761.94 L459.45,761.94 L459.45,761.97 L459.90,761.97 L459.90,761.99 L460.35,761.99 L460.35,762.01 L460.80,762.01 L460.80,762.04 L461.25,762.04 L461.25,762.05 L461.70,762.05 L461.70,762.07 L462.15,762.07 L462.15,762.10 L462.60,762.10 L462.60,762.12 L463.05,762.12 L463.05,762.16 L463.50,762.16 L463.50,762.15 L463.95,762.15 L463.95,762.18 L464.40,762.18 L464.40,762.21 L464.85,762.21 L464.85,762.23 L465.30,762.23 L465.30,762.24 L465.75,762.24 L465.75,762.26 L466.20,762.26 L466.20,762.31 L466.65,762.31 L466.65,762.29 L467.10,762.29 L467.10,762.31 L467.55,762.31 L467.55,762.30 L468.00,762.30 L468.00,762.36 L468.45,762.36 L468.45,762.36 L468.90,762.36 L468.90,762.43 L469.35,762.43 L469.35,762.39 L469.80,762.39 L469.80,762.44 L470.25,762.44 L470.25,762.46 L470.70,762.46 L470.70,762.49 L471.15,762.49 L471.15,762.42 L471.60,762.42 L471.60,762.53 L472.05,762.53 L472.05,762.49 L472.50,762.49 L472.50,762.51 L472.95,762.51 L472.95,762.52 L473.40,762.52 L473.40,762.54 L473.85,762.54 L473.85,762.55 L474.30,762.55 L474.30,762.50 L474.75,762.50 L474.75,762.59 L475.20,762.59 L475.20,762.59 L475.65,762.59 L475.65,762.57 L476.10,762.57 L476.10,762.61 L476.55,762.61 L476.55,762.69 L477.00,762.69 L477.00,762.65 L477.45,762.65 L477.45,762.64 L477.90,762.64 L477.90,762.72 L478.35,762.72 L478.35,762.65 L478.80,762.65 L478.80,762.68 L479.25,762.68 L479.25,762.68 L479.70,762.68 L479.70,762.70 L480.15,762.70 L480.15,762.74 L480.60,762.74 L480.60,762.74 L481.05,762.74 L481.05,762.73 L481.50,762.73 L481.50,762.75 L481.95,762.75 L481.95,762.76 L482.40,762.76 L482.40,762.76 L482.85,762.76 L482.85,762.77 L483.30,762.77 L483.30,762.76 L483.75,762.76 L483.75,762.77 L484.20,762.77 L484.20,762.80 L484.65,762.80 L484.65,762.79 L485.10,762.79 L485.10,762.83 L485.55,762.83 L485.55,762.82 L486.00,762.82 L486.00,762.82 L486.45,762.82 L486.45,762.83 L486.90,762.83 L486.90,762.84 L487.35,762.84 L487.35,762.86 L487.80,762.86 L487.80,762.87 L488.25,762.87 L488.25,762.87 L488.70,762.87 L488.70,762.86 L489.15,762.86 L489.15,762.90 L489.60,762.90 L489.60,762.90 L490.05,762.90 L490.05,762.89 L490.50,762.89 L490.50,762.91 L490.95,762.91 L490.95,762.91 L491.40,762.91 L491.40,762.90 L491.85,762.90 L491.85,762.92 L492.30,762.92 L492.30,762.96 L492.75,762.96 L492.75,762.94 L493.20,762.94 L493.20,762.94 L493.65,762.94 L493.65,762.93 L494.10,762.93 L494.10,762.94 L494.55,762.94 L494.55,762.96 L495.00,762.96 L495.00,762.95 L495.45,762.95 L495.45,762.96 L495.90,762.96 L495.90,762.96 L496.35,762.96 L496.35,762.96 L496.80,762.96 L496.80,762.97 L497.25,762.97 L497.25,762.96 L497.70,762.96 L497.70,762.97 L498.15,762.97 L498.15,762.96 L498.60,762.96 L498.60,762.99 L499.05,762.99 L499.05,762.98 L499.50,762.98 L499.50,762.98 L499.95,762.98 L499.95,762.99 L500.40,762.99 L500.40,762.98 L500.85,762.98 L500.85,762.98 L501.30,762.98 L501.30,762.98 L501.75,762.98 L501.75,762.99 L502.20,762.99 L502.20,762.99 L502.65,762.99 L502.65,762.99 L503.10,762.99 L503.10,762.99 L503.55,762.99 L503.55,762.99 L504.00,762.99 L504.00,762.99 L504.45,762.99 L504.45,762.99 L504.90,762.99 L504.90,763.00 L505.35,763.00 L505.35,763.00 L505.80,763.00 L505.80,763.00 L506.25,763.00 L506.25,763.00 L506.70,763.00 L506.70,763.00 L507.15,763.00 L507.15,763.00 L507.60,763.00 L507.60,763.00 L508.05,763.00 L508.05,763.00 L508.50,763.00 L508.50,763.00 " fill="none" stroke="#000" stroke-width="0.75"/>
<path d="M350.10,741.59 L350.55,741.59 L350.55,738.37 L351.00,738.37 L351.00,739.24 L351.45,739.24 L351.45,760.11 L351.90,760.11 L351.90,741.85 L352.35,741.85 L352.35,740.96 L352.80,740.96 L352.80,752.77 L353.25,752.77 L353.25,745.83 L353.70,745.83 L353.70,752.93 L354.15,752.93 L354.15,725.32 L354.60,725.32 L354.60,725.24 L355.05,725.24 L355.05,754.87 L355.50,754.87 L355.50,737.66 L355.95,737.66 L355.95,735.11 L356.40,735.11 L356.40,739.44 L356.85,739.44 L356.85,746.80 L357.30,746.80 L357.30,724.29 L357.75,724.29 L357.75,738.16 L358.20,738.16 L358.20,733.42 L358.65,733.42 L358.65,741.42 L359.10,741.42 L359.10,735.29 L359.55,735.29 L359.55,728.30 L360.00,728.30 L360.00,724.60 L360.45,724.60 L360.45,723.28 L360.90,723.28 L360.90,740.49 L361.35,740.49 L361.35,720.64 L361.80,720.64 L361.80,723.92 L362.25,723.92 L362.25,747.49 L362.70,747.49 L362.70,720.70 L363.15,720.70 L363.15,733.26 L363.60,733.26 L363.60,722.08 L364.05,722.08 L364.05,732.69 L364.50,732.69 L364.50,723.93 L364.95,723.93 L364.95,716.53 L365.40,716.53 L365.40,738.61 L365.85,738.61 L365.85,717.46 L366.30,717.46 L366.30,709.34 L366.75,709.34 L366.75,714.61 L367.20,714.61 L367.20,725.60 L367.65,725.60 L367.65,705.71 L368.10,705.71 L368.10,727.58 L368.55,727.58 L368.55,726.44 L369.00,726.44 L369.00,742.92 L369.45,742.92 L369.45,706.87 L369.90,706.87 L369.90,722.99 L370.35,722.99 L370.35,702.24 L370.80,702.24 L370.80,705.12 L371.25,705.12 L371.25,712.66 L371.70,712.66 L371.70,716.77 L372.15,716.77 L372.15,709.30 L372.60,709.30 L372.60,708.35 L373.05,708.35 L373.05,700.57 L373.50,700.57 L373.50,702.41 L373.95,702.41 L373.95,712.43 L374.40,712.43 L374.40,715.32 L374.85,715.32 L374.85,715.86 L375.30,715.86 L375.30,720.34 L375.75,720.34 L375.75,722.59 L376.20,722.59 L376.20,696.85 L376.65,696.85 L376.65,696.01 L377.10,696.01 L377.10,700.52 L377.55,700.52 L377.55,693.16 L378.00,693.16 L378.00,718.24 L378.45,718.24 L378.45,712.74 L378.90,712.74 L378.90,695.44 L379.35,695.44 L379.35,698.73 L379.80,698.73 L379.80,722.49 L380.25,722.49 L380.25,685.11 L380.70,685.11 L380.70,683.33 L381.15,683.33 L381.15,714.91 L381.60,714.91 L381.60,701.26 L382.05,701.26 L382.05,727.16 L382.50,727.16 L382.50,697.35 L382.95,697.35 L382.95,704.11 L383.40,704.11 L383.40,680.07 L383.85,680.07 L383.85,678.51 L384.30,678.51 L384.30,685.90 L384.75,685.90 L384.75,668.88 L385.20,668.88 L385.20,692.33 L385.65,692.33 L385.65,705.63 L386.10,705.63 L386.10,682.23 L386.55,682.23 L386.55,674.80 L387.00,674.80 L387.00,703.11 L387.45,703.11 L387.45,676.90 L387.90,676.90 L387.90,697.46 L388.35,697.46 L388.35,721.00 L388.80,721.00 L388.80,688.02 L389.25,688.02 L389.25,690.44 L389.70,690.44 L389.70,679.48 L390.15,679.48 L390.15,673.03 L390.60,673.03 L390.60,671.89 L391.05,671.89 L391.05,666.19 L391.50,666.19 L391.50,683.95 L391.95,683.95 L391.95,654.82 L392.40,654.82 L392.40,653.52 L392.85,653.52 L392.85,672.40 L393.30,672.40 L393.30,646.24 L393.75,646.24 L393.75,653.71 L394.20,653.71 L394.20,648.35 L394.65,648.35 L394.65,666.05 L395.10,666.05 L395.10,675.05 L395.55,675.05 L395.55,687.58 L396.00,687.58 L396.00,667.04 L396.45,667.04 L396.45,650.52 L396.90,650.52 L396.90,661.49 L397.35,661.49 L397.35,668.63 L397.80,668.63 L397.80,688.65 L398.25,688.65 L398.25,646.96 L398.70,646.96 L398.70,667.46 L399.15,667.46 L399.15,647.70 L399.60,647.70 L399.60,679.75 L400.05,679.75 L400.05,677.26 L400.50,677.26 L400.50,685.81 L400.95,685.81 L400.95,699.82 L401.40,699.82 L401.40,699.65 L401.85,699.65 L401.85,698.16 L402.30,698.16 L402.30,707.87 L402.75,707.87 L402.75,716.44 L403.20,716.44 L403.20,711.25 L403.65,711.25 L403.65,714.72 L404.10,714.72 L404.10,713.91 L404.55,713.91 L404.55,724.78 L405.00,724.78 L405.00,719.01 L405.45,719.01 L405.45,720.25 L405.90,720.25 L405.90,723.57 L406.35,723.57 L406.35,724.08 L406.80,724.08 L406.80,728.12 L407.25,728.12 L407.25,735.21 L407.70,735.21 L407.70,735.40 L408.15,735.40 L408.15,739.55 L408.60,739.55 L408.60,741.96 L409.05,741.96 L409.05,729.05 L409.50,729.05 L409.50,738.46 L409.95,738.46 L409.95,747.28 L410.40,747.28 L410.40,750.83 L410.85,750.83 L410.85,727.16 L411.30,727.16 L411.30,727.84 L411.75,727.84 L411.75,739.67 L412.20,739.67 L412.20,733.51 L412.65,733.51 L412.65,730.53 L413.10,730.53 L413.10,739.40 L413.55,739.40 L413.55,729.79 L414.00,729.79 L414.00,729.16 L414.45,729.16 L414.45,736.02 L414.90,736.02 L414.90,737.31 L415.35,737.31 L415.35,741.85 L415.80,741.85 L415.80,744.65 L416.25,744.65 L416.25,737.61 L416.70,737.61 L416.70,733.13 L417.15,733.13 L417.15,728.01 L417.60,728.01 L417.60,725.39 L418.05,725.39 L418.05,731.25 L418.50,731.25 L418.50,745.43 L418.95,745.43 L418.95,742.09 L419.40,742.09 L419.40,754.09 L419.85,754.09 L419.85,733.35 L420.30,733.35 L420.30,721.75 L420.75,721.75 L420.75,744.75 L421.20,744.75 L421.20,746.70 L421.65,746.70 L421.65,726.61 L422.10,726.61 L422.10,729.00 L422.55,729.00 L422.55,737.31 L423.00,737.31 L423.00,742.53 L423.45,742.53 L423.45,725.05 L423.90,725.05 L423.90,731.34 L424.35,731.34 L424.35,726.23 L424.80,726.23 L424.80,721.84 L425.25,721.84 L425.25,720.29 L425.70,720.29 L425.70,735.40 L426.15,735.40 L426.15,727.91 L426.60,727.91 L426.60,722.57 L427.05,722.57 L427.05,712.56 L427.50,712.56 L427.50,749.55 L427.95,749.55 L427.95,719.08 L428.40,719.08 L428.40,731.27 L428.85,731.27 L428.85,717.66 L429.30,717.66 L429.30,738.33 L429.75,738.33 L429.75,716.11 L430.20,716.11 L430.20,734.63 L430.65,734.63 L430.65,731.65 L431.10,731.65 L431.10,744.92 L431.55,744.92 L431.55,723.33 L432.00,723.33 L432.00,728.78 L432.45,728.78 L432.45,733.32 L432.90,733.32 L432.90,750.00 L433.35,750.00 L433.35,726.87 L433.80,726.87 L433.80,738.67 L434.25,738.67 L434.25,729.56 L434.70,729.56 L434.70,738.87 L435.15,738.87 L435.15,742.48 L435.60,742.48 L435.60,737.25 L436.05,737.25 L436.05,738.99 L436.50,738.99 L436.50,739.82 L436.95,739.82 L436.95,731.14 L437.40,731.14 L437.40,736.79 L437.85,736.79 L437.85,729.94 L438.30,729.94 L438.30,738.76 L438.75,738.76 L438.75,736.74 L439.20,736.74 L439.20,742.09 L439.65,742.09 L439.65,750.64 L440.10,750.64 L440.10,749.07 L440.55,749.07 L440.55,750.66 L441.00,750.66 L441.00,754.82 L441.45,754.82 L441.45,746.47 L441.90,746.47 L441.90,753.51 L442.35,753.51 L442.35,752.97 L442.80,752.97 L442.80,753.80 L443.25,753.80 L443.25,752.44 L443.70,752.44 L443.70,757.13 L444.15,757.13 L444.15,759.06 L444.60,759.06 L444.60,759.40 L445.05,759.40 L445.05,758.45 L445.50,758.45 L445.50,759.96 L445.95,759.96 L445.95,760.66 L446.40,760.66 L446.40,761.44 L446.85,761.44 L446.85,761.25 L447.30,761.25 L447.30,760.99 L447.75,760.99 L447.75,761.09 L448.20,761.09 L448.20,761.17 L448.65,761.17 L448.65,761.22 L449.10,761.22 L449.10,761.10 L449.55,761.10 L449.55,761.40 L450.00,761.40 L450.00,761.15 L450.45,761.15 L450.45,761.18 L450.90,761.18 L450.90,761.42 L451.35,761.42 L451.35,761.32 L451.80,761.32 L451.80,761.41 L452.25,761.41 L452.25,761.26 L452.70,761.26 L452.70,761.59 L453.15,761.59 L453.15,761.56 L453.60,761.56 L453.60,761.59 L454.05,761.59 L454.05,761.65 L454.50,761.65 L454.50,761.67 L454.95,761.67 L454.95,761.68 L455.40,761.68 L455.40,761.76 L455.85,761.76 L455.85,761.75 L456.30,761.75 L456.30,761.79 L456.75,761.79 L456.75,761.82 L457.20,761.82 L457.20,761.84 L457.65,761.84 L457.65,761.87 L458.10,761.87 L458.10,761.89 L458.55,761.89 L458.55,761.92 L459.00,761.92 L459.00,761.94 L459.45,761.94 L459.45,761.97 L459.90,761.97 L459.90,761.99 L460.35,761.99 L460.35,762.01 L460.80,762.01 L460.80,762.04 L461.25,762.04 L461.25,762.06 L461.70,762.06 L461.70,762.08 L462.15,762.08 L462.15,762.12 L462.60,762.12 L462.60,762.14 L463.05,762.14 L463.05,762.14 L463.50,762.14 L463.50,762.16 L463.95,762.16 L463.95,762.17 L464.40,762.17 L464.40,762.20 L464.85,762.20 L464.85,762.22 L465.30,762.22 L465.30,762.25 L465.75,762.25 L465.75,762.26 L466.20,762.26 L466.20,762.26 L466.65,762.26 L466.65,762.29 L467.10,762.29 L467.10,762.34 L467.55,762.34 L467.55,762.35 L468.00,762.35 L468.00,762.35 L468.45,762.35 L468.45,762.36 L468.90,762.36 L468.90,762.38 L469.35,762.38 L469.35,762.40 L469.80,762.40 L469.80,762.38 L470.25,762.38 L470.25,762.45 L470.70,762.45 L470.70,762.43 L471.15,762.43 L471.15,762.46 L471.60,762.46 L471.60,762.39 L472.05,762.39 L472.05,762.50 L472.50,762.50 L472.50,762.54 L472.95,762.54 L472.95,762.48 L473.40,762.48 L473.40,762.57 L473.85,762.57 L473.85,762.56 L474.30,762.56 L474.30,762.55 L474.75,762.55 L474.75,762.53 L475.20,762.53 L475.20,762.62 L475.65,762.62 L475.65,762.61 L476.10,762.61 L476.10,762.63 L476.55,762.63 L476.55,762.62 L477.00,762.62 L477.00,762.62 L477.45,762.62 L477.45,762.68 L477.90,762.68 L477.90,762.63 L478.35,762.63 L478.35,762.70 L478.80,762.70 L478.80,762.63 L479.25,762.63 L479.25,762.67 L479.70,762.67 L479.70,762.67 L480.15,762.67 L480.15,762.75 L480.60,762.75 L480.60,762.70 L481.05,762.70 L481.05,762.72 L481.50,762.72 L481.50,762.76 L481.95,762.76 L481.95,762.76 L482.40,762.76 L482.40,762.82 L482.85,762.82 L482.85,762.82 L483.30,762.82 L483.30,762.80 L483.75,762.80 L483.75,762.81 L484.20,762.81 L484.20,762.76 L484.65,762.76 L484.65,762.79 L485.10,762.79 L485.10,762.81 L485.55,762.81 L485.55,762.82 L486.00,762.82 L486.00,762.81 L486.45,762.81 L486.45,762.83 L486.90,762.83 L486.90,762.84 L487.35,762.84 L487.35,762.87 L487.80,762.87 L487.80,762.87 L488.25,762.87 L488.25,762.87 L488.70,762.87 L488.70,762.87 L489.15,762.87 L489.15,762.89 L489.60,762.89 L489.60,762.88 L490.05,762.88 L490.05,762.89 L490.50,762.89 L490.50,762.87 L490.95,762.87 L490.95,762.91 L491.40,762.91 L491.40,762.92 L491.85,762.92 L491.85,762.92 L492.30,762.92 L492.30,762.92 L492.75,762.92 L492.75,762.93 L493.20,762.93 L493.20,762.95 L493.65,762.95 L493.65,762.94 L494.10,762.94 L494.10,762.93 L494.55,762.93 L494.55,762.94 L495.00,762.94 L495.00,762.95 L495.45,762.95 L495.45,762.96 L495.90,762.96 L495.90,762.96 L496.35,762.96 L496.35,762.96 L496.80,762.96 L496.80,762.96 L497.25,762.96 L497.25,762.95 L497.70,762.95 L497.70,762.96 L498.15,762.96 L498.15,762.95 L498.60,762.95 L498.60,762.97 L499.05,762.97 L499.05,762.97 L499.50,762.97 L499.50,762.98 L499.95,762.98 L499.95,762.98 L500.40,762.98 L500.40,762.97 L500.85,762.97 L500.85,762.99 L501.30,762.99 L501.30,762.99 L501.75,762.99 L501.75,762.98 L502.20,762.98 L502.20,762.99 L502.65,762.99 L502.65,762.99 L503.10,762.99 L503.10,762.99 L503.55,762.99 L503.55,762.99 L504.00,762.99 L504.00,762.99 L504.45,762.99 L504.45,763.00 L504.90,763.00 L504.90,763.00 L505.35,763.00 L505.35,763.00 L505.80,763.00 L505.80,763.00 L506.25,763.00 L506.25,763.00 L506.70,763.00 L506.70,763.00 L507.15,763.00 L507.15,763.00 L507.60,763.00 L507.60,763.00 L508.05,763.00 L508.05,763.00 L508.50,763.00 L508.50,763.00 " fill="none" stroke="#3a3a3a" stroke-width="0.75"/>
<path d="M350.10,762.08 L350.70,762.08 L350.70,761.25 L351.30,761.25 L351.30,761.55 L351.90,761.55 L351.90,758.89 L352.50,758.89 L352.50,758.17 L353.10,758.17 L353.10,757.46 L353.70,757.46 L353.70,755.80 L354.30,755.80 L354.30,755.65 L354.90,755.65 L354.90,754.20 L355.50,754.20 L355.50,753.10 L356.10,753.10 L356.10,753.07 L356.70,753.07 L356.70,753.59 L357.30,753.59 L357.30,752.39 L357.90,752.39 L357.90,750.64 L358.50,750.64 L358.50,750.85 L359.10,750.85 L359.10,750.66 L359.70,750.66 L359.70,749.61 L360.30,749.61 L360.30,748.66 L360.90,748.66 L360.90,748.30 L361.50,748.30 L361.50,747.52 L362.10,747.52 L362.10,748.03 L362.70,748.03 L362.70,747.15 L363.30,747.15 L363.30,746.65 L363.90,746.65 L363.90,746.01 L364.50,746.01 L364.50,746.96 L365.10,746.96 L365.10,745.21 L365.70,745.21 L365.70,745.53 L366.30,745.53 L366.30,743.22 L366.90,743.22 L366.90,742.69 L367.50,742.69 L367.50,742.21 L368.10,742.21 L368.10,742.43 L368.70,742.43 L368.70,742.95 L369.30,742.95 L369.30,741.59 L369.90,741.59 L369.90,742.03 L370.50,742.03 L370.50,741.12 L371.10,741.12 L371.10,741.81 L371.70,741.81 L371.70,741.24 L372.30,741.24 L372.30,740.16 L372.90,740.16 L372.90,738.90 L373.50,738.90 L373.50,739.78 L374.10,739.78 L374.10,737.83 L374.70,737.83 L374.70,737.10 L375.30,737.10 L375.30,739.49 L375.90,739.49 L375.90,738.21 L376.50,738.21 L376.50,738.43 L377.10,738.43 L377.10,737.42 L377.70,737.42 L377.70,737.23 L378.30,737.23 L378.30,736.44 L378.90,736.44 L378.90,735.28 L379.50,735.28 L379.50,734.86 L380.10,734.86 L380.10,734.88 L380.70,734.88 L380.70,734.61 L381.30,734.61 L381.30,734.07 L381.90,734.07 L381.90,733.58 L382.50,733.58 L382.50,732.77 L383.10,732.77 L383.10,732.62 L383.70,732.62 L383.70,731.71 L384.30,731.71 L384.30,732.35 L384.90,732.35 L384.90,730.23 L385.50,730.23 L385.50,728.86 L386.10,728.86 L386.10,729.17 L386.70,729.17 L386.70,729.44 L387.30,729.44 L387.30,726.61 L387.90,726.61 L387.90,726.30 L388.50,726.30 L388.50,726.06 L389.10,726.06 L389.10,721.70 L389.70,721.70 L389.70,718.59 L390.30,718.59 L390.30,716.37 L390.90,716.37 L390.90,713.81 L391.50,713.81 L391.50,712.95 L392.10,712.95 L392.10,712.92 L392.70,712.92 L392.70,714.38 L393.30,714.38 L393.30,713.78 L393.90,713.78 L393.90,712.89 L394.50,712.89 L394.50,712.54 L395.10,712.54 L395.10,713.72 L395.70,713.72 L395.70,713.43 L396.30,713.43 L396.30,712.68 L396.90,712.68 L396.90,714.33 L397.50,714.33 L397.50,714.36 L398.10,714.36 L398.10,713.17 L398.70,713.17 L398.70,712.83 L399.30,712.83 L399.30,713.34 L399.90,713.34 L399.90,714.60 L400.50,714.60 L400.50,713.73 L401.10,713.73 L401.10,717.04 L401.70,717.04 L401.70,718.96 L402.30,718.96 L402.30,722.92 L402.90,722.92 L402.90,725.47 L403.50,725.47 L403.50,727.11 L404.10,727.11 L404.10,729.50 L404.70,729.50 L404.70,729.96 L405.30,729.96 L405.30,730.97 L405.90,730.97 L405.90,732.85 L406.50,732.85 L406.50,733.59 L407.10,733.59 L407.10,736.52 L407.70,736.52 L407.70,737.31 L408.30,737.31 L408.30,740.26 L408.90,740.26 L408.90,745.20 L409.50,745.20 L409.50,748.46 L410.10,748.46 L410.10,750.46 L410.70,750.46 L410.70,750.95 L411.30,750.95 L411.30,750.94 L411.90,750.94 L411.90,750.66 L412.50,750.66 L412.50,751.97 L413.10,751.97 L413.10,751.98 L413.70,751.98 L413.70,753.37 L414.30,753.37 L414.30,752.53 L414.90,752.53 L414.90,752.02 L415.50,752.02 L415.50,752.45 L416.10,752.45 L416.10,752.84 L416.70,752.84 L416.70,753.67 L417.30,753.67 L417.30,754.08 L417.90,754.08 L417.90,753.56 L418.50,753.56 L418.50,754.48 L419.10,754.48 L419.10,754.44 L419.70,754.44 L419.70,752.95 L420.30,752.95 L420.30,754.22 L420.90,754.22 L420.90,752.20 L421.50,752.20 L421.50,754.17 L422.10,754.17 L422.10,752.53 L422.70,752.53 L422.70,753.20 L423.30,753.20 L423.30,751.78 L423.90,751.78 L423.90,752.12 L424.50,752.12 L424.50,750.85 L425.10,750.85 L425.10,750.49 L425.70,750.49 L425.70,750.24 L426.30,750.24 L426.30,749.19 L426.90,749.19 L426.90,748.20 L427.50,748.20 L427.50,749.47 L428.10,749.47 L428.10,748.40 L428.70,748.40 L428.70,748.96 L429.30,748.96 L429.30,749.07 L429.90,749.07 L429.90,747.57 L430.50,747.57 L430.50,750.65 L431.10,750.65 L431.10,749.69 L431.70,749.69 L431.70,750.56 L432.30,750.56 L432.30,749.62 L432.90,749.62 L432.90,749.67 L433.50,749.67 L433.50,747.00 L434.10,747.00 L434.10,749.54 L434.70,749.54 L434.70,748.68 L435.30,748.68 L435.30,749.24 L435.90,749.24 L435.90,750.94 L436.50,750.94 L436.50,751.07 L437.10,751.07 L437.10,751.19 L437.70,751.19 L437.70,753.28 L438.30,753.28 L438.30,754.34 L438.90,754.34 L438.90,755.16 L439.50,755.16 L439.50,757.46 L440.10,757.46 L440.10,757.67 L440.70,757.67 L440.70,757.51 L441.30,757.51 L441.30,758.00 L441.90,758.00 L441.90,759.65 L442.50,759.65 L442.50,759.82 L443.10,759.82 L443.10,760.20 L443.70,760.20 L443.70,760.64 L444.30,760.64 L444.30,760.36 L444.90,760.36 L444.90,760.92 L445.50,760.92 L445.50,760.93 L446.10,760.93 L446.10,762.08 L446.70,762.08 L446.70,761.88 L447.30,761.88 L447.30,760.97 L447.90,760.97 L447.90,762.34 L448.50,762.34 L448.50,761.10 L449.10,761.10 L449.10,761.79 L449.70,761.79 L449.70,761.93 L450.30,761.93 L450.30,760.96 L450.90,760.96 L450.90,761.92 L451.50,761.92 L451.50,762.09 L452.10,762.09 L452.10,762.01 L452.70,762.01 L452.70,761.54 L453.30,761.54 L453.30,759.71 L453.90,759.71 L453.90,763.00 L454.50,763.00 L454.50,761.71 L455.10,761.71 L455.10,761.90 L455.70,761.90 L455.70,761.11 L456.30,761.11 L456.30,762.06 L456.90,762.06 L456.90,763.00 L457.50,763.00 L457.50,760.95 L458.10,760.95 L458.10,762.66 L458.70,762.66 L458.70,761.98 L459.30,761.98 L459.30,762.92 L459.90,762.92 L459.90,762.77 L460.50,762.77 L460.50,762.38 L461.10,762.38 L461.10,761.47 L461.70,761.47 L461.70,761.51 L462.30,761.51 L462.30,762.54 L462.90,762.54 L462.90,761.81 L463.50,761.81 L463.50,762.44 L464.10,762.44 L464.10,762.13 L464.70,762.13 L464.70,762.13 L465.30,762.13 L465.30,761.83 L465.90,761.83 L465.90,762.72 L466.50,762.72 L466.50,762.41 L467.10,762.41 L467.10,762.19 L467.70,762.19 L467.70,762.30 L468.30,762.30 L468.30,762.94 L468.90,762.94 L468.90,761.22 L469.50,761.22 L469.50,762.76 L470.10,762.76 L470.10,761.93 L470.70,761.93 L470.70,762.34 L471.30,762.34 L471.30,761.65 L471.90,761.65 L471.90,763.00 L472.50,763.00 L472.50,761.11 L473.10,761.11 L473.10,762.71 L473.70,762.71 L473.70,763.00 L474.30,763.00 L474.30,762.51 L474.90,762.51 L474.90,761.04 L475.50,761.04 L475.50,762.28 L476.10,762.28 L476.10,763.00 L476.70,763.00 L476.70,762.99 L477.30,762.99 L477.30,761.75 L477.90,761.75 L477.90,763.00 L478.50,763.00 L478.50,762.84 L479.10,762.84 L479.10,762.93 L479.70,762.93 L479.70,761.23 L480.30,761.23 L480.30,762.96 L480.90,762.96 L480.90,761.85 L481.50,761.85 L481.50,763.00 L482.10,763.00 L482.10,763.00 L482.70,763.00 L482.70,762.11 L483.30,762.11 L483.30,762.38 L483.90,762.38 L483.90,763.00 L484.50,763.00 L484.50,762.39 L485.10,762.39 L485.10,762.40 L485.70,762.40 L485.70,763.00 L486.30,763.00 L486.30,762.72 L486.90,762.72 L486.90,762.69 L487.50,762.69 L487.50,763.00 L488.10,763.00 L488.10,763.00 L488.70,763.00 L488.70,763.00 L489.30,763.00 L489.30,763.00 L489.90,763.00 L489.90,763.00 L490.50,763.00 L490.50,762.96 L491.10,762.96 L491.10,763.00 L491.70,763.00 L491.70,762.89 L492.30,762.89 L492.30,763.00 L492.90,763.00 L492.90,763.00 L493.50,763.00 L493.50,762.37 L494.10,762.37 L494.10,761.62 L494.70,761.62 L494.70,762.05 L495.30,762.05 L495.30,763.00 L495.90,763.00 L495.90,762.10 L496.50,762.10 L496.50,762.83 L497.10,762.83 L497.10,763.00 L497.70,763.00 L497.70,763.00 L498.30,763.00 L498.30,763.00 L498.90,763.00 L498.90,762.03 L499.50,762.03 L499.50,762.62 L500.10,762.62 L500.10,763.00 L500.70,763.00 L500.70,763.00 L501.30,763.00 L501.30,763.00 L501.90,763.00 L501.90,762.60 L502.50,762.60 L502.50,761.72 L503.10,761.72 L503.10,763.00 L503.70,763.00 L503.70,763.00 L504.30,763.00 L504.30,763.00 L504.90,763.00 L504.90,763.00 L505.50,763.00 L505.50,762.74 L506.10,762.74 L506.10,762.64 L506.70,762.64 L506.70,763.00 L507.30,763.00 L507.30,763.00 L507.90,763.00 L507.90,762.19 L508.50,762.19 L508.50,762.80 " fill="none" stroke="#333" stroke-width="0.5"/>
<line x1="349.50" y1="614.40" x2="349.50" y2="763.80" stroke="#666" stroke-width="1.1" stroke-linecap="butt"/>
<line x1="349.00" y1="763.30" x2="509.00" y2="763.30" stroke="#444" stroke-width="1.1" stroke-linecap="butt"/>
<line x1="349.10" y1="652.00" x2="350.80" y2="652.00" stroke="#333" stroke-width="1.2" stroke-linecap="butt"/>
<line x1="349.10" y1="690.00" x2="350.80" y2="690.00" stroke="#333" stroke-width="1.2" stroke-linecap="butt"/>
<line x1="349.10" y1="727.00" x2="350.80" y2="727.00" stroke="#333" stroke-width="1.2" stroke-linecap="butt"/>
<line x1="349.10" y1="614.70" x2="350.80" y2="614.70" stroke="#444" stroke-width="1.0" stroke-linecap="butt"/>
<line x1="509.00" y1="763.30" x2="509.00" y2="755.80" stroke="#444" stroke-width="1.0" stroke-linecap="butt"/>
<line x1="349.50" y1="679.80" x2="349.50" y2="763.30" stroke="#000" stroke-width="1.5" stroke-linecap="butt"/>
<text transform="translate(345.20,763.30) rotate(-90)" y="1.78" font-family='"Liberation Sans", sans-serif' font-size="4.9399999999999995" font-weight="normal" fill="#111" stroke="#111" stroke-width="0.148" text-anchor="middle">0</text>
<text transform="translate(344.50,615.60) rotate(-90)" y="1.87" font-family='"Liberation Sans", sans-serif' font-size="5.2" font-weight="normal" fill="#111" stroke="#111" stroke-width="0.156" text-anchor="middle">64</text>
<text transform="translate(341.40,689.60) rotate(-90)" y="1.87" font-family='"Liberation Sans", sans-serif' font-size="5.2" font-weight="normal" fill="#111" stroke="#111" stroke-width="0.156" text-anchor="middle" textLength="18.5" lengthAdjust="spacingAndGlyphs">Events</text>
<text x="348.71" y="770.17" font-family='"Liberation Sans", sans-serif' font-size="5.2" fill="#111" stroke="#111" stroke-width="0.130">10<tspan font-size="3.12" dy="-2.08">0</tspan></text>
<text x="388.01" y="770.17" font-family='"Liberation Sans", sans-serif' font-size="5.2" fill="#111" stroke="#111" stroke-width="0.130">10<tspan font-size="3.12" dy="-2.08">1</tspan></text>
<text x="427.71" y="770.17" font-family='"Liberation Sans", sans-serif' font-size="5.2" fill="#111" stroke="#111" stroke-width="0.130">10<tspan font-size="3.12" dy="-2.08">2</tspan></text>
<text x="467.51" y="770.17" font-family='"Liberation Sans", sans-serif' font-size="5.2" fill="#111" stroke="#111" stroke-width="0.130">10<tspan font-size="3.12" dy="-2.08">3</tspan></text>
<text x="506.71" y="770.17" font-family='"Liberation Sans", sans-serif' font-size="5.2" fill="#111" stroke="#111" stroke-width="0.130">10<tspan font-size="3.12" dy="-2.08">4</tspan></text>
<text x="404.00" y="779.00" font-family='"Liberation Sans", sans-serif' font-size="5.2" fill="#111" stroke="#111" stroke-width="0.130" textLength="50.2" lengthAdjust="spacingAndGlyphs">FL1: TPO-R expression</text>
<rect x="462.50" y="605.60" width="55.00" height="57.50" fill="#fff" stroke="#a0a0a0" stroke-width="0.7"/>
<line x1="462.50" y1="605.60" x2="462.50" y2="663.10" stroke="#777" stroke-width="0.8" stroke-linecap="butt"/>
<line x1="462.50" y1="663.10" x2="517.50" y2="663.10" stroke="#777" stroke-width="0.8" stroke-linecap="butt"/>
<ellipse cx="485.6" cy="651.25" rx="17.8" ry="11" transform="rotate(-22 485.6 651.25)" fill="none" stroke="#8a8a8a" stroke-width="0.7"/>
<text x="459.30" y="634.35" font-family='"Liberation Sans", sans-serif' font-size="2.6" fill="#777" text-anchor="middle" transform="rotate(-90 459.30 634.35)">SSC</text>
<text x="490.00" y="667.10" font-family='"Liberation Sans", sans-serif' font-size="2.6" fill="#777" text-anchor="middle">FSC</text>
<text x="460.50" y="608.10" font-family='"Liberation Sans", sans-serif' font-size="2.6" fill="#777" text-anchor="middle" transform="rotate(-90 460.50 608.10)">1023</text>
<text x="516.00" y="666.30" font-family='"Liberation Sans", sans-serif' font-size="2.6" fill="#777" text-anchor="middle">1023</text>
<path d="M497.8,647.5h0.6v0.6h-0.6z M469.9,643.5h0.6v0.6h-0.6z M476.8,610.4h0.6v0.6h-0.6z M490.1,628.0h0.6v0.6h-0.6z M504.1,626.9h0.6v0.6h-0.6z M510.0,612.1h0.6v0.6h-0.6z M479.9,639.4h0.6v0.6h-0.6z M498.7,650.1h0.6v0.6h-0.6z M463.8,608.1h0.6v0.6h-0.6z M511.5,636.1h0.6v0.6h-0.6z M499.4,612.5h0.6v0.6h-0.6z M512.1,650.2h0.6v0.6h-0.6z M474.1,637.7h0.6v0.6h-0.6z M489.8,609.4h0.6v0.6h-0.6z M503.4,635.3h0.6v0.6h-0.6z M463.9,619.5h0.6v0.6h-0.6z M508.8,617.5h0.6v0.6h-0.6z M501.4,644.0h0.6v0.6h-0.6z M505.8,628.9h0.6v0.6h-0.6z M471.4,659.0h0.6v0.6h-0.6z M505.2,658.3h0.6v0.6h-0.6z M493.7,654.7h0.6v0.6h-0.6z M470.7,629.2h0.6v0.6h-0.6z M469.8,657.6h0.6v0.6h-0.6z M509.7,609.7h0.6v0.6h-0.6z M484.4,650.2h0.6v0.6h-0.6z M477.5,626.2h0.6v0.6h-0.6z M482.8,655.4h0.6v0.6h-0.6z M500.2,607.3h0.6v0.6h-0.6z M470.0,638.7h0.6v0.6h-0.6z M471.4,609.6h0.6v0.6h-0.6z M498.2,622.5h0.6v0.6h-0.6z M511.7,638.1h0.6v0.6h-0.6z M499.5,613.6h0.6v0.6h-0.6z M514.5,645.5h0.6v0.6h-0.6z M478.1,635.1h0.6v0.6h-0.6z M482.0,618.5h0.6v0.6h-0.6z M483.0,636.5h0.6v0.6h-0.6z M482.2,631.2h0.6v0.6h-0.6z M477.3,607.5h0.6v0.6h-0.6z M506.1,646.4h0.6v0.6h-0.6z M478.1,646.7h0.6v0.6h-0.6z M485.4,657.9h0.6v0.6h-0.6z M488.5,659.7h0.6v0.6h-0.6z M480.6,642.6h0.6v0.6h-0.6z M500.5,640.5h0.6v0.6h-0.6z M480.5,608.6h0.6v0.6h-0.6z M506.5,647.2h0.6v0.6h-0.6z M483.8,621.3h0.6v0.6h-0.6z M463.7,630.0h0.6v0.6h-0.6z M491.3,641.3h0.6v0.6h-0.6z M481.1,634.6h0.6v0.6h-0.6z M477.1,621.7h0.6v0.6h-0.6z M478.6,655.8h0.6v0.6h-0.6z M502.7,640.3h0.6v0.6h-0.6z M492.6,616.2h0.6v0.6h-0.6z M497.5,658.8h0.6v0.6h-0.6z M493.8,659.4h0.6v0.6h-0.6z M483.5,646.6h0.6v0.6h-0.6z M487.7,656.4h0.6v0.6h-0.6z M488.7,649.7h0.6v0.6h-0.6z M513.0,643.2h0.6v0.6h-0.6z M481.7,648.6h0.6v0.6h-0.6z M470.9,658.0h0.6v0.6h-0.6z M467.1,618.1h0.6v0.6h-0.6z M481.0,647.5h0.6v0.6h-0.6z M494.0,615.9h0.6v0.6h-0.6z M494.5,632.1h0.6v0.6h-0.6z" fill="#aaa"/>
<path d="M485.7,620.6h0.7v0.7h-0.7z M485.7,627.0h0.7v0.7h-0.7z M480.2,627.1h0.7v0.7h-0.7z M483.7,636.6h0.7v0.7h-0.7z M485.9,635.3h0.7v0.7h-0.7z M482.8,609.7h0.7v0.7h-0.7z M483.4,613.2h0.7v0.7h-0.7z M485.7,612.3h0.7v0.7h-0.7z M483.5,633.1h0.7v0.7h-0.7z M481.8,619.3h0.7v0.7h-0.7z M482.7,637.9h0.7v0.7h-0.7z M481.6,615.1h0.7v0.7h-0.7z M484.9,643.1h0.7v0.7h-0.7z M480.9,633.5h0.7v0.7h-0.7z M485.8,632.7h0.7v0.7h-0.7z M481.0,630.0h0.7v0.7h-0.7z M484.0,640.6h0.7v0.7h-0.7z M481.3,619.1h0.7v0.7h-0.7z M483.4,633.4h0.7v0.7h-0.7z M485.8,636.2h0.7v0.7h-0.7z M486.0,627.4h0.7v0.7h-0.7z M486.3,629.2h0.7v0.7h-0.7z M483.8,614.6h0.7v0.7h-0.7z M484.1,624.0h0.7v0.7h-0.7z M484.4,625.6h0.7v0.7h-0.7z M485.1,620.0h0.7v0.7h-0.7z M483.2,611.3h0.7v0.7h-0.7z M485.9,635.9h0.7v0.7h-0.7z M484.5,631.0h0.7v0.7h-0.7z M486.0,620.0h0.7v0.7h-0.7z M484.8,627.1h0.7v0.7h-0.7z M485.2,628.6h0.7v0.7h-0.7z M482.6,638.5h0.7v0.7h-0.7z M483.2,620.7h0.7v0.7h-0.7z M481.6,630.7h0.7v0.7h-0.7z M483.4,632.7h0.7v0.7h-0.7z M483.6,612.3h0.7v0.7h-0.7z M485.5,625.2h0.7v0.7h-0.7z M481.7,637.0h0.7v0.7h-0.7z M489.8,633.4h0.7v0.7h-0.7z M483.7,642.5h0.7v0.7h-0.7z M486.2,616.1h0.7v0.7h-0.7z M485.8,632.9h0.7v0.7h-0.7z M479.4,618.2h0.7v0.7h-0.7z M483.5,636.0h0.7v0.7h-0.7z M486.6,633.8h0.7v0.7h-0.7z M479.6,620.4h0.7v0.7h-0.7z M485.3,627.3h0.7v0.7h-0.7z M482.3,625.9h0.7v0.7h-0.7z M483.1,639.7h0.7v0.7h-0.7z M484.4,627.1h0.7v0.7h-0.7z M480.6,614.7h0.7v0.7h-0.7z M484.3,626.4h0.7v0.7h-0.7z M482.8,608.7h0.7v0.7h-0.7z M482.6,610.9h0.7v0.7h-0.7z M485.2,623.4h0.7v0.7h-0.7z M490.3,623.7h0.7v0.7h-0.7z M484.6,612.7h0.7v0.7h-0.7z M484.9,622.1h0.7v0.7h-0.7z M483.9,617.5h0.7v0.7h-0.7z M482.6,617.1h0.7v0.7h-0.7z M484.4,624.6h0.7v0.7h-0.7z M486.7,613.1h0.7v0.7h-0.7z M484.3,610.0h0.7v0.7h-0.7z M485.6,617.6h0.7v0.7h-0.7z M483.5,633.9h0.7v0.7h-0.7z M488.5,638.6h0.7v0.7h-0.7z M481.0,632.5h0.7v0.7h-0.7z M485.0,608.5h0.7v0.7h-0.7z M484.9,637.1h0.7v0.7h-0.7z" fill="#777"/>
<path d="M487.2,647.3h0.8v0.8h-0.8z M466.1,656.6h0.8v0.8h-0.8z M494.6,642.7h0.8v0.8h-0.8z M466.4,659.9h0.8v0.8h-0.8z M490.9,649.7h0.8v0.8h-0.8z M475.1,651.6h0.8v0.8h-0.8z M472.2,657.3h0.8v0.8h-0.8z M476.0,651.7h0.8v0.8h-0.8z M471.8,661.5h0.8v0.8h-0.8z M471.7,653.2h0.8v0.8h-0.8z M469.7,659.8h0.8v0.8h-0.8z M487.7,641.5h0.8v0.8h-0.8z M472.5,659.0h0.8v0.8h-0.8z M491.6,640.3h0.8v0.8h-0.8z M493.5,639.1h0.8v0.8h-0.8z M490.6,644.3h0.8v0.8h-0.8z M487.9,643.9h0.8v0.8h-0.8z M488.8,643.6h0.8v0.8h-0.8z M464.9,653.1h0.8v0.8h-0.8z M502.3,639.5h0.8v0.8h-0.8z M482.5,649.6h0.8v0.8h-0.8z M480.7,651.6h0.8v0.8h-0.8z M489.2,646.2h0.8v0.8h-0.8z M471.5,657.8h0.8v0.8h-0.8z M484.2,652.5h0.8v0.8h-0.8z M469.0,656.7h0.8v0.8h-0.8z M495.4,639.8h0.8v0.8h-0.8z M481.7,656.0h0.8v0.8h-0.8z M470.5,656.0h0.8v0.8h-0.8z M495.4,644.1h0.8v0.8h-0.8z M483.6,649.1h0.8v0.8h-0.8z M494.0,649.3h0.8v0.8h-0.8z M488.9,642.5h0.8v0.8h-0.8z M486.0,647.9h0.8v0.8h-0.8z M478.7,652.7h0.8v0.8h-0.8z M476.2,654.6h0.8v0.8h-0.8z M468.6,660.9h0.8v0.8h-0.8z M487.9,645.9h0.8v0.8h-0.8z M465.6,658.6h0.8v0.8h-0.8z M478.1,652.3h0.8v0.8h-0.8z M493.0,644.5h0.8v0.8h-0.8z M493.1,641.9h0.8v0.8h-0.8z M491.9,640.0h0.8v0.8h-0.8z M466.4,656.0h0.8v0.8h-0.8z M495.9,641.1h0.8v0.8h-0.8z M470.7,655.7h0.8v0.8h-0.8z M490.4,645.5h0.8v0.8h-0.8z M488.9,646.5h0.8v0.8h-0.8z M500.3,643.1h0.8v0.8h-0.8z M495.4,638.4h0.8v0.8h-0.8z M483.8,649.0h0.8v0.8h-0.8z M475.0,657.3h0.8v0.8h-0.8z M492.1,637.9h0.8v0.8h-0.8z M473.1,655.6h0.8v0.8h-0.8z M475.1,654.4h0.8v0.8h-0.8z M487.2,647.8h0.8v0.8h-0.8z M472.6,658.4h0.8v0.8h-0.8z M478.1,648.6h0.8v0.8h-0.8z M473.0,658.9h0.8v0.8h-0.8z M479.6,648.3h0.8v0.8h-0.8z M492.1,638.6h0.8v0.8h-0.8z M495.6,645.6h0.8v0.8h-0.8z M493.1,639.1h0.8v0.8h-0.8z M484.0,640.1h0.8v0.8h-0.8z M492.7,648.1h0.8v0.8h-0.8z M474.1,650.0h0.8v0.8h-0.8z M495.2,632.7h0.8v0.8h-0.8z M465.9,658.2h0.8v0.8h-0.8z M471.0,660.2h0.8v0.8h-0.8z M469.0,659.6h0.8v0.8h-0.8z M477.4,657.3h0.8v0.8h-0.8z M487.4,648.0h0.8v0.8h-0.8z M471.5,654.5h0.8v0.8h-0.8z M484.8,647.1h0.8v0.8h-0.8z M483.2,653.5h0.8v0.8h-0.8z M490.1,648.0h0.8v0.8h-0.8z M485.7,646.8h0.8v0.8h-0.8z M491.0,639.2h0.8v0.8h-0.8z M477.6,650.0h0.8v0.8h-0.8z M484.7,645.6h0.8v0.8h-0.8z M475.5,658.0h0.8v0.8h-0.8z M488.3,648.6h0.8v0.8h-0.8z M471.2,660.2h0.8v0.8h-0.8z M496.7,638.3h0.8v0.8h-0.8z M498.6,646.8h0.8v0.8h-0.8z M465.5,656.4h0.8v0.8h-0.8z M469.2,661.3h0.8v0.8h-0.8z M476.7,660.1h0.8v0.8h-0.8z M480.5,650.7h0.8v0.8h-0.8z M483.8,648.7h0.8v0.8h-0.8z M477.0,655.7h0.8v0.8h-0.8z M488.9,650.8h0.8v0.8h-0.8z M474.3,655.1h0.8v0.8h-0.8z M479.3,647.2h0.8v0.8h-0.8z M465.5,661.0h0.8v0.8h-0.8z M483.6,642.8h0.8v0.8h-0.8z M495.1,643.3h0.8v0.8h-0.8z M481.3,649.8h0.8v0.8h-0.8z M474.2,655.5h0.8v0.8h-0.8z M482.7,648.6h0.8v0.8h-0.8z M491.0,639.3h0.8v0.8h-0.8z M475.0,662.1h0.8v0.8h-0.8z M478.1,652.0h0.8v0.8h-0.8z M495.2,635.8h0.8v0.8h-0.8z M494.1,646.9h0.8v0.8h-0.8z M478.1,657.2h0.8v0.8h-0.8z M477.8,657.0h0.8v0.8h-0.8z M493.3,645.5h0.8v0.8h-0.8z M469.5,656.9h0.8v0.8h-0.8z M472.1,661.2h0.8v0.8h-0.8z M480.4,654.3h0.8v0.8h-0.8z M483.7,651.5h0.8v0.8h-0.8z M482.6,653.6h0.8v0.8h-0.8z M490.0,642.9h0.8v0.8h-0.8z M493.2,645.5h0.8v0.8h-0.8z M476.6,655.3h0.8v0.8h-0.8z M475.1,650.2h0.8v0.8h-0.8z M494.9,638.8h0.8v0.8h-0.8z M472.0,654.0h0.8v0.8h-0.8z M489.7,643.0h0.8v0.8h-0.8z M489.5,647.5h0.8v0.8h-0.8z M494.9,642.7h0.8v0.8h-0.8z M485.0,647.6h0.8v0.8h-0.8z M469.6,658.6h0.8v0.8h-0.8z M485.8,646.4h0.8v0.8h-0.8z M480.8,652.3h0.8v0.8h-0.8z M474.7,658.7h0.8v0.8h-0.8z M471.3,658.8h0.8v0.8h-0.8z M474.5,656.3h0.8v0.8h-0.8z M469.1,657.3h0.8v0.8h-0.8z M465.7,660.5h0.8v0.8h-0.8z M493.0,642.0h0.8v0.8h-0.8z M496.7,645.7h0.8v0.8h-0.8z M499.7,640.2h0.8v0.8h-0.8z M488.9,650.2h0.8v0.8h-0.8z M484.6,647.2h0.8v0.8h-0.8z M470.5,658.9h0.8v0.8h-0.8z M466.6,659.1h0.8v0.8h-0.8z M493.2,645.0h0.8v0.8h-0.8z M486.1,647.4h0.8v0.8h-0.8z M487.3,646.0h0.8v0.8h-0.8z M491.2,645.4h0.8v0.8h-0.8z M492.4,644.5h0.8v0.8h-0.8z M492.1,647.8h0.8v0.8h-0.8z M484.6,648.9h0.8v0.8h-0.8z M494.9,638.1h0.8v0.8h-0.8z M489.3,643.5h0.8v0.8h-0.8z M492.3,636.1h0.8v0.8h-0.8z M483.3,646.7h0.8v0.8h-0.8z M482.5,653.0h0.8v0.8h-0.8z M468.4,662.2h0.8v0.8h-0.8z M483.7,648.6h0.8v0.8h-0.8z M481.4,647.5h0.8v0.8h-0.8z M495.4,641.6h0.8v0.8h-0.8z M496.5,637.7h0.8v0.8h-0.8z M467.0,661.2h0.8v0.8h-0.8z M469.6,657.2h0.8v0.8h-0.8z M474.8,658.2h0.8v0.8h-0.8z M492.4,641.8h0.8v0.8h-0.8z M476.5,660.5h0.8v0.8h-0.8z M486.3,643.0h0.8v0.8h-0.8z M486.5,651.5h0.8v0.8h-0.8z M495.7,640.0h0.8v0.8h-0.8z M475.1,656.0h0.8v0.8h-0.8z M477.5,651.5h0.8v0.8h-0.8z M465.0,657.6h0.8v0.8h-0.8z M480.0,649.9h0.8v0.8h-0.8z M490.5,646.2h0.8v0.8h-0.8z M483.7,651.5h0.8v0.8h-0.8z M482.5,654.6h0.8v0.8h-0.8z M496.7,644.2h0.8v0.8h-0.8z M490.4,637.7h0.8v0.8h-0.8z M472.6,653.4h0.8v0.8h-0.8z M499.3,635.8h0.8v0.8h-0.8z M491.7,644.9h0.8v0.8h-0.8z M473.4,656.6h0.8v0.8h-0.8z M477.4,653.0h0.8v0.8h-0.8z M488.3,643.7h0.8v0.8h-0.8z M482.1,650.9h0.8v0.8h-0.8z M489.9,647.8h0.8v0.8h-0.8z M485.4,646.0h0.8v0.8h-0.8z M494.7,644.6h0.8v0.8h-0.8z M478.4,657.2h0.8v0.8h-0.8z M472.9,653.4h0.8v0.8h-0.8z M500.4,640.7h0.8v0.8h-0.8z M497.6,637.9h0.8v0.8h-0.8z M466.4,659.3h0.8v0.8h-0.8z M481.0,652.7h0.8v0.8h-0.8z M481.9,655.8h0.8v0.8h-0.8z M479.6,655.2h0.8v0.8h-0.8z M476.7,648.3h0.8v0.8h-0.8z M487.5,645.0h0.8v0.8h-0.8z M476.4,649.6h0.8v0.8h-0.8z M470.8,655.0h0.8v0.8h-0.8z M492.4,646.8h0.8v0.8h-0.8z M482.1,640.7h0.8v0.8h-0.8z M474.1,648.7h0.8v0.8h-0.8z M475.3,661.8h0.8v0.8h-0.8z M479.4,648.6h0.8v0.8h-0.8z M497.3,642.4h0.8v0.8h-0.8z M493.5,640.2h0.8v0.8h-0.8z M473.6,658.9h0.8v0.8h-0.8z M487.5,650.6h0.8v0.8h-0.8z M493.2,644.4h0.8v0.8h-0.8z M497.6,641.5h0.8v0.8h-0.8z M470.8,658.2h0.8v0.8h-0.8z M475.5,659.1h0.8v0.8h-0.8z M478.7,657.9h0.8v0.8h-0.8z M476.1,655.4h0.8v0.8h-0.8z M485.6,644.6h0.8v0.8h-0.8z M475.5,652.6h0.8v0.8h-0.8z M467.8,660.4h0.8v0.8h-0.8z M473.6,656.8h0.8v0.8h-0.8z M484.8,645.6h0.8v0.8h-0.8z M489.5,648.3h0.8v0.8h-0.8z M468.1,660.9h0.8v0.8h-0.8z M483.4,650.6h0.8v0.8h-0.8z M493.9,647.8h0.8v0.8h-0.8z M489.6,649.5h0.8v0.8h-0.8z M488.5,644.2h0.8v0.8h-0.8z M493.1,649.2h0.8v0.8h-0.8z M484.6,655.1h0.8v0.8h-0.8z M495.5,644.6h0.8v0.8h-0.8z M477.8,653.6h0.8v0.8h-0.8z" fill="#444"/>
<path d="M480.6,652.7h0.9v0.9h-0.9z M469.5,660.0h0.9v0.9h-0.9z M467.5,658.9h0.9v0.9h-0.9z M469.9,660.5h0.9v0.9h-0.9z M485.6,649.1h0.9v0.9h-0.9z M479.1,652.9h0.9v0.9h-0.9z M476.6,653.8h0.9v0.9h-0.9z M471.5,658.2h0.9v0.9h-0.9z M475.7,656.7h0.9v0.9h-0.9z M467.0,660.1h0.9v0.9h-0.9z M470.6,658.1h0.9v0.9h-0.9z M478.4,654.0h0.9v0.9h-0.9z M479.3,653.3h0.9v0.9h-0.9z M475.1,658.0h0.9v0.9h-0.9z M467.9,655.6h0.9v0.9h-0.9z M474.6,653.9h0.9v0.9h-0.9z M484.0,649.4h0.9v0.9h-0.9z M476.2,653.8h0.9v0.9h-0.9z M472.4,658.9h0.9v0.9h-0.9z M476.3,655.7h0.9v0.9h-0.9z M484.2,650.3h0.9v0.9h-0.9z M477.7,651.6h0.9v0.9h-0.9z M472.0,659.7h0.9v0.9h-0.9z M477.5,651.0h0.9v0.9h-0.9z M490.1,645.2h0.9v0.9h-0.9z M486.9,653.3h0.9v0.9h-0.9z M475.6,656.8h0.9v0.9h-0.9z M478.3,653.5h0.9v0.9h-0.9z M478.4,659.8h0.9v0.9h-0.9z M469.7,661.6h0.9v0.9h-0.9z M487.1,650.6h0.9v0.9h-0.9z M469.5,658.2h0.9v0.9h-0.9z M470.4,660.1h0.9v0.9h-0.9z M466.5,661.1h0.9v0.9h-0.9z M488.0,646.2h0.9v0.9h-0.9z M486.8,650.5h0.9v0.9h-0.9z M478.9,653.2h0.9v0.9h-0.9z M478.5,657.3h0.9v0.9h-0.9z M478.0,656.6h0.9v0.9h-0.9z M471.6,656.1h0.9v0.9h-0.9z M485.8,648.8h0.9v0.9h-0.9z M478.1,655.0h0.9v0.9h-0.9z M489.7,651.5h0.9v0.9h-0.9z M482.1,652.0h0.9v0.9h-0.9z M483.8,652.8h0.9v0.9h-0.9z M481.9,654.1h0.9v0.9h-0.9z M480.2,652.3h0.9v0.9h-0.9z M485.5,653.0h0.9v0.9h-0.9z M479.9,653.3h0.9v0.9h-0.9z M470.0,656.3h0.9v0.9h-0.9z M469.2,655.4h0.9v0.9h-0.9z M472.6,660.7h0.9v0.9h-0.9z M483.4,649.8h0.9v0.9h-0.9z M475.2,655.0h0.9v0.9h-0.9z M468.1,660.6h0.9v0.9h-0.9z M480.3,651.4h0.9v0.9h-0.9z M483.4,649.5h0.9v0.9h-0.9z M487.6,644.9h0.9v0.9h-0.9z M487.5,648.4h0.9v0.9h-0.9z M486.1,648.6h0.9v0.9h-0.9z M476.0,656.0h0.9v0.9h-0.9z M481.5,652.1h0.9v0.9h-0.9z M482.8,653.7h0.9v0.9h-0.9z M470.0,658.6h0.9v0.9h-0.9z M466.0,659.5h0.9v0.9h-0.9z M487.9,649.4h0.9v0.9h-0.9z M481.8,650.9h0.9v0.9h-0.9z M485.3,654.5h0.9v0.9h-0.9z M471.6,657.1h0.9v0.9h-0.9z M470.9,655.2h0.9v0.9h-0.9z M484.7,651.9h0.9v0.9h-0.9z M481.9,657.8h0.9v0.9h-0.9z M482.7,651.4h0.9v0.9h-0.9z M467.2,660.1h0.9v0.9h-0.9z M484.1,653.4h0.9v0.9h-0.9z M486.9,648.9h0.9v0.9h-0.9z M471.0,656.9h0.9v0.9h-0.9z M488.4,647.9h0.9v0.9h-0.9z M469.6,657.6h0.9v0.9h-0.9z M480.0,650.6h0.9v0.9h-0.9z M470.6,659.4h0.9v0.9h-0.9z M479.0,653.0h0.9v0.9h-0.9z M473.2,659.9h0.9v0.9h-0.9z M474.8,657.6h0.9v0.9h-0.9z M473.2,654.8h0.9v0.9h-0.9z M478.7,654.4h0.9v0.9h-0.9z M469.6,659.0h0.9v0.9h-0.9z M479.7,653.1h0.9v0.9h-0.9z M469.5,659.2h0.9v0.9h-0.9z M490.3,648.6h0.9v0.9h-0.9z M469.7,657.0h0.9v0.9h-0.9z M468.2,657.9h0.9v0.9h-0.9z M470.0,656.9h0.9v0.9h-0.9z M478.5,654.7h0.9v0.9h-0.9z M477.0,658.6h0.9v0.9h-0.9z M479.9,655.8h0.9v0.9h-0.9z M469.0,660.7h0.9v0.9h-0.9z M472.9,658.3h0.9v0.9h-0.9z M477.4,654.9h0.9v0.9h-0.9z M489.0,650.4h0.9v0.9h-0.9z M489.1,650.1h0.9v0.9h-0.9z M477.1,655.1h0.9v0.9h-0.9z M473.9,657.5h0.9v0.9h-0.9z M465.4,660.1h0.9v0.9h-0.9z M479.7,656.9h0.9v0.9h-0.9z M479.8,652.5h0.9v0.9h-0.9z M477.1,655.8h0.9v0.9h-0.9z M480.6,651.3h0.9v0.9h-0.9z M473.6,657.6h0.9v0.9h-0.9z M485.4,654.6h0.9v0.9h-0.9z M469.4,657.6h0.9v0.9h-0.9z M473.4,652.8h0.9v0.9h-0.9z M486.7,650.5h0.9v0.9h-0.9z M478.6,655.4h0.9v0.9h-0.9z M492.8,645.8h0.9v0.9h-0.9z M469.7,660.2h0.9v0.9h-0.9z M489.4,649.1h0.9v0.9h-0.9z M464.6,656.6h0.9v0.9h-0.9z M483.6,653.1h0.9v0.9h-0.9z M478.7,655.1h0.9v0.9h-0.9z M467.9,660.5h0.9v0.9h-0.9z M474.2,656.1h0.9v0.9h-0.9z M473.1,654.5h0.9v0.9h-0.9z M478.6,653.5h0.9v0.9h-0.9z M476.5,656.4h0.9v0.9h-0.9z M465.2,659.2h0.9v0.9h-0.9z M493.0,650.8h0.9v0.9h-0.9z M470.8,658.0h0.9v0.9h-0.9z M482.4,648.5h0.9v0.9h-0.9z M488.2,652.2h0.9v0.9h-0.9z M485.6,648.8h0.9v0.9h-0.9z M466.8,658.4h0.9v0.9h-0.9z M485.4,649.9h0.9v0.9h-0.9z M478.3,652.0h0.9v0.9h-0.9z M482.2,653.6h0.9v0.9h-0.9z M471.6,654.3h0.9v0.9h-0.9z M468.9,658.0h0.9v0.9h-0.9z M474.8,656.7h0.9v0.9h-0.9z M487.7,651.8h0.9v0.9h-0.9z M473.7,655.9h0.9v0.9h-0.9z M490.8,647.1h0.9v0.9h-0.9z M484.3,654.2h0.9v0.9h-0.9z M470.2,660.9h0.9v0.9h-0.9z M489.5,649.5h0.9v0.9h-0.9z M469.3,661.2h0.9v0.9h-0.9z" fill="#111"/>
<path d="M463.7,660.8h1.0v1.0h-1.0z M466.0,660.0h1.0v1.0h-1.0z M466.9,659.1h1.0v1.0h-1.0z M464.3,662.0h1.0v1.0h-1.0z M464.2,659.6h1.0v1.0h-1.0z M466.0,660.8h1.0v1.0h-1.0z M466.0,661.5h1.0v1.0h-1.0z M465.7,660.4h1.0v1.0h-1.0z M465.6,661.2h1.0v1.0h-1.0z M465.0,662.2h1.0v1.0h-1.0z M465.0,660.3h1.0v1.0h-1.0z M464.9,661.9h1.0v1.0h-1.0z M465.3,661.2h1.0v1.0h-1.0z" fill="#111"/>
</svg></body></html>
